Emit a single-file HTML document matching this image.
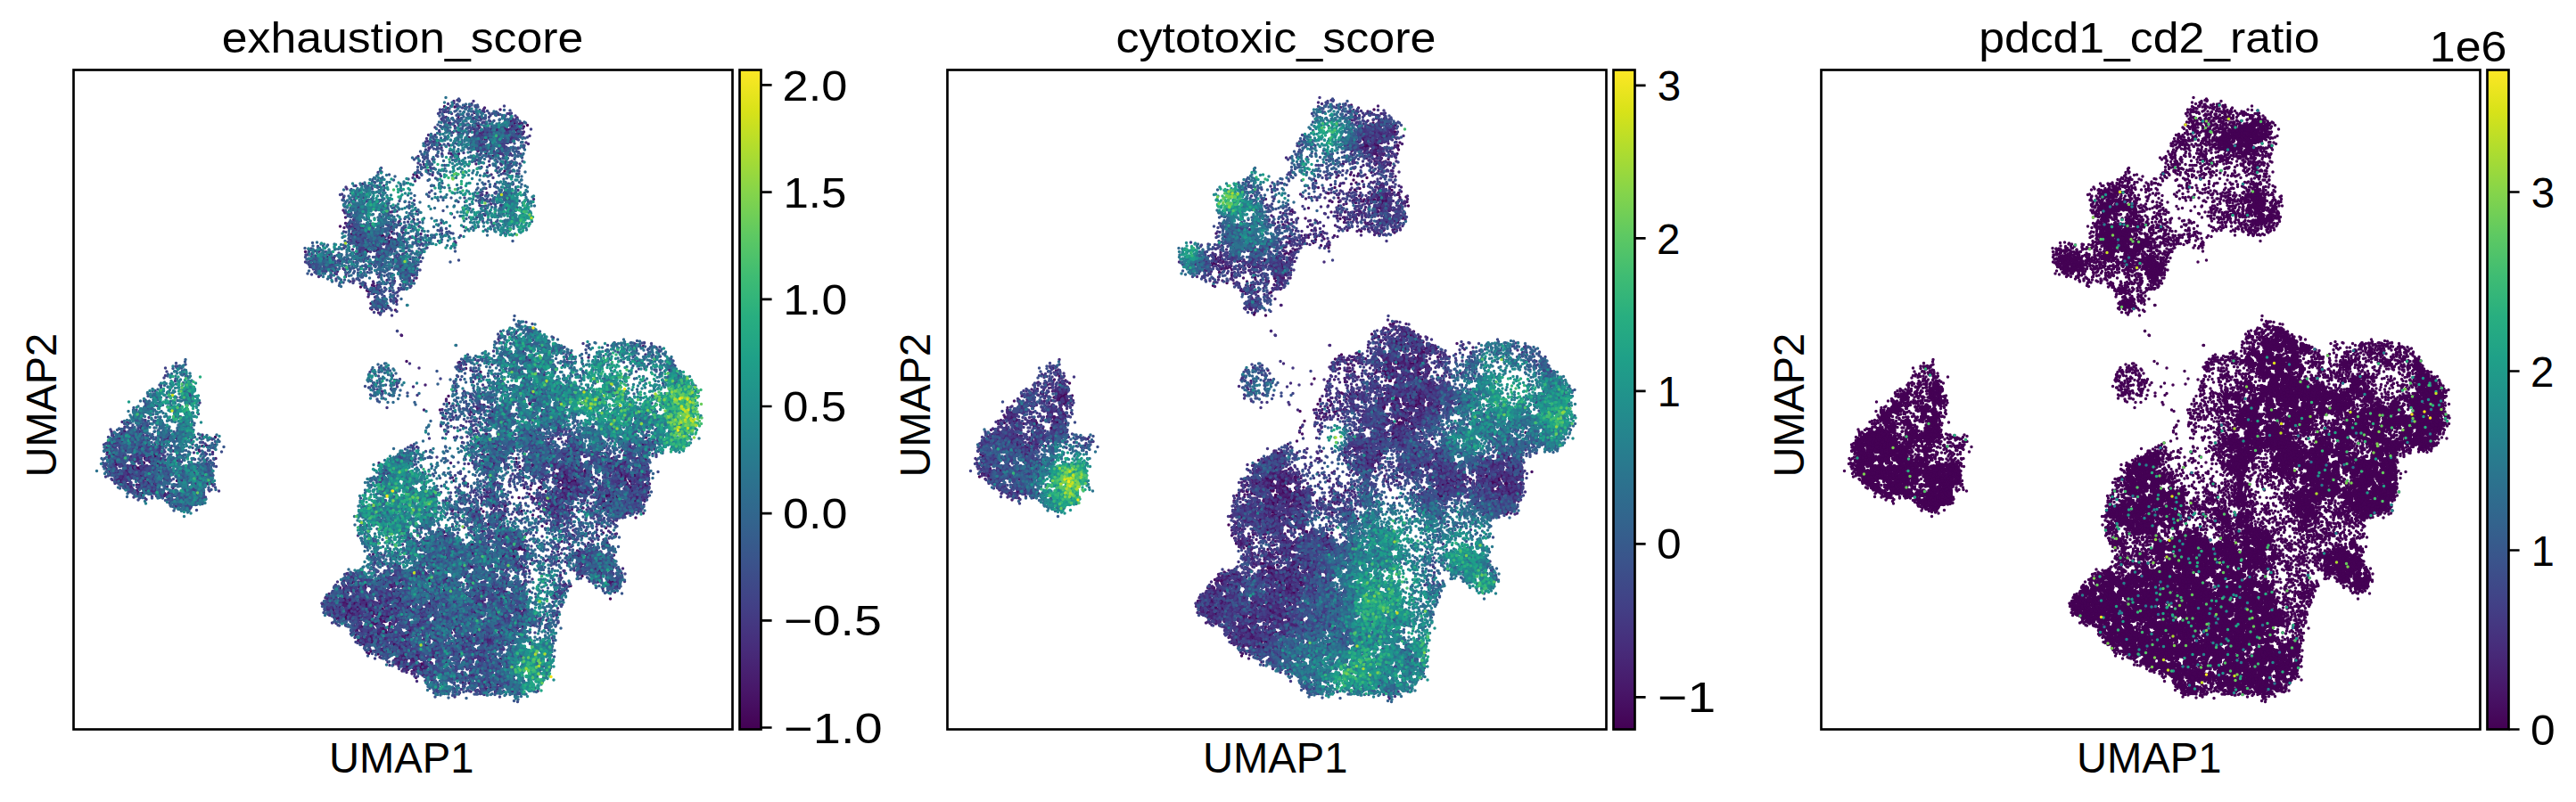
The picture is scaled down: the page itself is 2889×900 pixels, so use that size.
<!DOCTYPE html><html><head><meta charset="utf-8"><title>UMAP</title><style>html,body{margin:0;padding:0;background:#fff}svg{display:block}text{font-family:"Liberation Sans",sans-serif;font-size:47.5px;fill:#000}</style></head><body>
<svg width="2889" height="900" viewBox="0 0 2889 900">
<defs><linearGradient id="vg" x1="0" y1="0" x2="0" y2="1"><stop offset="0.0000" stop-color="#fde725"/><stop offset="0.0625" stop-color="#d8e219"/><stop offset="0.1250" stop-color="#addc30"/><stop offset="0.1875" stop-color="#84d44b"/><stop offset="0.2500" stop-color="#5ec962"/><stop offset="0.3125" stop-color="#3fbc73"/><stop offset="0.3750" stop-color="#28ae80"/><stop offset="0.4375" stop-color="#1fa088"/><stop offset="0.5000" stop-color="#21918c"/><stop offset="0.5625" stop-color="#26828e"/><stop offset="0.6250" stop-color="#2c728e"/><stop offset="0.6875" stop-color="#33638d"/><stop offset="0.7500" stop-color="#3b528b"/><stop offset="0.8125" stop-color="#424086"/><stop offset="0.8750" stop-color="#472d7b"/><stop offset="0.9375" stop-color="#48186a"/><stop offset="1.0000" stop-color="#440154"/></linearGradient></defs>
<rect width="2889" height="900" fill="#fff"/>
<g transform="translate(0 0)">
<rect x="82.5" y="78.5" width="739" height="740" fill="none" stroke="#000" stroke-width="2.67"/>
<rect x="829.5" y="78.5" width="24" height="740" fill="url(#vg)" stroke="#000" stroke-width="2.67"/>
<path d="M853.5 95.4h12.1M853.5 215.6h12.1M853.5 335.8h12.1M853.5 456.0h12.1M853.5 576.1h12.1M853.5 696.3h12.1M853.5 816.5h12.1" stroke="#000" stroke-width="2.67" fill="none"/>
</g>
<g transform="translate(980 0)">
<rect x="82.5" y="78.5" width="739" height="740" fill="none" stroke="#000" stroke-width="2.67"/>
<rect x="829.5" y="78.5" width="24" height="740" fill="url(#vg)" stroke="#000" stroke-width="2.67"/>
<path d="M853.5 95.9h12.1M853.5 267.4h12.1M853.5 438.9h12.1M853.5 610.3h12.1M853.5 782.3h12.1" stroke="#000" stroke-width="2.67" fill="none"/>
</g>
<g transform="translate(1960 0)">
<rect x="82.5" y="78.5" width="739" height="740" fill="none" stroke="#000" stroke-width="2.67"/>
<rect x="829.5" y="78.5" width="24" height="740" fill="url(#vg)" stroke="#000" stroke-width="2.67"/>
<path d="M853.5 215.5h12.1M853.5 416.5h12.1M853.5 617.5h12.1M853.5 818.5h12.1" stroke="#000" stroke-width="2.67" fill="none"/>
</g>
<defs><clipPath id="pc"><rect x="84" y="80" width="736" height="737"/></clipPath>
<path id="ad0" d="M797 515zm92 34zm-43 12zm12-31zm6 10zm9 3zm30 79zm-571 367zm-77 32zm5 21zm41-7zm11 16zm-5 0zm-8-1zm0-3zm-7 6zm-19 25zm-8-19zm20 29zm34 20zm27-5zm-14-19zm-9-35zm25-25zm7 16zm617 433zm-7 38zm-50-14zm-19-4zm6-18zm22 1zm5 6zm14 13zm-6-1zm9-3zm0 9zm7-1zm-13-29zm-31-47zm61-7zm6 20zm-3-92zm25-17zm5-27zm-40 3zm-8-15zm-16-1zm-34 31zm-7 28zm47 20zm14 5zm-81 8zm-7 6zm-7 9zm-21 6zm-4-24zm14 12zm4-4zm0-17zm-3 5zm-7 1zm-12-1zm3-9zm16-7zm19-6zm14 15zm-2-38zm6 0zm-27-21zm-17-3zm-40 15zm-18-11zm-4 8zm3 2zm7 3zm-16 11zm-6 14zm5 9zm5 17zm6 4zm5-21zm-2 1zm-8-9zm26-1zm8 1zm3 10zm9 14zm-15 0zm-12-8zm-1 26zm7 3zm21 2zm-21 13zm-22-17zm-11-3zm2-8zm-3 10zm21 21zm35 21zm-14 1zm-5-1zm-9-22zm31 5zm15 9zm1-3zm10-8zm5 9zm19 26zm10 7zm-32 13zm-29-25zm59 35zm-131-113zm-14 5zm-5-3zm227-112zm5 21zm29-26zm95-219zm0 9zm-40 183zm92 12zm-4-18zm18 16zm2-2zm-14 12zm1 8zm9 6zm100-98zm-7-21zm24-19zm-3-18zm1-5zm-4-1zm-9 4zm2 0zm-15-1zm11 19zm-12 4zm-10-15zm-7 39zm-23-81zm18-26zm14-5zm0 21zm16 17zm-7 12zm12-8zm6 0zm-4 8zm11 1zm-9-16zm2-8zm44-1zm-2 11zm-23 3zm2 9zm-8 3zm0 5zm-1 15zm21 0zm39 24zm23-17zm-4 3zm-6 13zm-2 9zm3 6zm16-2zm-2-13zm15-11zm-7 2zm6-22zm18-22zm5-10zm-12-1zm0 3zm-4 20zm-31-59zm20 20zm30 16zm4 9zm1 8zm12-2zm7-2zm-7-9zm-2 1zm11 24zm-4 8zm-13 2zm4-12zm-7 5zm1 28zm-48 182zm7 2zm-205 73zm-46-29zm11-8zm-39-52zm8 27zm11 19zm-43 7zm-6-3zm6-18zm12 5zm-39 7zm22 19zm-30 43zm1 35zm17 31zm11-38zm32 0zm28-8zm-3 64zm-66 35zm-26-37zm70 63zm342-545zm-150 15zm-59 10zm-4-23zm-42-26zm6 33zm11 10zm-99-92zm-17-611zm66-37zm3 16z"/>
<path id="as0" d="M997 239zm23 1zm-24 11zm20 46zm-26 35zm-3-7zm-51 72zm-1-3zm-7 99zm-53 16zm-92-2zm-34 71zm39-52zm11 25zm80-30zm-8 7zm7 6zm13 209zm-45-86zm-12 37zm-7-40zm-4-2zm-14-8zm198 261zm-524 93zm-20 2zm-9 1zm29-20zm-37 28zm-167-41zm-38 48zm-2 27zm67 35zm-6 22zm629 405zm-54-106zm-77 27zm10 18zm19 23zm43-59zm3 6zm-25 54zm-16-6zm-109-107zm30 34zm262-245zm3-65zm26 7zm99 2zm-10 48zm-49 12zm21 58zm-8 4zm83-11zm-2 36zm45-81zm2-51zm-17 39zm-38 5zm-6-30zm34 2zm11-24zm4-2zm-39-21zm-9-9zm1-16zm-8-10zm0-8zm84 45zm86-2zm-17 51zm143-18zm-170 47zm-4 15zm26 126zm-26 22zm89 29zm-180 98zm-152 90zm74 21zm338-571zm-174 10zm-45-8zm-152-149zm-33-8zm-13 2zm-1-16zm133-83zm-32-346zm-27-33zm-53-42zm-24-44zm91-8zm64 24zm-23 31z"/>
<path id="ad1" d="M812 535zm-3-7zm-5 19zm20 16zm-18 9zm65-58zm-14 171zm-513 334zm-30-13zm-10-9zm-53 51zm57-23zm7 4zm3 32zm-2 9zm-43 14zm13-22zm-19 12zm0 9zm47 6zm15 12zm39 7zm-10-47zm-15 26zm-21-48zm4-10zm90 36zm537 450zm-42-18zm-12-9zm8-7zm-9-1zm8-7zm25 22zm19-2zm1 2zm3 1zm3-47zm-25 21zm-6-7zm-19 4zm2-16zm-13-1zm26-4zm-7-21zm-1 5zm-10-3zm13-14zm2 2zm34 18zm40-55zm-31-21zm2-2zm15-40zm-7 26zm-20-55zm-56 16zm0 32zm0 9zm5 13zm15 8zm33 21zm-17 21zm-7 0zm-33-22zm-5 4zm-19-2zm-13 8zm-21 5zm6 0zm21-15zm-28-26zm35-10zm-3 15zm13 4zm17-14zm-6-9zm-10-28zm7-7zm-32-5zm8-14zm-11 5zm-16 18zm-2 24zm-52-16zm18-5zm-25 22zm-2 14zm10 21zm8-7zm-3-2zm7 4zm-2-10zm15 0zm0-4zm14-2zm1 11zm-15 3zm-6 4zm1 0zm5 10zm1 7zm10-5zm6 24zm-35-14zm-2-16zm1 9zm35 49zm-18-1zm-5-17zm11-8zm16 13zm6 11zm1 7zm10-9zm7-13zm3-9zm3 3zm17 10zm7-2zm-12 32zm21-3zm-14 10zm-24 0zm43 29zm-136-100zm6-14zm-19-12zm16-41zm125-70zm134-5zm-12-17zm-14-34zm1 11zm-74-172zm168 16zm19-9zm-2 47zm1 47zm-41 16zm-18-2zm8 124zm23-12zm-19-18zm68 6zm-5 15zm5-22zm19-14zm-32-65zm37 35zm3 11zm16 24zm63-77zm7-3zm12 7zm-5-21zm12 3zm-11-12zm21-16zm-2-7zm-32 4zm3 25zm-6 0zm3 7zm5 2zm-47-100zm37-16zm13 44zm18-12zm-14 5zm11 12zm4 7zm9-5zm4-35zm-20 9zm17-29zm17 5zm-9 18zm13-2zm-7-1zm36 0zm0 16zm-28 3zm-4 7zm-5 13zm-1-3zm10 9zm1 0zm15 15zm5 3zm12-7zm12 0zm34 3zm-8 9zm39 39zm0-65zm-1-2zm-3-5zm0-11zm-9 2zm-9 7zm-16-26zm1-9zm-3-2zm7-3zm12-1zm18-1zm15 50zm30-53zm0 56zm-2 2zm-6 7zm-1 20zm-9-3zm-6 11zm-76 132zm-65-55zm42 62zm-28-16zm15 35zm26 5zm34 29zm-3-9zm-24-26zm-185 84zm14 10zm-43 19zm13-44zm-14-25zm-44 6zm-21-7zm16 27zm-15 22zm-35 94zm41-6zm9-18zm5-6zm2 91zm-53-15zm57 33zm23-3zm172-550zm-66 2zm55-12zm-87-78zm1 73zm-99-4zm89-172zm-4 46zm26 20zm-119-574zm-7 6zm67-9zm4-19z"/>
<path id="as1" d="M1005 243zm-45 140zm-32 9zm-32 105zm-125-55zm10 60zm-18 6zm-18 100zm-37 2zm-23-45zm89 40zm99-88zm-1 16zm91 11zm-29 80zm-8-6zm1 12zm-26 123zm-14-57zm-48-54zm-4-2zm-3 41zm80 130zm94 78zm-19 31zm14-24zm-8 42zm-708 11zm32 164zm-10-12zm71 5zm-6 6zm25-33zm65-45zm13 51zm-87 10zm578 392zm-33 34zm-26-21zm-21-93zm-2-9zm5-3zm-14 6zm-2 5zm-96-118zm40 158zm-14-7zm62-24zm8-3zm135-286zm132-76zm3 30zm-51 24zm-2 11zm5 0zm41 18zm-16 3zm-8 7zm-26-44zm-52 19zm61 59zm34-20zm66-1zm13 4zm6 5zm-48 103zm5 3zm-2 0zm91-56zm-44-34zm10-6zm52-23zm-2-6zm-53-27zm-47-24zm15-5zm-4 19zm5 6zm91 24zm55-2zm34-108zm74 93zm-20 40zm-73 34zm6-11zm-19 20zm-20-8zm-34-7zm9 46zm4 2zm-73 154zm32-34zm12-36zm-3-12zm-79 17zm-15-14zm37 77zm233-613zm-123 25zm76 207zm-176-30zm-126 42zm-11-1zm-8-9zm-39-29zm27-53zm-4-5zm12-7zm-38-97zm112-454zm-44-46zm-11 25zm-61 0zm35-55zm-5-22zm10 12zm4 1zm102 3zm-111-31zm-22-16z"/>
<path id="ad2" d="M852 509zm-89 76zm-29-7zm-9 2zm74-38zm28 12zm-6 7zm-11 11zm74 12zm2-45zm11 37zm-502 406zm-36 14zm16-13zm-10 5zm-82 22zm-12-36zm44-4zm3-9zm0-3zm-63 40zm-2 3zm-6 57zm-1-30zm12 11zm20 5zm7 11zm0-5zm30-12zm-26 25zm8 3zm-22 9zm12-6zm-11 0zm-11-7zm-5-2zm0 11zm3 5zm30 14zm29 7zm27-6zm26-25zm-25 15zm-16-10zm-2-10zm-2-29zm5-7zm2 11zm24-6zm37 2zm68 53zm-47 47zm562 420zm19-67zm-33-12zm-7 21zm6 12zm3 20zm-23-19zm3 8zm-41-27zm2-1zm1-7zm-8-1zm21 2zm16-8zm0 4zm-8 20zm7-3zm16 6zm-20-38zm-14-2zm-20 10zm-4 0zm2-16zm13-14zm9-7zm-23-2zm8-3zm3 3zm26-7zm15 1zm-3-11zm18 17zm9 36zm3-7zm4 10zm-2-19zm24 20zm17-6zm-4-6zm-11-46zm18 5zm-3-5zm-20-23zm-5 15zm-19-13zm-6-13zm21-19zm-11 0zm-2-8zm26-1zm-12 6zm6-36zm24-21zm-22 3zm-28 13zm3 18zm-29-15zm-31 42zm10-13zm26 7zm-10 17zm2 11zm11 0zm-10 10zm8 2zm-15 7zm-17 3zm-16-29zm-2 19zm8 6zm-21-24zm-31 27zm-2-9zm-7 4zm-14-16zm10-5zm8 7zm-1-38zm3 7zm12-9zm3 15zm23-20zm-12-9zm-1 12zm-5 0zm-10-11zm14 1zm-5-20zm11 0zm-1-20zm-27 45zm-3 0zm-4 3zm-18-11zm-27 2zm0-6zm14-14zm0 6zm-10-7zm-14-14zm-24 17zm4 2zm-3 6zm0 6zm5 22zm-3 7zm0 3zm2 3zm23 5zm-3-8zm-11-16zm16 8zm9-5zm16 6zm5 14zm-4 1zm-7 5zm-19 3zm-1 1zm10 6zm-1-6zm-13 1zm-4 2zm-23-1zm50 62zm6-2zm-7-3zm-7-4zm2-16zm0 3zm7-1zm18-5zm-3 12zm18-1zm-3 11zm13-2zm-12-12zm41 17zm-27 13zm11 17zm3-5zm-13-2zm-8-4zm1 2zm-10-19zm45 34zm-6 6zm-137-102zm5-1zm8-5zm-9-12zm-19 8zm6-5zm-6-19zm15 3zm15 11zm0-8zm103-288zm59 215zm9-3zm52-56zm-7 36zm21 1zm-5-17zm-2-5zm4-29zm87-157zm21 35zm-6 23zm-46 40zm7 14zm21 33zm-34 73zm32-23zm-11 0zm-6-13zm36 47zm24-21zm2 23zm2-74zm-10 0zm-3-35zm-7-8zm13 7zm2 13zm38 29zm-6 21zm5-10zm17 21zm-21-9zm2 27zm-2 7zm122-60zm-30-52zm1 22zm9-8zm-1-23zm-10-22zm19-4zm6-1zm-2-11zm-4 0zm2-11zm-9 5zm-10-9zm2 7zm11 4zm-20 0zm3 7zm-12 12zm6 10zm-4 0zm9 5zm-53-79zm-6-26zm58 9zm3 26zm8-4zm-5 8zm3 6zm15-5zm11 4zm-1-11zm-6 3zm3 1zm-10-1zm23-44zm-1 9zm10 15zm42-4zm-27 18zm11 2zm-27 11zm13-8zm-17-8zm-8-2zm11 27zm-1 17zm-6-13zm9 22zm11-5zm-15-2zm-8 0zm-5 17zm63-4zm-28-11zm-2-6zm52 46zm11-39zm20-51zm-6 3zm0 18zm-8 5zm-15-15zm2-31zm14-2zm-4 18zm8-4zm3 5zm3-10zm9-2zm7-11zm9-3zm12 3zm-9 15zm-13 23zm26 18zm1-26zm16-4zm-8 9zm1 7zm-4-25zm8-3zm-7 77zm10-30zm-9 0zm2 17zm-15 11zm5-21zm-15 13zm-9 9zm21 7zm-8 14zm-62 77zm-45 25zm3 7zm17 27zm-32-3zm1-9zm-1-15zm-19-2zm42 37zm14 20zm45 11zm-21-10zm-17-19zm-188 122zm88-30zm-8 3zm3-45zm-82 33zm5 0zm10-1zm-2 38zm-16-28zm-5 13zm-21-5zm-29-43zm22 0zm18 15zm-19-16zm14-33zm-9-11zm-38 28zm5-2zm17-6zm4 3zm-9-1zm-12 9zm-14 8zm-13-14zm-27 17zm-13 30zm49-25zm4 0zm-5 25zm-19 18zm-7-10zm-26 11zm24 49zm-23 7zm3-2zm10 9zm-13 7zm16 5zm8 2zm5-17zm-9 1zm10-11zm2 21zm16 8zm5-2zm17-47zm-2 17zm7-1zm0-5zm4-3zm3 5zm35-22zm-20 17zm-3 12zm0 8zm-25-7zm-2 11zm-4 29zm6 17zm7 4zm10-2zm26-26zm-23 61zm-27-22zm8 18zm6 4zm-14 0zm-25-16zm11-22zm13-19zm-7-1zm-4 5zm-10-7zm-23 20zm1-11zm392-463zm-10-25zm-72-2zm-10 20zm-35-38zm-1 26zm-36 15zm5-5zm0-7zm-4 2zm-27 5zm-14-111zm2 49zm-33-52zm13 81zm-5 11zm-119-13zm22 32zm-28-8zm3-5zm12-58zm34 11zm56-142zm-27 30zm-21-391zm-24-100zm-15-55zm-5 18zm18-18zm18-3zm3 23zm11 1zm2-2zm-11-18zm11-9zm0-15z"/>
<path id="as2" d="M1009 276zm11 7zm-13-6zm-45 55zm46-6zm4 19zm-81 61zm-54 70zm-64-63zm-43 59zm3 4zm18 26zm-16-14zm0 13zm-3 10zm-15 98zm-65-50zm16 4zm4 4zm63 54zm17 10zm41-39zm5 44zm39-19zm55-82zm12-10zm78 20zm-94 39zm-28 168zm-30-65zm8-13zm11 3zm-38-25zm-5-11zm-8 18zm11 43zm-23-36zm16 175zm33 46zm79-23zm-3 56zm65-11zm-90 96zm-449 10zm-1-29zm-29 27zm-59-1zm-119-49zm91-99zm-50 241zm-3-17zm3 8zm3 1zm60 13zm-5 3zm-41-37zm157-47zm-7 29zm535 437zm-110 11zm9-1zm13 7zm0-5zm-9-4zm-11 0zm30 0zm79-83zm-43-133zm-90 106zm-57 71zm18-3zm29 25zm12 6zm-144-159zm-8 9zm125-98zm-18 0zm99-54zm16 18zm30-15zm32-45zm-14-25zm15-51zm-4-33zm30 41zm8 6zm87 62zm-4 0zm-30-7zm-23 1zm-9-1zm-14-11zm24-14zm-26-3zm-22 8zm-4 29zm58 14zm-7 5zm17 54zm-4-35zm27-11zm-27-21zm40 7zm32-9zm11 117zm15-6zm-6-24zm69 18zm24-38zm-56-92zm3 12zm3 1zm-22-14zm-45 22zm30-52zm4 19zm14 2zm6-36zm-3-3zm-18 4zm-27-29zm50 20zm4 3zm-3 7zm23-19zm99 10zm-46 45zm-10 23zm25-4zm-3-1zm38 0zm114-53zm-24 62zm10 4zm-66 94zm3-47zm-14 9zm-23-32zm-56-18zm20 44zm7 25zm6-8zm-32 61zm91 49zm-27-8zm-94 21zm5-28zm13 2zm-9-30zm-10 5zm-80 14zm0-12zm-35-1zm-94 18zm99 141zm-95 82zm4 19zm412-544zm-20-212zm-68 202zm-11 19zm-19-8zm-97-24zm26-8zm-219 31zm2-40zm12-20zm2-9zm-37 18zm15-26zm1-6zm6-92zm-19-20zm62 5zm169-12zm-180-419zm-1 46zm56-71zm-80 6zm4-29zm-2-44zm6-9zm3-19zm81-3zm-1 3zm7 13zm-1-2zm2-3zm5 2zm-7 25zm-2-3zm-1 34zm-20-78zm-20-9zm-35-4z"/>
<path id="ad3" d="M804 465zm9 46zm-4-2zm-63 82zm47-72zm23 23zm-16-14zm5 28zm3 5zm-2 6zm-4 4zm-2 10zm81 4zm-4-26zm-7-12zm-1 22zm-17 6zm-5-18zm-5-4zm-6-6zm24 0zm-17-25zm53 15zm17 70zm-5-4zm6 27zm-71 18zm-7 3zm15 26zm-452 342zm-42-4zm2-10zm-1-5zm8-5zm15-15zm-46 25zm-4-7zm16 14zm-6 11zm-19-1zm-3-1zm-11-1zm5-17zm-7-2zm-31 21zm-17-26zm16-4zm-6-8zm24 4zm124-100zm-170 106zm7 10zm-12 1zm6 14zm-2 6zm17-1zm6 1zm-10 7zm7 9zm8 3zm29-15zm-6-4zm12 3zm3 3zm-4 2zm9 15zm-13-1zm-12 21zm10-2zm-1-9zm16-1zm-8 13zm-13 3zm-3 15zm-8-9zm-5-22zm-12 13zm4-2zm0 6zm17 26zm7-3zm31-5zm18 3zm3 7zm-5 2zm-2-2zm0-5zm18 5zm21-43zm-6 3zm-9 8zm1 3zm-20 5zm-21 7zm-3-4zm16-23zm7 0zm0-17zm1 5zm-19 3zm9-16zm21 12zm2 7zm49 27zm4-21zm30 50zm-28 5zm-18 24zm623 371zm-37-22zm-7 31zm-7 4zm-11-6zm-13-10zm-20-16zm-24-6zm4 0zm14-7zm10 12zm4-7zm-3 19zm24-13zm-18-41zm-25 20zm-8-9zm2-12zm-4-2zm9 5zm-10-28zm23 1zm5-4zm-4-7zm26 29zm7-20zm20-4zm7 13zm-5 11zm-6 27zm-1-4zm0-3zm3 1zm9 0zm0-18zm41-35zm-8-3zm8-27zm-16 13zm-14-7zm5 4zm-26-22zm7-14zm1 8zm21-3zm1 6zm16-11zm-20-21zm13-11zm-15-14zm-15-5zm2-18zm1 33zm4-2zm-23 23zm-6-4zm-17 12zm6-46zm6-10zm-16-7zm-4 13zm0 17zm-14-5zm5-13zm-28-8zm5 16zm17 17zm-3 19zm-10 15zm-9 3zm15 19zm8-3zm6 2zm-8-16zm40 17zm-14 0zm2 1zm8 9zm-10 13zm11-4zm-13 15zm-25-6zm-16-18zm9 21zm-43-26zm-2 12zm-11 10zm9-14zm-7-9zm6 0zm-28-15zm12 2zm-9-13zm-4-4zm21-3zm4 11zm-2-1zm13 2zm-5-4zm4 19zm7 3zm-2-10zm12 11zm10-6zm-2-9zm-5-5zm3 4zm-11-19zm-9 1zm-2-15zm13-13zm3 2zm-18-23zm-7 18zm-22 17zm5-5zm-1 3zm12-4zm-5 2zm8 5zm-40-6zm2-16zm2-7zm-10 7zm-15-1zm-10-9zm4-2zm-18 30zm27 3zm-10-1zm-2-5zm6 19zm-11 19zm-6 12zm17-5zm19-13zm-4-4zm13 0zm-4 3zm0 3zm10 9zm-25 13zm22 8zm-1 0zm-22 15zm6 4zm-11 3zm-3-16zm-6-7zm-15-6zm39 63zm18 17zm1-17zm-3-11zm-5 1zm1 7zm-14-6zm-4-10zm-2-13zm23 6zm11 13zm10 9zm4 1zm9-20zm-3 2zm-8-3zm4-4zm-4-3zm22 10zm18 10zm2 6zm-8-2zm-1 2zm-14-4zm3 1zm8 8zm8 14zm1 11zm-18-8zm-11-12zm-13 7zm-4-8zm48 43zm5 6zm-160-131zm5 17zm9-4zm15 10zm2-3zm-26-13zm17-19zm7 1zm-2-6zm-9-6zm-10 2zm118-281zm-26 159zm5 33zm48 13zm71-53zm-40-6zm-15-13zm54 68zm-14-29zm8-7zm37-4zm-21 18zm6 15zm3 0zm41 22zm-10-42zm13-4zm-24-23zm87-173zm16 17zm14-25zm18 3zm-25 82zm1 3zm12 32zm-9-25zm-37 25zm-13 4zm1 11zm12-5zm2 0zm-2 8zm11 31zm-60 41zm2 14zm22 4zm14-10zm11-19zm19 6zm-3 12zm6 11zm10 23zm5 0zm13-8zm27-16zm-3-3zm-9-15zm-8 7zm2-23zm14 1zm-3-15zm-9-7zm-33-25zm21-13zm46 39zm-11-5zm10 29zm-8 8zm2 39zm9-19zm67-100zm3 0zm15 0zm-6 11zm1 11zm1 9zm13-6zm1-32zm-18-4zm25-14zm6-14zm-14 3zm6-10zm6-17zm-6 0zm-14 14zm6-15zm-8 2zm0-2zm4 20zm-2 6zm-2 5zm-8-15zm-18 12zm4 13zm10 10zm-42-72zm14-13zm6-23zm-2 8zm20 4zm7 5zm-26-8zm-2 3zm51 39zm1-21zm2-5zm0 7zm5-8zm-5-7zm-4-2zm0 5zm-8-1zm-11-8zm8 2zm6 1zm3-13zm7 3zm9 5zm-2 10zm9 3zm14-12zm-2 5zm11-22zm25 0zm-41 60zm8-25zm-7 2zm-14-5zm5 28zm-5 1zm-2 6zm1 3zm10 4zm4-3zm14-2zm-10 6zm-2 6zm-4 5zm-11 6zm44 30zm11-32zm-12-9zm-4-6zm-4-3zm27-2zm9-3zm8 16zm3-2zm8 7zm-25 15zm5-7zm0 1zm16 16zm15 7zm8-11zm10-7zm2-19zm-24-10zm7-2zm17-3zm0-29zm-4-6zm1 4zm-2 4zm-13-8zm-7 8zm4 20zm-12-7zm-6-20zm-21-17zm5 0zm6 6zm-5-11zm0-6zm1-4zm30 6zm3 20zm14-12zm-3-2zm39-6zm4 10zm-5 12zm-23 8zm13-6zm-12 13zm12 11zm7-8zm23-10zm-4 4zm3-2zm1 3zm-3-18zm-1-14zm-6 3zm1 77zm-6-20zm-8-7zm-19 3zm8 23zm-2 3zm17 16zm-6 8zm-15-2zm-45 129zm-22 0zm7-41zm12-3zm25-71zm-46 5zm-45 87zm14 12zm28 2zm-26 19zm-15-10zm33 16zm38 30zm13-7zm-135 35zm-86-16zm-5 5zm-5 17zm0 16zm1 8zm7-1zm0-11zm14-3zm-7-4zm1 25zm1 4zm-8 12zm-30-13zm-5 4zm-7 17zm-27-10zm22-13zm-3-6zm-10-17zm29 0zm-10-3zm15 22zm12-1zm-4-24zm5-16zm-13-4zm-3 6zm-11-4zm5-3zm0-16zm8 2zm2-9zm-10 3zm-20-26zm11 50zm-48 1zm16-14zm-4-2zm-10-19zm-12-8zm-16-1zm-1 4zm24 54zm4-1zm1 19zm-13 8zm22 31zm-32-28zm-25 15zm15 18zm4 18zm12 3zm-7 3zm-9 21zm24-14zm0 21zm4-1zm19-27zm-1-4zm-12 0zm-5 6zm1-2zm15-20zm6 18zm6-1zm24-12zm31-9zm-1 5zm-17 24zm-2-4zm5 10zm7-4zm-20 15zm-18 14zm-1-26zm-8 7zm2-8zm-3 5zm-7 13zm7-2zm2 19zm12 16zm29 2zm-18-6zm11 42zm-13-6zm-12-8zm-48 6zm6-11zm12-8zm1-29zm-4-2zm-13 5zm11 9zm-10 14zm-25 22zm51 16zm-2 4zm33 0zm6-5zm25 13zm307-544zm9-15zm-22 10zm1 4zm-2 16zm-33-3zm6-4zm0-9zm-2-6zm86-173zm-94 184zm-2 6zm-2 4zm-73-7zm-33-27zm-8 12zm4 5zm9 2zm8 7zm-19-2zm-8 0zm-14 8zm-11-3zm5 0zm-27-2zm-15-19zm28-25zm8-14zm-3 2zm2-49zm-37 12zm-2 12zm-44 43zm0 10zm4-22zm15 2zm17 2zm-7 0zm-6 20zm-1-9zm0 23zm13 3zm-84-1zm9-36zm-37 27zm16 1zm9 3zm-47-8zm13-82zm-8-1zm42 35zm27-13zm-67-45zm103-12zm9 7zm-57-434zm-4-115zm-2-10zm-28 11zm2-2zm-34 1zm10-5zm-1-7zm8 7zm-7-12zm-3-5zm5-7zm1-6zm-52 0zm63-1zm58 15zm-8-14zm-1-3zm14-10zm1 21z"/>
<path id="as3" d="M1018 227zm-12 23zm-47 67zm32-30zm10-24zm9 35zm-32 20zm-17-15zm12 15zm-1 6zm-9 9zm53 15zm-53 15zm10 15zm-22-9zm-13-18zm7 40zm25 0zm0 2zm20 107zm-50 8zm-5-34zm-11 10zm-17 24zm-26 1zm9-35zm-112-50zm20-7zm-24 61zm14 30zm0 1zm5-16zm-9-12zm-6 26zm-27 108zm-36 6zm-12-29zm10-39zm3 11zm23 7zm45-59zm7 48zm-21 43zm15 29zm34 5zm27-22zm-9 17zm15-19zm16 16zm17 2zm7-27zm-19-77zm18-2zm13-2zm16 9zm-24-4zm63 1zm-16 9zm-2 39zm-75 116zm-2-4zm26-15zm-33 21zm-26-3zm-3-32zm2-7zm-10-11zm-2 0zm39 236zm28-25zm55-27zm82 40zm1 11zm-96-9zm74 32zm-9 19zm9 9zm16 9zm-6 6zm-6 15zm-16-2zm8 9zm22-5zm-84 43zm-13-3zm-468-21zm-88 43zm-2-21zm-24-19zm-29-22zm-23-9zm-8 7zm-6-11zm-24 22zm5 12zm-19 23zm4 15zm12 58zm-8-11zm-7-15zm33 38zm39 21zm42 3zm-10 2zm38 3zm-4-26zm2-13zm-50-6zm137-42zm8 44zm-15 29zm-54 39zm617 421zm-12-13zm8-52zm-86 14zm5 16zm-23-20zm0-7zm-22-107zm-62-111zm-57 19zm40 143zm7 5zm36 25zm-2-1zm36 15zm-134-91zm-16-63zm112-297zm-9 225zm17-1zm28 5zm61-84zm-51 87zm119-89zm2-28zm-99-111zm10 0zm123-2zm-18 22zm43-25zm57-5zm17 31zm-29 22zm-20 15zm-7 0zm3 6zm46-19zm-11 56zm-11-8zm-14 14zm1-4zm-38-13zm1-9zm9 6zm1-6zm5-10zm-6 5zm-15-19zm4 11zm-20-19zm-3 31zm-2 0zm10 6zm-29 46zm39 26zm-23-17zm66 21zm-4 10zm-2-9zm11-28zm-12-23zm31 25zm46 94zm32 3zm15-18zm5-3zm7 13zm9-8zm28 3zm-2-17zm-20-9zm3-10zm-2-6zm19 9zm3-39zm-32-15zm-1-15zm4-1zm30 12zm4-8zm-2-15zm1-4zm-2-7zm-2-3zm-4 5zm-2-6zm-50-25zm5 12zm2 11zm5-8zm-4-2zm3 25zm-33-25zm-30 27zm7-62zm31 29zm7 0zm4-19zm-16-27zm-35 2zm-9-2zm20-1zm1-41zm47 38zm-4 14zm6-9zm17-11zm67 67zm-4 0zm13 0zm1 20zm-3-4zm32 0zm98-19zm6-24zm-2 16zm-12 29zm-24 7zm-17 123zm-14-78zm18-43zm-20 12zm-17 13zm11-9zm-4-10zm-21 20zm19 14zm-4-3zm-22 12zm-4-3zm-10 14zm-5-7zm-10-17zm25-15zm-1-22zm-34 19zm-19-16zm0 24zm6 7zm-7 37zm22-6zm25 4zm-10 10zm-25 52zm8 2zm97 18zm-149 92zm-14-6zm25-60zm7-18zm-6-32zm-7 20zm-16 1zm-54-21zm-10 9zm37 98zm-3 3zm-12 13zm-156 129zm-16-9zm9 23zm-7 11zm57 1zm-17-6zm60-1zm77-1zm266-771zm-27 26zm17-7zm-17-29zm-10 90zm-41 152zm-34 4zm-120-35zm-3 4zm33 5zm8-24zm-113 16zm-12 30zm-4 6zm-53-6zm-12-3zm-47-16zm17-29zm16 3zm-4-24zm-34-25zm26-3zm11-2zm6 4zm20 37zm-8-84zm-31 16zm-1 5zm6-34zm21-10zm-8-27zm-18 11zm-17-2zm-11-15zm193 27zm20-83zm-121 9zm-2-6zm79-314zm-96 11zm-13 25zm-19 5zm8-39zm1-10zm24-47zm-12 31zm0 16zm22-5zm31-47zm2-42zm-37 24zm-10 2zm-18 4zm-8-83zm-17 3zm-5-17zm13-12zm4 12zm7 9zm13-1zm-11-23zm13 11zm84 14zm2 8zm-2 4zm-2 2zm-6-11zm-4 4zm19 25zm-12 26zm-2 22zm19-45zm-100-78z"/>
<path id="ad4" d="M816 443zm14 62zm-37 4zm-62 93zm2-18zm-25 1zm7 15zm11 8zm66-79zm7-6zm7-10zm19 7zm5 2zm-4 18zm-8-4zm-11-5zm6 25zm0 2zm2-3zm32 25zm9 15zm26-40zm-16-10zm5 17zm-9 6zm-6-7zm-9 13zm-12-21zm-3-2zm19-23zm-7 13zm-9 2zm42 0zm24 1zm-3 55zm0-3zm5-2zm-5 18zm-50 72zm-494 326zm5-16zm10-6zm-48-24zm3 5zm-3 9zm12 27zm8 3zm-13 4zm-7 8zm-4-19zm0-4zm0-4zm-19 12zm-2-5zm-2-7zm4 21zm0-2zm-21 2zm-17 8zm11-21zm-13 3zm5-6zm2-6zm0-15zm51 3zm-9-12zm7-19zm-70 46zm2 9zm2 4zm-1 27zm11 12zm2 5zm9-11zm17 5zm-11-9zm16-6zm0-3zm12 7zm13-11zm-4 15zm-6 15zm-12-8zm17 31zm1-4zm-20 0zm-17 7zm4-5zm3 2zm1-15zm-1 1zm-4-2zm-2 3zm-11 6zm18 23zm2 4zm4-6zm34 2zm12-5zm35-11zm-19 8zm-9-13zm-19-1zm-2-5zm23 3zm-4-20zm-17 4zm6-7zm16-14zm0 6zm20 6zm-5 0zm12 0zm8 4zm16 10zm9-2zm34 30zm-3-27zm8-6zm5-6zm17-4zm0 37zm-5 2zm-11 16zm-14 2zm-14 13zm-7 5zm-18 14zm623 417zm-2-2zm-1-1zm5-23zm-7 0zm6-26zm-17-22zm-6-3zm-6 5zm9 22zm-25-3zm12-11zm-4-10zm-23-1zm7 16zm-8 20zm1 3zm9 6zm-4 2zm-10-4zm-36-26zm-22-15zm43 16zm13 0zm3-15zm-8-25zm-19-3zm9 17zm-7-1zm-8-8zm-11 4zm3 9zm-8-5zm-4-19zm10 2zm3 4zm5-8zm-8-8zm12-26zm14-2zm9 16zm2 15zm-2-20zm10-8zm-3-1zm21 8zm2 5zm-18 15zm37 9zm-3 6zm6 3zm17 12zm1-13zm-6 0zm-4-3zm2-4zm2-7zm-21-21zm21-26zm7-16zm-15 7zm0 22zm-31-2zm-7 0zm0-2zm13-28zm-16-13zm17-9zm4-5zm9 0zm6 3zm-6 21zm23 3zm-6-42zm-15 9zm3-6zm18-19zm-3-13zm-17-7zm3 9zm-5 2zm-15 0zm4 17zm-1-2zm-3-3zm3 11zm-31 11zm-11-6zm9-13zm-8-32zm-4-5zm-4 1zm-22 15zm11-14zm-24-7zm13 34zm6 9zm-6 1zm-8 8zm2 25zm-10 1zm3 6zm7-3zm6-3zm5-8zm-3-2zm8-4zm7 3zm29 15zm-3 5zm-4 5zm-23 4zm0 3zm11-3zm12 16zm8-1zm-33 11zm-9-5zm-18-7zm4 14zm-6-2zm-3-13zm-6-11zm-3-2zm-9 2zm-42 14zm-2-4zm30-17zm-25-4zm-1-3zm10-11zm-4-1zm-1 3zm1 3zm19-1zm12-10zm-9 25zm9-4zm0-1zm11 4zm9 2zm-9-20zm10-8zm0-1zm-12-14zm-13 11zm-5-7zm11-6zm-8-2zm27-11zm-3-23zm-3-2zm-10-8zm-11 3zm0 11zm5-1zm7 3zm-23 10zm-22-6zm27 18zm-10 4zm0 8zm-17-2zm-5 7zm-8-7zm-5 7zm-5 5zm-11-8zm5-22zm10 5zm14-13zm-10-3zm-6-17zm-9 8zm0 14zm-10-4zm4-7zm-16 13zm-13 1zm25 32zm-16 1zm2 6zm0 2zm-4 14zm15-5zm-1-7zm24 6zm16-10zm-14 11zm11 1zm-17 14zm0-6zm-9 15zm3 7zm10-10zm13-4zm1 0zm-6 19zm-19 1zm-11 4zm7-23zm-17 0zm-9 16zm55 56zm-3-26zm-11 14zm-3-25zm-1-1zm21 2zm-3-3zm8-2zm4 11zm22 3zm12 12zm-5 5zm21 3zm-8 16zm5 3zm-37-6zm2 3zm3-17zm16 32zm14 9zm-118-87zm-6-18zm2-10zm-11-1zm-9-2zm-6-1zm7-11zm-3-2zm-4 0zm29-7zm-1-14zm-5-8zm-9 16zm116-284zm-13 27zm3-9zm1 6zm16 59zm-40 114zm122-76zm-40 32zm-19-12zm45 67zm-1 4zm6 9zm12-9zm-15-17zm8 4zm-14-26zm38-1zm13 15zm-16 23zm30 11zm-27-162zm-76-86zm203 1zm0 8zm-11 5zm1 14zm3-5zm2-5zm11 0zm16-17zm1 4zm-32 87zm14-29zm13 56zm-3-15zm-20 0zm3-11zm-43 40zm17-5zm-4 19zm-32 54zm-5-5zm-2 22zm18 26zm7-4zm6 6zm14-1zm6 1zm-12-43zm8-7zm3-3zm32 14zm-12 36zm4-20zm33 27zm7-20zm-3-8zm-1-7zm-9-24zm17-16zm-29-16zm11 16zm-6 12zm-34-10zm6-34zm56 31zm9 10zm-8 3zm8 7zm12 7zm-19 32zm0 8zm2 7zm94-90zm2-32zm1 12zm-7-4zm0 9zm23-8zm-5-8zm-13-10zm7-16zm-2 6zm-3-2zm-7-1zm27-28zm-5-1zm-18 13zm-2 0zm-11 2zm8-6zm-16 2zm9 15zm-9 12zm-17-76zm-13-4zm-16-33zm10-3zm-5 9zm39 0zm12 18zm-22 15zm39-9zm1 17zm7 5zm1 7zm10-12zm1-1zm-1-15zm-11-16zm1 12zm-12-15zm7-10zm7 10zm11-14zm14 1zm10 26zm19-14zm6-14zm-1 7zm15-3zm-6 10zm-7-1zm-5 29zm-6 11zm-14 8zm-6-10zm6-8zm-16-4zm-3 28zm25 17zm-23 11zm-5-12zm60 17zm-10-9zm-17-16zm2-8zm17 7zm9-9zm2 5zm4 6zm8-5zm3 0zm3 6zm-5 3zm-13 7zm-2 2zm11 7zm-6 10zm11 8zm6-1zm-2 11zm1-18zm4-9zm9 7zm10 10zm10 12zm9-9zm-17-35zm-7-16zm23 4zm-12-15zm3-18zm-11-5zm-9 2zm4 11zm0 9zm5 4zm-8-1zm-2 0zm-1 5zm0-8zm-12 6zm-9 0zm6-21zm9-3zm-7-16zm1 4zm3 3zm8-17zm32 12zm-2-1zm2-4zm13-15zm15 4zm-8 3zm3 18zm-7-5zm-6 28zm11 4zm11-10zm-3-1zm-6 0zm2-4zm24-3zm-13 9zm-2 13zm1-34zm10-5zm-8-16zm7 68zm-7-6zm-3 21zm7-2zm-5 10zm-7-2zm-9-8zm-1-19zm-1 5zm-5 2zm-5 4zm-1 6zm9 9zm-13 19zm21-11zm-18 18zm-58 135zm4-16zm0-9zm-12-4zm-19-93zm-40 49zm3 43zm48-10zm-11 7zm-2-8zm-3 4zm-5 12zm-4 2zm7 4zm4-8zm-23 19zm3-4zm-10 5zm4 14zm5-3zm8 2zm32 7zm45 23zm-8 7zm1-1zm-19-27zm18 17zm7-2zm-216 168zm-5-57zm74-36zm2-5zm17-40zm-2-5zm-104-13zm19 8zm-10 7zm0 33zm18 3zm8 26zm-1 1zm-15 0zm-8 1zm-1 9zm-22-7zm-2-7zm4-9zm-1 5zm-6 1zm-13 11zm-9 3zm-5 1zm-13 1zm5-17zm17-22zm-7 0zm-22-5zm15-15zm1 5zm3 2zm6-1zm12-1zm6 24zm8-11zm-3-15zm9-8zm-26-1zm3-2zm1-15zm2-2zm22-10zm-18-18zm-4 2zm4 4zm-25 0zm2-3zm-19 0zm0 31zm15-7zm4-8zm8 1zm-10 22zm-12 3zm-11-2zm-1-7zm-5 6zm-14-9zm0-4zm-3-8zm27-7zm-3-11zm-2-15zm-17 10zm-7 20zm-2-13zm-17-9zm-12 29zm28 20zm-30 9zm38-2zm-1 12zm25-11zm1 11zm-14-5zm-13 16zm20 15zm6 12zm-37-12zm-13 4zm0-5zm-5 14zm-2 9zm1-4zm-1 22zm10 13zm-3 11zm0 18zm-1-6zm9-3zm7-3zm-8 0zm1-10zm15 0zm-3 4zm10 19zm17-1zm4-23zm-2-17zm-2 1zm-9 8zm-15-8zm11-13zm5 0zm5 7zm18-9zm5 9zm-8 7zm10 9zm2-28zm11 0zm6 14zm17-5zm4 12zm6 10zm-22 18zm-19 13zm5-15zm-1-13zm-10 3zm-2 15zm-4 11zm-10-4zm5 9zm6-4zm-1 10zm0 19zm12-26zm26 11zm-2 16zm1-11zm-14 21zm-1 6zm5-1zm-1 9zm-26-12zm5-8zm-13 0zm-2-2zm0 19zm6 2zm-11 9zm1-5zm-26 3zm-2-6zm12-11zm-8-3zm-4-5zm20-13zm5-15zm-7-1zm-17-2zm0 23zm-9 2zm2-24zm-9 6zm6 2zm-10 25zm17 7zm-13-4zm4 11zm0-4zm26 30zm2-13zm28 10zm-12-8zm21 4zm13-7zm64 7zm289-554zm-20 8zm-9 0zm-4 17zm-29 3zm90-185zm-221 55zm97 51zm-33 59zm-8 21zm-16 3zm-43-26zm1 6zm2 4zm16-5zm5 13zm0 5zm-18-8zm-2 8zm-32 5zm-6-8zm4-49zm7-6zm1 6zm-7-13zm-47-26zm-7-29zm-45 35zm16 44zm37 9zm-19 9zm0 12zm6-6zm7-4zm13 8zm0 18zm-13-7zm-45-14zm-20 4zm-10-12zm27 13zm-47-11zm2 18zm13 0zm-14-76zm12-8zm6 12zm4 8zm-46-61zm65-94zm-7-4zm-4 3zm37-6zm-1 25zm-19-5zm30 81zm31 6zm0-10zm3 0zm28-61zm-23-43zm-97-319zm8-25zm4-1zm2-116zm-8 8zm-9 3zm3 13zm-17-4zm-19-4zm-7-6zm0-8zm3 4zm-4-14zm-8-13zm5 4zm-11-6zm0 7zm35 6zm44 8zm-7-21zm8-7zm5-17zm-12 1zm20 27z"/>
<path id="as4" d="M1005 233zm13-2zm-7 7zm2 17zm-20-9zm-38 72zm2-7zm19-25zm14-19zm2 4zm5-7zm26 30zm-24 14zm-13-12zm-10 7zm-11 17zm35 8zm17 12zm-10 4zm-15 4zm-22 9zm-5 18zm-27-9zm11-13zm9-5zm-4-26zm-28 77zm14 0zm22 42zm-33 9zm-20 60zm-28-12zm13 1zm-13-24zm-20-58zm-10 16zm-75-13zm8 79zm4-12zm-8-7zm0 30zm-13-74zm-13 190zm1-11zm-1-21zm-44 20zm-25-26zm18 16zm-6-12zm-1-6zm-2-5zm-5-9zm9-14zm16 5zm71-25zm7-17zm9 29zm30 15zm-46-18zm-14 10zm21 31zm-6 18zm-5 6zm13 18zm35-25zm-7-7zm3-17zm24 41zm35 2zm5-22zm-10-2zm-7-20zm16-6zm-2 0zm-22-42zm37-13zm5 6zm0-10zm18 18zm-20 37zm7-4zm47-10zm-12-9zm-13-17zm87 12zm-91 75zm-9 13zm-14 19zm16-7zm-43 66zm-3-35zm11-3zm-5-14zm9 0zm3-9zm-18 5zm-12 0zm13 12zm-26-24zm-7 7zm-11-1zm10 20zm-3 10zm2-2zm13 27zm-8-6zm-29-50zm15 209zm1 12zm57 2zm-25-45zm53-7zm17 71zm86 12zm-25 40zm26-6zm-15 3zm-45 48zm38-10zm18 8zm-53 29zm-98-96zm-391 104zm-22-26zm-1-17zm-6-72zm-19 83zm6 29zm-55-6zm-21 1zm1 1zm23-7zm-35-8zm-88-23zm-4-4zm35-25zm43-8zm-8 6zm45-100zm23-21zm-1 33zm-140 121zm-14 19zm-2 75zm68 6zm-11 7zm-36-4zm0 6zm13 5zm29 26zm12-24zm13 26zm3 3zm48-11zm-47-39zm42-39zm108 9zm-18 75zm9-14zm8-12zm13 12zm491 434zm39 18zm-85-46zm-3-1zm-6 3zm0-1zm81-75zm-9 3zm-38-147zm-73 117zm-8-6zm3 0zm-1-4zm12 2zm-46-117zm-55 6zm-5-2zm-8 1zm-11 13zm27 131zm24 27zm61-44zm-25 55zm-12-7zm-3 1zm17 13zm24 8zm-8 9zm-152-139zm6 12zm17 32zm7-7zm-2-75zm-19 24zm26-34zm74-232zm-28 128zm28 76zm31-32zm8 25zm4 3zm12-5zm-49-55zm98-31zm14 27zm-25-6zm-21 18zm3 28zm10 2zm68-66zm-4-160zm30 47zm77 9zm-23-33zm3-15zm-7 5zm1-15zm70 13zm10-9zm5 46zm-2 2zm-28 7zm-23-20zm1 8zm-1-1zm7 25zm-8 14zm13-6zm44 13zm-15-7zm-5 23zm4-5zm11 3zm-12 10zm-29-2zm-36-18zm19 12zm-6-13zm6-29zm-25 13zm1 2zm-21 5zm-10-19zm-3 5zm6 34zm3 0zm5 14zm-12 19zm18 17zm0-16zm0-10zm11 29zm0 1zm43 8zm8 5zm3-16zm-24-6zm44-15zm13 5zm2-11zm21 15zm6 46zm8 10zm-2 9zm-2 25zm-9-5zm23 3zm13 3zm33-22zm2 28zm4-18zm34 9zm-11 4zm-9-19zm-6 3zm23-35zm-6-11zm-54 5zm4-35zm6 1zm3-9zm10-2zm31-14zm-47-31zm-4 3zm3 14zm-3 5zm-6 12zm-4-13zm-2-13zm-5 10zm-7-4zm-3-8zm-38 22zm10 0zm4-7zm5-17zm3-29zm28 20zm8 7zm-19-30zm-12 0zm-2-3zm-18-34zm-6-6zm6-1zm12-8zm7-8zm51 21zm-5 21zm1 8zm13 6zm1-14zm96 7zm2 9zm-6-3zm-7-6zm-31 71zm10 1zm4-24zm16 7zm-6 8zm34-66zm4-1zm1-36zm19-9zm77 57zm0-34zm-10 84zm8-18zm-4 1zm-10 26zm-16 8zm-13 1zm-36 103zm11-89zm6-3zm-7 6zm-36-8zm22 45zm-15 6zm-12 0zm-16 1zm13-23zm-1-7zm-24-15zm-20 31zm-1-3zm17 4zm-14 11zm-6 4zm0 28zm12-2zm4-4zm24-5zm-49 22zm7 21zm34 31zm52 21zm19-29zm1-11zm-161 112zm-9-26zm27-7zm-3-36zm6-4zm8-11zm5 3zm-1 8zm0-44zm-10 15zm0 15zm-1-6zm-11 27zm-1 11zm-49-43zm-9 6zm-10 4zm4-7zm0-20zm-5 2zm-13-2zm49 114zm0 3zm-16 3zm-55-105zm-100 243zm-5 6zm16 0zm16 3zm11 7zm-1-5zm396-531zm-8-2zm13-233zm22 22zm-76-37zm1 37zm-46-39zm-70 2zm-28 21zm0 3zm2 132zm14 26zm64 48zm-4 4zm-50-44zm-42 46zm-33-13zm9 8zm-6-29zm29-13zm-2 9zm-8 4zm-2 2zm-3 3zm10 6zm20-15zm-12-5zm-78-20zm5 16zm-25 51zm-52-37zm-34 39zm-18-7zm-5-4zm-11-22zm16-13zm15 13zm-6-8zm-16-26zm6 8zm-4 2zm-6-10zm-7 0zm-12 9zm18-27zm2-9zm-30-9zm46 12zm12-2zm22-11zm-7 5zm-3-1zm-5 35zm4 5zm19-65zm-29-24zm-38 25zm-4-11zm-14-33zm40 2zm8 4zm-1-7zm-1-35zm-7-2zm-8 7zm-13 4zm-15 6zm15-20zm-5 4zm67-20zm8 3zm157 22zm-9 8zm-3-43zm4 14zm-107-44zm1 9zm-36-3zm-89-225zm73-79zm-6-2zm-12 2zm20 54zm-32-24zm5-17zm-5-2zm2-29zm4 5zm24-38zm16 37zm7-47zm12-15zm-20 9zm4-13zm-2-3zm7-17zm-3-4zm-27 10zm2-4zm10 6zm2 5zm4 13zm-5 6zm-36-35zm-29-59zm5-4zm-3 3zm-4-7zm-20-5zm4-6zm-1-10zm32 6zm-1 20zm5-9zm17 0zm5-10zm12 6zm35-12zm22 8zm-1 4zm4 3zm6 12zm23 18zm-19-4zm-7 31zm12-6zm-88-75zm-3-2zm-17-10zm-4-12zm-4 6zm-18 19zm-15-12zm1-15zm27 14z"/>
<path id="ad5" d="M872 506zm-2-30zm-76-12zm1-14zm27 1zm-18 22zm-4 35zm-41 78zm-22-5zm1 15zm5-1zm8-3zm-23 9zm-11-2zm-7 2zm21 7zm-24-33zm83-33zm1-5zm6-5zm17-6zm-4-8zm9 4zm-7 15zm3-4zm-10-2zm-2 10zm3 16zm9-12zm12 8zm-12 9zm31 24zm8 8zm39-13zm-4-2zm-12-24zm2-8zm-13 26zm-12-10zm-7 7zm-7-8zm5-17zm9 14zm-1-5zm-7-12zm-6 1zm1-15zm50 13zm14 3zm-3 64zm7 12zm2-5zm14 0zm-7 9zm-58 58zm-3 7zm-438 238zm-16-16zm10 44zm3 20zm8 5zm-71 39zm8-38zm-32-10zm1 8zm-9 7zm6 16zm18 4zm-14 7zm-5 1zm-13 3zm5-4zm-15 5zm-34-14zm0-3zm-7-16zm15-14zm22 20zm1-6zm2 0zm-3-7zm9 3zm-4 8zm35-75zm2 5zm-10-4zm-5-2zm-6 19zm10 24zm97-69zm-173 101zm-1 23zm-5 54zm7-4zm0-20zm-11 12zm2-18zm7-1zm8-6zm10 17zm-2 1zm4-16zm22 3zm6-4zm15 21zm-27 5zm22 8zm0-6zm2 5zm-2 9zm4 1zm3 10zm-25 5zm-11-17zm-10-9zm-3-4zm-11 0zm19 34zm21 13zm-2-6zm-2 5zm-5-6zm33-9zm8 8zm19-2zm-3 13zm5-2zm9 5zm-7-40zm-6 8zm-8 0zm-10 7zm6-27zm16-6zm-3 2zm-9-6zm-4 0zm-9 7zm0-3zm-5-6zm7-15zm1-1zm13 0zm-5-1zm17-4zm1 2zm7 13zm24-9zm-2 8zm15 32zm11-4zm32 6zm19-33zm7 5zm2 35zm-14-19zm-1 8zm-1 18zm1 31zm-28 20zm-2 3zm-4-7zm11-37zm-13-6zm-10 25zm-5-8zm11-7zm-21 11zm-9 9zm25 2zm5 15zm564 410zm12-10zm18-15zm-13-11zm-3-2zm18 0zm12-6zm0-6zm-16-13zm-8-5zm-6 8zm-16 12zm8-20zm-10 23zm-5-1zm-9 4zm22 3zm0-3zm-64-8zm-12-1zm0-5zm3-2zm0-5zm9-9zm14 5zm2 10zm2-2zm14-14zm-7-10zm6-18zm-11 3zm-1-7zm-9 14zm0 13zm-5 0zm-21-8zm-5 0zm12-7zm-4-13zm9 0zm11-15zm-13 4zm-7-8zm-5 0zm16-12zm18-2zm4 11zm25-8zm12 8zm1 9zm-5 4zm3 0zm-13 8zm-2 26zm18 2zm9 2zm0-12zm2-2zm-5-9zm-1 1zm18-2zm4 2zm-11 18zm28-28zm-20-13zm3-7zm5-10zm6-13zm-9-5zm-4 1zm-12 15zm-2-10zm0-4zm-20 14zm9-21zm8-4zm-14-10zm-6-5zm9-12zm-6 4zm-8 0zm13-11zm19 5zm7 21zm0-9zm15 1zm-3 2zm11-11zm-4-18zm-27 4zm5-8zm18-12zm-7-14zm8-26zm-24 18zm-5 5zm1 9zm0 23zm-41 0zm-17 4zm7-12zm1-14zm17 4zm3 6zm-13-42zm2 5zm-3 5zm-11-5zm-11-6zm-11 2zm-11 10zm6 4zm5 7zm-8 4zm-6 5zm9 9zm9-11zm-8 17zm-4 10zm-2 19zm-4-4zm4 15zm9-2zm-3-1zm26-10zm14-7zm10 9zm-13-4zm-6 16zm-4-7zm-6-4zm4 17zm-4 6zm19-2zm9-1zm-4 7zm-7 12zm10 0zm-6 5zm-5-2zm-16 2zm-28-24zm7 13zm-29-3zm-1-5zm-4-7zm-13 27zm-14-1zm-12 3zm5-15zm16-16zm4 11zm-4-27zm-8-1zm13-13zm2-1zm17 2zm-4 4zm-10 7zm5 9zm11 4zm3-3zm2-28zm-2 2zm-16-3zm2-7zm18-7zm7-13zm-2-17zm0-14zm-6 3zm0-2zm-11 19zm3 0zm-7 3zm-12-2zm-28 2zm0 11zm11 3zm8-2zm6 8zm-7 5zm5 4zm-12 3zm2 1zm-26 2zm2 4zm-3-1zm-12-5zm0-4zm-4-2zm15-7zm11-10zm-4-10zm3-4zm-18-1zm5 6zm-28-1zm-3-12zm-7 28zm6-2zm12 0zm-2 3zm7-1zm-24 12zm-5 4zm5 2zm-5 9zm11 17zm8 8zm7 1zm1-12zm0-14zm3 10zm4 1zm1-6zm19-4zm3 7zm-11 18zm-3-3zm-3-7zm-8 4zm27 13zm1 4zm-5 4zm-7 1zm-9 10zm-18 5zm1-8zm5-3zm-12-12zm4 8zm-8 0zm-6-13zm-5 0zm0 7zm6 20zm5 2zm13 8zm-3 6zm24 23zm6 4zm8-6zm-16-17zm-4-2zm-8-1zm14-8zm3 1zm-2 5zm1 4zm5-6zm9 5zm12 0zm2 13zm17 5zm-5-8zm2-14zm33 0zm0 5zm-1-2zm-7 3zm2-7zm-4 12zm13 1zm-3 6zm-6 4zm-10-3zm1-8zm-5 1zm-5-2zm-2 13zm1 4zm12 1zm16 3zm-7 2zm-15 19zm-13-2zm-9-20zm2 1zm-8 3zm48 30zm-6 5zm-152-137zm12 33zm4 3zm10 9zm-7-12zm5-17zm-1 4zm0 5zm-16-1zm8-19zm-2 3zm13 0zm5-9zm-1-5zm-7-7zm135-311zm-16 34zm-54 121zm3 42zm12-6zm54 57zm65-61zm-3 0zm-26 47zm5 9zm18 5zm-4-45zm10 2zm6-6zm19 3zm-13 36zm-3-3zm14 9zm3-6zm-1-15zm11 15zm17-4zm12-4zm1-17zm-12 4zm-15 2zm1-28zm17 2zm-2 12zm11 0zm-35-25zm-20 3zm3-94zm-60-79zm176 18zm14-21zm6 16zm11-14zm8-1zm-13 54zm1-21zm-15-10zm4 17zm1 6zm0 6zm10 56zm0-7zm3-13zm-62 21zm3 11zm2 3zm19 17zm-11 2zm14 9zm-39 45zm3 3zm5 9zm-5 0zm-7-4zm0 21zm-2 17zm1-2zm5 3zm13-25zm13 22zm-12-37zm12-11zm-12 5zm31-6zm3 4zm9 15zm19 23zm16-13zm-2 7zm-7 17zm10-13zm1-18zm-9-15zm15-9zm8 8zm0-7zm-3-29zm-26-1zm-1 19zm-5 0zm-19-9zm22-9zm0-13zm-18-17zm52 43zm16 9zm2 3zm9 25zm-21 15zm-1 12zm-1 0zm9 5zm-1-7zm81-81zm1-32zm9 13zm12-6zm3-6zm-5 0zm-4-6zm-9-28zm10 2zm3-3zm1-21zm-13 10zm8 0zm-23 3zm2 32zm-28-84zm-8-5zm-7 10zm-18-22zm5-3zm7 10zm24-8zm-2-10zm-8 1zm5-11zm33 6zm-2 3zm6 2zm-5 1zm-6 2zm-15 9zm-1 7zm36 9zm-2 8zm1-3zm21-18zm-26-4zm19-22zm0 0zm14 24zm23-5zm-6-11zm34-4zm7-1zm-5 6zm-19 23zm3 12zm-17 17zm-7-6zm10-3zm-5-11zm-19-4zm1 6zm2 31zm3 4zm3-9zm13 7zm-2 13zm-11-7zm-8 6zm-2 13zm61 6zm-4-26zm-11 10zm-14-2zm7-5zm2-13zm30 3zm1-10zm6 2zm5 29zm-13-9zm-2 5zm26 11zm4 9zm11 12zm11-15zm-5-4zm-3-3zm-12-20zm8 6zm12-14zm4 4zm-9-14zm-4-4zm5-5zm1-8zm-12-1zm3-4zm-4-3zm-1 13zm-12 10zm-15-21zm17-24zm-5 5zm-3 10zm-8-6zm30-25zm-10 20zm14 7zm18-27zm5 0zm0 3zm7 1zm12 10zm-6-1zm11 12zm-18 6zm-11-1zm4 12zm-3 8zm8 10zm-1-7zm0-3zm6-1zm6 9zm8-9zm-9-9zm19 6zm6 6zm-6-1zm6-2zm-7 22zm-3 4zm6 6zm-19 2zm2 3zm5-9zm-11-10zm-5 8zm-13-2zm4 6zm3 6zm-8 5zm1 1zm5 16zm4 4zm5-5zm0-1zm15-8zm-10 14zm1-7zm-2 4zm6 9zm-2 3zm-10-5zm-13-3zm3 9zm-36 128zm-26 1zm3-6zm-7-6zm14-14zm10 4zm4-20zm-12 14zm-14-7zm39-85zm-8-1zm3 11zm-34 2zm-1-2zm-5-5zm-9-5zm-2 3zm-24 89zm3-6zm21 2zm-2-2zm-4-2zm-10 4zm4 12zm7 3zm2-3zm10-3zm-1 6zm-12 20zm-11-11zm-16 13zm31 4zm10 3zm-9 16zm18-7zm-1-6zm8-3zm21 2zm-3-8zm14 11zm0 11zm-184 150zm-19-18zm68-104zm-96-17zm-2 23zm4 3zm4 9zm4 4zm-12 21zm22-26zm6 2zm7 25zm3 23zm-22-7zm-16 15zm-7-11zm-26-10zm10 11zm5 11zm-9-3zm-37 0zm7-23zm10 9zm9 2zm-9-19zm-6-8zm3-3zm7-17zm-1 5zm17 8zm-4 2zm5 14zm9-2zm4 3zm5-16zm-6-25zm-14-3zm0-4zm25-3zm-17-36zm-11 16zm12 1zm-27 4zm7-15zm-9-7zm-4 2zm-6 4zm-7 26zm13 24zm-5-5zm-9-3zm-12-4zm0 10zm-4 3zm-3-3zm9-14zm6-5zm-2-13zm-15-16zm-8 10zm8 3zm0 4zm-34-27zm17 50zm-23 19zm6 10zm20-6zm14-4zm6 9zm15 3zm-13 9zm-13-2zm-1 10zm11 3zm5 0zm-3 6zm-8 15zm-24-8zm4-17zm-4-1zm-16 2zm6 14zm3 16zm14 8zm1 10zm-16 0zm13 32zm4 6zm2-6zm-4-19zm21 2zm-13 21zm22-7zm0 1zm3 2zm0-12zm-6-8zm4-9zm-19 7zm11-19zm20-11zm2 13zm-5-4zm23 8zm2 6zm-7-18zm13-4zm4 8zm5 1zm1 19zm-6-4zm4 20zm20 1zm-2 6zm-41 0zm4-3zm4 1zm0-7zm-2-1zm-11-2zm-10-8zm-1 29zm1 9zm3 8zm11 13zm-7-8zm13 9zm9-15zm-14 0zm24-10zm-6 20zm8 15zm10 21zm-5 1zm-5-4zm4-6zm-25 6zm-4-5zm8-8zm0-11zm-9 4zm-2 23zm-24-4zm-6 7zm-13-14zm17-12zm1-11zm4-8zm0 1zm1-7zm-14-10zm-11 20zm14 0zm-1 9zm-16-6zm-5 4zm0-11zm4-7zm0-6zm-23-1zm-1 8zm-5 18zm29 20zm30 23zm-4 0zm33 7zm2-8zm27-6zm12 0zm315-542zm-13-2zm-5 22zm-37-7zm6 2zm4-4zm-2 0zm-8-16zm9-37zm103-96zm-94-45zm-59 45zm-43 102zm74-17zm-29 19zm14 26zm9 8zm8 22zm-60-24zm0 25zm-9-1zm-21 6zm14-47zm-12-4zm-5 4zm-13-2zm-13 21zm3 4zm13-4zm2 4zm5 5zm-9 6zm-32 1zm-20 2zm13-1zm-28 0zm-1 9zm-3-20zm-3 2zm17-35zm24-34zm-13-10zm-9-1zm-14 30zm-16 2zm-10-55zm-34 35zm-2 41zm6-15zm8 3zm25-1zm2 3zm-19 27zm9 9zm4 7zm8 6zm-14 8zm-7-6zm-20-20zm-32 16zm3-15zm6-7zm-4-4zm-7-27zm-3 16zm-14 13zm0 1zm-14-4zm-17-20zm2 26zm14 14zm-27-9zm0-85zm-4-10zm25 29zm31 24zm8-7zm2-15zm-18-20zm8 3zm5-6zm-65-20zm80-63zm7-31zm30-26zm26 8zm-16 53zm-10 59zm11-5zm-3-2zm9-9zm11-40zm2 40zm16-8zm-42-127zm-51 10zm-6-414zm1-4zm-4-11zm-3 6zm-7-5zm6 10zm-7 2zm3 7zm-10 6zm-29-10zm-10-3zm-2-18zm5-6zm10-5zm-16 2zm-1 2zm30-13zm-11 4zm1 17zm27-2zm-11-18zm3-3zm24 5zm-6 17zm8 2zm8-10zm1-1zm-7-5zm16-19zm3 6zm0 21zm3 1z"/>
<path id="as5" d="M1001 251zm-1-4zm-6 4zm-7 1zm-4 3zm4-9zm-132 131zm138-112zm20 13zm-13-5zm-3 2zm1 6zm3 14zm-16-2zm-24 31zm8 5zm-8 9zm18 11zm12-4zm-10-16zm3-8zm36 31zm-23 19zm-31 10zm-23-11zm9-13zm4-4zm-1-17zm-23 54zm3-3zm54 8zm-26 37zm50 48zm-72 19zm-33-8zm7 7zm-18 7zm-12-2zm-23-39zm-9-53zm-5-24zm-14 32zm3 12zm14-12zm-26-1zm-37 7zm-18 22zm16 20zm-2 16zm-21-46zm-21 186zm10-19zm2-2zm-11-25zm-24 41zm5-6zm-25 4zm-6-22zm2 5zm5 1zm-3-3zm-5-9zm7-12zm1-7zm-7 0zm0-4zm-7 7zm19-9zm26 2zm15 0zm14 3zm23-51zm-12 3zm10 23zm3-29zm3 30zm-13 7zm1-7zm4 38zm-6 23zm3 11zm16 19zm17-23zm1 6zm-10 8zm6 3zm13 7zm11-34zm-6-3zm-5-2zm-1-15zm11 9zm12-14zm12 29zm-1 12zm23 18zm8-8zm-15-21zm27-35zm-9-8zm-12-46zm19 11zm-2-5zm-7 0zm18-12zm24 2zm-23 58zm11-16zm12-8zm16 2zm-3 16zm27-30zm3-3zm21-6zm1-3zm-5-6zm5-1zm-2-4zm18 19zm-73 82zm10-27zm-4-8zm-9 11zm11 16zm-6 0zm-4-5zm-12-20zm-6 10zm8 43zm-17 1zm-7 4zm2 7zm-47 60zm37-7zm-12-3zm-1-20zm13 7zm2-19zm-9 4zm-1-4zm13-12zm-21 1zm3-11zm-15 23zm1-19zm-16 3zm-6 18zm-4 14zm24 17zm-22 3zm-12-40zm-3-12zm5 221zm-2-29zm3-6zm22 22zm-15 2zm9 15zm-1 9zm13 0zm32-20zm-9-4zm0-16zm-30-18zm-17 5zm189-55zm-35 75zm31 10zm-122-9zm114 67zm3 17zm-25 18zm16 16zm-67 36zm-11-4zm-460 10zm-7 11zm3-3zm-3-3zm0-20zm9 5zm-65-48zm-7 36zm35 8zm9 2zm-56 2zm-15 13zm-8 4zm-6-52zm-7 20zm-1 8zm-70-32zm32-1zm-1-9zm-3-6zm0-26zm20-22zm26 56zm9-89zm7-17zm6-14zm-3-8zm36 0zm-9-4zm11 13zm4 4zm-19 11zm2 42zm-148 72zm-5 17zm8-4zm-8 13zm-6 6zm-4 2zm17 77zm-9-20zm-5-10zm55 3zm0 32zm-29 3zm18 14zm33 21zm-25-13zm19-12zm73 36zm-16-12zm-2-2zm8-91zm34 12zm-20 42zm53-47zm35 3zm8-3zm5 16zm-86 41zm583 466zm37-22zm-1-50zm-57 2zm-7 44zm-17-10zm-7 0zm-24-12zm114-69zm0-10zm-22 10zm-36-154zm-79 111zm-20-113zm-16 2zm-4 1zm-44 1zm-7 2zm-5 136zm11 18zm4 2zm75-31zm-36 66zm16-1zm38 24zm-168-142zm-1 1zm10 19zm25 25zm-8-91zm-7 14zm21-26zm62-56zm-6-17zm30 14zm-15 32zm13-10zm12 2zm13-10zm3 15zm14-31zm-49-26zm93-17zm-3 18zm-13 34zm97-49zm2-60zm-10 3zm-16-19zm17-18zm11-12zm-90-64zm30 36zm59 1zm-22-31zm45-5zm-2 10zm-4 34zm36-30zm3 8zm-9-6zm-9-13zm9-5zm17-3zm52 16zm1 6zm-5-1zm3 15zm-44 24zm-2 14zm17-1zm10-5zm5 0zm23 11zm-23 22zm5 1zm7 0zm4-8zm4 7zm-4 15zm-27 0zm-47-5zm1-9zm-4-2zm9 1zm5-11zm-1-24zm-5 6zm-1 8zm-16 13zm-7-7zm10-6zm-13-16zm7 33zm28 33zm4 19zm-23-3zm-2 21zm2 1zm19-2zm-12 19zm-14-11zm64 28zm33-41zm-48 12zm7-1zm4-21zm-22 3zm67-18zm14-9zm39 18zm-19 27zm8-14zm5 11zm1 19zm-16-2zm-7 3zm-8-5zm5-9zm-11 76zm6 0zm1 2zm9-4zm-6-16zm-6-3zm22-2zm6 6zm5-1zm-12-33zm8-8zm21 4zm16 23zm6 20zm4-3zm-13-8zm39 15zm1-11zm4-24zm-26-3zm13 0zm3-24zm2-16zm1-4zm-7 1zm-3 5zm-27-5zm-1-20zm4 15zm40-20zm-11-30zm-49-36zm5 13zm-4 5zm-2 6zm0 13zm12 14zm-9-1zm2 3zm-2-2zm-15-7zm7-3zm3-15zm-17 23zm-34 0zm-2-10zm18-6zm3-23zm-27-14zm29 4zm23 12zm1 3zm3-6zm-11-21zm10-6zm-37 0zm-4-7zm-2-1zm-6-7zm15-9zm-3-4zm57 13zm1 6zm-8 4zm20 4zm-8-11zm108-1zm-11 5zm4 8zm-36 66zm3-22zm19 19zm10-14zm13 20zm5 0zm6-78zm101-34zm15-11zm-16 71zm-6 15zm-33 38zm-28 130zm0-1zm-6-3zm-11-18zm7-21zm19-79zm-1 5zm-20 14zm-8 5zm0-13zm-8-12zm-7 9zm1-2zm-1 7zm2 2zm-7 19zm10 18zm-43-6zm7-8zm6 4zm3-35zm-6-2zm-16 21zm-29-8zm18 22zm-10 13zm4 1zm-7 6zm-5 10zm30-5zm5 14zm-3 3zm-19 23zm-7 15zm8 12zm2 10zm2-9zm3-1zm7-2zm14 14zm-6-5zm47 30zm38-38zm-7 5zm-195 127zm28-11zm13 29zm-3-6zm11-47zm-8-10zm-1-24zm21 6zm-11 15zm7-45zm3-30zm0 0zm-43 29zm30-13zm-3 18zm-91-34zm49 90zm-5 14zm-60-104zm-2-15zm-100 26zm14 9zm-25 110zm7 128zm11-14zm36 16zm-10 1zm53 6zm352-601zm-18 6zm-5 6zm3 14zm57-179zm-29-10zm-10 0zm-10-29zm-16-2zm-9 8zm-8-4zm5 55zm31 63zm-78-101zm-13-14zm-10-1zm-44 1zm-34 25zm16 54zm5-4zm22-16zm3 122zm36 27zm7 6zm5 15zm-16 13zm5-6zm-5-5zm-69-43zm-7 12zm2 7zm-22 13zm-6-4zm-22-8zm-3 5zm10-16zm12-1zm-6 0zm12 4zm11 13zm0-8zm-6-10zm1-3zm8-34zm-116 2zm-7 10zm1 29zm25 38zm-81-48zm-26 57zm11-10zm-13-13zm-1 24zm-46-43zm15-20zm19 4zm9-3zm10-9zm7-13zm-18 3zm-5-13zm2 16zm-33-11zm11-16zm18-22zm2 10zm1 6zm14 11zm3-6zm55-22zm15-29zm-26-9zm-15-12zm-52 46zm-24-39zm36-19zm-5 12zm2 5zm21-4zm-5-40zm-11 5zm-37 14zm-8-2zm9-8zm91-33zm145 19zm-41-36zm-61-30zm11-12zm-21 21zm5-360zm-5 6zm3 37zm-51 32zm-13-7zm-9 17zm13 30zm-19-2zm1-16zm-31 7zm22-38zm9-3zm-2-17zm-40 14zm74-57zm-5 26zm-23 0zm4 34zm21-16zm32-47zm4 0zm-12-5zm-3-10zm-1-4zm2-3zm-5 2zm19-15zm-6-1zm-2-15zm-49 7zm4 7zm1 4zm0 11zm-23-3zm-5 0zm-29-16zm-5-22zm16 13zm10 16zm6-59zm-33 1zm6 5zm-12-19zm10-21zm32 0zm14 17zm0-8zm13-3zm3-4zm-6 27zm-6 4zm60-26zm8-4zm35 30zm-17 19zm9-1zm-24 32zm-7 25zm0 17zm20-20zm-25-108zm-9 1zm-7-17zm-61 2zm-9 10zm-24-8zm-9-4zm-4-3z"/>
<path id="ad6" d="M867 503zm-10-40zm-54-22zm4-3zm-11 4zm21 67zm-15-7zm-2 2zm-2-12zm-51 89zm0 1zm-9 17zm11 0zm-7 8zm-15-1zm-1-13zm2 3zm-15-5zm-3-9zm-3 9zm2 6zm3-2zm-2 11zm-8-29zm94-60zm5-5zm4 6zm3 0zm15 8zm4 3zm-2 12zm-22-13zm3 13zm7 5zm6 23zm-7-5zm-5 19zm48-5zm4 5zm-1 11zm35-3zm1-47zm-7 4zm-18 4zm-1 4zm-1 4zm-4 13zm-5-2zm2-10zm-4-16zm-8-14zm-1 6zm-14 0zm8-16zm11 2zm58 17zm-14 11zm33 45zm-17 3zm-14-17zm2 6zm8 23zm7 3zm3-2zm1 4zm-7 4zm-77 33zm15 25zm9-4zm-5 11zm1-4zm-7 8zm-4 3zm-417 213zm-16 62zm-30 21zm-55 17zm15-3zm-5 11zm8-4zm2 7zm-14-7zm-21 13zm-3-12zm6-1zm-14-11zm-19 24zm-2-14zm-10 13zm-2-4zm2-5zm-7-13zm4-1zm19 7zm0-5zm-4-3zm11-35zm0 14zm2 2zm-2 5zm22 8zm3-2zm1-20zm-8-2zm9-3zm2-40zm6 25zm-6 2zm8 0zm22-69zm-4 12zm77-11zm-173 115zm-1 17zm2 38zm0-6zm-6-1zm4-12zm16-6zm14 9zm-6-4zm4-7zm17 4zm4-5zm5-1zm-8 44zm6-5zm-3-5zm8 2zm11 3zm-10 2zm-4 7zm9 8zm4 5zm-37-1zm-3-28zm-7 1zm-8 0zm-1 7zm-2 9zm24 15zm48 15zm2-13zm6 0zm6 1zm-10 14zm21-11zm23-20zm0-5zm1-7zm-2-4zm-5-2zm-8 2zm-5 24zm-2-1zm-23-1zm-2-12zm-5-4zm2-7zm9 0zm1 2zm2 7zm4 0zm1-20zm-11 4zm-6 2zm10-13zm10-10zm-6 0zm12-1zm8 5zm-6 3zm-1-2zm8 19zm2-9zm9 9zm15-21zm6-3zm17 48zm-14-11zm22 2zm0 9zm3-27zm44-3zm2 29zm3-9zm-3-9zm-2-1zm-2-1zm4 8zm-10-3zm-8 18zm1 39zm-26 17zm11-8zm3-3zm5-5zm-3-7zm-41 6zm-19-9zm13-1zm-4 15zm13 10zm-5 1zm584 418zm-10-3zm22 2zm19-31zm-8 5zm8-19zm7-18zm0-9zm-30 15zm-5 3zm-6 5zm-5 1zm0-7zm8-7zm4 2zm1-18zm-13 1zm3 12zm-10 9zm-1 18zm-1-5zm0-2zm4 1zm14 4zm-7 2zm-10 10zm-18-17zm-5 6zm-6-2zm-39-16zm-1-4zm5-13zm20-4zm7 3zm-2 15zm18 6zm8-9zm-10-8zm5-11zm-4-2zm2-2zm1 0zm6-7zm-5-4zm-18-3zm3 7zm-5 8zm-17-3zm-13 3zm8-9zm-9-11zm13-1zm6 10zm-1-3zm6-6zm-5-17zm0 7zm-18-16zm-3-5zm-2-5zm25 13zm10-9zm10 3zm13 11zm5-7zm-9 0zm17-4zm8 5zm3-7zm5-1zm4 17zm-20-3zm8 19zm-1 5zm-7-3zm-1 16zm2 6zm11-14zm11 7zm-12-21zm9 0zm6 19zm13 2zm6-5zm1 9zm9-2zm-2-8zm2-6zm-30-21zm2-3zm-2-2zm15 0zm1-30zm6-16zm-15 3zm-1 5zm-6 1zm7 10zm3-4zm-23-1zm-19 13zm3-27zm20 1zm-6-1zm-1 2zm9 6zm3-19zm1-8zm-16 13zm-5-4zm1-12zm28-4zm-2 15zm9-3zm2-5zm17-2zm-2-25zm-16 4zm-1-21zm2-3zm-12-25zm-13 13zm-3 0zm-1-12zm-17 3zm7 4zm8 9zm0 17zm-6-10zm3 1zm7 0zm11 5zm-9 15zm-7-5zm-40-13zm20 5zm-2-17zm6-7zm0-5zm-23-11zm-18 21zm-1-14zm3 6zm-20-6zm3 2zm-5 24zm6 12zm9 10zm-4 0zm-11-6zm13 22zm-11 20zm20-6zm-2 3zm10-14zm-4-2zm-4 0zm-1-7zm26 0zm2 26zm-6-8zm13 16zm-5 10zm-2 2zm7 8zm3 2zm-27-2zm3 4zm-20-22zm2 9zm-11-4zm3 20zm-7 0zm-15-25zm-15 7zm-2 4zm-16 5zm4 7zm-13-13zm2-5zm-11-10zm29 1zm-12-18zm-2 10zm-4-1zm-1 6zm-2-11zm3 3zm-12-14zm42 9zm6-1zm8 10zm6-38zm-18 4zm-3-5zm-1-14zm10 5zm-1-17zm-7-24zm1 4zm2 10zm-8 10zm-7 1zm-28 10zm0 10zm2-6zm27 7zm-2 7zm-13 8zm-23-8zm-6-5zm0 5zm-15 6zm-4-1zm9-9zm5-4zm-7-2zm-6-11zm15-9zm-3-16zm-10 2zm0 6zm11 0zm-20-4zm-15 10zm-10 5zm3 6zm5 10zm7-11zm9 20zm-5 7zm3 8zm0-3zm27 21zm11-6zm-8 9zm-13-7zm15 18zm-5 12zm6 11zm4-3zm-9 7zm-17-5zm-2 5zm-13-13zm9 1zm3-6zm-6-4zm5 1zm30 63zm-19-11zm1-11zm-3-4zm16-13zm5-1zm12 13zm0 7zm11 0zm-2-21zm43 3zm-2 5zm-5 3zm3 7zm-22 20zm4 2zm3 5zm12-13zm-2 14zm10 11zm2 4zm-21-7zm-8 3zm0 4zm-4-12zm0-6zm-4-11zm-16 1zm-112-88zm34 38zm2-3zm-2-3zm3-10zm0-4zm-11 1zm-1 2zm-4-9zm-5-7zm-5 0zm-3 1zm1-14zm15 0zm2 12zm3 2zm-5-26zm-2-4zm14 0zm-5-4zm-11 2zm132-272zm-25 9zm-3 2zm7 36zm26 3zm-3 11zm-12 27zm-7 5zm-11 1zm-18 103zm5 6zm50 11zm-7-21zm-32-78zm20-1zm87-10zm-7 7zm-42 36zm17 22zm-31 51zm37-2zm10-1zm4-3zm3-23zm-1-23zm22 5zm9-10zm3 19zm8 5zm-1 4zm-10-1zm-6-6zm-13-3zm0 9zm-1 3zm7 7zm-3-5zm22 14zm-3-8zm6-2zm3 3zm7 7zm3 14zm17-19zm-5-6zm8-3zm-7-14zm-11 11zm3-2zm-4-3zm-10-7zm13 3zm-3-12zm-5-2zm8-4zm7 1zm-3 2zm8-6zm-5-7zm-7-11zm-12 6zm13-2zm-2 9zm-25-12zm-3 10zm0 4zm-14-26zm0-3zm2-17zm2-5zm-1-49zm3 27zm-15 7zm-32-51zm-20-72zm188 5zm2 17zm26-4zm-8-7zm7-8zm2-2zm-8 41zm-16-11zm5 59zm12 13zm1-7zm-3-1zm-12 8zm-29 15zm-21-1zm14 24zm4-2zm-1-11zm4 1zm4 15zm11 29zm-5 17zm-1-5zm-45 20zm22-2zm-6 0zm2 5zm-13 12zm0-12zm-1 15zm2 20zm1-9zm1-8zm36 14zm7 12zm2-32zm-1-6zm-7 5zm-12-3zm-3 6zm-3-11zm25-17zm3 11zm30-8zm-22 47zm29-14zm6-2zm-6 4zm-3 9zm22-1zm2-24zm-3-9zm-5 3zm2 12zm-10-10zm-8-10zm1-9zm14 0zm1 6zm10-9zm-1-7zm-4-5zm5-9zm-11-7zm1 6zm1 3zm-16-7zm-2 8zm12 17zm-36-16zm4-21zm25-24zm31 44zm1 8zm2 8zm-4 14zm2-2zm3-7zm17 23zm-22 3zm3 0zm-7 31zm18-25zm70-67zm17-24zm-6 24zm19-29zm-9-8zm-6 2zm-5-1zm7-7zm3-5zm-7-6zm23-6zm-10-34zm-15 9zm4 5zm-11 11zm-10-2zm1-7zm7-6zm-3 23zm1 19zm-46-80zm0-28zm-3 21zm15-14zm6-2zm-4-6zm17-8zm14 24zm-10-5zm-2 1zm-8 7zm-3 4zm0 3zm29 26zm2 0zm15-18zm15 0zm-15-12zm-11-5zm3-3zm3-6zm3 2zm-11-16zm11-2zm9 4zm-2 10zm18-11zm4 8zm-2-1zm-3 17zm11 4zm11-7zm13-11zm21-6zm-2 19zm-15-2zm-2-8zm-2 9zm-3 17zm-5 15zm-14-1zm6-3zm-23-9zm8 26zm20 8zm-5-5zm6 14zm30-3zm-27 10zm13-24zm39-6zm-3 13zm2 5zm8 0zm-15 29zm6 8zm11-11zm-12-2zm8-10zm6 2zm8-2zm7 10zm-14 16zm1 3zm20-2zm2-22zm5-4zm3-2zm-13-11zm4 6zm-16-8zm-2-7zm24 3zm-9-46zm-18 18zm4-1zm9 1zm-10 13zm-12-7zm1-5zm-5 1zm-3-2zm14-5zm-24-14zm-3-7zm6-2zm-6-13zm8-5zm8-4zm14 13zm9 3zm10 7zm1 2zm9-10zm-8-6zm9-9zm28 0zm-12 29zm11 30zm3 2zm-2-24zm12-7zm-4 1zm3-5zm-5-10zm5 1zm-7-5zm6 76zm-10 1zm0-10zm-16-12zm-11 18zm11-3zm-3 6zm-3 14zm-6 0zm10 4zm7 14zm-2-7zm-71 124zm-2-5zm2-1zm17 8zm-3-21zm-7-15zm-2-7zm-14-54zm-10 74zm-18 18zm6 4zm9-1zm0 7zm0 7zm-11-3zm-9 2zm-14 4zm6-26zm34 46zm-2 6zm24 9zm9 3zm8-6zm-29-10zm-1-14zm9-6zm14 6zm16 1zm-1 11zm-6 2zm6 11zm7-14zm-222 179zm9-48zm-11-1zm-8-14zm12 3zm53 32zm34-108zm-104-16zm10-8zm6 1zm11 23zm-19-11zm2 17zm4 0zm-3 10zm-5-3zm9 8zm3-9zm8-7zm12 27zm2 18zm-17 3zm0 5zm4-18zm-28 17zm6 0zm-1 8zm1-5zm-10 1zm-7-1zm-5-2zm1-6zm2-14zm-17 3zm-1 3zm8 10zm-8 12zm-4-12zm-15-1zm-3-9zm-5 6zm13 0zm12-29zm-11 9zm-19 0zm8-4zm1-13zm0-7zm21 13zm-3-15zm18 15zm-14-7zm3 11zm2 2zm16-3zm7 4zm3-6zm-11-3zm6-23zm-13 6zm0-8zm11-16zm-19-31zm-8 26zm-12 0zm5-16zm-10-10zm-11 0zm2 17zm2 15zm-2 5zm19-5zm6 8zm-12 16zm-4-3zm-16 4zm-19 1zm0-23zm-8 6zm4-9zm-5-2zm23-1zm-4 3zm5-23zm7-6zm-20-3zm-11 8zm-4 11zm-5-20zm-18 25zm-4 14zm29 11zm-19 4zm-3-7zm5 29zm4 2zm8 6zm0 2zm4 2zm1-11zm-10-2zm0-4zm10-9zm3 10zm9-9zm16 19zm1 5zm-5 27zm7 5zm-6 1zm-5-4zm-19 5zm-13-4zm2-6zm7-4zm-8-2zm-8-7zm-6 11zm0 22zm0 5zm19 8zm-5 9zm-15-6zm3-7zm0 21zm15 18zm-6-1zm10-6zm5-1zm-11-8zm18-1zm-4 17zm5 8zm1-13zm21-3zm2-7zm-31-14zm13-6zm-13-17zm23 6zm21 3zm-10 10zm15 2zm7 1zm2-25zm-2 3zm19 6zm4-5zm10-4zm5 18zm-10 11zm-2 2zm-5-11zm-13 0zm7 16zm-2 2zm18 14zm-20 1zm-11-14zm-9 3zm-14-8zm3 17zm9 5zm-9 29zm11 0zm1 2zm13 6zm-11-21zm44-7zm-1 11zm-9-3zm-14 41zm1 12zm-22-5zm11-13zm-15-6zm-9 0zm-3 4zm3 3zm2 1zm0 9zm-1 7zm-14-10zm-5-1zm-10 11zm4-27zm5 1zm9 2zm5-9zm-11-2zm7-4zm4-23zm-5 0zm-22 13zm-10 13zm-3-25zm-19 26zm-2 18zm11 3zm26 25zm23 5zm-5-1zm45-13zm25 5zm15 15zm-6 0zm307-561zm-10 6zm-7 3zm3-7zm-8 18zm-1-7zm-10 8zm-14 5zm-11-7zm13-11zm13 1zm-18-13zm-9-14zm12-2zm3-6zm4-2zm35-13zm-21-2zm-4-9zm67-120zm-125 56zm-11 1zm-13-8zm28-24zm-91 81zm69 24zm-17 27zm4 7zm47-13zm9 42zm-66-2zm-4 4zm-10-1zm-6 4zm7-15zm7-21zm-13-18zm-36 19zm4 14zm6 7zm12-13zm1 5zm-5 8zm-2 12zm-4-4zm-19 1zm-1 3zm-6-6zm-5 0zm-14-2zm8 7zm-2 5zm-4-2zm-9-3zm-1-8zm-23 10zm2-1zm-3-11zm13 0zm-15-2zm2-4zm8-4zm-10-11zm7-25zm34-4zm-6-17zm-15-17zm-5-26zm-4 26zm0 8zm-10 19zm-3 2zm-5-45zm-1-5zm-17-3zm6 27zm-41-27zm9 69zm4 19zm13-13zm30-1zm-10-2zm0 8zm-16 9zm0 13zm27-5zm-7 7zm-2-2zm3 13zm-18 5zm-59 1zm-4-4zm-3-3zm9-8zm-4 0zm-6-3zm20-11zm6-15zm-3-10zm-22 12zm-11 11zm6-9zm-4 14zm2 11zm0 11zm-6 4zm-27-28zm-16 24zm7-106zm27-12zm2 50zm16-3zm-9-3zm-6-1zm3-9zm15 23zm17-7zm-3 7zm9-23zm4-2zm-11-6zm-6 0zm-11-1zm28-20zm-33-37zm-1 9zm-13 17zm-33-1zm47-83zm7-3zm26 22zm-9-29zm27-27zm13 7zm2-6zm7 5zm-5 28zm16 21zm-21-1zm0-17zm-14 22zm-3 9zm14 12zm-15 21zm5 4zm-5 1zm16-8zm26 24zm25 1zm-2-11zm20 2zm7-11zm-13-89zm-16-4zm18 0zm14 0zm-2 5zm-66-49zm-35-248zm-6-55zm-24-100zm-12 12zm-11-22zm-7 12zm-36-15zm3-1zm12 9zm2-7zm8-15zm-21 1zm6-5zm-6 15zm27-25zm5-2zm2-3zm-2 17zm3-1zm22 11zm0-10zm-4-9zm-9 4zm25-9zm2 11zm2 16zm-1-6zm17-24zm-4-11zm-18 9zm11-18zm18 18z"/>
<path id="as6" d="M1007 253zm-19 31zm6-24zm1 10zm13 1zm13 1zm1 14zm-13-6zm-10-7zm22 15zm-7 10zm-17 15zm-21 1zm-6-8zm-2 11zm-4 2zm11 6zm-2 9zm-6-4zm15 21zm7-17zm-6-1zm-4 2zm26-12zm16-2zm-12 17zm-17 0zm21 14zm-52 9zm7 7zm1 10zm-15-3zm-17 7zm-8-24zm5-4zm15 9zm10-8zm-1-11zm1-19zm5 66zm13 9zm10-9zm-19 37zm26 45zm25 15zm-82-7zm-19-20zm-10-8zm-12-2zm29 58zm-19 0zm-16-3zm-11-12zm-7-10zm-16 3zm-1-38zm29 17zm-28-80zm-15 24zm-6 14zm-35 3zm10-12zm-38 25zm-4 9zm10 28zm6-23zm47 48zm-15 2zm-20 2zm-11-5zm10 2zm-41 127zm-13-12zm10-9zm11-18zm-56 20zm-21-34zm17 17zm-2-9zm-11 5zm3-24zm59 9zm11-4zm14-50zm23 49zm-13 1zm-5 19zm12 12zm-10 0zm-13 32zm33-22zm7 10zm-7 3zm5 11zm4 1zm3-3zm3-18zm6-5zm-21-6zm-1-16zm18-8zm-4 6zm8-7zm4-4zm9 1zm5 9zm2 4zm5 13zm-9-11zm3 16zm11 28zm8-2zm6-17zm-2 20zm14-9zm2 10zm2-3zm-4-20zm2-23zm4 8zm-16 5zm22-35zm-2-1zm-12-55zm-9 24zm12-1zm37-1zm-14-6zm6 27zm14 7zm-11-19zm20 1zm4 2zm6 24zm5-7zm7-23zm-8-24zm36 23zm19-20zm5-1zm-6-7zm15 11zm-5-1zm-81 101zm3-28zm5-2zm-9 12zm-3-14zm-16 47zm-11 10zm4 0zm15-9zm2 5zm-29 98zm-27-52zm7-1zm4 2zm6-17zm2 4zm4-21zm-25 11zm-10-11zm5 3zm-4-17zm2 11zm8 21zm-32 210zm-12-19zm8 3zm23-35zm6-1zm-7 10zm-3 16zm-7 14zm-6 14zm27 6zm3-16zm14-5zm-5 12zm12-3zm4-24zm6 1zm124-3zm-104 26zm75 45zm7-20zm16 5zm-19 14zm4 10zm17-7zm2 12zm-15 13zm-46 59zm-26-6zm-14-3zm5 8zm-15 5zm4-9zm-13 14zm-50-126zm-349 118zm-45 6zm-3-27zm2 0zm-3-10zm-57-56zm9 27zm-9 20zm1 17zm53-17zm-77 36zm-1 6zm5-12zm4-36zm6 0zm-46 17zm14-3zm-8-7zm-83 5zm10-8zm9-9zm20-9zm-1 5zm-18-8zm47-48zm-3-3zm13 51zm13-14zm-11-6zm15-20zm21-19zm-16-28zm-10 13zm-8 13zm-8-1zm84-71zm-21-3zm46 76zm-190 82zm-3 11zm-6 10zm0 74zm-10-27zm0 6zm5-7zm-6-1zm4-10zm53-5zm-22 62zm44 36zm-5-16zm11-10zm60 26zm-6-31zm5 6zm3-19zm-9-52zm12-2zm30 8zm-4 5zm-18 38zm44-33zm21-12zm27 57zm-13 12zm15-5zm-42 51zm-47-57zm-8 5zm590 471zm-3-9zm-9-10zm39 6zm-2 2zm14 8zm5-1zm3-7zm-4-17zm-42-8zm-10-247zm-2 11zm-96-11zm-7 3zm-8 4zm-53-6zm-28 7zm1 6zm46 164zm5 1zm40-51zm9 6zm-20 54zm-19-2zm25 8zm9 2zm-2 4zm-136-132zm-2 17zm-1 3zm2 1zm-4 5zm32 28zm-14-72zm-9 7zm110-255zm-36 35zm14 86zm-5 5zm29 32zm5 11zm8-2zm12 26zm6-11zm-1-20zm-29-57zm87 27zm-7-3zm-1-4zm-25-3zm6 10zm8 26zm-19 10zm1 13zm19-15zm23-30zm29 60zm0-1zm46-75zm-15-48zm3-3zm18 0zm-7-11zm6-9zm-11-15zm1-3zm12-9zm-33 0zm1-14zm0 58zm-38-62zm-4-26zm-24-22zm4-7zm17 16zm19-23zm1 2zm4 19zm18 27zm23-13zm-6-26zm-5-5zm29 9zm15-13zm-15 36zm2 1zm3-4zm8 16zm3-5zm27 13zm6-2zm8-15zm-21-22zm5-2zm-12-14zm20 7zm62 11zm-7 5zm1-8zm13 26zm-20 19zm-9-30zm-21 27zm-7 26zm3 9zm25-20zm3-9zm2 8zm8 1zm14-8zm-4 13zm-14 7zm-3 2zm4 3zm5 9zm19 24zm-22 2zm-26-1zm-41-29zm21 9zm3-6zm-14-14zm8 1zm6-5zm-28-5zm8 12zm-11 3zm-12-4zm5-2zm-17-9zm-2 7zm2 8zm3 30zm-3-4zm-4-3zm-3 35zm11-6zm5 0zm11 4zm-2-3zm5 1zm26-2zm-14 14zm-10 1zm0 2zm1 3zm7 8zm3 11zm-15-19zm-25 8zm11 16zm69 4zm6 7zm-7 2zm0 4zm-5-20zm-5 5zm-3-7zm7-13zm-5-1zm2-8zm1 6zm6 6zm-6-14zm-7-3zm38-17zm22 17zm20-26zm31 17zm-14 17zm-4 7zm10-11zm3 18zm-19 11zm4-18zm-4 28zm5 16zm-30 40zm26-13zm2-3zm-12-4zm25 7zm-3-24zm16-13zm20-11zm9 0zm7 0zm4 5zm-2 3zm2 2zm-6 3zm-2-3zm-13 6zm-8 19zm1 3zm-3 15zm23 6zm8-17zm-13 0zm1 0zm5-7zm8 15zm31-4zm-1-21zm-30 3zm13-12zm-11-5zm16-12zm10 11zm-9-23zm-1-13zm2 1zm-13 13zm-15 8zm-17-28zm15 1zm7 5zm2-3zm-7-18zm-3 2zm-1 4zm-14-5zm5-4zm-1-15zm47 30zm-1-14zm-38-75zm-15 33zm-7-1zm-29 21zm-27-3zm11-15zm-8-29zm45 14zm9-3zm-26-40zm-26 14zm-8-3zm11-15zm-4 4zm-5-3zm18-6zm3-13zm-20 6zm8-17zm14-4zm49 22zm-3 8zm4 18zm68 59zm14-12zm17 13zm3-6zm5 8zm0-10zm13 8zm-3-63zm8-9zm6-34zm8-6zm86 4zm23 25zm-20 34zm-27 59zm-51 107zm-8-9zm4-2zm28-87zm-18 20zm-3-2zm-16-9zm1-6zm-16 6zm0 9zm23 29zm-44-6zm8-7zm1-23zm-21 3zm7-2zm-7 10zm-10-4zm-6 2zm-8-20zm-1 0zm-4-6zm-6 5zm-2 11zm10 23zm3-7zm1 53zm25-18zm6 3zm1-3zm-46 57zm23 19zm9-10zm25 19zm-6 2zm58 11zm-6 2zm-26 9zm-169 89zm1-1zm34-10zm8 5zm-1-5zm19-33zm2 22zm1-4zm-6 12zm-18-5zm-4 2zm-5-18zm2-6zm18-18zm-6 10zm22-21zm8-3zm-9 27zm5-13zm2-36zm18-13zm-2-4zm-27-16zm-18-6zm12 31zm-17 21zm-25 2zm8-14zm-22-39zm-26 1zm1-6zm-6 2zm5 19zm49 60zm-6 21zm0 22zm-65-105zm-4-15zm0 2zm-98 36zm10-7zm-4 218zm-10-6zm-6 10zm11-3zm-9 16zm-1 5zm24-6zm-7 0zm37 6zm-12-5zm41 4zm18-5zm-2 3zm33 21zm325-562zm-9 0zm-25-44zm-10 0zm45-109zm11-14zm16-25zm-9-16zm-13-12zm-12-14zm-2 10zm4-1zm-1 42zm-13 0zm-22-2zm5-6zm4-5zm7-41zm-22-6zm13 15zm-35-4zm2 20zm0 20zm7 13zm-28-21zm-4-16zm-43 14zm-11-2zm-25-33zm-2 9zm-33 28zm24-9zm2 29zm-21 114zm3 9zm6-9zm51-50zm18 91zm24 6zm3 21zm-7-6zm-17 11zm2-5zm-19-10zm7 12zm-34-15zm-33-31zm-9-7zm3 18zm-35 25zm-23-15zm9-14zm1 13zm-12-5zm1-13zm45 2zm-2-1zm-1-13zm6 1zm1-9zm-2-7zm-78 3zm-36-20zm2 30zm4 21zm34-15zm-22 57zm-31-5zm-17-14zm-51 1zm-19-10zm-2 13zm-16-13zm12 5zm-1 0zm4-23zm-10-16zm17 16zm4 14zm13-60zm-23 8zm1 20zm-16-17zm6-23zm0-5zm-8 4zm6-16zm2 6zm31 14zm8 5zm1-4zm-2-5zm16-10zm10-4zm-6 16zm8-5zm-15 8zm-7 0zm7 9zm-2 2zm-2 23zm33-56zm4-22zm-17-30zm3-4zm-1-4zm-10 52zm-23-11zm-21-10zm3 9zm-12 4zm-14 5zm26-55zm6 7zm-2 2zm13-33zm-15 16zm-11 0zm-31 2zm5-9zm19-23zm64-26zm-18 42zm-5-2zm43 19zm12-58zm118 79zm-24-59zm22 2zm-1-7zm-96-59zm30 0zm-17 29zm-2-13zm-5-4zm-48 20zm1-15zm-6 6zm2 7zm-90-173zm80-69zm26 11zm-5-4zm34-132zm-57 66zm-19-7zm2 13zm-50 47zm14-41zm-26-15zm40-3zm7 5zm-1-15zm-6 0zm26-44zm5 23zm11 14zm22-10zm1 7zm17-16zm1-1zm-27-22zm24 7zm-4-28zm-5 1zm3 7zm-20-21zm10-1zm11 8zm8-29zm-16 5zm-20 37zm-50-15zm-10-21zm5-10zm19 13zm1-5zm-10-51zm-11 2zm-3-1zm-19 0zm9 0zm4 10zm-21-17zm-3-9zm5-1zm4-7zm-9 2zm-2-8zm35-1zm9 9zm5 10zm13-12zm-8 5zm-6-7zm17-1zm19 9zm-19 6zm56-19zm14 16zm9 34zm1-12zm-6 18zm-9 8zm21 10zm-21 25zm11 20zm6-23zm-27-106zm-27 6zm-4 1zm-5-1zm-4 1zm-7-1zm-4-5zm-17-2zm-4-7zm-42-13zm1-2zm-2-3z"/>
<path id="ad7" d="M865 480zm-8-9zm-23-23zm36 31zm-64-51zm-9 8zm1 42zm4-20zm11 21zm-9 29zm-6 1zm-34 73zm-13 5zm-12 3zm5 9zm-9 3zm-11-24zm-15 1zm4 24zm6 4zm-17-26zm89-49zm6 5zm12-15zm8-2zm2 8zm4 3zm7 0zm0 3zm-20 8zm-2-6zm4-5zm-6 19zm7 1zm8-5zm-6 29zm-4 8zm52-4zm-2 2zm-10 14zm44 7zm-4-10zm-7-6zm10 2zm-1-42zm-10 9zm0-3zm-7 0zm2 12zm-30 1zm-7-16zm14-3zm-3-6zm-8-1zm-12 2zm12-6zm0-8zm-8-15zm26 3zm2 4zm4 24zm34-8zm24 65zm-11 7zm-18-14zm2 27zm7-7zm2 16zm2-3zm-67 57zm2 3zm-2-9zm75 342zm-493-65zm-5 4zm-16-22zm7 10zm-12 21zm0 2zm-2 11zm5 41zm-3-15zm0 16zm-46-7zm1-12zm24-29zm-53-13zm26 44zm-3 8zm-13-4zm-21-11zm-6 3zm-12-5zm-8-1zm5 12zm1 5zm-22 0zm2 7zm5-3zm-15 5zm-5-11zm2 0zm15-10zm6 5zm4-29zm-8 4zm0-4zm-11 13zm-4 0zm21-18zm7-4zm9 6zm-10-4zm25 16zm-1 5zm-6-16zm4-18zm-3-12zm7-4zm-1 1zm-1-17zm5-2zm9-15zm-8 36zm1 12zm29-66zm-102 114zm1 55zm2-5zm-2-10zm6-15zm23 14zm2 4zm1-14zm-7 5zm-2-13zm43 3zm-13 22zm-8 6zm-1 5zm8 10zm-23 12zm-9-24zm-13 9zm7 4zm62 17zm2 9zm18 1zm-8-1zm45 25zm-23-18zm5 5zm-8-21zm12-23zm6 2zm-14-3zm2-7zm-3 19zm-3-3zm6 12zm-24-11zm0 7zm5 0zm-16 3zm8-14zm-15-10zm33-26zm23 16zm25-19zm6 24zm-7-3zm13 20zm-9-7zm9-7zm12 13zm-3 2zm2 9zm4-1zm16-11zm-1-14zm0-12zm11-2zm-1 12zm5 0zm0-8zm10-2zm-2 7zm3-1zm-4 10zm2 11zm-5 0zm-12-6zm-2 12zm7 21zm-31 23zm15 11zm2-30zm-13-1zm-9-6zm-2 17zm-15 0zm-12-1zm-3 1zm4 19zm13-6zm3 10zm-4-2zm-3 2zm573 406zm9 1zm6 9zm6-1zm18-21zm-13-8zm6 5zm-11-10zm3-10zm4 2zm4-3zm5 11zm9-8zm0-29zm-6 0zm-11-7zm-14 31zm1-15zm0-8zm-25-2zm-1 15zm1 21zm9 18zm0-9zm-10-1zm-5 1zm-3-17zm-28-14zm-9 7zm-5-23zm16-3zm14 2zm-5 24zm15-18zm-1-3zm-8-7zm12-12zm-7-4zm-9-8zm-5-5zm-4 2zm9 15zm-18 7zm-4 4zm-22-6zm6-13zm13-16zm-19 3zm19-19zm11-1zm11-6zm-4 6zm4 20zm3-3zm3-7zm-5 1zm18-12zm-6-2zm2-4zm11 4zm9-5zm17 5zm-3-3zm-4 24zm-22 30zm14-9zm12-4zm-7-7zm8-1zm12 5zm-5 5zm19 9zm10 5zm0-14zm-15-10zm-4-14zm-2-15zm7-22zm10-10zm-1-8zm-2 7zm-7 1zm2 6zm-4-9zm-17 11zm-12 5zm-6 3zm-10 0zm-2-14zm5-4zm11-1zm5 9zm10-23zm-13-1zm-1 3zm4 6zm-14 0zm-2-7zm3-2zm7-5zm-1-7zm-6-5zm13 8zm6-9zm8 0zm6 2zm5 7zm6 4zm-4 12zm15-6zm-14-11zm11-10zm1-3zm-6-14zm-7 5zm-8 7zm-6-5zm5-20zm21-4zm-11-13zm10 0zm4-4zm-1-13zm-22 12zm-5-4zm5 21zm-22-18zm-11 9zm6-4zm-4 8zm-2 15zm22 12zm-19 9zm1-10zm-4 11zm-36-4zm8-14zm10-8zm-4-6zm2-29zm3 9zm-8 8zm-29-1zm-8-11zm-3-6zm0 13zm-2 32zm9-12zm11 7zm0 3zm-7 4zm5 1zm3 8zm-9 0zm-9 14zm5-2zm1 9zm8 16zm13-23zm12 1zm15 0zm-12 6zm14 8zm-2 6zm-7-4zm-7-4zm-10 19zm4 7zm12 16zm-13-11zm-1-1zm-21 12zm0-18zm-8-8zm-10 2zm2 5zm2 12zm4 1zm5 2zm-17 3zm-1-21zm-58 18zm14-12zm9-19zm4-17zm-1-8zm12 7zm19 9zm-2-15zm3-10zm2-6zm-4-2zm0 4zm-22-21zm17-16zm4 1zm5 3zm0-10zm0-5zm-37 26zm-5-1zm7-11zm2 0zm-19-8zm4 10zm-1 8zm-5 7zm22 9zm-3 18zm-10-7zm-7-8zm-4 5zm-5 3zm5 1zm-5 5zm-19-4zm-1-5zm-2-11zm17-16zm-8-12zm-42 7zm-7 8zm12 15zm16 19zm-18-2zm-1-8zm-8 35zm14-13zm0-1zm8-6zm31-4zm-6 37zm0 26zm-27-7zm7-4zm-17-11zm-5 10zm12 20zm4-6zm5 0zm-4 12zm31 27zm4-13zm1-1zm-9-12zm18-7zm4 0zm-3 17zm9-3zm11 3zm14-9zm7 0zm0 12zm-2-8zm-9-1zm-4 0zm3 29zm24-12zm-1 11zm-6-1zm0 5zm6 11zm-30-1zm-13-5zm1-3zm14-17zm-131-86zm32 39zm-7-16zm-1 2zm10-18zm-22 9zm-8 1zm7-4zm7-9zm-6-14zm20 10zm-3-24zm5-6zm-15 2zm-4 5zm4 2zm112-289zm20-17zm9-1zm2 9zm-20 26zm0 7zm-2-12zm-12 7zm1-9zm-4-1zm-4 34zm13 5zm-2 29zm27 8zm-20 17zm-21-13zm-11 5zm-21-3zm23 93zm-5 34zm2 2zm14-8zm-6-89zm3-9zm61-9zm3 58zm4-9zm-3-8zm13 34zm0 2zm4 34zm0 16zm12-1zm-6-9zm9-5zm6-7zm-1 6zm-5-9zm10-19zm-22-4zm31-2zm5-12zm15 7zm-6 8zm6 9zm-17 2zm-2-5zm1 8zm-6 9zm4 15zm0 5zm3-3zm9-8zm10 14zm-3-8zm23-18zm-11 16zm9 0zm10-4zm-7 7zm14-11zm-12-6zm8-17zm-9-3zm-6-4zm-10-1zm7-9zm15 6zm5 0zm-19-33zm6 2zm-15 2zm9 11zm1 7zm-7 0zm-10-8zm-12 3zm-9 2zm11-11zm-11-6zm9-87zm1 28zm-19 1zm-52 4zm17-19zm4-18zm-10-13zm3-9zm-7-10zm-9-4zm8-15zm11-26zm162 18zm9-6zm13 13zm9 3zm0-13zm-1-9zm-7 1zm4-9zm13 12zm-20 47zm6 22zm16 43zm-5 2zm-2-22zm-11-7zm-6 11zm-3-4zm-46 13zm27 43zm3 18zm-41 20zm2 23zm-15-13zm4 14zm-6 7zm1 14zm21-4zm-4 6zm2 2zm7 3zm1-13zm-9-7zm22 4zm-3 2zm4 13zm1-8zm16-6zm-4-26zm-4 13zm-5 0zm-5-25zm16-4zm7 2zm23-2zm0 23zm-9 3zm-14-9zm12 22zm-11 8zm7 9zm19 2zm0-2zm17-23zm-9 6zm7 14zm7-5zm-2 6zm13-10zm-12-5zm5 2zm4-16zm-7 3zm-19-1zm12-13zm-10-3zm7-13zm19 0zm-3-4zm-3-11zm5-9zm-4 7zm-12-6zm-8 14zm12 4zm-19-42zm-8 2zm-10 0zm8-16zm3 2zm10 0zm2 3zm46 54zm-8 1zm2 10zm17 22zm-20-5zm-3 13zm19-5zm2 3zm87-99zm-6 7zm-9 7zm-1-74zm-11 50zm-6-6zm-18-66zm-6-12zm-6 4zm-8-1zm-12-20zm16-17zm2 2zm-10 16zm0 11zm11-7zm7 2zm3-4zm4-17zm7 7zm8-2zm10-7zm9 4zm-10 13zm2 10zm-18 5zm-5 11zm44-9zm17 18zm1-22zm-24-14zm-5-17zm4 1zm11 10zm30-1zm-8-1zm1 7zm11 13zm30-27zm8-3zm0 15zm2 3zm-3 5zm-12 6zm-5 4zm-2 12zm7-9zm-5 16zm-16 4zm5-8zm-16-5zm-7 4zm-2 27zm28-11zm-21 22zm52 16zm-2-10zm2-6zm2-5zm-28 7zm11-14zm31-5zm12-2zm5 3zm-2 14zm0 6zm-22-8zm-4 19zm9 5zm10-1zm21-6zm1 1zm2 5zm-9 4zm2 9zm6 9zm5-15zm5 6zm-6 3zm8-1zm1-8zm4-4zm-10-1zm12-6zm-11-21zm-1 4zm-3 7zm-13 0zm5-7zm-5-17zm11-1zm13-7zm-3 2zm-1-1zm7-25zm-29 4zm-21 18zm3-23zm11-2zm-3-10zm-6 7zm-1 0zm-3 0zm0-12zm49 11zm-1-20zm20 6zm5 16zm-11-12zm-7-2zm31 36zm-3-21zm4-6zm7-3zm-2-8zm-8 68zm-6 13zm-11-15zm7-8zm-2 6zm-6 17zm-12 2zm7 2zm14 11zm-72 137zm-16-17zm16 1zm2 2zm8-23zm-26 13zm19-22zm2 4zm29-76zm-17 11zm-17 50zm-36-62zm-42 53zm55 25zm-9 3zm11 6zm-5 3zm-12 3zm7 6zm2 7zm1 9zm6 0zm2 7zm-22-3zm-3 7zm-17-8zm1-17zm-11-3zm18 36zm3-6zm14 0zm7 7zm9 13zm24 15zm10 5zm2-21zm-14-1zm-13 4zm11-17zm-1 0zm14 5zm18 13zm-160 179zm-59 39zm-11 8zm-8-3zm0-9zm10-43zm0 5zm30-4zm19 28zm-56-80zm18-11zm-13-103zm5 13zm-5-9zm5-1zm8 23zm-11 4zm-10-1zm3 1zm-3 5zm0 10zm20 8zm1 2zm8 11zm4-5zm2 15zm3 5zm-9-1zm-2-3zm-3-10zm-14 9zm2-8zm1 24zm-16-11zm-2-1zm-13-4zm-8 4zm-4 2zm2 7zm-30 0zm23-29zm-1-9zm-23 7zm6-4zm4-4zm25-12zm-3 16zm7 3zm-4-1zm15-1zm4 8zm0-35zm-7 3zm-9-18zm-8-7zm3 0zm1-12zm4 1zm-18 5zm-4-7zm5-11zm-12 5zm-4 23zm2 11zm-1 2zm-4 0zm-29-1zm5 3zm-3-5zm17-19zm-2-19zm-8-8zm-14 14zm6 3zm4 11zm-21-12zm-7-19zm-3 7zm-4-2zm0-4zm-5 8zm3 45zm-8-4zm3 45zm7-4zm11 1zm-6-20zm0-4zm29 11zm9-15zm2 15zm-2-5zm2 6zm-16 2zm4 21zm4-4zm14-2zm-13 15zm7 7zm-21-3zm0 5zm3 3zm-17-19zm-10-8zm-7 0zm-2 6zm-1 13zm11-3zm-12 30zm10-6zm12-8zm-5 11zm-2 2zm10 3zm-22 10zm-2 24zm0 9zm29 1zm-11-21zm9-4zm14 21zm6-2zm11-13zm-4 5zm-3-2zm-5-10zm11-10zm-17 1zm-8-5zm12-7zm7-9zm11-2zm5 2zm7-1zm-3 3zm5 2zm-9 7zm5 6zm13-2zm1-2zm-1-10zm20 2zm18-10zm-4 9zm0 17zm-17-3zm-8 3zm11 8zm19 1zm-2 23zm0 5zm-24-7zm-18-10zm-5 17zm-11-6zm7 21zm-5-4zm-2 15zm9 0zm15-6zm-2-8zm-3 2zm-4-4zm25 2zm1-11zm7 10zm1 12zm4-3zm8 2zm-9 9zm-19 1zm5 16zm5-4zm9 12zm-10 8zm-11-2zm-3-2zm-3-1zm-4 0zm4-21zm-5 8zm-14-13zm1 7zm-5 12zm10 3zm-21-3zm-2 11zm-11 0zm-5-12zm7 4zm13-20zm3-9zm-9-8zm8 0zm-13-4zm-11-11zm8 17zm-5 7zm4 0zm-24-5zm8-21zm-27 19zm4-1zm9 4zm-7 5zm-6 14zm-1 4zm16 2zm9 1zm15 16zm15 5zm0-3zm1-2zm2 17zm8-1zm8-12zm7 2zm22 1zm24-6zm6 13zm6-3zm1-8zm34 6zm262-548zm-8 15zm-5 5zm-18-9zm-5 12zm-4-4zm-12-8zm4-12zm16-3zm8 3zm2-5zm-13-11zm4 6zm-9-16zm30-12zm-16 1zm-9-7zm1-13zm10-9zm13-3zm28 15zm15-3zm23-79zm10-16zm-5-3zm-6-11zm-75-16zm-63 72zm-18-36zm-65 26zm-1-8zm-4 68zm71 36zm-13 10zm46 4zm15 14zm-75 8zm-15 7zm-1-4zm5 3zm7-9zm12 0zm-18-34zm0 11zm-22-2zm-11 9zm3 3zm15 18zm4 4zm-17 7zm-5-4zm-1 0zm-3 0zm-37 0zm-7 1zm-14-10zm23-53zm12-11zm-7-10zm10 8zm13-40zm-21 0zm-18 15zm-19-12zm7 9zm2 1zm-3 4zm-9 22zm30 4zm-2 4zm2-1zm-3 7zm-6-2zm-43-22zm16 11zm-27-18zm-21-17zm4-11zm-1 21zm-1 14zm5 24zm-15 31zm8 4zm11-14zm8 2zm-2-10zm-4 5zm11-2zm6-3zm-3 15zm1 22zm1-9zm1-1zm8-1zm9 5zm-9 12zm5 1zm9 6zm-36-9zm-3-4zm0-3zm4 1zm-4-9zm-8 4zm6 9zm-20-13zm-15 17zm-13 5zm12-13zm7-3zm-1-4zm3-3zm-9-7zm5-4zm-7-15zm1 7zm-2-5zm-10-6zm8 18zm-7 10zm-5-2zm-25 4zm8 16zm-23-24zm-10-80zm0 0zm2-5zm44 19zm-5 2zm-2-1zm-1 3zm-15 19zm14 7zm9 1zm-1-6zm-7-6zm0-9zm24 6zm1 7zm-5-2zm-6-2zm-1-2zm17 15zm9-8zm-8-5zm4-24zm-7 4zm-6 2zm-11-8zm15-4zm-11-37zm-28 19zm28-90zm8 11zm-3 6zm20-4zm13-23zm32-15zm1 35zm7 6zm-30 10zm4-16zm-14-1zm3-7zm-13 15zm5 4zm12 15zm9 25zm-22 31zm2-3zm6-4zm13 1zm-3-11zm-3-5zm4-3zm9-2zm5 7zm6 21zm-9-36zm6-17zm-2-8zm17 8zm16 16zm2 12zm-4 14zm13 5zm8 3zm21-12zm-3 5zm12-5zm-22-24zm-10-25zm-8-14zm0-33zm-42-39zm-4 1zm7 6zm3-4zm-1 17zm4-8zm-16-19zm-22 26zm-24-295zm6-11zm-14 6zm10-18zm5-3zm1 5zm-6-17zm-3-95zm-5 4zm-21 6zm-45-23zm5 14zm7 1zm1-22zm-13-6zm5 8zm28-23zm-1 8zm-9 0zm0 17zm19-8zm12 0zm-6-2zm10-9zm1 19zm2 0zm9-8zm15-10zm-6-5zm5-19zm-6 5zm-21 4zm12-11zm26 9zm-8 16zm0 5zm6 1z"/>
<path id="as7" d="M1020 250zm-25-4zm-142 137zm129-103zm6 3zm-2-23zm16 7zm2 3zm9-4zm5 10zm-18 9zm9 9zm-26 21zm6-5zm-2-8zm-20-1zm-1 7zm7-1zm-1 4zm-4-3zm13 21zm2-5zm-6-3zm19 3zm-22 34zm-5 11zm5 9zm-18 4zm-11-7zm5 1zm-13-1zm4-14zm10-7zm8-5zm-8 2zm-4-4zm-1-1zm8-18zm-11 12zm-27 62zm-10 10zm-6 16zm40-41zm6 6zm14-5zm11-1zm-11 18zm21-3zm31 42zm-23-2zm2-22zm-18-3zm-6 0zm-6 23zm33 9zm-10 55zm-55-45zm-10 20zm-1-12zm0-13zm5 52zm-16-7zm-14 6zm-4 5zm-3-14zm-3-2zm-4-10zm-2 13zm1 8zm-4 3zm-22-24zm8-2zm12-26zm-4 1zm0 8zm20-3zm-24-29zm19-29zm-10-12zm-19 9zm-19 6zm1-4zm4 6zm21 18zm-6 11zm-45-23zm-23 19zm-11 19zm-3 11zm2 8zm13 7zm4-22zm31 30zm-14 9zm-20 2zm5 1zm5-3zm-4-7zm-7-3zm-2 1zm0 8zm-6-10zm1 19zm-20 137zm1-4zm-18-19zm-1-4zm9-5zm9-6zm-2-13zm-69 24zm-2-32zm6-10zm7-27zm-17 12zm29-2zm11 7zm1-10zm10-2zm3 12zm5 9zm22-13zm18-33zm-1 11zm1-2zm-1-6zm5 2zm14 28zm-8 9zm5-19zm-3-2zm-5 0zm-19 4zm4 4zm3 17zm0 2zm-6 10zm5 1zm0 5zm4-9zm7 2zm2 16zm-7-1zm-8 0zm-2 31zm19-2zm3-17zm-2 4zm20 9zm-10 4zm11 8zm9-55zm24 12zm-4-14zm0 20zm-1 2zm-3-3zm-6 6zm14 33zm15-16zm-9-8zm6-2zm4 2zm9 3zm1 14zm7 5zm9-30zm-3-26zm0-18zm-8 10zm-10-44zm9 14zm4-15zm2-8zm20 35zm5 17zm11-5zm3 7zm-9-19zm27 7zm5 3zm6-13zm-2 3zm-5-19zm-11 9zm42-8zm0-5zm7-11zm22 9zm17 38zm-11 24zm-75 23zm13-32zm-21 10zm0-2zm-1-9zm-12 6zm4 5zm-9 57zm-25 27zm-1 7zm0-17zm-3-17zm-14 3zm-8 19zm-10 1zm13-14zm-5-5zm-7-7zm0 3zm-15 13zm12 6zm-10 21zm3 3zm-6 2zm-12-46zm8 208zm11-15zm-2 32zm0 18zm17-4zm1 4zm3-23zm6-1zm11 1zm7-1zm-4-2zm-8-35zm-7 3zm-3-1zm-1-3zm162-2zm-42 9zm42 22zm-1 16zm-5 52zm5 2zm-19-13zm-3 9zm-6 8zm11 31zm19 24zm-30-1zm7 21zm-53 17zm-18-24zm-3 14zm-27 2zm-48-111zm-4-2zm-345 103zm-20 4zm-12 4zm-17 1zm25-7zm-4-21zm-18 0zm7-4zm20 11zm-38-62zm-52 5zm-3 35zm47 12zm-12 23zm7 1zm-48 15zm-8 0zm-16-49zm-13-3zm-1-8zm-6 33zm6 6zm-73-31zm23-29zm-3 10zm-6 10zm-3-1zm16-43zm47-5zm-18 39zm16-1zm0-4zm4 1zm4-16zm7 7zm-1 20zm23-64zm-21-22zm8-5zm7-21zm-34 34zm73-66zm-19 13zm-8 2zm39 38zm2-9zm-8-11zm-185 165zm2 49zm19 22zm12 15zm8-1zm21 12zm4 4zm39 7zm30 5zm-6-5zm-13-4zm23-30zm-9-56zm52-2zm13 5zm25-4zm2 8zm18 8zm4 3zm-2 21zm-2-10zm-19 55zm0-4zm17-9zm-6-5zm-77-4zm-1 56zm615 410zm10-24zm2-34zm-7-6zm-2-5zm-33 42zm-17 6zm56-104zm-44-141zm-8-8zm-11-1zm-53 114zm-5 5zm-27-118zm-11 11zm-5 0zm-5-13zm-37 4zm-9 3zm-21 118zm30 42zm9 8zm69-46zm-49 52zm7 3zm-1 6zm22 2zm0 6zm8 7zm-48-13zm-102-111zm6 1zm20 34zm2-2zm2-77zm-4 2zm101-257zm-2 9zm-5 7zm-3-2zm-7 13zm10 21zm-17-20zm-17 89zm2 29zm2 8zm4 3zm2 8zm23 51zm5-10zm11 1zm-10-21zm11 1zm7 7zm-29-47zm22-47zm70 31zm12 6zm3-10zm-1 16zm-17 9zm-23 19zm18 19zm16-32zm82-12zm-13-17zm-13-1zm-5-1zm-17-24zm44-4zm-20-25zm5-4zm-2-5zm6-6zm8 0zm-32-30zm2 8zm-5 1zm-4 0zm-6 2zm17 36zm2 0zm-46-74zm0-35zm-7 13zm2 8zm9-23zm16 0zm8 0zm3 37zm2 4zm23-7zm45-31zm2 54zm23-17zm18 13zm-9-13zm12-6zm-10-20zm12-16zm32 29zm-1 15zm30 11zm-8 2zm-51-23zm1 36zm3 3zm9 3zm22 1zm1 5zm-3 27zm14 9zm1 6zm-48-24zm9 12zm-28 3zm6-50zm-6-2zm1 14zm-15-7zm-13-6zm-11 15zm-5 17zm-1 6zm10 1zm6-8zm10 5zm-13 17zm-13 3zm19 32zm2-13zm34 6zm1 11zm-21 9zm5 22zm2-10zm-19-5zm44 21zm6 10zm12 4zm-4-26zm6-34zm-9 5zm1 3zm-3 3zm28-30zm-12 20zm8 8zm1-13zm11 15zm24-31zm-10 18zm11-1zm4 4zm9-1zm5-12zm-11 5zm12 2zm23 8zm-20 2zm-1 13zm18-5zm-31 19zm7-17zm-3-3zm-12 11zm-6-3zm12 73zm38-18zm-14-5zm-9-9zm29-14zm14 15zm-10 45zm19-15zm-3 4zm0-18zm8 4zm19 4zm8-7zm-15-34zm18 0zm-2-13zm5-2zm-8-15zm-9 14zm4 0zm-16 1zm-5 3zm-18-16zm8 8zm5-5zm4-23zm-25 0zm55 4zm3-15zm2-27zm-58-42zm11 17zm-5 40zm-15-17zm-24 7zm-17 4zm7 6zm4-30zm-21-18zm11-9zm13 4zm2 0zm21 12zm0-5zm3-26zm-11 2zm-44 0zm12 0zm2 0zm11-34zm-22 5zm18-22zm49 38zm6 15zm54 50zm9 9zm12-6zm150-77zm2-22zm-15 109zm10-19zm10-18zm-7-5zm-17 33zm-18 22zm-37 114zm-7-7zm-1-28zm13-6zm-6-23zm-4 1zm12 1zm-18-32zm-6-13zm-2 4zm-5-13zm0 1zm-14 1zm5 21zm24 24zm-39 11zm-19-11zm1-11zm13-3zm-1-10zm-13-14zm12 17zm-28-5zm5 2zm4-15zm-19 30zm14-4zm-7 21zm-1-1zm-10 28zm16-2zm24-2zm-9 58zm6 2zm16 27zm-1 2zm58 13zm-3-16zm-39 10zm43-30zm-153 178zm-54-29zm-7-28zm29 15zm-1-21zm38-20zm-6 3zm-18 11zm6-16zm-2-5zm4-28zm11 3zm12-39zm17-3zm6-6zm-21-26zm-17 24zm-7-4zm0-1zm3-11zm-5-11zm-2 38zm-28 13zm14-44zm-28 6zm-8 13zm-1-12zm-6-7zm-15 5zm-2 12zm23 14zm-2 5zm26 74zm-12 6zm-159-94zm6 11zm12-3zm-6 5zm-3 5zm102 120zm-85 84zm-13-5zm-11 4zm7 20zm0 1zm17-16zm14 21zm-7 0zm46 1zm-15-5zm27 3zm36 2zm-5 14zm413-692zm-130 103zm4-13zm4 9zm20 6zm4 0zm2-21zm-43-52zm43 10zm-8-18zm18-64zm30-23zm-4-3zm2-5zm-18 8zm-18 12zm-11-20zm9-5zm-5-9zm-1 2zm-5-8zm0-11zm-3 4zm-1 0zm-31 15zm4-11zm-14-17zm9 80zm23 4zm-24 30zm-29-75zm1-35zm-11-1zm-7 11zm-11 4zm-3-3zm-16 12zm19 9zm-44-25zm-6 11zm-25 13zm17 12zm-26 8zm5 7zm9 8zm7 7zm33 13zm-18 16zm7-3zm-28 72zm18 5zm63 64zm2 4zm-17-8zm7 2zm-4-6zm-11-10zm-3 21zm-75-22zm-5 4zm-7-1zm-13 3zm-15-3zm9 3zm-5-6zm5-3zm1-14zm-6-2zm-21 7zm1-11zm11-11zm3 10zm27-8zm-4 15zm18-3zm-4-61zm-74 36zm1-10zm4-1zm-42-23zm1 2zm-2 65zm43-17zm-28 48zm-8-1zm-4 7zm-32-19zm-11-34zm-34 56zm-8-2zm-12-20zm-6 14zm-8 4zm-5-11zm-10-6zm4 3zm10 2zm-24-47zm6 5zm35 10zm-10 7zm-1 8zm10-3zm14-24zm3 2zm-6-8zm0-21zm-8 4zm-7 2zm6 3zm-1 7zm-10 0zm-33-11zm11-12zm11-9zm-16 0zm0-9zm11-8zm34 19zm36-5zm-11 7zm-12 7zm58-48zm-7 6zm-15-8zm20-6zm-1-43zm-18 14zm-18 11zm-2-17zm1 38zm4 9zm-9-6zm-15 0zm-10-5zm-17 8zm10 0zm-25 0zm0-3zm-19-12zm11-24zm-11-2zm5-10zm13 5zm18 9zm-4 10zm19-18zm2-37zm-21 12zm-17 4zm-1-5zm-4-7zm73-7zm-18 3zm8 3zm-6 10zm25 5zm-9-5zm2-6zm11 22zm14-4zm-10-44zm-5-13zm7-1zm3 0zm3 4zm68 23zm-4 2zm25 38zm34 22zm1-23zm8 8zm0-42zm-2 11zm-11 2zm11-33zm-11 11zm18 4zm8 1zm-4-6zm-8-12zm-28-23zm-84-47zm-1 9zm21 28zm-25 11zm-8-15zm-77-230zm25 4zm61 25zm-13-21zm292 245zm-275-331zm11 17zm-5 15zm-8 38zm-13-6zm-8-2zm-23-47zm-14 3zm5 22zm12 6zm7 7zm-2 8zm-12 8zm9-5zm-7 10zm-33 1zm-30-56zm15 21zm18-21zm2-9zm-3-12zm9-9zm-12-1zm-38-1zm62-14zm13 11zm4 2zm12 7zm-5 1zm9 8zm12-24zm-11-10zm3-12zm15-17zm-10 2zm-4 4zm-12 3zm6-28zm0 2zm11-1zm6-22zm6-3zm-11 4zm-49 17zm27 2zm-2 10zm-23 12zm-12-22zm-5 8zm-46 0zm-3-11zm7-27zm12 3zm8 6zm21 16zm-22-34zm-10-1zm0-19zm8 1zm-1-7zm-10-10zm-2 6zm1-1zm-5-15zm-7-12zm16 14zm7-10zm-2-3zm0-1zm3 0zm22 14zm-1-10zm17 6zm8 4zm5 15zm-10-7zm-1 9zm42-19zm-12 0zm6-5zm0-4zm34 9zm5 4zm3 16zm-16 45zm4 0zm9-1zm3-12zm7 7zm-16 23zm3-6zm0-3zm-4 25zm-46-115zm-42-15zm-5 1zm-8-1zm-5 9zm-29 3zm2-14z"/>
<path id="ad8" d="M858 507zm-10 1zm-12-2zm-45-36zm7 4zm1-12zm9-11zm18-1zm-8 21zm-9 7zm-7 8zm-1 3zm0 4zm19 14zm-17-8zm-4-15zm-48 111zm-20 8zm-9-10zm8 1zm5 0zm-7-10zm-5 3zm4-2zm-14-4zm3 17zm76-61zm2 5zm3-21zm7-8zm0 11zm15-7zm12 21zm-16-10zm-11 8zm2 13zm20-1zm-4 6zm-9 15zm-11-4zm43 17zm8 7zm2-3zm-3 14zm43-20zm-1-28zm-12 6zm-12 7zm-1 7zm-6-9zm-11 4zm-11-11zm-6-1zm12-10zm4 7zm5-13zm3-5zm-11 1zm-15-2zm14-13zm-7 6zm14-11zm-1 4zm14-5zm57 92zm-23-15zm-5 16zm14 5zm4 17zm-74 23zm15 26zm4 2zm53 341zm1 2zm-514-42zm9-3zm2-7zm-7 42zm7-2zm-3-18zm-12 13zm-19-14zm-3-11zm0-3zm2-1zm1-1zm-5-3zm-4-6zm-5 10zm2 10zm-35-26zm-9 20zm7 8zm-4 16zm1-5zm9-1zm-2-7zm2 29zm-25-27zm-3 10zm-7-1zm-7 11zm1-2zm7 5zm-12-3zm-1-5zm-25 6zm-4-15zm12-8zm4 4zm8 4zm-8-13zm5-3zm22-21zm2 8zm-7 17zm22-14zm-4-41zm-11 9zm-1-7zm2-7zm29-22zm4 20zm-10-8zm-2 34zm28-60zm62-12zm-165 139zm3 47zm-5-26zm6-4zm-5-6zm7-5zm3 3zm10 9zm-4 0zm18 14zm2-18zm3-6zm10 11zm19-4zm3 6zm-26 11zm-2 8zm-1 17zm-3-5zm-14-8zm-6 1zm-1 16zm9 8zm11 5zm2 6zm30-9zm15 3zm-5 13zm35-1zm3-4zm-5-1zm-7 1zm1-7zm18-21zm4-1zm6-13zm-1-2zm-9 5zm-2 7zm-24 6zm-15-9zm8 3zm8-6zm1-5zm2 1zm-10-19zm2-16zm4 15zm36 6zm5-17zm20-4zm-23 31zm5 5zm6-3zm-1 12zm-8-5zm19 10zm8-10zm-5 0zm21-8zm-6 6zm13 19zm2-16zm-16-17zm-2-1zm30 2zm19 22zm-16 0zm3 11zm-39 58zm11-16zm6-4zm6 11zm5-28zm-21 0zm5 3zm-9 12zm-9-1zm-6-10zm5-19zm-17 13zm-10 18zm7 6zm8-2zm15 4zm-4 9zm607 413zm-19-20zm-4-3zm6 1zm6-9zm-4-4zm21-39zm-4 0zm-24 15zm-2 7zm-3 3zm-5-2zm-5-21zm-14 20zm25 7zm-33 6zm-4 1zm-10-2zm-45-14zm2-9zm21-12zm12 4zm23-11zm-3-3zm-2-12zm-7 0zm-5 4zm3 3zm-17 3zm-18-2zm-2-7zm21-3zm-3-7zm2-4zm-28-7zm15-22zm25 5zm-7 7zm2 9zm-3 5zm12-2zm11-4zm35-11zm1 6zm-28 9zm2 17zm1 6zm12 14zm5-16zm11-14zm0 8zm1 21zm4-4zm9 4zm-2-12zm15-10zm-11 6zm5-4zm-3-10zm-13-6zm1-24zm10-2zm6 1zm-4 6zm9-13zm-2 5zm-16-5zm4 2zm-2 0zm-17-1zm-2-2zm-2-5zm-4 8zm-3-3zm-12-3zm19-16zm5-18zm-17 11zm-1-21zm38-10zm-14 29zm3-5zm13 7zm13-43zm-21 9zm-7-10zm6-2zm15-16zm-3 1zm1 5zm-4-16zm7-7zm7 7zm-23-12zm-4-4zm0 9zm11 2zm-16 8zm-4-3zm2-8zm-5-1zm5 47zm-6-2zm-3-1zm-8 0zm-11 0zm-10-3zm-3-5zm-10 12zm-3 1zm8-13zm3-27zm6-5zm-23-8zm1 4zm8 4zm4 3zm-5 7zm-7 1zm-4-3zm-8 2zm-3-11zm11 6zm-2-20zm-18 2zm9 33zm12 0zm-15 3zm7 13zm-1 9zm-15 4zm-5 27zm15-4zm6 5zm-6-30zm20 2zm4 3zm11 0zm11 24zm-18-11zm-12 4zm6 8zm-5 13zm10-5zm18 22zm-6 2zm-19-10zm-5 0zm-6 6zm1-18zm-5-7zm1 6zm-14 3zm0 8zm-21-6zm-17-24zm12 9zm3-13zm13 4zm-9-7zm0-10zm5 2zm-8-18zm-9 3zm19-12zm-6-20zm-1 0zm-17-11zm0 19zm-13-6zm-5 1zm-4 2zm-10 2zm-3-3zm3 15zm13-10zm6 5zm-1 4zm-5 1zm12 15zm-18-6zm-8 12zm-26-28zm15-5zm-7-13zm-3-5zm-8-4zm-20 18zm2-5zm-12-3zm19 15zm-21 15zm8 32zm1 2zm18-14zm22 25zm-10-6zm-4 23zm-2-8zm-21 25zm5-19zm41 33zm8 17zm31-2zm7 14zm7 15zm-8-7zm-27-6zm-6 3zm-11-8zm-68-54zm-6-63zm-1-13zm-2 7zm-4 2zm-6 11zm140-301zm-19 13zm14 20zm5 15zm-20-7zm-4 20zm-5 3zm21-12zm15 39zm-16 15zm-18-11zm-22 14zm-25 3zm15 68zm15 39zm6-1zm36 20zm4 0zm3-31zm-33-72zm-5-3zm0-12zm21 17zm33 7zm13-16zm10 3zm24 13zm-6-4zm-7 6zm-13-4zm-14 33zm1-9zm-3-5zm-7 0zm1-10zm-4 3zm0-4zm18 44zm-7-3zm1 7zm5 8zm6 2zm-3 31zm-3 2zm11-8zm6 4zm11-14zm10-11zm-3-10zm-9-4zm-14 1zm-2-10zm2-2zm25-2zm10-2zm8 10zm-2-10zm3 2zm3 19zm-5 4zm-5-9zm-2 23zm-5-1zm21 10zm-5 11zm9-22zm-7 1zm12-4zm4 1zm8 3zm-9 5zm-2 8zm3 4zm5-6zm4-4zm10 11zm3-2zm4 1zm-10-25zm7-1zm-7-10zm-19 3zm7-6zm4-6zm0-5zm-11 1zm3-3zm18-11zm-10-1zm-12 0zm-8 5zm4-8zm-20-8zm40-63zm-39-25zm-27 12zm-16 3zm-20-35zm7 10zm0 2zm5 0zm3-2zm7 3zm-12-28zm-3 3zm9-8zm-26-18zm3-12zm-2-3zm9-7zm3-1zm-1-4zm8 7zm202 12zm-12 36zm2-3zm-8 32zm14 0zm-22 22zm-35 19zm3-4zm3 0zm-22-30zm29 50zm0-7zm9 16zm-2 27zm2-2zm8 11zm-62 5zm7 1zm22 2zm-4 11zm-8 8zm6 8zm-20 8zm-1 19zm4-1zm9-21zm21 7zm-5 5zm2 2zm8 12zm0-1zm9-19zm2-6zm3 2zm0-20zm-7 0zm-2 6zm-9-4zm-2-9zm12-7zm44-2zm-5 28zm-16-1zm-3 2zm3 1zm-2 16zm6 2zm0-2zm17-4zm-4 2zm-5-4zm3-6zm5-4zm28 26zm7-2zm0-7zm0-6zm-5 3zm-18-19zm-7-5zm0-4zm4-14zm14-13zm2-16zm-14 7zm7 12zm-28-43zm64 40zm-16-2zm125-4zm-17-32zm13-14zm-2-4zm-15-23zm19-9zm0-26zm-19 9zm-16 7zm2-7zm0 22zm-30-53zm-4-6zm-15-9zm-12 2zm-2-8zm2-2zm4-23zm16 17zm1 8zm4 4zm4-7zm3-7zm-14-4zm1-4zm4-5zm11 1zm29 8zm32 9zm-7 4zm-1-19zm10 9zm10 6zm22 1zm32-14zm-10 7zm-17 6zm1-1zm-3-4zm2 10zm22 11zm-16 13zm-6-1zm-2 4zm5 5zm-2 2zm-16-11zm5-9zm-11 7zm-7-9zm-2 3zm1 30zm12-2zm8 1zm-1 18zm-14 2zm28-9zm20-3zm16-13zm18 3zm-4 8zm-14 7zm-9 13zm9 24zm7-4zm6 11zm6-14zm-13-8zm16-5zm5 27zm19-3zm1-35zm-2-8zm-3 11zm-19-8zm12-2zm-3-4zm17-9zm-12-6zm-5-18zm-3-8zm-30 18zm7-19zm12-6zm-22-3zm-7-2zm21-14zm-2-3zm17-3zm21 2zm6-1zm1 6zm11-3zm19-5zm0 4zm-12 10zm6-2zm-16 2zm-6 7zm4 12zm6-1zm14 17zm3-11zm-13-5zm4-2zm16 1zm7 25zm0-10zm-6-49zm0 74zm-16 10zm7-18zm-28 6zm3 31zm7-3zm2-6zm15 7zm-9 16zm-9 1zm-7-6zm-40 134zm2-5zm-17 10zm-12-8zm8 1zm5-4zm7-22zm-11-26zm3 0zm33-58zm2-8zm-11 7zm-52-7zm-48 49zm13 41zm49-13zm-26 10zm-4 21zm6 3zm17-15zm-3 23zm7-1zm-7 3zm-6-2zm-20 5zm1-22zm-11 3zm5 0zm-4 3zm-4-9zm42 31zm29 39zm6 0zm1-21zm0 1zm-8 1zm-14 5zm4-19zm3-8zm9 12zm-1-1zm7 3zm17-2zm4 10zm-160 189zm-14 4zm-44 34zm-7-13zm37-26zm-37-22zm-14-11zm7-21zm-4-18zm-4-5zm17 8zm47 25zm18 14zm9-81zm9-39zm-97-18zm5-3zm18 19zm-5 5zm0-5zm-14 4zm-4 1zm-3 12zm1 8zm7 12zm0-13zm17-11zm16 18zm1 22zm4 5zm-24 4zm0-8zm-8-1zm-9-8zm-2-5zm-3 9zm5 2zm-19 14zm-8-3zm-3 6zm-18-7zm-9 2zm-1 4zm-4-4zm7-2zm10-9zm-7-15zm-2-10zm-8-10zm17 0zm13 20zm4-3zm3-1zm19-1zm-14-12zm5-4zm-17-21zm-5-18zm1-2zm9-1zm21 11zm-23-33zm-3-3zm-6 16zm-10-13zm-20-7zm14 19zm-3 0zm3 4zm-13 7zm5 10zm4 3zm14-8zm-3 14zm7-3zm-3 10zm-3-2zm-24 1zm-28-1zm-3-9zm13-6zm-5-5zm19-4zm-5-30zm-4 5zm-12-2zm-9 16zm0-11zm1-1zm-14 0zm-12 7zm6 29zm19-13zm-2 21zm-22 4zm-2 10zm8 10zm-6-2zm-3 10zm20-3zm-3 2zm0 9zm5-7zm-1-18zm29 14zm9 4zm-21-1zm2 18zm1 6zm2-10zm9-1zm7 2zm-9 25zm-10-8zm-5 7zm-13 2zm6-12zm-1-11zm1-8zm-1 1zm-24 13zm5 10zm-3 20zm24-5zm-5 0zm-4 9zm-4 10zm-9 3zm0-2zm-5 12zm8-3zm-3 10zm-2-3zm0 8zm-1 4zm18 5zm4-20zm7 1zm2 7zm16-14zm6-15zm-6 4zm1 7zm-7-15zm-10-2zm-2-6zm19 8zm4-14zm18 17zm11 11zm5 0zm-10-23zm15-1zm18 5zm2 7zm-13 8zm-1-9zm-5 12zm1 16zm18-9zm5 22zm-15 6zm-19-3zm4-16zm-21 2zm-4 3zm-2 43zm20-9zm3 5zm7 0zm-7-8zm0-9zm9 3zm6 4zm1-9zm1 13zm-5 23zm8 6zm-3-9zm1-6zm9 4zm-2 15zm-24 9zm-3-8zm9-13zm-15 4zm-4 0zm2 7zm-12 7zm-28-25zm4 7zm9 8zm12-8zm0-20zm-23 12zm-6-7zm-10 0zm1-6zm6-4zm-9-7zm-18 0zm6 16zm3 6zm0 25zm-6-2zm25 15zm3 0zm44 8zm-6 3zm-6-14zm28 15zm25 2zm-1-4zm-4-3zm7-3zm8 4zm16-1zm-2 1zm304-555zm7 4zm-20-2zm3 7zm-17 2zm-2 18zm-7-8zm1-4zm-6 6zm-2-7zm6-17zm-19-4zm-5-24zm10-3zm1 1zm42-9zm2-9zm-9-6zm-27-1zm-8-11zm67-17zm5 47zm32-2zm-19-32zm5-65zm5 3zm9-14zm-24-23zm-68-13zm4 1zm-74 44zm-76 10zm-7 22zm3 38zm5 19zm40-21zm5-12zm50 8zm-18 59zm19 7zm18 21zm-81 0zm15-2zm1-13zm-9-9zm5-15zm-8-3zm-14 15zm7-2zm1 4zm-16 7zm-1-2zm-8 18zm-22 17zm-1-12zm-19 5zm0-2zm-18 11zm-9-1zm-3 2zm-2-7zm2-7zm4 5zm-1-9zm-5-11zm7-34zm50 26zm-20-47zm-4-1zm11-10zm4 11zm4-34zm-24 19zm-2-3zm-2-5zm-29-18zm5 33zm7 12zm15-4zm-7 3zm-16 15zm-27-21zm-8 2zm30-28zm-4-1zm0-4zm-8 4zm-5 2zm-1 5zm-22-18zm-10 12zm10 21zm4 2zm-1 36zm-10-3zm5-3zm17 9zm3-6zm15 13zm7 0zm-1 5zm-16-8zm-14 2zm1 14zm23 11zm-13 18zm1-11zm-4 0zm-4 10zm-18-26zm-7 5zm-15 9zm-25 14zm7-28zm6 3zm5 10zm1-5zm7-4zm-1 1zm2-13zm-13-2zm5-18zm-21 9zm-24-10zm-7 2zm4 22zm-6-4zm9 15zm4 6zm0-8zm6 16zm3-2zm4 8zm-14 2zm3-3zm-36-120zm14 13zm15-13zm21 26zm-17 8zm1 15zm18 7zm-11-21zm20 0zm-3 7zm-5-1zm3 11zm26-3zm-4-8zm3-8zm-9-5zm-14-12zm6-2zm0-8zm11-8zm2 13zm-32-37zm-12 13zm-9 3zm0 5zm-4 1zm33-89zm25-4zm-8-11zm-10 3zm5-5zm32-19zm4 24zm9 0zm0-15zm2 4zm-5 0zm17-9zm8-2zm3-4zm2 5zm2-3zm-17 15zm-5 18zm0 10zm7 0zm23-2zm-4 16zm3 3zm-44-2zm14-16zm-14-3zm0 6zm-9-11zm-2 2zm-4-1zm-1 1zm5 8zm25 29zm-1 9zm-29 14zm13 13zm-13-7zm41-6zm-6 11zm11 14zm8-3zm2-19zm35-35zm-1 3zm-3 20zm-23-9zm-1 7zm4 21zm1 4zm12 1zm11 13zm-10-18zm25-7zm-2-1zm-5 22zm7-7zm8 11zm7-5zm-4-17zm6-4zm-35-49zm-25 9zm8-14zm0-8zm20-20zm-26-7zm7-9zm28 6zm-2 8zm-67-34zm27 17zm-31-28zm-13 27zm-42-10zm28-275zm-7 7zm-1-13zm-7 4zm7-8zm0-15zm3-5zm-17-3zm-3-7zm8-13zm-20-89zm3-10zm0-8zm-27 12zm-22-13zm15 9zm-5-10zm-23-3zm-25-15zm81-18zm-7 4zm-7 14zm-8 7zm22 5zm2 2zm-7-12zm12-13zm0 4zm2-1zm9 13zm9 7zm10 3zm-5-19zm16-15zm-9 32z"/>
<path id="as8" d="M1008 244zm-16 12zm13 31zm-5-9zm-5 7zm11 9zm-2-4zm9 14zm-11 7zm-11 4zm-12-7zm-9 15zm-1 3zm13 18zm37-14zm4 17zm-28 14zm16-8zm4 6zm-51 8zm-2 2zm2 1zm-19 9zm14-12zm-6-26zm5 1zm-28 97zm12-52zm41 2zm9 22zm-11 34zm-5-10zm7 15zm-10 59zm-42-7zm7-31zm-18-7zm2 18zm-4 9zm9 7zm-7 13zm-28-27zm-8 3zm-12 4zm4-7zm-9 2zm-2 5zm6 8zm-16-3zm-18-15zm6-9zm9-21zm-4 4zm22 12zm10 0zm6-71zm-30 14zm-8-5zm-3 26zm2-10zm-4-2zm0-1zm3-1zm-10 26zm-13-1zm-15-16zm13-2zm8-10zm-11 0zm-24 3zm-4 25zm-8-2zm-11 10zm12 7zm-12 2zm5 5zm12-15zm28 39zm-53 146zm2-6zm-20 4zm-8-9zm-24-14zm22 17zm-42-18zm9-10zm-13-16zm13-30zm23 18zm3 2zm-8-24zm31 12zm15 13zm17-54zm-12 12zm12 15zm-5 15zm5 0zm-10 17zm22 1zm4 0zm-1 10zm-9 13zm-14 9zm8 0zm0 8zm28-5zm5 4zm1-7zm12 1zm-9-18zm-1 10zm-6-7zm6-20zm21 12zm23 5zm-17 12zm-13 5zm18 22zm5 4zm20-23zm-6 5zm2 5zm12-19zm-17-3zm6-6zm4-10zm-4 4zm-2-1zm-6 1zm0-3zm15 2zm0 2zm-3-21zm-8-52zm3-5zm-4 16zm33-13zm9 5zm-2 15zm10 38zm-3-21zm21-2zm18 7zm2-11zm-8-13zm-13 3zm2-9zm-3-3zm-5-10zm61 28zm1-5zm0-6zm-1-20zm12 11zm18 33zm-85 61zm-7-7zm11-22zm-10-9zm5 7zm-10 49zm-9 2zm-13-6zm4 13zm-6 27zm13 14zm-47-8zm16-25zm-6 9zm-28-2zm-11 23zm-11 174zm25-22zm2 16zm-16 19zm-1 7zm6 12zm8-20zm29 8zm4 12zm2-11zm-17-24zm0-17zm7-4zm13 6zm-25-22zm-8 5zm-7-3zm134 44zm28-10zm6 17zm0 9zm1 9zm-119-11zm16 13zm18 19zm-2-5zm88 12zm-13 11zm1-7zm-3 22zm7-12zm-44 16zm-5 29zm39-8zm-1 36zm5 11zm-3-1zm-68 9zm-3-2zm-1-2zm-8-13zm-6 9zm-444 7zm-16-2zm10-15zm8 2zm6-6zm-3-4zm-7-9zm11-1zm9 2zm3 4zm-56-41zm-1 4zm-4-8zm-33-47zm-14 11zm4 81zm54 12zm-2 6zm-14 7zm-3-2zm-6-3zm-4 10zm-17-19zm-14 19zm-15-20zm12-40zm-4 5zm-20 0zm-1 2zm1 9zm-11 9zm-5-8zm-2 0zm7 3zm-87 6zm6-22zm4-3zm6 1zm35-9zm-11-14zm-14 11zm16-31zm36-20zm16 24zm-8 6zm16 7zm22-18zm-16-10zm-11-35zm23-34zm39-33zm-2 23zm-29 9zm11-5zm10 6zm-22 30zm20 22zm18-44zm-169 136zm-19 20zm0 9zm5 45zm4 5zm-1-18zm-11-13zm-3-3zm72 45zm-15 41zm34 2zm-6-3zm2-7zm-1 1zm-4 6zm-8-13zm-2-12zm13 10zm8 18zm62 19zm-1-2zm1-3zm-15-35zm3 0zm10 4zm0-20zm-10 5zm40-61zm-11 15zm12 7zm-22 41zm47-45zm9-12zm4 4zm27 5zm-4-1zm-1 1zm-4-2zm-2-8zm13 0zm-3 35zm-22 67zm-62-40zm-4 46zm600 423zm-28-19zm37 16zm9 9zm0-8zm10-3zm3-29zm-4-32zm-7-10zm-46-4zm28 52zm-9 0zm-22 0zm-7-13zm-13-7zm73-84zm-5 10zm-32-146zm-117-1zm-19-11zm-36 4zm-17 0zm7 140zm33 33zm-6-5zm-20-23zm60 49zm22 9zm-2 7zm-153-143zm0-2zm4 28zm20 13zm6 6zm-16-58zm90-258zm46-51zm-43 49zm13 5zm10 39zm-24 12zm-19 3zm-7 18zm7 6zm-6-3zm0 31zm10 10zm6 30zm22-11zm13 9zm-11 1zm-8 11zm10 33zm10-19zm16-2zm-3 14zm19 1zm-6-26zm-14 1zm2 6zm-9-10zm10-1zm5-14zm-22-11zm-16-1zm4-23zm-12-8zm124 7zm-3 13zm-11-5zm-44 10zm5 26zm8 13zm-7-2zm1-6zm35-18zm4 0zm66-15zm3-5zm-36-2zm9-7zm-5-13zm0-7zm-9 10zm-8-1zm2-11zm53 4zm1-10zm-10-7zm-6-20zm-5-38zm-16 47zm-67-96zm13-10zm22-7zm37 5zm-28 21zm1 24zm14-18zm41-14zm-1-21zm47 59zm7-9zm13 2zm-7-14zm4-2zm-13-13zm-2 4zm-1-16zm-4-10zm2-1zm83 1zm-12 27zm1-4zm-7 18zm-1 10zm-4-6zm-15 23zm-4-4zm13-2zm19 27zm-8 8zm-36 26zm-20-13zm-2-3zm-4-14zm11-22zm-9-2zm3-8zm-40 0zm-4 15zm11 4zm-2 5zm-11 22zm7-9zm14 2zm-3 5zm-10 18zm3-6zm-12-1zm3 16zm5 10zm6 2zm9 2zm-3 4zm-3-15zm23 16zm1 6zm-41 4zm70 39zm10 12zm8-39zm-4-15zm-12-16zm-4-8zm3-2zm36 15zm-1 1zm14-3zm-2-17zm13 28zm15-9zm12-11zm18 12zm-13 4zm3-1zm1 17zm5 14zm-19-6zm-14-14zm-7-4zm8 79zm27-13zm7 12zm16 15zm-1-5zm-4-7zm3-3zm2-28zm-14-1zm-12 13zm-3-23zm20 1zm15 3zm8-8zm15 21zm-22-8zm4 15zm6 2zm-15 26zm30-19zm-8 2zm18-7zm-2 16zm4 7zm15-18zm-5-4zm3-41zm5-16zm-17-6zm-5 9zm5 8zm-39 7zm24-21zm-19-36zm9 1zm40 20zm5-39zm-15-5zm10-5zm-42-32zm-2 2zm-5-9zm-3 3zm3 20zm-6 28zm-19-11zm-8-51zm6 1zm-32 1zm-12 6zm17-30zm10 14zm-27-34zm-2-8zm12-1zm15 7zm1-8zm41 60zm20-11zm102 8zm-13 2zm-6 1zm-40 43zm-3 2zm6 6zm20-7zm-11-10zm38 19zm0 10zm8-12zm-5-6zm14-96zm32-11zm82 38zm-7-25zm-14 99zm13-25zm-18 25zm-2 11zm-23 9zm-32 103zm5 13zm-15-27zm3-19zm5-43zm-18-9zm-12-17zm6 11zm-6 30zm18 7zm-12 8zm-16-7zm-10 0zm-7-11zm12-2zm8-21zm-30-18zm14 26zm-27-3zm-12 1zm-8 5zm17 3zm8 10zm-7-5zm-1 11zm5 0zm3 5zm-21 15zm8-7zm13 18zm2-14zm13 6zm21 1zm-28 6zm-27 33zm-4 10zm14 17zm20-7zm6-2zm-2 14zm69 17zm-20 17zm-8-3zm-17-14zm45-31zm12 18zm-6-11zm-159 205zm-3-24zm0 32zm-10-86zm13 0zm7 11zm-2-1zm5 9zm-23-11zm21 34zm-3-16zm17-34zm-17-13zm1-1zm-10 7zm-15-13zm23-19zm-3 1zm-6-11zm23-9zm12-22zm3 8zm-18-24zm5 2zm17 10zm-8-19zm-1-1zm-16-15zm6 14zm-8 5zm-3-9zm-17 12zm19 11zm-6 18zm-11-11zm-35-1zm18-44zm-21 20zm-32-4zm2-4zm5 9zm8 10zm22 36zm7-2zm2 29zm1 14zm2-1zm7 3zm-3 10zm0-2zm-9 0zm-8-6zm-5 5zm-43-121zm-8 12zm-106 21zm7 0zm9 6zm-1 9zm101 122zm-10 7zm-91 68zm2 1zm-3 39zm-6-22zm17 0zm47 12zm-12 3zm63 0zm7 10zm41-17zm-5-1zm341-553zm-25 11zm-44 6zm-14 5zm15-10zm-43-33zm18 0zm-3 6zm13 1zm9-12zm-50-77zm46 24zm12 4zm15-59zm-2-13zm-14-18zm19-1zm17-14zm-4-10zm-20-25zm-10 8zm4 8zm4 14zm18-9zm-2 0zm-13 21zm-3-3zm-19-21zm-16-24zm8 13zm-7 8zm-16-5zm3-22zm-8 10zm-11-6zm4-6zm-4-1zm4 20zm-3 3zm-5 8zm31 45zm20 43zm-55-24zm-5-8zm4-64zm-10 7zm9-13zm-4-14zm-5 8zm-10 1zm-18 13zm3-18zm-21 4zm8 7zm-5 12zm11 5zm-32 13zm-3 13zm12-29zm-20-28zm-1 24zm-16-2zm-19 19zm5-2zm-9 7zm-2 19zm14-6zm-11 12zm26-2zm-1-5zm-20 109zm14 4zm-5 4zm33-1zm71 2zm-12 49zm6-2zm-15 8zm-3 1zm-1 3zm-1-8zm-8-5zm-14 1zm-27-5zm-13-14zm-5-19zm2-4zm-7 0zm-19 15zm4 3zm5 4zm-27 25zm-17-8zm5 4zm-9-8zm-19-15zm5 1zm-4-12zm-11 3zm23-12zm1 8zm39 6zm-4-19zm3-18zm-87 6zm-38 8zm52 9zm-115 49zm-23-12zm-8 24zm-11-12zm-13 4zm14-19zm1-23zm8 0zm7 11zm10-5zm-1-2zm8-15zm-5-12zm-18-13zm-32 6zm-3-4zm6-1zm9-8zm10 10zm2-14zm-2-2zm-8-2zm-11-4zm-5-14zm8 0zm5-5zm12 14zm2-4zm30 9zm21-14zm6-4zm6 12zm-13 5zm-11 28zm42-57zm2-21zm10 1zm-21-11zm-4 1zm-14 6zm-11-24zm0 6zm5 14zm-3 2zm-5 10zm10-2zm-5-3zm12 20zm7 10zm-54-8zm3 3zm-29 3zm-11 0zm-1-10zm14 0zm7-25zm26 4zm13-10zm-10-13zm0-9zm3-10zm1-13zm-15-3zm-1 26zm1-4zm-21 2zm3-22zm8 5zm-4-9zm5 0zm60-20zm-24 24zm4-5zm5 23zm26 0zm-4-29zm32-26zm73 78zm52 2zm-13 4zm5 5zm8-32zm-2-13zm-10-5zm2 4zm-21-7zm1-8zm26-5zm-2-8zm-21-22zm-93-34zm2 4zm9 1zm31 7zm9 5zm2-1zm-57 6zm-22 12zm6-18zm2 2zm-30 21zm-61-252zm90 3zm31-104zm0-10zm-13 16zm21 17zm6 13zm-50 55zm-6-24zm11 13zm-19-25zm3 0zm-11-5zm-20-13zm-4 22zm1 6zm28 5zm-17 25zm-22-26zm-46 2zm14 6zm-22-41zm58 23zm4-10zm-12-11zm8-7zm-10-2zm-3-17zm-7 9zm20-25zm3 4zm2-24zm2 50zm5 1zm2-3zm11 7zm3-2zm20-10zm13-13zm-6-20zm-17 10zm24-34zm3-13zm-7-23zm3-1zm7-1zm-17 7zm-20 6zm-12 0zm-22 14zm-11-13zm-3 5zm-9-4zm3 10zm-8 9zm-24-20zm-2-29zm25 10zm30 8zm-1-48zm-7 2zm-24 9zm-12 15zm-8-6zm10-12zm-10 1zm5-14zm20-7zm-9 0zm-15-9zm5 7zm2-11zm4-6zm15 0zm11 1zm-6 8zm5 14zm2-12zm46-14zm-14 19zm2 40zm19-49zm2-12zm48 24zm9-5zm-3-2zm-6 45zm8-9zm-15-15zm3 9zm-10 28zm2 3zm13-6zm-3 20zm-6 2zm-8-10zm-2 28zm6 2zm3 12zm-30-136zm-52 6zm-13-2zm-9-1zm-12-5zm2-4zm-4 2zm0 1zm-11 6zm0-10zm7-4zm6-2z"/>
<path id="ad9" d="M854 500zm9-22zm-19-13zm-8-12zm29 15zm5 4zm-59-36zm12-6zm-22 32zm5-2zm5-1zm3-1zm-3-6zm11 18zm-1 5zm-17-5zm3-1zm-4 11zm6 25zm-43 77zm-30 10zm-14 11zm9-16zm-13 3zm-4-2zm1-11zm78-54zm19-7zm7 23zm10 17zm-10 10zm-12 5zm-5 4zm84-28zm-6 6zm7 1zm-15 4zm5-11zm-9 23zm-26-13zm1 1zm-8 1zm-3-10zm19-16zm-8-11zm-7-3zm13-3zm29 26zm17-10zm27 75zm-5-9zm3-3zm-21 14zm5 7zm2 7zm6-1zm-47 65zm-21-32zm-6 0zm24 30zm-439 260zm10-45zm-3 2zm-9-5zm-2 11zm-27 13zm17 21zm-3 9zm-7 10zm-6 13zm-9 4zm5-1zm-5 8zm4 2zm15-11zm4 7zm7-3zm-12-11zm4-1zm-2-8zm26 9zm-14 11zm-8 27zm-3-1zm-48 17zm11-30zm14-11zm-13-20zm-8 14zm5 4zm-41-11zm-5 28zm29 9zm-14 15zm-12-6zm-9 2zm-7-4zm12-2zm-12-14zm-31-2zm-3 9zm12-12zm-2-3zm1-5zm-2-1zm-3 8zm-12-15zm16-2zm13-9zm0 7zm3 15zm20-3zm-3-36zm-2-5zm-4-8zm26-28zm1 5zm-1 6zm-5 4zm-7 36zm41 0zm-1-8zm-10-54zm22-14zm-31 3zm-1 4zm85 3zm-182 111zm4 32zm5 17zm22-1zm28 9zm10 19zm22 29zm13-1zm-17 1zm47 3zm-25 1zm-2-24zm13 1zm1-3zm1-6zm-5-14zm-3-5zm-10 20zm-14-1zm4 7zm-21-14zm8-11zm22 8zm-3-28zm-7-10zm8 0zm18 4zm-11 15zm-2 2zm8-5zm8 4zm17-23zm15 31zm15 8zm2 7zm2 7zm1-30zm41 3zm-2-8zm-4-6zm17 20zm-7 4zm-7 20zm-4 3zm-3 14zm-4 7zm4 14zm-34 21zm-1-13zm7-6zm13-19zm-13-7zm-6-3zm1 9zm5 6zm5 4zm2 3zm-5-2zm-17-4zm2-2zm-12-19zm-3 15zm-11 23zm10 2zm16 1zm580 422zm-18-8zm-4-9zm3 6zm29-3zm5 6zm-9 7zm3-19zm-6-15zm9-37zm-17-10zm-24 20zm5 10zm13 9zm-57-14zm-8-6zm32-16zm2-14zm1-2zm8-6zm-17-13zm-12 8zm-16-13zm-2-14zm20-10zm12-1zm13 25zm11-12zm0-4zm18-7zm3 23zm-10-3zm-9-2zm5 13zm-4 7zm1-2zm-6 22zm18-5zm19-21zm4 10zm-14-4zm6 19zm22-17zm-2-12zm-21-11zm3-1zm12-27zm-4-6zm8-8zm-7-7zm-8-1zm-4-3zm-3 22zm-16 5zm-6-7zm3 1zm7-6zm6-11zm-5-19zm5-3zm2-4zm6 9zm15 2zm2 5zm9 2zm-3-5zm-3-9zm-8-5zm8-9zm-4-14zm-20 8zm4 1zm10-8zm1-7zm8-9zm5 9zm3-16zm-4-7zm-3-13zm5-7zm0 2zm-5-1zm-9 0zm-13 0zm-10 24zm-3-6zm0 24zm-9 4zm-5 0zm-3 9zm-8-1zm-6 1zm-9 3zm-12-10zm8-10zm-2 6zm-7-10zm14 3zm4-12zm5-13zm-4 0zm-15 7zm1-2zm7 6zm-6 2zm-7 3zm-2-10zm-11-15zm-1 3zm6 2zm-13-8zm-3 3zm23 37zm-1 21zm-11-4zm-10-8zm-5 7zm5 6zm3 0zm-1 26zm0 4zm-2-9zm36-15zm9-5zm5 0zm-2 4zm-14 24zm-1-10zm-4 7zm5 21zm16-2zm-42 0zm-31-6zm-33 10zm5-29zm-1 10zm-18 1zm22-16zm12-45zm27-5zm-6-2zm-20-23zm-4 17zm9 5zm-42-11zm10 15zm21 8zm-42 18zm10-39zm-19-3zm0 16zm-15-9zm-9 13zm43 44zm-9 36zm-50 3zm9 6zm36 27zm26 7zm0-13zm13 0zm32 11zm5 27zm-15 8zm-23-4zm8-7zm-3-11zm-6-6zm-13 7zm0-8zm-1 5zm34 26zm-129-91zm7-32zm-4-8zm134-310zm-3 11zm-15 8zm2 11zm6-4zm20-1zm-10 10zm-13 11zm-5-4zm3 14zm-7 23zm14-12zm12-8zm-13 16zm-8-1zm-1 22zm18-2zm0 19zm-8-3zm-10 5zm-16 4zm-4-15zm0-8zm-15 19zm-8-7zm17 111zm-4 6zm54-10zm-2 0zm3-53zm-6-4zm-15 7zm-7-12zm2-23zm-4-6zm8 0zm10 9zm-12 6zm24 2zm9-10zm0 8zm17 7zm2-19zm36 1zm-1 24zm-41 5zm1 49zm9-1zm6 4zm16 17zm15 1zm-15-12zm2-20zm20 0zm6-6zm10 1zm3 6zm0 4zm-4 5zm-11 15zm-8 22zm7-5zm13-17zm16 5zm-2 16zm20-3zm8-9zm-9-3zm9-13zm-23-5zm11-30zm-34-4zm-3-2zm-4-9zm12 4zm-21-18zm7-25zm-7-38zm1 31zm-7 0zm-21-2zm-32 1zm8-6zm15-33zm-1-13zm32 23zm-11-43zm-15-2zm-18 13zm-1-27zm2 10zm-5-23zm9-18zm179 10zm-7 5zm6 0zm-6 11zm10-14zm12 11zm0-20zm3 28zm-6 3zm-4 4zm5-2zm-13 2zm9 43zm11 7zm-2 15zm-3-1zm-74-9zm9 22zm3 3zm5 11zm-1-2zm13 15zm20 38zm-14 0zm0 6zm-1 1zm-47 13zm10-1zm4-3zm3 9zm3 1zm4 9zm-14-8zm-6 5zm-2 4zm21 22zm-2 10zm2-18zm8-8zm16 2zm-6 3zm4 2zm-10 6zm10 16zm6-9zm8-5zm-3-23zm5-7zm-4-3zm-5 0zm-2 0zm-9-4zm3-6zm21 4zm29 0zm-6 20zm-10-7zm-13 23zm18 17zm-2-19zm3-11zm18 20zm0 4zm4 1zm11-8zm8-24zm-11-2zm-16 2zm-2-13zm26-3zm4-27zm-19-13zm-4 10zm-18-26zm-6 2zm-1-13zm9-6zm-5 11zm58 39zm5 18zm2 0zm3 7zm-19 14zm6 13zm-9 6zm34-8zm57-70zm2-8zm0-17zm12 22zm-1-42zm4-15zm10 2zm4-12zm-44-4zm16 23zm-14-1zm-39-68zm-13-9zm2-22zm9-6zm6 12zm1 15zm13 0zm28-28zm10 54zm8-42zm17-4zm7-5zm13 6zm-3 16zm5-10zm2-14zm45 12zm-1 8zm-4 9zm-15-3zm2-6zm0 21zm-14 28zm-10 14zm-20 0zm52 2zm-13-22zm31 24zm2 21zm21 9zm-2-13zm-6-8zm14-2zm0 21zm11 1zm-5-3zm-2-3zm21 9zm-4-3zm-9-14zm3-11zm-2-27zm-49-34zm10 5zm9 6zm12-18zm-21-7zm8-12zm25 6zm6 0zm38-3zm4 16zm-27 8zm11 10zm-5 71zm-1 7zm-35 122zm-17 0zm-16 8zm10-15zm12-6zm0 8zm-1-28zm-15 11zm3-15zm-2-9zm18 10zm14-72zm-39 4zm-59 45zm0 35zm54 3zm-21 5zm20 0zm-1 9zm-6 3zm9 15zm-17-13zm-2 0zm-25 11zm12-18zm20 24zm13 16zm33 19zm10-29zm-159 222zm-64-25zm-3-2zm55 12zm-27-30zm-11-7zm-19-2zm3-4zm-4-11zm8 2zm-10-11zm-1-2zm7-8zm-5-7zm19 3zm48 24zm6 12zm-8-5zm7 21zm7-18zm17-113zm-85 0zm-8-3zm-6 14zm12-6zm14 16zm-6-3zm-1-9zm13 20zm13 15zm3 8zm-17 10zm-6 6zm3-10zm0-12zm-17-7zm3 28zm-11-3zm-13 4zm-7-25zm-13 7zm5 8zm7 8zm-22-6zm-8 0zm2 3zm-1 4zm-16-15zm6-9zm8 0zm5-3zm-4 1zm6-20zm-11 13zm-7-3zm8-18zm12-2zm8-3zm27 26zm-7-30zm-2-3zm-3-7zm5-20zm5 0zm6 1zm-4-7zm-16-17zm-14 16zm-13-17zm2 5zm-10-8zm-5 3zm0 10zm9 7zm1 10zm4 9zm-14 4zm-12 2zm-16 2zm-3 2zm0-5zm8-14zm9-4zm0 8zm2-39zm-5 1zm5 9zm-12 1zm2-1zm-5-6zm1 25zm-11-5zm-6-8zm-1-4zm-21 2zm-2 27zm5 5zm16 16zm-9-1zm-7-9zm-3-3zm2 30zm6 13zm19-8zm0-2zm2-11zm6-3zm5 19zm4-4zm0-1zm-8 16zm21-1zm4 27zm-35 2zm-5-7zm-5-7zm6-2zm2-4zm-10-2zm-4-5zm-6 17zm9 24zm0-4zm0-9zm14 2zm-12 7zm-3 10zm-5 16zm9 26zm28-2zm7 2zm4 0zm-7-14zm0-29zm-15-14zm5 2zm20 7zm3-2zm18 7zm3-16zm40 18zm-7 7zm-7-2zm-4-8zm3 21zm16 13zm-10 11zm-19-2zm1 3zm-4-16zm-6-13zm-1 7zm-11 6zm3-4zm-12-4zm-2 5zm2 19zm4 4zm5 17zm11-13zm10 3zm23-7zm-2 11zm4 4zm5 12zm-26 4zm10 12zm16-12zm-1 13zm-7-3zm-4 0zm7 8zm-89 0zm13-3zm-14-38zm-17 5zm-8 10zm-1 16zm3 1zm10-4zm23 31zm4-4zm25-1zm11 1zm4 8zm12-1zm23 1zm13-10zm4 12zm1-7zm6-3zm3 16zm350-550zm-40-29zm-5 8zm8-4zm3 16zm-19 7zm-14 2zm-6-12zm-5 1zm-9 27zm-9-10zm-3 12zm-6-11zm15-8zm7 2zm1-2zm-18-12zm1-8zm15-19zm3 25zm31-44zm-22-10zm-8 7zm1 7zm4-4zm-12 12zm-8-2zm-13 3zm-3-31zm3-17zm93-77zm13 18zm2-4zm-25-24zm-68-8zm-25 75zm-19-5zm-24-5zm-7-2zm14-6zm-77 22zm-1 33zm112 10zm-32 22zm-5-8zm9-18zm-25 39zm-3 4zm24-4zm-3-4zm-2-1zm-3-5zm23 6zm0-3zm-7 17zm28 11zm-1 7zm-6 0zm-37 23zm-15-31zm-1 4zm4 11zm-18-4zm2 4zm-1-7zm4-3zm0-13zm-5 2zm7-7zm-10-16zm0 7zm-4-3zm-8-2zm0 12zm9 0zm-20 2zm-1-4zm-13 17zm4 3zm5-1zm-67 29zm-11-17zm12-4zm3 2zm27-57zm-8 1zm4-4zm4-15zm4-29zm-5 26zm-5-2zm-25 3zm14-16zm-16-1zm-3 0zm-3-13zm2 3zm-7-4zm1 26zm-1 12zm4 5zm7-3zm15 6zm-8-1zm2 8zm-15 0zm-5 0zm-7 10zm-24-26zm9-1zm14 8zm-3-28zm2-10zm-6-3zm-6 8zm-11-9zm-21 22zm-2 3zm-11 8zm21 5zm-10 23zm1 3zm-3 29zm12-4zm6-4zm-3-5zm9-18zm22 21zm-4 9zm-8-2zm1-3zm-10-3zm10 22zm16-4zm-12 20zm-22-24zm-11-2zm3 6zm-19-2zm-9 15zm-8 0zm1 7zm-13 1zm7-6zm-11-11zm24 0zm-7-14zm-12-29zm-4 9zm2 12zm2 0zm2-4zm0-2zm4 13zm-12-9zm-31-1zm9-3zm2 3zm-8 17zm-3 10zm7-1zm7-5zm-18-4zm-3-9zm20-86zm-1 49zm-2-6zm10 10zm5-9zm-1-14zm22 4zm10 22zm5-5zm-12-23zm6-12zm-17 9zm1-16zm0-9zm-1-32zm-8 8zm-21 18zm-2-11zm-6 3zm-17 8zm2-11zm53-79zm16-3zm21-8zm-2-8zm6 2zm3 6zm42-11zm-22 6zm-6 26zm30-10zm-7 15zm-14 11zm-22-23zm-14 9zm-1 12zm0-5zm-3 9zm0-1zm1 15zm5-10zm9 2zm6 2zm-4 18zm-19 28zm16 8zm8-17zm3-11zm14-3zm4 9zm13 19zm3-5zm-3-21zm-22-4zm2-10zm-6 3zm6-8zm9-13zm27 35zm2 5zm-12 15zm7 4zm22-20zm-1 1zm4-8zm9 10zm-3 16zm22 0zm-57-71zm0-2zm-2-13zm13 0zm5 3zm-8-17zm2-19zm24 7zm-25-13zm-9-1zm-10-15zm-5-3zm6 19zm-18-13zm-10 9zm-50-7zm15-271zm0-31zm-24-1zm11-11zm1-4zm9-1zm-22-109zm5 11zm-12 9zm-1-21zm-3-4zm-4 4zm-4 5zm0 5zm-40-25zm49-26zm-5-2zm-8 28zm0-7zm5 1zm20-14zm3 1zm1 8zm-6 1zm17 16zm-1-48zm8-3zm7 28z"/>
<path id="as9" d="M985 274zm22-4zm-2-5zm12 4zm-2-4zm1 14zm-14 18zm-23-8zm4 51zm7-13zm26-2zm3 20zm-27 6zm29 8zm-19 12zm-4 7zm-3 5zm-23-22zm-15 9zm-7-48zm-25 32zm-13 57zm-13 6zm16 21zm7-4zm35 2zm6-33zm19 1zm0-17zm28-1zm-2 36zm12 12zm-31-16zm-20-2zm6 51zm44-5zm-16 2zm-20 42zm7-12zm-11 1zm-11-5zm-20 10zm-11-7zm11 2zm-6-41zm-1 22zm-18-2zm-10-10zm-17 5zm2 23zm29-5zm-1 8zm-8 9zm-8 2zm-22-2zm-5 7zm-17-15zm4 5zm8 1zm-15-6zm-11-15zm-4 7zm1 6zm1 1zm8-2zm4-1zm-3-14zm-7-7zm-2-22zm10 10zm-2-9zm12 11zm16 10zm9-1zm-27-31zm-10-37zm0-4zm-10-6zm-9 7zm7 7zm-11 10zm19 12zm1-3zm-5 2zm6 13zm6 6zm-43-27zm1-3zm2 5zm5 10zm0-10zm-9-11zm-47 16zm13 20zm-10 11zm9 16zm7-20zm40-4zm-8 32zm0 12zm1 8zm-58 142zm-7-21zm4-24zm5-5zm-63 8zm9 13zm-17-53zm6-1zm9-16zm6 13zm3 4zm6 5zm7 5zm8-5zm15 7zm10-2zm-7-12zm15-18zm16-27zm2 56zm2 5zm5 25zm-17-3zm0 33zm6-12zm-3-9zm18 6zm5 4zm21 5zm-8-5zm0-16zm-5 2zm-9-1zm-5-7zm7 2zm1-13zm-1 0zm-7 5zm48 3zm13 2zm-1 3zm-2 7zm-5-1zm-22-1zm13 9zm10 14zm0-10zm10-9zm11 13zm9-23zm-13 3zm-6-5zm49-73zm-10 31zm0 4zm-8 5zm19-1zm9-18zm4 1zm1 25zm3-2zm2 3zm9-3zm3-32zm-5 7zm-4-7zm-2-17zm23 0zm7 15zm3-6zm17-2zm7 4zm-65 106zm1-24zm3-34zm-13 12zm6-7zm-3 47zm-24-5zm5 16zm-37 31zm13-32zm-5 27zm-11 3zm-17-15zm-8-8zm-7 0zm14 24zm-11 7zm4 7zm17 13zm-26-48zm-17-10zm24 194zm26 3zm-12 14zm7-1zm-19 9zm0 5zm1 17zm4 0zm10-9zm0-6zm28 14zm-2 8zm13 7zm-10-22zm4 0zm3-20zm-15 2zm-4-14zm-2-9zm13-4zm-32 3zm-14-6zm180 60zm-76-2zm-44 4zm123 11zm-18 24zm-2 13zm11 1zm2 21zm-17-8zm-34 8zm35 60zm-58 1zm-4-24zm15-4zm8-30zm-46 57zm-10-1zm-18-9zm-1-104zm-12 0zm-412 120zm-3-9zm18-14zm-9-23zm2 11zm-14-2zm34-10zm-79-76zm-22 43zm15 3zm-14 0zm10 44zm34-30zm-7 30zm2 2zm4 1zm16 12zm-29 16zm-25-20zm-6 9zm-21-4zm1 0zm14-40zm-17-5zm-4 0zm0 13zm-2 6zm-10-11zm-10 5zm-6-2zm4 14zm-73-11zm41-16zm-16-6zm-7-8zm31-33zm5-12zm28 18zm4 2zm-14 25zm7-4zm29 13zm5-20zm2-22zm-14 11zm-4-20zm24-2zm-5-32zm-42 18zm-4-4zm72-62zm6 11zm0 10zm2 17zm-16 3zm2-12zm-10 16zm5 13zm-6 3zm20-6zm31 0zm-21-32zm-183 168zm1 40zm5-26zm3 11zm23 57zm21 14zm89 8zm-21 2zm27-15zm-1-18zm-3 1zm-4-3zm7-52zm0-5zm20 15zm9 7zm3 1zm13-7zm9-13zm10 10zm4 4zm25 5zm1 5zm1 25zm9 21zm-26 30zm4-9zm-56 23zm6 2zm570 414zm-5-3zm-12-14zm50 0zm8-2zm-6-41zm-4-10zm6-1zm-13 11zm-19 29zm-11-239zm-9-4zm-94 107zm-66-112zm-20 9zm-16 9zm18 128zm-56-91zm92-252zm38-50zm14 0zm10-6zm2-2zm-50 45zm-4 3zm8 1zm-11 19zm13 24zm2-9zm-4 17zm-39 11zm9-4zm3-11zm3-11zm0-4zm0-6zm-23 78zm-1-19zm11 24zm2 13zm19 4zm-16 13zm-29 65zm30 0zm2-5zm12-6zm3 0zm-5-14zm1-18zm-7 2zm0-16zm31 9zm-1 16zm-15 27zm1 4zm12-12zm7 8zm25-11zm-1 7zm14-36zm-17 7zm-10 1zm11-9zm10-21zm-16-5zm5 7zm-33-36zm86-13zm9 30zm0-9zm-6 25zm-31-3zm4 27zm3 27zm-2 1zm-7-6zm61 19zm59-90zm-17 0zm-15-6zm-5-9zm-4-17zm2 2zm11 3zm0-6zm26 25zm5-13zm1-9zm-13-27zm15 4zm-2-6zm-24-38zm-64 13zm14-3zm8-6zm-2-10zm1-19zm-37-4zm13-33zm2-1zm6 12zm-2 15zm11-23zm28 26zm32 8zm-2-1zm-4 20zm10-15zm-10-33zm-4 4zm-3-9zm45 56zm0-1zm13-25zm12 25zm9-42zm6-16zm3 0zm53 8zm0-10zm1 6zm6 13zm8 13zm-60 16zm26 31zm14 10zm1-3zm8 22zm-13 5zm-64 2zm6-14zm-11-34zm-31 9zm7 8zm13 42zm-18 6zm14 15zm1-17zm39 4zm-1 5zm-10 19zm3 11zm-8 14zm-38-20zm78 35zm3 19zm2-34zm-12 8zm11-23zm-22-16zm10-11zm-6-5zm38 7zm-2 9zm21 2zm2-5zm11 9zm22-17zm11-2zm8 2zm11 5zm-11 12zm-16-9zm19 37zm-32-16zm-7-2zm-1 87zm17-7zm-1-17zm17 23zm8-6zm3 6zm4 1zm-2-19zm-4 2zm-6-11zm-1-7zm0 3zm-9-13zm3 3zm-11-8zm22-12zm25 4zm-13 16zm4 36zm9 3zm10-26zm18 12zm-4 10zm20-21zm-22-60zm-3-4zm6 18zm-21 7zm-8-16zm15-24zm-22-7zm-3 0zm60 3zm-56-73zm-60 44zm-8-8zm27 3zm4-19zm14-8zm6-35zm-37-8zm6 2zm53-5zm103 17zm-26 59zm17 10zm11-7zm8 10zm-15-59zm14 4zm8-10zm118-12zm-4-16zm-14 89zm-70 111zm4 12zm1-30zm-5-1zm-10-60zm5-19zm-12-7zm-12 0zm-25 57zm9-12zm4-26zm-21-7zm-6 10zm-23-21zm19 36zm3 10zm-11-3zm-12 42zm14-19zm18 12zm-35 18zm2 9zm10 9zm0 13zm34 24zm23 14zm22 9zm19-16zm1-29zm-173 239zm-5 9zm-35-121zm8 8zm44 16zm-8-6zm15 30zm-1 14zm6-69zm4 1zm-10-5zm-2 2zm2 6zm-7-1zm-10-21zm17 0zm7-13zm-9-10zm-13 3zm-3 0zm8-3zm-6-15zm22 7zm24-21zm-7 10zm1-20zm6-1zm-44-13zm17 33zm-3-1zm-45 2zm-24-37zm12-17zm-18 11zm15 16zm-1 14zm2 3zm21 20zm1 4zm-49-58zm-10-8zm-111 20zm10 8zm102 133zm-1 6zm-93 88zm3-2zm10 5zm40 11zm34-1zm14-1zm-5 2zm36-1zm-11 5zm383-702zm8 5zm-55 142zm-29-13zm10 22zm-24-7zm-9 10zm-11-45zm9 3zm8-19zm-50-8zm22-36zm-19-12zm76 29zm7-84zm-11-7zm-2-4zm25-25zm-15-14zm-5-4zm-8 17zm3-2zm12 1zm-12 9zm-16 0zm-21-1zm-1-11zm-1-6zm3 2zm16-1zm-3 13zm2-2zm8-2zm0-32zm-25 7zm10 9zm-16-13zm-6-5zm-11-1zm-13 5zm15 9zm-7 3zm-2 20zm5-5zm-7 33zm29 14zm26 14zm-37 11zm-1-6zm-21 5zm-56 14zm1-43zm20-11zm30 1zm3-17zm-20-19zm7 6zm14-36zm-12 4zm-11-1zm-6-2zm2 13zm10 5zm-26 6zm0-13zm-17 10zm23 11zm-5 11zm7-2zm-42-7zm9-18zm-3-21zm-2-1zm-30 59zm-20-11zm7 24zm-10 2zm20 0zm14-6zm-3-1zm21 18zm3 26zm-36-12zm-15 82zm38-4zm10-14zm59 27zm-20 27zm0-2zm13 7zm6 6zm6 9zm-23-4zm-4-8zm-8 2zm-5 5zm-34-12zm-9 1zm-13-23zm-4 3zm-3-1zm1-8zm-8-1zm-4 11zm-62 11zm9-9zm1-7zm41-3zm-5-14zm4-15zm6-15zm-90 30zm14-6zm-30-3zm2 4zm-12 14zm5-4zm-14 17zm21 47zm-12-7zm-10-36zm-37-13zm-40 59zm-7-15zm-10 9zm13-1zm-4 6zm-17-12zm2 7zm-17-3zm1-11zm-1-19zm18-9zm1-9zm-16-40zm-5 0zm27-22zm-2 13zm3 6zm8 3zm5 3zm2-1zm20-23zm-6 10zm1 19zm-2 13zm14 9zm13 3zm36-49zm-10-23zm-8 9zm9-23zm-6-2zm11-32zm-11-3zm-8 19zm2 8zm-3-5zm-17 5zm8-22zm-23 19zm10 12zm0 17zm-3 0zm-7-6zm-19-9zm-13 5zm-35 16zm0-26zm14-16zm-18 11zm11-29zm28 8zm-2 0zm-5 8zm1 4zm17-26zm12-24zm-22 15zm-36 12zm21-23zm18-8zm15-6zm3-1zm30-5zm-27 23zm3 13zm51 5zm3-2zm-21-35zm9-12zm-7-1zm81 10zm11 44zm49 35zm12-6zm-4-5zm-11-14zm3-25zm8 0zm-17-6zm-24-9zm38-12zm2-5zm-51-29zm-59-22zm2-8zm30 15zm-22 6zm-21 8zm-4-18zm-119-204zm13-15zm50 1zm0 9zm34-14zm272 248zm36 4zm-257-380zm-8 10zm-10-1zm5 14zm3 11zm15 10zm-26 5zm28 19zm14 8zm-6 35zm-33 9zm-22 4zm-16-4zm-1-23zm9-2zm-8-15zm3 8zm-13-1zm-2-7zm6-11zm-8-2zm-4-2zm-8 9zm-2 4zm9 1zm-8 28zm6 1zm17 8zm-44-19zm-14 8zm0 18zm-6-50zm29 5zm4-42zm-24 17zm3-7zm-6-44zm11 25zm6-19zm21 0zm21 0zm-20 20zm18 8zm6 9zm13-11zm3-1zm11-10zm-30-24zm21 9zm-1-11zm-5-12zm2-23zm-1-4zm3 0zm-50 5zm16 6zm13 1zm-12 12zm1 3zm5 2zm-20 10zm-7-17zm2-9zm-10 1zm2-3zm-5-1zm0 9zm-13-8zm10 23zm-41-13zm-5-8zm26-4zm-23-18zm-1-11zm20 5zm10-1zm0 5zm13 12zm14 4zm-2-58zm-34 24zm-24-5zm23-12zm-1-26zm-8 6zm0-4zm8-9zm5 0zm15 16zm13-1zm10-21zm22-1zm-6 16zm-2 5zm29-14zm40 54zm-8-12zm13 29zm-5 12zm2-3zm-19 2zm0 6zm1 11zm12 8zm-60-122zm-39-1zm-18 0zm2-15z"/>
<path id="ad10" d="M863 500zm-6 3zm-5 4zm-15-48zm-21-23zm-7 5zm-14-3zm-8 34zm10 0zm-3-16zm7 1zm9-7zm6 5zm2 10zm2 1zm-5 8zm-4-3zm-5 2zm-5 17zm26 15zm-33-21zm-31 95zm-28 9zm-3-8zm-26 7zm13-13zm105-59zm7 11zm-10-6zm6 12zm-9 19zm5-1zm-4 22zm-17 10zm12-5zm38 6zm3-6zm11-11zm-7 9zm1-38zm-8 3zm-14-2zm-3-9zm6 5zm-8-17zm-1-2zm12 1zm4 8zm8-1zm3-6zm26 25zm13-8zm1 14zm3-2zm19 53zm-18-21zm-1 7zm2 15zm13 18zm-65 56zm-3 13zm4 2zm-422 207zm-6 6zm-7-6zm-5 1zm-15 32zm3 57zm2 5zm5-3zm2 0zm5 2zm0-4zm-6-10zm6-8zm5 1zm0 13zm-19 29zm-1-1zm8 2zm-45-19zm20-7zm-14-12zm-3-4zm1 11zm-37 2zm-6 10zm6 29zm-2-4zm-8-9zm-14-5zm-14-2zm-3 2zm-29 15zm2-2zm-2-36zm7-2zm26-9zm4 14zm9-3zm9-50zm-9 7zm-2-14zm41-27zm-18 20zm-3-2zm-1 6zm2 3zm34 19zm-2 4zm3 7zm-108 54zm2 49zm-10-4zm23-21zm30 5zm3 4zm8 33zm14 24zm1 6zm43 1zm-12-41zm1 12zm-13-17zm1-9zm22-16zm14 19zm0-16zm13 2zm-2 6zm15 38zm1-12zm12-10zm1 4zm0 21zm6-14zm3 0zm11 0zm-7 14zm11-6zm-10-12zm13-14zm0-1zm-18-5zm31 4zm6 19zm-11-12zm-4 0zm9 33zm-9 12zm-1 9zm5 12zm-5 1zm-29-5zm15 8zm-3 3zm0-21zm13-1zm-1-14zm1-5zm-5 0zm-22 19zm-4-3zm-5-17zm2 4zm-8-4zm-6 13zm-3 7zm-5 17zm11-1zm2 0zm10 13zm577 415zm-16-16zm5-1zm17 4zm-1 5zm15 0zm10-24zm-8-19zm-13-27zm2 22zm-10 2zm-10-9zm3 23zm8 8zm-22 9zm-10-86zm-29 17zm-4-36zm9-11zm8 3zm14 4zm11 1zm4-3zm6-8zm7 10zm-1 13zm6 2zm-4 2zm19 5zm-4 16zm3-44zm-2 5zm-4 0zm11-2zm11-25zm-23-1zm-6 7zm-25-20zm23-7zm-11-28zm27 24zm10-8zm3 7zm-5-16zm-1-4zm2-2zm9-2zm-5-14zm-2 5zm-15-20zm20-7zm-8 0zm-20-25zm-1 13zm-19 8zm-3 18zm5-3zm9-2zm5 13zm-29 13zm-1-10zm-7-2zm3 1zm-8 4zm-10 5zm-5-5zm1 2zm7-3zm2-10zm10-10zm7-1zm-1-8zm-14 4zm6-3zm-22 4zm-7-9zm-8-9zm-3-12zm-14 15zm8 12zm1 2zm12 21zm-8 10zm7 15zm18-5zm-6 5zm22-2zm9 43zm-33-17zm-5-1zm-11 18zm-16-16zm-52 14zm7-11zm-7-21zm38-11zm-14-63zm5 0zm-21 9zm-12 7zm-36 34zm7-19zm-27-24zm17 16zm-6 13zm29 42zm6 29zm-57-7zm82 45zm31 34zm-8-4zm-5-1zm20 10zm-151-124zm18-1zm136-316zm-12 11zm8 19zm-5 6zm-2 6zm7-2zm-26 9zm5 3zm-11-26zm-3 50zm40-7zm-9 25zm5-2zm-1 20zm-24-5zm-10-6zm-1-8zm-11 15zm-9 8zm-19 40zm15 32zm6-1zm50 36zm-14-60zm-16-6zm-11-14zm-2-8zm-11-14zm4 1zm9 1zm13 5zm20-4zm-7 0zm1 24zm8-13zm6-11zm16-2zm3 7zm0 3zm-9 12zm3 0zm8 0zm4 2zm14-4zm-8-8zm-6-8zm41 15zm-5 7zm-34 5zm1 4zm-6 15zm12 13zm4 1zm-5 7zm1 54zm6-1zm2-28zm2 4zm3 10zm-4 6zm9-6zm18-11zm-3-18zm-22 7zm-3-24zm28 9zm25-10zm9 2zm-2 7zm-3 9zm-25 3zm14 22zm-13 4zm3 3zm9 5zm3 7zm10-7zm4-5zm11-8zm9 9zm11 1zm-3-7zm-10 1zm7-14zm-24-26zm29-11zm2 0zm-14-15zm-7 17zm-9-2zm-4 1zm-29-4zm5-3zm23-11zm-28-20zm3-4zm-3-3zm17-50zm-15-12zm15 41zm0 2zm-12-10zm-5 7zm-9 0zm-8 4zm-23 0zm-10-16zm-3-15zm27-5zm18 0zm-17-32zm-7 0zm-1-4zm-19 2zm0-23zm3-22zm5 1zm167 20zm-4-8zm17-21zm-7 9zm23 12zm2 3zm0-16zm12-11zm-6 13zm-9 38zm-14-8zm2-4zm5 55zm11-4zm-11 13zm-66-7zm18 44zm18 14zm13 19zm-15 7zm-45 18zm3 7zm-1-4zm13 3zm11 12zm2 4zm-17 8zm-2 8zm-7 2zm-1 17zm2-6zm19-17zm1-6zm17 12zm8 13zm12-7zm-9-11zm3-14zm-6-1zm1-18zm5 3zm18 20zm-9 5zm0 7zm13 18zm16-15zm11-2zm-3 4zm-7 8zm21-8zm2 8zm-3-20zm-19-10zm2-7zm5 1zm2 3zm11-8zm1-17zm-7-24zm-9 0zm-11 2zm0-29zm6-7zm47 47zm-4-6zm-8 18zm0 60zm111-125zm-23-22zm-46-72zm-14-5zm21-20zm1-4zm12-1zm3 4zm-3 4zm13 2zm30 33zm9-28zm4-5zm9-12zm9 4zm-10 5zm16 9zm0 2zm18 41zm58 15zm-6 40zm16-8zm-2-3zm13 5zm9-16zm2-12zm-19 7zm7-38zm3-1zm-34 4zm0 8zm1-23zm11-16zm-29 2zm5-20zm43 18zm34-3zm-10 18zm19 16zm7-44zm2 70zm-15 20zm-59 141zm-11 9zm5 3zm-9-6zm-1-19zm9 6zm-20-18zm51-88zm-4 5zm-17 0zm-47-1zm-2 1zm6 76zm-3 14zm-2 46zm3 4zm5-1zm32 1zm-13 14zm24-9zm2 9zm11-5zm-165 193zm-51 33zm-14 0zm12-41zm-4 7zm12-20zm34 15zm-13-25zm-4-3zm-28-9zm-8 0zm-2 6zm-4-22zm1 1zm18-17zm-7 10zm4-1zm-11-11zm-3 0zm18 0zm43 21zm7 8zm3-3zm3-4zm-62-112zm-16-2zm12 29zm10-15zm5 7zm4 27zm6 7zm4 0zm-3-6zm1-2zm-24 23zm8-19zm-4 7zm-9-2zm-7 7zm9 6zm-19-1zm-13-17zm-14-3zm-10 15zm-6-1zm-15 7zm25-15zm1-15zm-6 5zm-10-3zm-3-2zm1 5zm-2-15zm36-5zm-10 14zm17-3zm13-12zm-8-4zm-10-34zm8-7zm-18-11zm9 9zm-9 3zm-28-8zm1-1zm-1 15zm-22-19zm5 2zm7-2zm-1-12zm-21 14zm-31-4zm1-10zm-7-1zm-1 4zm5 4zm-4 23zm25 29zm-24 8zm7-5zm-3 21zm1 5zm15 2zm7-29zm10 12zm15 8zm-5 8zm-12-11zm-3 22zm16 13zm3-3zm-8 9zm-8-10zm-21 12zm4-15zm-12-2zm-8 13zm0 10zm-1 5zm17-4zm-15 26zm4 17zm17 2zm15-23zm4-25zm50 16zm28-16zm-8 20zm8 8zm-6 31zm-33-5zm1 10zm22 9zm5-4zm11 16zm-16 8zm4-7zm-6 8zm9 8zm9 5zm3 12zm2 0zm2 2zm-5 3zm-12-6zm-9-2zm2 4zm-15-8zm-4-17zm-6 15zm-42-11zm2-4zm9 6zm14 9zm-3-19zm-9 2zm-26-12zm-8 2zm-6 2zm0 24zm26 21zm23 2zm13 7zm15-10zm32 4zm-5 1zm9-5zm8 4zm1 8zm5-4zm1-7zm376-687zm12 17zm-6 13zm-18 120zm-19-21zm-12-5zm8-7zm-20 20zm-21 16zm-11-12zm-19 17zm-20-1zm12 4zm10-17zm-2-7zm21-49zm-1 3zm-5-1zm1 9zm4-2zm-14 9zm-15-2zm-14-22zm6-3zm25 7zm-7-6zm2-13zm-6-1zm-14 3zm-5-4zm91-15zm-16 53zm8-3zm10-10zm12-75zm1-31zm18 19zm-21-29zm-14-8zm2 7zm-106 70zm5-7zm-30-13zm2 3zm-6-28zm-2 1zm-16-37zm-8-1zm-45 66zm-11-6zm1 2zm4 11zm-3 45zm3 2zm-2 5zm34 12zm-4-53zm77 21zm-2 20zm-18 0zm-9-6zm-14 35zm2-6zm4 3zm-4 26zm13-18zm-3-2zm14 2zm0 2zm22-3zm-14 10zm3 2zm-4-7zm12 18zm8 15zm0 8zm-58-12zm-1 6zm4 8zm-28-7zm14-35zm3 5zm1-10zm5-5zm-8 3zm-15-9zm-4 1zm-19 21zm12-3zm-27 5zm0 7zm28 5zm0 5zm-14 14zm-56-3zm-10 1zm-9-14zm18 4zm7-37zm17-68zm-14 5zm-4 7zm0-5zm1-10zm-27 13zm10 9zm-12 12zm8-2zm18 25zm-18 5zm4-3zm2-8zm-11 6zm-14 4zm-11-24zm4-3zm5-3zm-2-8zm1-13zm-8 3zm-22 13zm2-9zm-5-15zm4 12zm-8-9zm8 28zm7 0zm1 21zm-4 2zm-3 5zm-22 27zm29 5zm14-17zm-4-12zm19 11zm-14 10zm2-3zm-9 8zm5 8zm18 17zm-13 7zm-20-10zm3-2zm0-12zm-24 10zm-36 4zm19-26zm-3-2zm-3-3zm-5-15zm-4 9zm-11 15zm-25-2zm10 8zm4 10zm11 13zm-1 7zm-14-6zm-20-9zm-2-13zm5-17zm19-25zm-6-3zm20-17zm5-3zm22 24zm-6-10zm-1-5zm2-19zm2 5zm-19-9zm12-13zm5-1zm2 7zm3-13zm-52-10zm-14 8zm47-79zm-2 3zm13 1zm3-2zm12-12zm-2-6zm10-18zm12 18zm11-13zm2-6zm22-2zm-19 7zm22 33zm-16 8zm-24-12zm-14 11zm1 19zm8 0zm5 1zm8 13zm5 2zm-20 11zm-1 9zm-8-5zm2 11zm18 3zm10-17zm1-7zm12 13zm-8 7zm0 11zm22-15zm4-16zm-1-7zm-6-8zm-7 13zm3-22zm11 1zm1 0zm15 16zm-10-4zm3 14zm-4 5zm0 8zm-1 12zm10-3zm7-8zm5 10zm0-5zm-7-15zm0-4zm16 18zm7 2zm10-5zm10 2zm-35-59zm2-2zm-7-1zm-15-4zm5-10zm-1-9zm-2-6zm-5-7zm13-8zm-12-8zm23 6zm3 5zm6-5zm-20-9zm-31-10zm9 4zm6 0zm-27-1zm-9 5zm2-14zm-27-297zm6 42zm-17 3zm5-5zm0-18zm-7-24zm2 8zm-16 10zm-11-17zm3-12zm3 0zm5 0zm13-9zm-3-5zm-21-88zm-9-6zm-14-6zm10 16zm-34-15zm1-29zm-12 12zm11 1zm-37-19zm87 6zm-4-1zm-10-6zm25 2zm-4 12zm10-1zm3 5zm2-35zm-8 5zm4-9z"/>
<path id="as10" d="M1000 219zm-3 11zm17 0zm-3 22zm0 62zm-13-8zm0 9zm-18-1zm1-15zm36 22zm0 22zm4 19zm-1 10zm-43 8zm-5-27zm-32 8zm18 1zm-6-17zm-46 69zm-8-1zm33-25zm92 11zm-23 44zm2-6zm-8 7zm-25 2zm53 5zm-29 46zm-50 13zm-6-8zm14-12zm-19-23zm-7-3zm0-8zm-16-4zm0 36zm1-1zm5 0zm10-7zm-41 28zm-7-15zm-3-6zm-8-5zm11 21zm-25-13zm4-15zm15-24zm2-1zm4 13zm16 3zm-23-21zm-3-52zm7 16zm-6 0zm-23-14zm-3 6zm-7 30zm20-11zm7 1zm-12 11zm-12 2zm-14-7zm6-24zm-22 9zm-12 18zm-7-1zm-3-2zm-7 23zm0 16zm9-1zm31 13zm-6 10zm18-6zm-4 10zm-3 11zm-63 122zm-3-20zm1-10zm7-16zm-6-2zm-36 37zm5 0zm-4 7zm-27-32zm4-29zm8 2zm14 2zm-1 4zm10-15zm17-5zm-6 26zm14 0zm9-15zm-14 0zm12-10zm36 6zm-13 18zm-2 0zm-3-18zm-5 11zm2 8zm-8 13zm6-10zm13 0zm-7 7zm-11 12zm30 23zm-3-24zm31-8zm32 0zm-4 13zm-10 5zm13 32zm-7-14zm14 11zm19-37zm-14 7zm-4-8zm9 1zm-15-13zm7-3zm-3-2zm22-13zm-19-42zm25 2zm11 1zm15-8zm-10 4zm-7 25zm-4 15zm5 12zm12-14zm8 6zm-7-13zm-5-10zm40-16zm0 4zm-18-11zm3 5zm-4-9zm32 11zm38 12zm2-9zm-9-3zm5 23zm-36-4zm-6 1zm-28 43zm-24-11zm4 55zm1 12zm-34 19zm-21 180zm-6 15zm2-4zm-11 10zm3 18zm-7 0zm11-10zm28 12zm-6-3zm10-2zm12-27zm-18-12zm-11-27zm-11 11zm168 24zm-7 15zm5 20zm-6 3zm-113-25zm103 86zm-12 1zm-31 3zm59 34zm-27 26zm-29 0zm5 2zm-22 7zm-6-3zm13-53zm-41 44zm-17 6zm-4 3zm-407-22zm-3 4zm-35 0zm19 3zm-5-24zm-17-72zm-41-9zm-17 0zm5 23zm0 16zm1 8zm41 18zm-23 33zm-11 1zm-9-3zm-8 17zm-2-12zm-2-2zm-23-10zm-4 0zm-17 9zm-43-66zm-1 12zm-6-1zm3-20zm11 1zm3-3zm27-20zm15 6zm-4-3zm4 20zm-19 11zm14 16zm41 7zm-1-15zm-13-16zm-13-23zm24 1zm4-16zm0-14zm-5-7zm-7-10zm-27 15zm-4 11zm-7-3zm86-50zm-15-4zm7-5zm-17 11zm13 19zm5 11zm-11 7zm27-32zm-178 150zm-13 14zm-18 55zm18 6zm70 18zm0 33zm20 11zm54-11zm-21 3zm-32-50zm52-40zm30 0zm6 2zm0 4zm-12 14zm2-5zm-5 32zm2 5zm22-42zm34 64zm-33 46zm-3 3zm-35-62zm-1 15zm7 38zm567 408zm2-11zm47 14zm10-119zm-9 5zm-182-152zm40 206zm-138-111zm90-298zm21-28zm17-12zm21-9zm5-8zm-34 51zm-4-17zm-5 12zm8 50zm-18-20zm-2-14zm-14 73zm6 4zm-9 33zm-3-11zm19 1zm-6 6zm3 20zm-15-6zm14 62zm-7 2zm10 2zm2-22zm-15-32zm32 9zm9 13zm-10 1zm1-8zm-11 3zm27 23zm-7-11zm14-2zm9 12zm-9 4zm7 7zm-5-42zm25-12zm-21-7zm-33-12zm-5-22zm98 16zm1 1zm18-7zm-50 54zm0 10zm6 5zm-3 18zm7-14zm5-2zm44 17zm59-85zm-4 0zm-8 0zm-5-3zm-37-14zm6 0zm0-5zm36-4zm12-20zm-1-5zm-6-2zm-22 9zm12-4zm2-7zm-12-5zm18 5zm-29-28zm-7-10zm4 29zm9 15zm-62-44zm18-1zm-10-38zm-10-10zm24-16zm32 8zm1 6zm-4 4zm21 18zm-5-3zm28 16zm-8-56zm55 36zm-8 5zm11 18zm7 3zm-7-30zm-4-20zm13-10zm39 25zm1 19zm-31 6zm4 15zm11 5zm34 15zm-15-1zm-32 26zm-21-7zm10 5zm-3-29zm5-11zm-11 0zm-46 6zm16 25zm-5 24zm-13-9zm6 40zm23-10zm26-8zm-9 38zm-23 6zm-17-17zm-4 14zm2 8zm83 12zm-3 5zm5-24zm-10 10zm32-51zm23 2zm19-2zm35-4zm-12 9zm-6 6zm-5 14zm10 22zm-8 0zm-17-18zm21 55zm1-8zm15-18zm6 0zm19 4zm-17 39zm1 0zm12-12zm46 20zm-2-22zm3-5zm-13-2zm-18-10zm7-40zm-16 6zm-8-38zm-3-67zm-69 50zm61-61zm65 42zm-3 26zm15-22zm17 22zm65 81zm-1-26zm-1-16zm-16-16zm5-18zm-10 26zm5 20zm-32-22zm-15-6zm6 8zm-33-11zm2 0zm19 25zm-4 1zm0 15zm28 13zm-48 30zm10 44zm91 27zm-7 0zm7-46zm12 21zm-174 220zm-33-86zm10-5zm5 5zm11-17zm13 3zm6-6zm12 6zm-4 11zm-16-1zm12 20zm-3-4zm-1-67zm1-15zm-4 8zm-9-4zm-5-7zm41-12zm-2 0zm-3 5zm15-68zm-15 12zm-18-2zm3 1zm-7-7zm-12-3zm0 14zm21 10zm-9 18zm-5 5zm-31-15zm-10 4zm27-24zm-52-6zm11 27zm10 7zm5 17zm15 4zm1 8zm6 6zm3 19zm-4 1zm-60-76zm-110 6zm-12 216zm-2 16zm1 4zm0 9zm92-2zm6-5zm2 5zm7 5zm-1-8zm11 0zm418-673zm-3-7zm-10 107zm13-18zm-15 37zm-73 7zm0 9zm-8 8zm-12-1zm-21-44zm2-9zm9-5zm11-3zm5 26zm6-6zm5-3zm-7-7zm2-10zm18-50zm-5-40zm11-15zm6 7zm-17-7zm48-23zm-19-32zm-13-11zm-19-6zm22 45zm-35-4zm-9-17zm5 1zm11 0zm-5-22zm-1-3zm2 7zm1-11zm3-2zm-41 14zm-1-15zm-9 7zm5 2zm-1 0zm-9 21zm22 14zm36 34zm-22 6zm3-11zm18 26zm-10 2zm-22 14zm-24 2zm-44 0zm29-45zm3-45zm6-2zm-5-26zm-9-6zm-6 1zm-21 25zm-6 16zm3 7zm10 5zm-19-6zm-3 3zm-18-20zm-32-3zm-19-11zm7 42zm-1-4zm-2 3zm45 31zm-12 10zm10 9zm-21 49zm-6 31zm2-13zm11 9zm24-2zm-2-5zm-8-17zm13-33zm45 14zm13 0zm-21 7zm20 41zm-6-5zm-47-23zm13 49zm2 1zm21 25zm-26-8zm1-6zm-6 16zm-32-8zm9-2zm-17-32zm-13 0zm-39 8zm17-13zm-9-6zm7-19zm-67 1zm-52 6zm4 7zm-18 67zm-49-55zm-6 54zm-20-20zm-5 2zm-5 12zm-27 5zm25-15zm16-13zm10-49zm-25-40zm8 27zm0-3zm51-20zm-10 12zm12 1zm-27 15zm48-50zm-11 9zm3-9zm0-14zm17 7zm5-25zm-4-2zm-21-10zm-11 23zm-4-20zm-10-6zm-4-1zm-8 44zm11-2zm5 12zm9-6zm-1 6zm-1 8zm-40-14zm4-1zm-13-13zm-14 16zm31-37zm-9-44zm-11 14zm-13-4zm8-3zm54-34zm0 6zm7 9zm-20 5zm-7-5zm0 7zm14 9zm-8 3zm18 18zm5-10zm-7-6zm13 12zm3-37zm4-1zm12-2zm7-10zm5 3zm1-2zm41 13zm32 50zm47 25zm-2-6zm-3-2zm-4-31zm-23-30zm15 1zm-96-72zm6 1zm4 0zm27 6zm2 12zm-27 2zm-8-4zm-18 25zm-13 1zm11-13zm-91-238zm6 4zm39-3zm80 2zm-1-4zm221 255zm-232-363zm-6-7zm-6 34zm21-14zm5 3zm-6 13zm3 10zm-13 26zm16-9zm-11-5zm10-7zm6 26zm-36 35zm-19-3zm-1-6zm2-6zm-10-8zm12 9zm-26-25zm6 37zm2 4zm-2 0zm-24-13zm-7 2zm-4-13zm-6 0zm3 3zm-1 3zm-9-1zm-4 0zm-9 7zm-29-23zm17-14zm36 6zm-2 8zm2-50zm-27 20zm-10-9zm9-7zm1-19zm-27 4zm51-11zm37 41zm5-9zm7-16zm-4 6zm12-13zm2-2zm-1-2zm4-17zm-5-38zm13-23zm-50 14zm14 7zm-33 26zm2-1zm-15-23zm-32 22zm3-7zm4-2zm4-12zm1 9zm-4-28zm-5 2zm1-12zm12-3zm8 27zm-10-41zm-4 8zm-6-3zm-12 1zm4-8zm6-1zm-2 2zm15-11zm-14-40zm36 7zm-13 2zm6 9zm-2 6zm4-8zm8-17zm8 3zm1 4zm33 15zm-6 4zm12-6zm8 2zm44 33zm-3 16zm0 24zm-86-96zm-7-5zm-8-5zm2 9zm-29-3z"/>
<path id="ad11" d="M858 466zm-22 1zm10 1zm-13-5zm8-9zm-30-12zm-7-8zm7 5zm7-12zm-21 37zm-5-1zm17-7zm-3 31zm1 6zm4-11zm-2 1zm13 27zm-75 93zm-15-8zm-15-12zm-14-8zm93-43zm30-6zm-6 18zm7 15zm-25 19zm7 1zm83 19zm-35-35zm-19-18zm9 5zm-14-28zm16-9zm15 29zm35 1zm14 53zm13-2zm-22-13zm4 15zm0 5zm-4 19zm16-11zm1 408zm-1 4zm-6 1zm-491-83zm4-5zm5-7zm-37-10zm-4 3zm24 23zm0 10zm0 1zm-16 18zm-7 7zm12 1zm-2 2zm15-20zm6 8zm-2 8zm-2-2zm-26 36zm-20-42zm-46 13zm14 32zm0 4zm-38-27zm-27 20zm4-19zm-7-13zm-17 11zm47-26zm5 17zm2 5zm3-8zm2-5zm-10 1zm6-25zm8-19zm-18-4zm7 0zm11-4zm-3-5zm19 9zm-4-2zm1-12zm28 38zm2-6zm-10-58zm61 2zm6-16zm-2 1zm-173 135zm11 7zm-13 17zm22-1zm7 55zm83 6zm3-3zm8-21zm-10 4zm8-1zm-3 4zm-29 0zm24-40zm-2 9zm8 5zm14-7zm2 5zm11-12zm7-6zm1 17zm6 25zm1 13zm3 0zm7-7zm-8-18zm19 5zm10 18zm9-2zm4-14zm-10-11zm5 2zm-4-11zm-2 3zm-5-7zm17 30zm11-1zm-8 42zm-2 8zm-29 19zm11-9zm-6-1zm-4-3zm-5-6zm23 0zm4 7zm-8-16zm4 2zm6-15zm-6-6zm-12 0zm-19 17zm2-10zm-12 18zm2 21zm1 1zm607 401zm-12-10zm0-12zm1 3zm3-1zm6-9zm8-3zm-1 5zm5-1zm-22-29zm8 6zm-44 12zm15 17zm-15 6zm7 8zm-29-28zm21-51zm-9-14zm-4-1zm1 8zm-14-8zm-5-19zm29 15zm17-6zm-10 30zm15 5zm16-10zm14 10zm-17-51zm2-4zm21-2zm5-13zm-23 5zm-15 5zm-20-22zm26 7zm19-43zm-6 23zm20-9zm-9-16zm-2-7zm-11-18zm10-1zm3-36zm-25 7zm-17 13zm-9 21zm3 0zm12-12zm15 0zm-14 21zm4-2zm2 11zm-49-14zm12-4zm13-5zm-18-13zm-23 5zm-1-31zm-9 12zm-2 28zm20 9zm-1 5zm2 5zm5 51zm-8 7zm-14-18zm-31-97zm-45 13zm9 4zm-13 12zm-15-1zm-16-2zm-1-11zm-27 75zm33 59zm66 27zm-114-105zm136-308zm2-1zm1 8zm-5 2zm-4 0zm-11-3zm-8-7zm20 26zm-7-5zm11 13zm-16 7zm-14-5zm-1 1zm2-9zm-6-5zm-3 39zm5 2zm-8-6zm13-14zm2 2zm5 13zm-1-7zm9 0zm14-6zm-12 24zm-2 2zm-2 1zm-5-8zm14 30zm6-1zm-3 4zm-2 9zm-29 0zm-2-11zm4 2zm2 0zm-18 2zm-34 6zm14 2zm-8 32zm22 40zm5 3zm48-41zm-45-22zm1-8zm4 10zm0-1zm18 2zm3 4zm-7 11zm19-7zm12-7zm-9-2zm-2-2zm23-8zm-4 25zm16-4zm7-9zm3-16zm8 12zm14-9zm-3 17zm2 5zm-45 13zm6 11zm16 38zm-3 10zm18 6zm-6 21zm8 2zm9-13zm-3-17zm9-16zm-8 1zm-19-7zm14 3zm20-9zm-5 5zm28 22zm-7-1zm-10-12zm-5 3zm1 21zm11 12zm10 6zm0-10zm10 4zm12 4zm9-32zm-12-24zm3-2zm-29-14zm-9 9zm-4 3zm20-16zm-29-34zm11-6zm-9-46zm8 21zm9 7zm-25-17zm-24 3zm-1 6zm6 10zm-2-4zm6-2zm-4 14zm-23-6zm-11-12zm-4-4zm22-13zm-12-1zm-6 4zm3-24zm39 24zm-2-9zm13-1zm-4-5zm-5-24zm0-7zm-4 7zm-17 5zm1-9zm-9-3zm-11 2zm6-11zm6 6zm4-4zm-15-28zm-7-4zm181 16zm26-24zm3 2zm23-1zm-26 34zm0 10zm-6-11zm-5 62zm-33 27zm9 17zm-4 9zm-17 49zm-3 5zm-18 29zm1 10zm15 11zm25-26zm3 9zm-1-11zm-13-21zm37 2zm-3 9zm7 14zm-2 5zm15 13zm-5-16zm14-8zm25 5zm-4-65zm-22 24zm-4-2zm-2-14zm2-12zm-12-26zm52 49zm-1 30zm102-84zm3 26zm4-40zm11-31zm-41 8zm-47-90zm-1 11zm16 11zm5-11zm28-8zm41 1zm16 21zm3-15zm20 2zm27 20zm-46 11zm-4-5zm91 34zm-13-64zm11 11zm2-5zm41 4zm-53 233zm-7-5zm-18-8zm0-10zm17-3zm-4 12zm-53-16zm36 18zm-7 23zm-5 4zm7 10zm-127 209zm-11-3zm4 10zm-17 8zm-16-3zm-2 3zm-9-12zm-5-15zm-1-6zm6-5zm-4-6zm0-6zm17 6zm3-9zm13 9zm19 17zm7-21zm-6-26zm6-1zm-1-6zm-14 6zm5 4zm-31 9zm-2 5zm-19-6zm13-8zm-1-7zm-3 2zm4-8zm8 10zm2-13zm0-4zm-5-7zm3 11zm-12-3zm68 18zm2 5zm-72-133zm36 47zm-7 0zm-1 20zm-9-8zm-29 6zm-42-5zm6-106zm-23 12zm6 21zm18 17zm4 11zm-29-6zm-18-9zm-10-34zm-12 14zm-24-19zm16 48zm-8 7zm3-10zm-1-1zm-7 13zm6 8zm-3 6zm6 8zm13-17zm22 57zm-5-1zm-35-24zm-6 29zm20 29zm-21 11zm56-12zm-14-24zm42 7zm24-7zm-4-2zm-2-3zm20 23zm-27 11zm13-2zm16 17zm-9 6zm-44-1zm-2 19zm12 5zm36 0zm1 15zm-4 1zm-8-13zm-5 23zm13 10zm8 2zm-31 0zm0-18zm-14 25zm-43-4zm-4-18zm15-4zm0-20zm-30 0zm-7-14zm11 43zm88 25zm8 11zm35-12zm-20 15zm399-671zm-43 77zm-3 31zm-16 0zm-4-29zm-12 7zm2 3zm-5 6zm4-1zm8 2zm-60 14zm-14-10zm-2-5zm6-13zm2 2zm6-3zm45-21zm-4-4zm-8 4zm-14-9zm-2 6zm-7 6zm-2 5zm-5-5zm-12-4zm0-5zm10-7zm-1 2zm7 9zm1-12zm20-6zm27 16zm12 6zm5 5zm20-20zm-11-6zm26-59zm-3 0zm-30-10zm4-9zm10 5zm3-2zm20 12zm-1-6zm-27-29zm-105 66zm-54-3zm18-23zm3 0zm5-6zm-18-4zm2-2zm23 9zm20-71zm-3-2zm-60 25zm-31 78zm-17-19zm-7 7zm1 10zm20 15zm39 45zm-24-45zm21 5zm11-2zm-1-2zm51-11zm5 43zm-10 13zm-15 1zm-6 4zm-14 0zm4-9zm-6 7zm-6 18zm7-8zm15 1zm12 8zm0-9zm16 26zm-4-3zm-8 3zm-12-8zm-31 19zm-16 9zm9-27zm-5 2zm4-13zm-14 0zm1 10zm-47 24zm20-10zm2 12zm-21 4zm-1 4zm-61-1zm39-83zm4 2zm15-30zm-29-6zm3 9zm6 12zm2 7zm-24-11zm7-20zm-11 9zm-13-2zm0 22zm15 3zm5 4zm6 4zm3 3zm-15 4zm3 3zm4 11zm-23-8zm-27-11zm-1-5zm-4-2zm22-16zm8-19zm-21 25zm-2 4zm-7-3zm-6 1zm1-1zm-11 3zm8-10zm-9-5zm-2 65zm12 9zm-5-13zm17-2zm15 1zm0 26zm-34 4zm-5 3zm-43-7zm21-10zm-15-19zm2 10zm-23 14zm2-6zm-18 14zm-6-5zm20-64zm21 18zm15 11zm0-4zm-18-33zm23-16zm-22-38zm26 6zm-43-2zm16-68zm6 4zm2 15zm18-6zm-2-19zm-13-2zm24-23zm6 6zm-6 10zm-3 8zm8 1zm6 0zm9-28zm3-1zm17 8zm16-6zm-2 10zm-8 24zm-14 13zm-11 3zm2-6zm-22 29zm-1 4zm-1 22zm1-2zm1 16zm-4 5zm10 5zm8-1zm6-7zm1-7zm-1-4zm-11-5zm5-6zm14 5zm12 8zm-5 13zm5 1zm5-3zm7-15zm-3 4zm3-1zm1-21zm-25-16zm20 7zm7-4zm31 15zm-10 1zm-14 11zm10-5zm2 28zm9 0zm-9-22zm30 0zm8 7zm-3-3zm-14-13zm-10-33zm-5-5zm-15-11zm-2-12zm10 10zm-5-21zm2-6zm-5-7zm3-1zm-26-30zm4 8zm-8 4zm-42-301zm-3 5zm2 0zm2 11zm16 18zm-7 1zm-8 0zm6 6zm-1 3zm-17 5zm3-20zm-2-6zm-5-2zm-5-24zm-19-5zm27-18zm-32-106zm-9 14zm-44-14zm4 0zm0 9zm15-1zm-16-14zm41-5zm3 2zm2-16zm1-7zm18-3zm1 15zm14 0zm-5-29zm-9 5z"/>
<path id="as11" d="M1013 239zm2-4zm-15 6zm-147 138zm137-104zm20 11zm-10-6zm4 1zm-12 8zm7 1zm0 1zm-5 10zm5-3zm12 17zm-7-3zm1-7zm-39-2zm-1 10zm50 25zm-2-1zm-4 27zm-20 19zm-23 0zm-28-27zm12-29zm-44 81zm-9 18zm1 20zm24-1zm-3-19zm11-24zm55 12zm16-30zm17 8zm-21 29zm-12 1zm33 42zm-74 13zm-32 0zm-10-8zm-20 19zm5 5zm-30 4zm-22-15zm25 4zm-1 0zm34-28zm-37-53zm-16 11zm23 17zm-3 4zm-24-5zm-6 5zm-29-6zm0-4zm1-4zm10-4zm18 9zm0-6zm-39 17zm-6 5zm46 52zm-82 122zm-12 3zm5-9zm13-17zm-6 11zm-32 9zm-24-35zm5 0zm5-13zm-2-4zm10 5zm23-1zm-7-19zm11 12zm30-36zm0 9zm30 42zm-9-8zm-5-4zm-5-2zm-11 27zm21 0zm7 9zm-28 0zm52 19zm16-27zm23 43zm22-7zm-4-43zm7-12zm-9 2zm52-54zm-11 18zm-10 16zm-3 5zm7 18zm14-23zm0 2zm-5-3zm19 22zm11-13zm6-27zm7 2zm-1 5zm5 1zm23-9zm29 3zm0 12zm-5 6zm-77 50zm-16-27zm-11 8zm2-4zm11 57zm-10 12zm-44 32zm6-34zm-12 24zm-36 178zm-2 4zm4-6zm0-7zm29-8zm-25 23zm24 39zm7-17zm-13 0zm28-10zm5-6zm-4-13zm5-17zm138-56zm-2 100zm-85-15zm21 63zm47-16zm13-1zm-22 26zm-4 16zm19 58zm-37 1zm-74 5zm-33-116zm-378 96zm-3 17zm-19-26zm-16-7zm-19-33zm5-8zm5-29zm7-7zm-45 0zm-10 4zm9 51zm29 20zm2 3zm0 6zm-3-1zm-1-5zm-9 15zm0 9zm3 19zm-14-24zm-1 7zm-29 6zm-15 4zm11-14zm-2 2zm0-41zm-22 0zm-15 33zm8 5zm-86-27zm48-22zm-6-6zm-2-1zm-3-6zm4 10zm44 6zm8-2zm-10-11zm10-10zm5 7zm-1 16zm21-8zm0 1zm1 12zm5-21zm-12-1zm-16-9zm4-13zm3-12zm21 5zm-1-24zm-13 4zm15-25zm-9 0zm37-37zm2-4zm-13 8zm-8 6zm3 10zm-10 11zm5 26zm43 8zm4 1zm-11-35zm-178 128zm-20 58zm148 86zm-21-16zm22-13zm7-73zm47 4zm16 10zm31 34zm-17 56zm-11 3zm-63-31zm14 42zm7 4zm6 12zm565 400zm15-2zm-4-35zm-24-232zm-162-9zm-38 20zm59-226zm14-32zm14 2zm17-9zm-18 37zm-5 24zm-14 13zm21 8zm0 3zm-5 5zm-37 13zm-3-11zm0-4zm18-35zm-3 13zm-16 11zm21 62zm-15 0zm-4-4zm-7-3zm3 29zm19-1zm5 7zm-1 11zm-10-3zm0 50zm7-12zm22-16zm-15 43zm16-14zm16-3zm18 5zm-4-17zm-7 0zm2-30zm0 2zm21-4zm-7-9zm-18-7zm-2 3zm11 12zm-17-53zm82-3zm2 37zm10 14zm-9 4zm-41 1zm-4 39zm25 10zm-11 0zm1-5zm46-62zm20-7zm-12-12zm8-16zm10 3zm17 3zm-2-23zm-6 7zm2-10zm4-6zm3-29zm-5 12zm-23-24zm-14 0zm-11-18zm-7-11zm5 1zm-19-4zm2 23zm-9-43zm19 3zm36-3zm-12 9zm12 23zm5-6zm56-36zm53-7zm52 25zm1-2zm-23 3zm8 15zm7-6zm-10 14zm-12-16zm-19 29zm-8 5zm26 12zm9-12zm-50 57zm-17-17zm27-5zm-34-14zm-10-7zm-2 50zm9 10zm19 20zm-8 18zm-29 3zm31 10zm33-61zm28 15zm17 6zm21-11zm0 16zm22-14zm20 1zm-11 5zm4 15zm-27 8zm7 72zm16-20zm20 20zm0-37zm4-2zm-2-6zm3 1zm14 43zm18-18zm27 19zm2-6zm-3-33zm-8-19zm-26-22zm-50-40zm-25-16zm-6 2zm8-77zm64 1zm15 9zm57 77zm15-21zm-1 10zm25 12zm-6-18zm12 10zm3 9zm8-115zm59 116zm-67 26zm7 35zm-45-6zm2-6zm4-44zm1 23zm-21-8zm-12 49zm10 6zm44-2zm-19 15zm-87 263zm-12 16zm2 0zm1 6zm-9 9zm-23-83zm-12-19zm-2-9zm9 12zm-2 2zm12 5zm13-1zm-3-21zm24-7zm8 10zm-9 8zm-9 6zm15 30zm0-14zm13-63zm-33 5zm0-35zm17 3zm13-11zm16 4zm0-17zm5 5zm7-36zm-25-23zm-6 0zm-7 0zm-19 19zm16 28zm-22 2zm-7-6zm9-6zm-7-5zm4-5zm-32 4zm9 37zm-4 1zm27 24zm3 26zm-30 2zm-156 142zm57 11zm8 5zm82-2zm-16 6zm2 0zm-7 0zm2 4zm381-721zm24 103zm-12 36zm18-2zm-28 10zm-24 19zm-42-46zm0 5zm-42 12zm7-11zm19 15zm-2-27zm-47-3zm7-55zm76-20zm-1-14zm-12-23zm6-9zm42-2zm-14-9zm-40-35zm13 20zm8 1zm1 12zm-1 0zm-14 1zm7-5zm-25 8zm-17-5zm-3-3zm7-18zm9-7zm-17-14zm-30-4zm11 16zm3 12zm14 15zm-21 6zm-2 8zm0 4zm5 25zm7-14zm19 21zm20 3zm-49 2zm-18 7zm-12-39zm17 13zm-1-16zm-3 4zm-13-34zm13-27zm-3-13zm-20 0zm-1 9zm-2-7zm-30 23zm0 3zm3 5zm2 22zm-14 5zm-1-10zm-20-1zm2-1zm25-8zm-5-10zm-12-16zm-43 22zm23 7zm-23 8zm21 34zm37-6zm-5 7zm-23 21zm17-12zm2 12zm-24 1zm-11 48zm15 3zm8 15zm-5 4zm1 7zm20-4zm7-14zm-1-8zm17-13zm18 5zm30 40zm-17 37zm1 16zm-20-19zm-13 24zm-60-59zm-3 21zm-53 10zm-22-16zm52-21zm-4-34zm5-10zm-71 47zm-5-2zm-9-4zm-23-3zm34 14zm-82 8zm-5-10zm-13 52zm-25 1zm5-2zm-10-8zm-5 10zm-1-4zm-8 12zm-8-2zm-19-12zm28-46zm26-9zm-9 2zm13-11zm-43-10zm47 26zm40-84zm-25-16zm13-5zm-13-22zm-6 21zm2 7zm7 7zm-1 0zm-34 2zm-34 3zm37-16zm3-55zm-36 4zm70 9zm-6-5zm13-8zm16-21zm11-2zm66 13zm-13-6zm72 83zm-11-33zm6 12zm-27-47zm8-27zm12 3zm7 13zm-45-29zm-5-6zm-26-19zm-36 23zm2 3zm-27-19zm15-6zm-34-217zm8-4zm-6 5zm38 8zm-17-2zm2-9zm8 1zm4 9zm-2-14zm7 0zm42-71zm-33-47zm-7-11zm4 12zm-2 32zm1-4zm17 13zm-14 20zm31-5zm-7 7zm4-3zm3 0zm-18 55zm-37-10zm-12-21zm-5-1zm0-6zm-26-6zm7 11zm-5 4zm9 5zm8-4zm-27 25zm-13-2zm0-6zm11-9zm-2-8zm-11 16zm-29-3zm-5-11zm4-9zm-1-5zm21-14zm-3 19zm4-29zm-29-3zm-6-19zm9-39zm16 7zm64 16zm-11 30zm47-3zm-7-12zm-2 1zm2-10zm3-3zm-12 3zm-5-8zm8-21zm11 9zm2-13zm-26-3zm4-13zm-5-4zm13-4zm2 7zm-51-24zm12 2zm12 24zm-2-7zm2 23zm-37-7zm-13 7zm-35-4zm4-12zm8-8zm11-17zm-7-18zm0 6zm6-6zm9 13zm12 14zm-18-33zm-7-3zm-16 3zm6-10zm16-42zm-3 0zm9 7zm28 9zm7-8zm-3 9zm35-2zm22-16zm7 101zm-95-122zm-20 11zm-11-11z"/>
<path id="ad12" d="M844 504zm-12-34zm9-3zm5-6zm-4 0zm11 1zm-35-22zm-11 9zm21 9zm0 8zm0 5zm-18-7zm17 45zm-80 80zm-28-3zm-1-8zm1-7zm3 1zm172 42zm-7-27zm-31-45zm38-4zm11 52zm6 3zm-7 13zm22 4zm-15 22zm13 385zm-506-70zm-1-43zm-5 34zm-2 5zm-3 13zm-16 26zm12-18zm4-4zm6 3zm14 12zm0-14zm-23 36zm-32-6zm-43-25zm-5 1zm-4-6zm18 46zm13 12zm-32-12zm-31-11zm14 15zm-27-24zm29-51zm34-24zm19-18zm-1-9zm4-3zm6-5zm57-10zm2 3zm-6 11zm-168 112zm-11 17zm12 14zm50 7zm19 80zm39-54zm-3 13zm3-31zm17-7zm1 4zm-8 3zm31-13zm3-1zm-2 24zm-2 5zm-4-8zm-11-4zm-1 23zm18 16zm17-20zm9 9zm-3 9zm12-10zm1-18zm-9-1zm-13 4zm34-6zm5 4zm18 21zm-18-10zm-1 0zm2 11zm7 6zm-12 3zm0 8zm9-2zm-8 7zm0 11zm-32 36zm12-16zm10-10zm-7-28zm-6 5zm-12-6zm1 5zm3 17zm5 7zm-15-27zm-19 35zm15-2zm4 4zm555 411zm23-2zm14 10zm-7-2zm3-32zm5-1zm3-27zm-10-1zm-3 2zm-18 23zm-16 13zm-25-33zm-18-28zm-7 9zm25-36zm3-9zm33-14zm16-2zm-5 14zm14-5zm6-4zm18-55zm3-21zm-19-17zm-5-8zm20-23zm-15 14zm-16-3zm1-14zm-4 1zm-2-1zm-13 38zm20 3zm-32 11zm-16-22zm12 2zm-1-4zm-14-20zm-11 3zm-2 29zm1 42zm-9 17zm-83 5zm26-98zm-37 48zm0-44zm-4-7zm-12 20zm13 92zm39 16zm28 2zm-130-82zm97-288zm21-11zm7 7zm4-3zm-9 4zm-1-2zm-5 23zm20 11zm-8 9zm-3-3zm-4-4zm-21 13zm34-2zm3 27zm-29-5zm11 11zm14 3zm5 13zm-22-2zm-5-2zm-2 10zm-25-15zm1-5zm-6 16zm-21 14zm15-1zm-10 26zm-9 5zm31 48zm49 28zm-5-10zm7-4zm-20-61zm-2 2zm-37 25zm26-34zm0-11zm-7 7zm-19-7zm3-5zm42-7zm-2 1zm6 23zm4-1zm3-1zm4-3zm-3-13zm-8 0zm7-4zm14 12zm11-15zm43 0zm-2 9zm-9-2zm10 6zm-20 11zm-22 37zm1 6zm7-1zm-9 9zm13 25zm14-6zm-2-19zm12-10zm7-2zm16 31zm47-29zm-9-9zm-42-4zm1-4zm-10-97zm12 28zm3-7zm-5-8zm2 23zm-23 6zm-1-19zm1 5zm-21 8zm-26 8zm-5-28zm20 12zm9-2zm-20-32zm0-6zm19 7zm13 13zm-3-39zm-15 10zm-3 0zm-3-20zm-11-17zm-2-4zm186-14zm7 1zm6 15zm3-5zm-2 43zm8 41zm-24 61zm-60 33zm26 25zm-14-6zm-6 1zm2 22zm1 15zm20-17zm23 14zm-7-39zm24 1zm0 4zm1 24zm18-10zm26-38zm10-26zm-29 1zm41 59zm22-1zm63-133zm-63-79zm45-9zm6 3zm121 83zm15 32zm33-36zm-49 138zm6-24zm4 1zm12-70zm-38 103zm-11 21zm-10-11zm-9-7zm18 29zm17 2zm19 20zm2 0zm-1-16zm-13-16zm-125 193zm-4 18zm-25 22zm2 1zm-10 8zm9 1zm-8 5zm-20-4zm-4 8zm-9-1zm9-5zm-12-14zm-1-2zm22-5zm-2 3zm-3 9zm0-15zm-16-7zm13-14zm0-3zm14 3zm21 10zm1-9zm5-26zm2-9zm-16 17zm-1 6zm-12-2zm-4-8zm-14 10zm-1-7zm8-11zm0-13zm-6-16zm62 24zm5 19zm18-133zm-91-16zm10 5zm1 44zm17-12zm-9 47zm5-8zm-14-10zm-42-5zm-26 3zm9-26zm25-8zm2 14zm8 10zm-2-40zm-16 7zm0-55zm-56 20zm-18-10zm-11 79zm4-21zm14-1zm16 6zm-5 16zm-3 16zm18-12zm-35 27zm2-5zm4-9zm-31-5zm21 32zm-10 47zm28-24zm2-20zm50 20zm34-18zm-2-1zm-10-2zm-1 5zm7 7zm2 39zm-11 8zm7-2zm8 3zm-4-1zm1 4zm-11 22zm12 3zm4 7zm-4 6zm-79 0zm101 24zm14-3zm-12 10zm-1 2zm18-2zm-4-13zm358-676zm-34 143zm20-7zm-23-29zm7 14zm-9-1zm-4-7zm-13 0zm-6 19zm19 4zm-49 6zm-1 7zm-22-15zm10-9zm-11 3zm-4-4zm-4 5zm-10-3zm12-8zm-12-8zm52-13zm3-10zm5-13zm-6 1zm-9-7zm-5 25zm-18-3zm-16-1zm-1-15zm14-1zm4 2zm0-11zm-18 0zm-5-5zm6-12zm28 14zm-1 4zm25 0zm9-28zm20 11zm6 11zm0 5zm-25 9zm-4 13zm7 7zm5-5zm-3 1zm29-15zm4 1zm-1 21zm0-9zm5-24zm15-50zm-50 16zm30-35zm13-7zm-150 40zm-18-23zm17 8zm-3-18zm8-8zm0 8zm5 6zm14-67zm-3-9zm-57 36zm-49 42zm40 24zm12-5zm-4 4zm-37-5zm3 2zm-19-17zm-4 3zm14 14zm-4 26zm9 12zm-6 3zm-10-2zm59-10zm-12 4zm-9-13zm29-3zm-3 14zm52 1zm5 10zm-28 11zm22-3zm8-5zm-5 19zm-20 4zm-12-2zm0-11zm-8-7zm-16 11zm0 5zm0 5zm-1 11zm12-3zm-6 9zm-2 2zm31-9zm26 5zm-2 3zm0 3zm-1 1zm-10 0zm-10 14zm-50 4zm8 9zm0-12zm-4 0zm-26-17zm-36 29zm-22-55zm6 4zm-11-16zm1-6zm19 12zm-4-23zm10-18zm-2 4zm-15-6zm3 18zm-21 5zm-6-19zm-12 11zm-3 28zm4 3zm3-4zm11-11zm-4 11zm-7 12zm-14-3zm-26 10zm24-15zm1-26zm-3-21zm-24 29zm-9-9zm7-4zm-2-4zm-9-5zm2 4zm-7-6zm-8-3zm25 59zm-14 0zm-2 26zm7 1zm12-21zm27 26zm-4 3zm-1 28zm-47-18zm-40 7zm5-42zm-10 18zm-21-5zm-6 7zm2 3zm20 11zm-24 2zm-6-16zm24-89zm9 54zm0-20zm19 5zm-6 18zm9-3zm8-3zm1-4zm6-7zm-13-37zm2 8zm10-11zm1-6zm-26-29zm-9-2zm-4 12zm-39 16zm47-77zm26 7zm0-11zm-3-15zm25-19zm15 4zm-11-2zm16-8zm10 13zm-3 27zm3 6zm-2-12zm10 5zm5-4zm-13 20zm-1-1zm-10 7zm-3-5zm-6-7zm1 6zm-2-17zm-1-4zm-12 23zm-11 12zm18-2zm-7 53zm29-21zm5 13zm3-15zm8-5zm1-2zm-1-6zm-14-16zm20 11zm3-13zm3 13zm17 0zm1 15zm-12 1zm-6 26zm8-7zm2 0zm7 0zm18-3zm-6 8zm12 5zm9 3zm8-6zm-3-16zm-27-45zm-14-10zm-10-13zm6-3zm-2 1zm11 7zm-22-20zm4-17zm23-1zm-53-22zm8-3zm5 11zm9 1zm-28-3zm-18 7zm-6 1zm0 2zm-35-12zm30-306zm-3 20zm20 13zm-16 3zm-1-1zm-3 10zm3 6zm-12-4zm-2-30zm8 3zm-2-1zm-22-14zm4 12zm-4-131zm-30-2zm-33 2zm10-23zm-38-7zm73 3zm2 5zm14-2zm14-30zm-2 4z"/>
<path id="as12" d="M1019 294zm-11 5zm13 13zm-2 5zm-26-1zm-3-2zm-2-13zm-8 24zm21 4zm22 32zm-8 6zm-23 4zm-7 11zm-64 32zm-12 20zm47-49zm30 26zm5-5zm7 36zm-16 1zm-20 20zm4 6zm43 38zm-8-8zm-72 9zm3-28zm-6-8zm-18-5zm8 17zm11 25zm-28-7zm-28-13zm-31 1zm15 3zm-23-19zm23-15zm7-2zm5-5zm18 23zm2-3zm4-8zm-16-18zm2-8zm-15-35zm-13-4zm-15 12zm16 19zm8 2zm0 11zm-21 3zm-13-7zm-2-1zm7-12zm-38-14zm-11 50zm-9-1zm52 24zm-5 7zm7 7zm-59 134zm-22-4zm-5-52zm-22 32zm-22-39zm-3-12zm38 16zm7-7zm24 5zm0-17zm20 2zm2 31zm11-7zm-1 12zm38 3zm-10-11zm6 3zm3-5zm11 24zm38 12zm4-2zm-9-24zm51-62zm25 8zm2-20zm66 32zm-47-4zm-39 35zm-16-5zm-1-1zm-1 109zm-83 209zm11-59zm20 14zm-16 6zm1 24zm-15-4zm19 6zm9-16zm5 17zm13-44zm-38-7zm66 28zm92 109zm-54 55zm-6-12zm-1 3zm-35-2zm-445-10zm35-23zm-48-58zm-2-22zm-4 3zm-45 3zm-3 41zm-6 21zm33 30zm22 3zm-14 20zm-12-17zm-58-7zm17-32zm-16 6zm-1 14zm-11-82zm-8 57zm36-30zm-14-4zm-1-8zm13-30zm-9 5zm20-24zm1-21zm-21 13zm-17 15zm-8 2zm1 8zm1 6zm-15 4zm65-73zm-3 23zm12-7zm7-2zm-2 21zm-4-3zm-13 10zm8 7zm-4 6zm13 7zm1-8zm25-12zm2 6zm7 3zm-19-15zm12-4zm-3-10zm-2 3zm-7-8zm-136 261zm45 30zm94-105zm29-1zm10 12zm-32 116zm573 405zm-13-37zm-33 12zm55-106zm5 12zm-47-146zm-129-7zm-6 1zm-37-6zm32-204zm43-45zm4-7zm-34 67zm10-3zm44 62zm-64-13zm-26 11zm1-2zm20-11zm-5-16zm-3-4zm11-20zm-13 74zm-10 30zm14-11zm0 18zm-1 9zm-9 62zm16-5zm2-16zm-7-40zm2 6zm7 8zm-2-5zm17 22zm-13 16zm21 3zm14 0zm27-12zm-1-19zm-22 11zm-2-21zm-5-7zm30 6zm-1-19zm-21 4zm-21-9zm0 6zm-10-2zm-9-17zm63-31zm63 49zm-62 6zm14 52zm-1 9zm4-3zm10-14zm86-70zm-44-4zm33-20zm24-7zm-47-62zm7 58zm-33-54zm5-2zm-1-20zm-2-5zm-2 1zm-31-21zm21 6zm28-13zm-2 25zm8 18zm40-3zm10-8zm-17-23zm119 7zm-24 34zm-44 44zm-33-23zm1 13zm1 47zm36 15zm5 7zm3-4zm5-4zm-20 14zm-4-16zm60 50zm-21-48zm10-4zm21-5zm35-3zm49 15zm4 23zm-12 2zm-14 16zm11 33zm20-13zm-30-8zm80-40zm-12 11zm-22-24zm-1-4zm-44-113zm-6-4zm158 78zm115-120zm-72 233zm-83-95zm-10 105zm79 61zm-125 152zm-6 1zm-5 26zm2-4zm-4 17zm-29-78zm-22-30zm30 7zm34-8zm-13 24zm27-59zm-25 15zm6-3zm-16-37zm3-10zm23 6zm15-12zm-11-19zm-16-28zm-15 16zm1 9zm16-3zm8 6zm-5 14zm1-4zm-11 3zm-20 0zm-6-52zm-7 27zm-40-14zm34 57zm23 14zm-173-53zm51 244zm102-5zm14-10zm1 6zm339-701zm14 31zm-6-12zm17 69zm-23 61zm-25 21zm4-9zm-54-36zm3 34zm12-2zm-45-41zm12 16zm12-7zm-60-74zm28 10zm19-4zm-8 7zm13 4zm11-7zm1 3zm1-45zm19-6zm-18-11zm18 0zm8-10zm17-9zm-39-33zm-5 5zm2 2zm28 9zm-10 10zm-21-3zm-3 6zm-19 0zm-6-7zm11-17zm-40-18zm13 21zm-3 13zm5 6zm8 6zm-23-12zm-4 17zm29 39zm19-7zm10 3zm-1 22zm-38 1zm1-25zm-19 27zm-51 0zm-16-2zm25-50zm4 4zm-3-13zm35-39zm-43-3zm12-8zm-31 7zm4 1zm7 25zm1-6zm8 2zm-18 14zm1 4zm-25-11zm-2-8zm-34-5zm20 4zm-24 27zm10-2zm-11 25zm23 3zm4-13zm-11-2zm21-7zm2 5zm5-9zm-5 12zm22 42zm-23-5zm-8 42zm-29-14zm16 40zm20-20zm24 0zm-4-12zm3-2zm18-9zm-8 12zm6-3zm29-9zm-63 86zm1-6zm-87-30zm-48-6zm8-3zm-28-14zm-14 30zm-4 46zm-50-52zm-57 62zm-5-61zm7 8zm19-33zm41 21zm43-74zm-10 9zm-14 1zm6-26zm18-26zm-9 3zm-17-6zm3 6zm1 3zm-16 1zm5 31zm-32-8zm-13 3zm-12-11zm-15 28zm34-50zm9-27zm-26-7zm54-15zm-22 5zm13 16zm19-44zm10 4zm117 80zm0-9zm-2 1zm17-22zm-10-9zm-16-22zm-7 3zm0 1zm23-6zm3-5zm-20-24zm-68-28zm16 1zm10 2zm-28 24zm-8-20zm-9 4zm13 7zm-1 7zm-18-12zm-107-216zm83-4zm3-4zm-1-10zm3 6zm3-3zm8-4zm28 2zm-12 11zm13-3zm29-82zm-41-36zm4 0zm20 23zm-20 16zm17 24zm5-2zm-5-13zm15 10zm-13 43zm-25-2zm-24 6zm-3-12zm-12-44zm-8 32zm7 19zm-46-20zm-8 16zm4-1zm-14-33zm-5 3zm-11 7zm4-10zm41 2zm5 4zm-2-21zm-21-16zm-6 11zm-29-14zm8 1zm-6-10zm43-36zm-2 5zm-10 9zm32-7zm26 46zm32-15zm-10-8zm-11-4zm-5-5zm9-32zm-4-13zm-31-38zm-37 34zm-23 21zm16-17zm-25-23zm-4 0zm14-8zm-9-6zm11-2zm40-34zm-21 7zm-8 15zm-7-3zm-6-14zm11-15zm-8-8zm62 6zm24-12zm4-7zm22 58z"/>
<path id="ad13" d="M862 469zm-11-4zm-8-10zm-32-31zm6 27zm10 17zm-14-4zm-72 125zm-4 16zm-16-24zm98-15zm27 16zm41 1zm40 20zm-9 0zm-496 349zm-3-6zm-2-7zm6-5zm-7-6zm3 1zm6-29zm-25 21zm3-3zm-2-9zm-5 29zm16 16zm-2 37zm2-6zm0-10zm-3-11zm8-1zm-54 35zm-37-4zm24 9zm-59-9zm11 21zm-16-38zm28-37zm-10-8zm11-10zm34-25zm-1 3zm30-20zm-21 8zm-2-2zm5-6zm48 12zm7-9zm7 11zm-179 107zm3 16zm87 85zm49-58zm8 13zm7 3zm-2 3zm17 21zm3-1zm16-23zm-3 3zm0 13zm5 4zm11 6zm2-3zm-14-17zm-15-15zm39 27zm-19 39zm-3-12zm13-7zm-27 2zm-30 3zm16 22zm593 412zm4-46zm-62-48zm-18-8zm-20 1zm56-8zm37-3zm22-37zm-22-10zm21-38zm-16-17zm17-29zm-40-8zm12 33zm-58 2zm7-9zm-9-11zm-78 77zm38-68zm-52 24zm-30-40zm52 133zm-93-89zm-12-16zm133-276zm-12 0zm-6 6zm4 19zm21-8zm-6-2zm-4 17zm-9-2zm-22-16zm20 34zm-1-3zm11 14zm7 10zm-4 6zm3 11zm-7-1zm1 5zm-32 8zm-4-4zm-9 9zm-12 1zm-11 4zm8 7zm5 9zm13 52zm39 32zm12-66zm-7-3zm-2 10zm-7-2zm2-8zm-18-9zm-21-8zm1-4zm25-7zm5 4zm6 20zm-4-13zm18 4zm28-12zm14 3zm15-3zm9 13zm-35 42zm0-11zm-4 28zm8 4zm23 32zm-13-22zm-7-4zm0-7zm21-17zm10 1zm29 13zm17 44zm9-38zm-18-8zm-18-121zm-14 15zm4 4zm8 4zm-59 4zm-4 7zm-16-4zm4-18zm8 6zm13-6zm0-2zm-1-14zm-1 6zm-10-18zm9-2zm21 24zm-2-7zm6-2zm1 0zm0 4zm-20-31zm-17-2zm-2-7zm-11-1zm2-6zm9-2zm5-19zm-4 2zm-8-6zm190-7zm-14 148zm-49 36zm14 49zm37-4zm22 18zm17-19zm19-11zm-21-88zm118-9zm102-52zm30-8zm0-8zm-19-29zm89-9zm-25 2zm-64 225zm0-28zm-10 9zm17 40zm-120 187zm-14 9zm9 5zm-2 2zm-5 9zm-14-1zm-2 1zm-14 15zm-3 10zm-6 4zm-19-18zm14-20zm-6 0zm-10 5zm-5-13zm0-8zm3 0zm-1-7zm20 14zm3-13zm22 26zm8-1zm2-15zm-6-11zm2-2zm4-11zm-14-2zm-2 4zm-3 6zm-16 1zm1-11zm-10 8zm-14 4zm9-9zm-12-9zm31-16zm38 18zm-3 2zm-1 14zm13-1zm-46-107zm14 14zm-53 28zm-49-10zm21-6zm-4-23zm22-15zm-91-12zm-2 5zm36 15zm2 17zm1 26zm-10-4zm-34 3zm0 23zm88-3zm-15 40zm37 51zm-8 7zm-32-2zm-7-11zm-13 26zm-13-3zm107 17zm5 0zm9-4zm345-666zm11 15zm-3 34zm5 6zm-13 39zm-4 4zm-22 32zm2-13zm18 0zm-7-5zm-7-4zm8 0zm3-9zm-2-8zm-6 3zm-11 1zm7 17zm-21 1zm-22-24zm9 18zm2 8zm-5 3zm16 4zm-28-4zm-54-13zm0-11zm-3 6zm-1-12zm15-1zm18-2zm17-13zm8 3zm-28-21zm13 24zm-26 3zm0-13zm10-22zm-15-5zm-2 4zm-11 3zm9-7zm29-5zm-3 3zm9 11zm-7-7zm8 0zm1 3zm13 6zm16-24zm-4-3zm6-4zm-7 40zm5 2zm-13-1zm23 9zm6-8zm-12 3zm16 2zm18 13zm-19-49zm5-6zm4-30zm5 24zm-44-4zm28-49zm9-5zm-2 25zm7-13zm11 11zm-94-46zm-50 54zm-7 19zm-8-3zm-22 2zm-1-9zm21-3zm-3-14zm-28 32zm-7 2zm-6 1zm-5-6zm-15 1zm-6-4zm-3 4zm0 6zm2 1zm0 22zm9-1zm2 2zm-17 3zm1-5zm43-4zm-11 7zm-4-9zm-5-1zm-2-10zm8-3zm5 3zm27 24zm5 2zm30-4zm-3-7zm-1 10zm-6 2zm17 6zm3-6zm-11 24zm-3-3zm-3-4zm-11 11zm4-5zm2-6zm-10-7zm-21 5zm8 4zm1 5zm16 12zm9 2zm14 0zm2 3zm7 17zm-62 22zm-4-32zm-12-5zm-5 0zm-8 39zm-68-49zm5-1zm14-22zm-23-11zm-1-8zm7 9zm-6 8zm-49-8zm-14-8zm1-13zm-8 27zm2 25zm-8 7zm-10 19zm17-14zm14-9zm29 31zm-6 30zm-46-28zm-14 13zm-7-39zm-8-2zm-16-42zm18 26zm-8-31zm11-23zm-17-37zm0 8zm-36 18zm46-73zm4 4zm12-27zm11 6zm15-12zm37-2zm-19 21zm22 22zm-14-7zm-13 9zm5 0zm-13-26zm-5 3zm-11 34zm18 5zm2 4zm3 16zm-23 12zm15 14zm-2-11zm-3-13zm17 13zm-2 8zm6 6zm13-10zm6 3zm-4-17zm-8-9zm-11-9zm12 3zm5-8zm35-10zm1 5zm-1 15zm8 3zm-23-4zm-8 7zm15 12zm1 21zm9-15zm19-3zm-10-1zm4 8zm4 11zm-2-12zm23-1zm-13-11zm-41-54zm-2-27zm1-3zm12-3zm11-1zm-27-19zm-15-16zm6 17zm-23-1zm-11 0zm-23-318zm5 3zm-2 13zm16 35zm2-7zm-8-4zm-16 15zm-1-22zm-6-14zm-11-1zm15-17zm-43-126zm4-3zm24-42z"/>
<path id="as13" d="M1006 308zm-17 8zm23 10zm6 9zm-2 40zm1 3zm-43-14zm-18 5zm-44 32zm14 14zm-5-2zm-22 9zm98-30zm-21 51zm12-20zm-3-6zm11 84zm-17 3zm-44 0zm-4-34zm-7-7zm-1 35zm-4 10zm-72-57zm23-26zm-1-4zm-2 1zm23-4zm-23-4zm-14-8zm-12 13zm15 5zm-9 16zm-5-8zm-16 2zm-6 12zm-27-19zm0 8zm-79 125zm15-3zm21-1zm3-7zm21-19zm17 39zm-10-18zm8 42zm122-55zm-13 17zm7 8zm8 7zm22-6zm7 3zm10-2zm4-14zm-24-39zm16 1zm31 13zm21 3zm22 21zm-84 33zm-25 4zm-14-11zm-71 268zm3 0zm5-11zm-2 14zm9-4zm34 17zm1-9zm-8-15zm1-16zm-5 4zm155 97zm-71 95zm-14-1zm19-45zm-53 51zm-451-73zm-22-9zm8-5zm-3-22zm7 3zm1-13zm-8-4zm-33 47zm34 31zm-8 27zm3-8zm-20 13zm-55-35zm-4 20zm-44-79zm43-9zm-6 6zm-4-3zm14 35zm23-5zm1-17zm4-9zm-27-5zm17-9zm-3-11zm-3-27zm33-31zm12 6zm-11 21zm-2 6zm-10-3zm3 32zm2-1zm1 2zm7-22zm7-2zm23 15zm12 11zm-18-35zm-7 1zm4-6zm-4-19zm-29 216zm69-19zm23 47zm-4 3zm1-25zm-18 65zm-2 0zm505 359zm-146-196zm51 123zm-101-8zm82-355zm30-15zm-40 59zm1 10zm-2 4zm-1-3zm11 18zm-14 5zm-27 12zm8-10zm13-4zm-24 35zm0 6zm20 7zm4 3zm-1 8zm-17 12zm17 10zm24 17zm33 14zm-4 10zm-9-6zm17-7zm-11-24zm-29 7zm3-23zm69-34zm8 0zm3 25zm-33 42zm-2 15zm25 26zm59-95zm11-3zm-1-4zm5-15zm1-8zm-1-5zm-17-22zm-24-12zm-3-5zm-3-3zm-14-30zm-4 0zm-5-5zm-8-12zm5-7zm2-7zm7 22zm29 29zm95-49zm-15 19zm108-16zm-112 70zm25 102zm-4 8zm122-64zm1 39zm69 63zm-6-45zm-16-3zm71-57zm12 0zm26 165zm-94 182zm-11 18zm11 12zm-27-86zm-30-1zm59-17zm-13 16zm-11 0zm8-57zm-1-36zm10-61zm-9 19zm0 24zm19-4zm-41 13zm-17 5zm19-18zm0-7zm7-12zm-57-24zm54 78zm-3-2zm-2 20zm-162-73zm-19 225zm146 29zm11 6zm387-627zm-14 6zm-23 70zm-16-1zm-36-9zm-9 9zm-33-98zm-7 1zm-14-17zm9 7zm10-7zm16 2zm-5 1zm0 6zm18 12zm-3-22zm21 18zm-3 5zm-2-54zm19 1zm-13-13zm-1-9zm44-3zm-54-34zm24-1zm-25 16zm-9-9zm-35-39zm-11 22zm-8 5zm27 18zm-2 40zm-1-14zm27-9zm-12 25zm-5 4zm2 18zm-3 10zm-12-2zm-8-1zm-20-4zm1-9zm-46 7zm-12-35zm2-5zm-4 0zm47 11zm5 2zm8-12zm-23-21zm0-19zm18 1zm-28-22zm-14-13zm-9 52zm-7 7zm-13-11zm1 7zm-7-4zm7-10zm0-31zm-39 34zm1-14zm18 21zm-27 9zm28 22zm33-19zm-7 15zm-21 15zm4 0zm12 19zm1-1zm-12-2zm-23-8zm6 54zm-22-6zm27 30zm-10-19zm27 0zm0 11zm9-4zm24-42zm1 7zm-14 13zm22-8zm-6-12zm20 3zm-3 2zm7 5zm21 49zm-45-7zm-17-17zm-36 41zm-30-19zm0-25zm-73 16zm-41-12zm4 14zm-3 7zm-68 9zm-5 52zm-35-19zm-11 7zm10-34zm9 11zm7 9zm8-5zm-53-76zm89 1zm-22 15zm28-24zm17-42zm2-19zm-9 9zm-13 3zm-40 5zm-5-54zm-4 14zm30-3zm-4 5zm22-13zm7 22zm84-43zm69 71zm-14-3zm-9-1zm14-32zm5 3zm2-16zm3-4zm-14 1zm-15-8zm-25-32zm-7-2zm8-4zm-5-5zm-43-19zm-4 25zm-20-17zm8 14zm-110-236zm58-6zm12 5zm17 5zm25-6zm154 251zm-156-330zm-4 1zm10 29zm22 9zm1 9zm-3 16zm-18 1zm0 1zm11-2zm-52 3zm2-20zm-7-8zm-30 3zm-2-4zm12 5zm6 7zm6 1zm-22 12zm-33-12zm4 17zm-30 1zm11-26zm5-8zm-11 5zm6-27zm1 12zm17 15zm9-1zm-41-45zm15-19zm-4-27zm42 10zm51-42zm-19-4zm-34 16zm-9 2zm-27 2zm-16 9zm5-17zm5 5zm1-2zm9-39zm-7-33zm-17-5zm121-26zm28 103zm-102-114z"/>
<path id="ad14" d="M839 504zm-36-67zm-4 7zm-6 8zm35 5zm-3 3zm-14 47zm-71 75zm80-65zm87 506zm-485-79zm-4-10zm10-1zm-9-29zm-21 22zm24 34zm-132 20zm49-57zm7-30zm79-18zm-6 13zm12-7zm-26 171zm-18-10zm32 14zm4 0zm12-9zm1 7zm34 31zm-20-11zm-1 16zm-13 32zm0-14zm-7-15zm-18 11zm601 414zm7 0zm-22-22zm-9 18zm7-157zm24-37zm-19-35zm-42 16zm-9-15zm-29 12zm-44 88zm-64-58zm40-274zm2-1zm35-4zm-11 2zm-13-9zm19 17zm9 1zm0 8zm2 19zm-16-7zm-20 4zm-1 35zm13-28zm-5 11zm3-1zm24-5zm-18 19zm-10-7zm10 26zm-5 9zm-20 4zm-33-1zm5 1zm8 13zm-10 25zm68 7zm6 2zm-34-21zm-5 5zm6-26zm16 1zm-6 12zm19 17zm2-22zm4 8zm10 0zm9-6zm-2 0zm-1-9zm20 14zm19-6zm-7 4zm1 4zm-34 22zm-2 16zm20 24zm0-11zm41 11zm3 36zm10 8zm8-26zm8 2zm14-5zm-42-144zm-8 0zm2 30zm6-11zm5 13zm0 9zm-9-7zm-5 1zm-15 6zm-2-7zm-13-15zm8 19zm-1 3zm0 7zm-41-4zm2-9zm5 6zm-6-9zm16-7zm11 8zm-10-22zm-19 6zm13-23zm-14-5zm18 10zm17 0zm19 9zm-2 4zm2-13zm-13-33zm-6 1zm4 4zm-22 8zm-6 4zm-11-11zm10-8zm-6 0zm10-18zm-4 3zm-10-5zm8-3zm177-3zm19 36zm1 47zm-69 142zm54-5zm27 9zm33-33zm-6-27zm-11-22zm113-163zm-5 21zm164-18zm-59 218zm13 70zm-134 157zm-3 8zm10 9zm2 13zm-9 9zm-18-3zm-39 16zm-6-20zm19-10zm-1-17zm10 1zm9-5zm3 12zm-14-1zm1 12zm9-2zm-2-2zm5-3zm18 12zm-6-11zm6-17zm-3-22zm-7-3zm-19 12zm-5 7zm2-7zm-14-11zm47 10zm0 6zm19-9zm-67-112zm-69-45zm-67 24zm28 146zm84-44zm5 61zm-16 17zm16 44zm58-8zm339-666zm-10 6zm11 8zm10 3zm-1 29zm-4-20zm-1 10zm-2 11zm-13 50zm-25 33zm6-10zm11-1zm-14-26zm-18 14zm-7-12zm-7 2zm-3 17zm22 6zm-53 15zm-35-34zm2-14zm34-24zm-6 18zm-31-9zm4-10zm23-2zm-23-16zm41-7zm15 44zm5 5zm-1-7zm12-8zm6 15zm5-7zm-1 5zm13-19zm-3-15zm6-14zm14-27zm-10-9zm-11-6zm8 17zm-7-46zm4-5zm5 9zm-11 21zm17-9zm11-4zm-150 24zm5 6zm1 4zm-3 8zm-32-12zm19-21zm-16 3zm21-3zm-39 28zm-43-8zm-6-9zm4 25zm-15-4zm6 15zm6 1zm18 8zm-25-1zm46 12zm-17-6zm18-16zm9-1zm14 6zm-8 1zm58 0zm-17 10zm-7 1zm-15 38zm3-28zm-13 2zm-11 24zm11 12zm15 9zm1-6zm7 3zm7-4zm13 7zm3 4zm-99 11zm-87 1zm48-88zm-2-6zm-7 16zm3-4zm-3 10zm-15 3zm-20-2zm-10-2zm-40 5zm6 11zm-16 27zm-34 22zm-14-46zm29 3zm-5-27zm-3-16zm-13-31zm10-60zm31-34zm-2 23zm10-15zm25-1zm4 23zm10 3zm4 1zm-7 13zm10-4zm-25 5zm-34-3zm18 34zm-21 25zm21 6zm13-12zm5 15zm20-24zm-26-31zm54 10zm-3 11zm-2 7zm-6-10zm14 27zm-5-12zm2 4zm13-1zm-2 3zm-1 7zm-2 14zm18-12zm4 2zm-4 6zm5 0zm3-8zm-21-23zm-29-30zm3-8zm-3-53zm-15-12zm-5 9zm-9-12zm-23 15zm11-279zm-1-3zm-41 19zm8-46zm-15 1zm-12-10zm21-11zm-24-153zm-30 24z"/>
<path id="as14" d="M1010 334zm11 16zm-20 3zm17 30zm-12-12zm-107 70zm117-56zm-2 47zm-26-2zm-13 66zm-79-9zm20 24zm-67-10zm0-30zm-4-22zm13 6zm17-10zm19-35zm-42 5zm3-27zm-11 57zm-6-6zm-11 3zm3-8zm-2-23zm-46 65zm45-1zm-1 6zm1 7zm-106 58zm29 7zm44 0zm15 58zm18-14zm130-58zm53-3zm-10 20zm11 1zm-25-12zm-8 4zm-143 295zm8 19zm156 121zm-529-2zm-40-31zm11-15zm-1-24zm-51-12zm-1 5zm3 24zm-4 45zm55 12zm-8 5zm-10-3zm-45 4zm-41-60zm17-15zm9-12zm-4 3zm0 3zm12-6zm6-16zm-26-8zm12 2zm18-40zm7 21zm19 26zm-7-25zm44 23zm-9-10zm3-18zm-10 177zm-16 112zm571 369zm-150-230zm3-235zm7 4zm-7 27zm0 19zm2 7zm4 4zm-20 22zm-18 9zm-3 13zm27 24zm-26 8zm11 5zm14-2zm-10 11zm13 3zm11 32zm18-37zm-10-7zm6 1zm0 2zm44-45zm22 45zm-26 20zm14 22zm-11-7zm-2 32zm105-74zm-19-27zm10-6zm8 21zm-4-88zm-10 17zm-16-12zm-33 36zm-2-8zm-3-26zm17-6zm8-19zm-5-14zm-11 2zm-19-3zm-2-17zm-7 11zm50 27zm4-1zm77 6zm1 116zm-13 12zm114-27zm-9-15zm16 19zm52 81zm2-43zm10 40zm29-58zm106-177zm-26 267zm-92 194zm-3-16zm6 10zm-4-2zm-40-43zm-5-29zm31 2zm17 9zm-10-47zm-8-3zm29-14zm-7-67zm3-3zm-18 1zm-3 9zm-1 29zm-10 14zm-5-3zm6-13zm2-34zm-33 40zm21 12zm-2 19zm-2 7zm-64 183zm79-18zm338-680zm12 36zm4 45zm-8-26zm-7 63zm10-9zm-20 34zm-2 1zm-19 9zm-12 0zm-27 7zm-1-7zm-3 1zm-22 6zm4-32zm-39-80zm-3 5zm6 2zm30-15zm14 23zm-2-5zm-2-1zm-6-11zm16-29zm24-35zm35 6zm-45-62zm7 19zm-3 30zm-23-8zm-58-37zm-4 21zm22-1zm39 36zm0 21zm-24 2zm20 1zm-8 13zm-5 16zm-28-3zm8-8zm-22-12zm0 10zm-3 1zm-17-17zm-41-11zm7-11zm-10-9zm15 10zm7 0zm16-9zm23 12zm-28-17zm5-12zm16-31zm-15-6zm-33 7zm-3 19zm23-8zm-5 20zm-40 11zm6-18zm3-6zm4-13zm-38 35zm-10 18zm5-2zm18-13zm7 9zm3 4zm17-5zm-9 1zm8 15zm-15-6zm-17 22zm-14-2zm-14 47zm41 18zm1 4zm1-3zm2 4zm6 2zm29-28zm5 4zm3 0zm-9-9zm14-12zm28 5zm-4 4zm-8 52zm13 9zm-24 27zm0 6zm-104-55zm-5-4zm6-8zm2-10zm-5-3zm-72 26zm-42-26zm-87 81zm-29 9zm-16-43zm41 24zm6-7zm34-29zm30-69zm-10-1zm4-10zm6 0zm10-21zm-5-14zm-41-2zm-10 15zm5 0zm-26-6zm8-1zm-35-47zm95-14zm-16-16zm14-1zm71 25zm-5 1zm-9 2zm31 50zm1-7zm46 25zm-1-15zm-22-61zm-74-30zm-28 3zm-63-242zm11-6zm39 16zm-11-9zm24 6zm25-7zm-7-53zm10 4zm-2 1zm10-13zm-10 3zm1-7zm17 25zm-5-1zm-10 32zm-6-2zm-8 1zm-20-9zm-16 11zm-14-41zm-11 1zm1 13zm7-1zm-52 10zm-10-10zm-7 1zm0 6zm19-37zm2 17zm-17-36zm-5 3zm8-9zm-22-35zm13-2zm8-4zm-4 7zm86 26zm23 20zm-6-44zm-103-23zm-17-4zm4-12zm3-38zm-4-27zm4-12zm87 0z"/>
<path id="ad15" d="M839 507zm0-46zm0-3zm-29-26zm20 20zm-16 23zm-100 99zm-295 362zm12-27zm-1-3zm-7 19zm-20-3zm2 0zm-16-5zm1-4zm8 0zm0 19zm-2-1zm10 15zm22 20zm-1 0zm-29 51zm-115-39zm5 11zm29-55zm93-52zm3-9zm-2 1zm7-10zm-1 5zm11 7zm-8 9zm3 10zm-89 168zm58-29zm3 7zm6 26zm36 12zm5-15zm-2-6zm9 29zm549 375zm5 5zm-102-88zm-82-72zm37-261zm35-14zm-9 4zm9 46zm-5 2zm-33-15zm25 24zm13 8zm-8 0zm7 15zm-13-7zm1 26zm2-11zm6-4zm-23 31zm-4-26zm-16 5zm-16 15zm-11 4zm0 8zm5-1zm17 65zm16-35zm-9-29zm7 0zm13 20zm10 0zm36 5zm-13 3zm49 64zm71 19zm-58-112zm7-1zm-2-50zm-3 17zm11 0zm3 27zm-18-4zm1-3zm-11-20zm-3 4zm-15-2zm11 18zm-23 1zm1 3zm-13-8zm4-24zm-4-11zm-9-8zm6-4zm31 13zm-6 8zm-24-54zm20 10zm-1-39zm164 226zm0-6zm-20-6zm106-32zm217-91zm50-62zm6-34zm-109 270zm8 9zm-129 188zm2 21zm-9 19zm-2-5zm-7-5zm-8-11zm-4-3zm1 5zm-4 7zm5 4zm-21-12zm-9-14zm19-12zm20-9zm-10 24zm5-2zm11-21zm10-4zm-19-16zm-8 7zm-1 6zm-15-11zm4-8zm44 10zm6 2zm0-2zm-38-72zm11 1zm-142-71zm-21 19zm105 139zm33 66zm-1-5zm9-2zm4 12zm5-10zm352-679zm-3 22zm12-1zm1 26zm-16-3zm0 7zm14 5zm0 45zm-3 2zm-12 24zm-22 11zm16-33zm-6 0zm-23 24zm-5-13zm-12-11zm8 38zm-80-32zm26-21zm-13 0zm0-29zm-7 5zm-1-14zm35-6zm-7 20zm53-14zm-4-6zm6 8zm-17 29zm-5 4zm39-10zm-13 22zm25-19zm-6 4zm-2-20zm-10 4zm-5-14zm1-14zm15 2zm0 10zm12-38zm-11 3zm-6-10zm-15 27zm-4-3zm-13-1zm30-47zm-6 2zm-5 6zm20 10zm-12-30zm-72-20zm-8 5zm-39 75zm-41-16zm2-8zm15-18zm-8 0zm22 4zm11-63zm-51 31zm-4 61zm-18 9zm-6-4zm-3 4zm-15 4zm3-6zm9-1zm-24 23zm7 0zm0-8zm-3 0zm34 49zm4-25zm-5-1zm-7-11zm3-8zm23-1zm18 21zm44 1zm0-1zm-5 0zm-3-5zm-14 10zm4 10zm0-7zm8-3zm5 10zm-9 8zm-40-13zm2 2zm-3 2zm-3 6zm11-2zm-7 14zm10 17zm-1 2zm28-15zm16 15zm-26 0zm-48 43zm3-27zm-76-64zm10-26zm-14 12zm-9 7zm-21-20zm-13 52zm0-6zm-14-40zm-41-12zm17 32zm10 21zm-39 27zm3 3zm3-6zm-20-64zm17-6zm-17-83zm10 0zm11 2zm-1 0zm40-44zm16 33zm-16 9zm-15 25zm-2 20zm42 15zm-10-31zm-3-3zm-9-12zm46 8zm-4 47zm45-13zm-47-52zm-10 1zm0-2zm11-28zm-11-11zm-30-20zm-19-289zm15 14zm-9 4zm-10-6zm-22 14zm-6-26zm2-12zm7-21zm-28-115zm1-14z"/>
<path id="as15" d="M981 316zm-66 95zm-13 26zm15-3zm-1-11zm81-26zm17-3zm2 39zm-5 46zm-151-3zm22-16zm-3-13zm-11-5zm10-40zm-52 81zm3-2zm-103 75zm53 48zm150-70zm58 7zm30 7zm-111 85zm28 379zm-476-31zm-15-55zm-4-27zm-47 13zm41 57zm-6 12zm16 36zm-154-115zm64 47zm22 5zm5-17zm2-14zm-22-26zm11 6zm6 0zm-10-30zm33-27zm15 7zm-30 4zm-1 34zm57-2zm-8-14zm2-6zm-10-6zm559 658zm-105-114zm-9-377zm-3 6zm-22 53zm2 14zm-7 12zm1 9zm-29 5zm0-4zm7-14zm35 118zm26 10zm-13-21zm19 6zm5-6zm-7-10zm3 3zm-1-13zm-14 16zm-28-9zm18-10zm-24-15zm-3-7zm61 27zm5 15zm122-34zm-18-84zm-20 32zm-43-65zm-11 1zm-3 21zm16-54zm131 20zm50 51zm-101 105zm233-15zm181-39zm-120 1zm-77 325zm-7-6zm-14 52zm-3-1zm-4-83zm20-5zm-15-2zm17 30zm-19-121zm27-37zm-14-15zm-15 60zm-4 14zm1 14zm334-525zm-1-1zm21 56zm-9 25zm-6 39zm-8 3zm4 17zm-61 12zm2 4zm-18-37zm-61-67zm34 9zm25-19zm24 15zm-1 19zm9-46zm-17-10zm2-4zm15-4zm0-3zm25-25zm-40-13zm-4-3zm-57-10zm-7 19zm21 21zm27 26zm-6 14zm-67-26zm-9 29zm-32-2zm-6-20zm13-33zm11 0zm16 3zm7 1zm-13 1zm24-20zm-14-3zm6-20zm-3-6zm-20 8zm-2 23zm-7-2zm-19 1zm-8-24zm-53-5zm28 51zm0-4zm8 2zm10-9zm12 16zm-8 21zm-15 7zm-6 1zm-6-11zm5 84zm9-24zm-6 12zm2 5zm5-1zm11-12zm-16-8zm48-5zm27-25zm9 13zm-3 6zm7 35zm-4 4zm-34-27zm-103 30zm6-32zm-62 9zm-128 30zm55-76zm-1-18zm-1-37zm-46-33zm3-9zm10 11zm22-21zm111 64zm0-9zm32 27zm-5-4zm17-16zm-15-19zm-48-75zm-44 0zm-27 14zm-16-15zm18-10zm0-212zm22-7zm-3-101zm7 19zm-6-3zm-3 16zm19 19zm17-17zm-11 16zm-10 39zm-37-25zm1 2zm-44 2zm-21 11zm-7-18zm-2 2zm2 29zm-18-35zm-8-5zm5-19zm24 25zm11-22zm-27-20zm-11 1zm2-19zm9-6zm-16-13zm109 4zm-4-5zm-119-46zm39-1zm103-66z"/>
<path id="ad16" d="M815 507zm-387 447zm-2-24zm-8-13zm-3 3zm-3 2zm1 1zm7 44zm-3 17zm4-115zm-69 236zm55-3zm570 440zm11 4zm4-5zm-48-84zm18-160zm3 13zm-35 24zm-12-14zm-46-278zm7 17zm-1 15zm-7 58zm18 18zm-8 0zm-7-2zm1-1zm-28-13zm-13 12zm-6 5zm-10-10zm-7 5zm16 9zm-7 5zm-2 16zm14 43zm63-28zm-16 1zm-15 0zm9-17zm9-1zm10 5zm0-15zm12-1zm-7 17zm12-10zm45-9zm-32 81zm43-85zm2-49zm10 13zm0 14zm-24-14zm-4-1zm2 14zm-20-14zm-7 25zm-14-8zm-13-6zm15-14zm-10-5zm51 7zm-6-36zm-12-15zm-17 13zm-14-6zm0-20zm459 224zm-53-28zm49 58zm-128 179zm-28 41zm5-18zm-6 3zm-9 20zm-2-4zm-29-23zm19 11zm-3-19zm3-3zm-19-10zm30-8zm3 9zm-7 10zm10 0zm2 2zm7-19zm-7-21zm-40 6zm7-6zm5-34zm-16-27zm-26-57zm-18 74zm64 129zm13 3zm8-6zm-1-4zm10 7zm332-685zm0 10zm3-4zm6 7zm1 22zm10 5zm-21-1zm15 31zm-6 25zm-2 12zm-20 38zm4-4zm-18-27zm-6 8zm11 6zm-26 0zm14-24zm-19-2zm-50 39zm-9-24zm35-34zm-13-3zm-29-7zm38-24zm44-11zm-4 7zm-18 31zm6 0zm1 20zm16 3zm-4-14zm13 9zm10-2zm9 7zm-21-38zm20-14zm6-27zm-30-6zm-7 21zm-18-5zm24-32zm-2-2zm-1 0zm3-4zm5-1zm11 12zm-17-46zm-157 69zm9-13zm-9 2zm15 0zm-12-59zm-5 3zm-54 41zm47 31zm-11 0zm-13 3zm-10 0zm-16 4zm-6 8zm60 11zm-28 5zm6-19zm36 3zm40-8zm-2 29zm-13-2zm10 18zm-5 16zm-13-14zm-2-9zm-9-1zm-7 0zm27 46zm-110-84zm-10 23zm-32-12zm-100 21zm2 2zm-54-41zm83-115zm10 8zm6-5zm13 21zm24 24zm-45-17zm-14 8zm11 34zm-6 7zm45 28zm-2-11zm3-20zm1 6zm-11-13zm-7 0zm29 24zm23 8zm5-11zm20 22zm-14-27zm-22-35zm1-2zm-11-11zm24-40zm-35-14zm-50 8zm20-283zm-6 1zm-21 5zm-10-19zm-2-10zm-8 15zm-16-28z"/>
<path id="as16" d="M992 380zm-87 45zm82-23zm30-2zm-11 16zm-30 6zm-28 70zm-108 1zm6-40zm47-22zm0-6zm-70 11zm-33-3zm-43 132zm52-1zm-26 58zm38-19zm99-87zm29 26zm-28 40zm-53 273zm27 0zm-452 62zm-47-1zm-19-14zm9-2zm-17-24zm23-6zm19-8zm0 16zm32-10zm-16 177zm4-15zm433 12zm24 68zm-42 15zm-21 7zm7-5zm9-12zm-13 3zm10-15zm-3-3zm-11 12zm13 62zm-20-4zm5 109zm53-47zm15-15zm6 5zm-1-17zm-20-7zm-26-24zm96-19zm5 4zm2-5zm-13 37zm-26 17zm2 60zm71-110zm27-29zm-14 22zm-47-20zm16-50zm-3 5zm3-17zm4-11zm295 153zm-47-80zm106 27zm-92 155zm11 22zm-30-18zm-1 4zm5-20zm-2 46zm-4 27zm11 176zm340-689zm3 10zm-16 105zm-4 25zm-8 8zm-95-42zm34 15zm-11-19zm-49-10zm0-49zm12-3zm26 2zm-4 8zm20-13zm33 18zm8-31zm-1-4zm-19 2zm19-8zm31-40zm-67-14zm-17 9zm-41-57zm11 38zm48 40zm-24-3zm6 42zm-2 1zm-27-22zm-60 21zm-10-36zm27-20zm14-1zm14 22zm-4-3zm2-3zm-21-25zm-5-4zm10-8zm7-32zm-50 0zm15 15zm-4 17zm8-7zm-12 23zm-10-4zm-12-3zm7 15zm-8 7zm-3 12zm-3 20zm5-5zm13 55zm5 2zm30-17zm2-9zm3 7zm5-11zm9 6zm10 5zm-136-1zm-95 39zm-12-1zm-101 40zm63-91zm20-57zm-15-6zm9-47zm-3-10zm63 14zm13 13zm19 46zm-86-334zm30 4zm5-68zm8 16zm6 28zm3-6zm-7 16zm-2 4zm-18 0zm-8-6zm-37-5zm-67-8zm15-54zm-9 8zm-27-35zm99 19zm16 2zm-98-45zm43-101z"/>
<path id="ad17" d="M836 503zm2-34zm-6-9zm-418 463zm-6-9zm1-30zm16-6zm37 187zm486 345zm-116-6zm43-349zm-3-10zm19 29zm-40 20zm10-2zm23 2zm-4 10zm9 7zm-9 20zm-25 13zm19 44zm-8-2zm-11-2zm-5-7zm-4-4zm-7-13zm48 8zm15-9zm13 24zm5-9zm-13 23zm25 48zm44-98zm-75-22zm6 1zm1-3zm6-2zm4 10zm3-5zm37-14zm-38-38zm0 2zm-23-19zm4-22zm176 181zm60-10zm81 279zm-5 44zm-51-21zm9 8zm2-14zm18-13zm23-32zm-22 4zm-24-37zm58 20zm-6 23zm-19-90zm-83-3zm-38-36zm-44 129zm142 71zm-3 15zm22-6zm-8-7zm355-676zm-2 8zm16 16zm0 33zm-9-10zm-3-15zm1 7zm-7 8zm5 28zm-8 22zm18 0zm-18 33zm-21 6zm-11-4zm13 2zm4-5zm10 3zm0-6zm-11-2zm11-27zm-20 18zm-7 12zm-9-8zm-6 12zm-82-10zm49-37zm-18-25zm11-8zm31-16zm15 0zm-4 5zm8 13zm-1 12zm18 2zm2 11zm-13 17zm27-34zm-5-3zm2-10zm-10 4zm1 3zm-4-7zm-11-10zm14 7zm10-6zm-8-14zm4-19zm-16 0zm8 14zm0 6zm-27 0zm-96-11zm-19 2zm-8 7zm0-2zm-7-18zm1 5zm-1-13zm13-13zm-51 47zm-15-8zm-12 31zm10-1zm23-3zm-5-17zm10 7zm50 36zm5-1zm5 13zm10-4zm-38-5zm11 27zm-185-50zm-16-18zm-3-130zm17 11zm10 25zm19 52zm16-46zm-3-22zm-74-321zm10 21zm4 1zm-34-47z"/>
<path id="as17" d="M982 369zm-23 7zm42 18zm-136 68zm29-20zm45 74zm-503 389zm-45 37zm-2-3zm-10-24zm9-70zm45 49zm-5-31zm-5-6zm26-11zm-206 142zm607 99zm2-10zm-5 12zm87 69zm-36 86zm87-133zm-60-48zm-4-5zm117 101zm195 353zm-19 13zm-22-88zm26-132zm333-452zm8 30zm8 6zm-2-9zm-3-7zm-3 55zm7 2zm-16 41zm-8 11zm-6 0zm10 1zm15-12zm-1 3zm-15 23zm-40 17zm1-5zm28-2zm-89-42zm19 14zm-51-82zm30 10zm18 8zm8-4zm12-3zm-1-7zm14 26zm-2-88zm5-27zm-74-30zm-11 13zm51 44zm-22 14zm-4 27zm-77 4zm6 9zm-14-59zm34 5zm5 9zm-16-56zm-4 29zm-36 4zm-49 11zm36 0zm11 8zm-4 7zm9 23zm-3 46zm19-23zm8 30zm11-1zm5-15zm21-10zm-346 121zm75-161zm-29 10zm44-114zm24-325zm-1 79zm-56-35zm-2 25zm-63 10zm25-132zm-17-11z"/>
<path id="ad18" d="M828 513zm-408 406zm-15 19zm-124 90zm155 46zm447-22zm5 34zm-15 0zm-10 20zm-5-8zm-8-1zm40 20zm-19-5zm-3 18zm26 7zm-12 8zm-30-13zm22 66zm-41-38zm107-6zm-7 22zm-36 14zm4 7zm73-94zm-12 24zm-6 5zm-3-4zm-37-18zm-2-16zm19 16zm-1 8zm221 104zm74 282zm-20 21zm-7-18zm-4 1zm-8 3zm-15-25zm12 1zm-1 6zm4 6zm6 1zm8-25zm-41-8zm72-15zm-172-143zm9 84zm5 20zm474-545zm-7 47zm3 11zm-1 3zm14 22zm-19 15zm-28 30zm14 2zm-9-24zm0-3zm-8-7zm1 23zm-19 0zm-8-6zm-70-42zm-3-21zm49 6zm17 30zm10 0zm18-16zm13-3zm-8 23zm11-1zm16-5zm0-12zm-14-5zm-13-18zm-3 0zm8-4zm0 4zm1 1zm13-14zm5 3zm3-21zm0-18zm-27-1zm1 7zm-1 20zm22-34zm-133 32zm-28-1zm-3-33zm-85 7zm9 53zm37 3zm-6-4zm4-4zm25-11zm48 36zm-23 11zm-96-53zm-28 0zm-127 52zm23-51zm53-79zm-33 65zm49-108zm-36-300zm-32 22zm-35-192z"/>
<path id="as18" d="M1008 358zm-2 41zm3 29zm-224 32zm228 414zm-621 23zm3 44zm-19-27zm7-20zm-22-18zm73-19zm397 282zm-3-6zm0-15zm-25 66zm84 39zm-19-8zm69-13zm-30 41zm29-118zm-40 23zm54-95zm271 91zm-1 373zm-5-224zm325-441zm24 37zm8-14zm-3 81zm-11-33zm5 8zm3 20zm-3-2zm-145-39zm35-8zm35 13zm9 6zm-10-9zm16-23zm16-56zm-62 26zm-20 27zm-33-21zm-55-26zm51 23zm-7-23zm-7-54zm-4 11zm-28 8zm19 9zm-13-4zm-37 76zm45 26zm19-3zm2-7zm-194 42zm-18 76zm-12-547zm13-10zm-3-6zm0 43zm-135-32zm-2-39zm-3-15z"/>
<path id="ad19" d="M868 474zm-449 436zm-111 20zm105-38zm6-28zm49 214zm359 63zm3 22zm137-37zm-43 25zm-4-31zm-8-11zm130 160zm40-20zm115 255zm-40 4zm18-3zm-11-5zm-8 3zm43-23zm-2 5zm347-606zm-4 8zm-1 0zm5-4zm-5 26zm2 30zm9-6zm5 24zm-11-1zm6-7zm-33 53zm5-18zm9-2zm0-10zm-16 11zm-19 10zm-27-56zm-2-6zm-56 10zm16-14zm72-19zm-7 26zm39 24zm3-5zm1-37zm-12 1zm-9 9zm-3-13zm-2-7zm12-10zm10 2zm1-4zm-8-16zm-13 5zm-18 11zm36-39zm-1-2zm-135 31zm-5-8zm-1 14zm-39-12zm-57 3zm10 15zm-4 8zm32-7zm28 7zm20 54zm-28 5zm-113-26zm-137 50zm114-183zm-19 35zm53-10zm-72-354zm-7 20z"/>
<path id="as19" d="M1023 389zm-140 37zm-106 174zm-388 335zm-10-49zm38-37zm410 360zm22 11zm1-32zm61-133zm266 151zm55 312zm-5-169zm-16 0zm330-503zm26 31zm6 74zm-9-47zm-5 44zm-6 22zm-89-54zm9-8zm5-28zm-11-74zm-57 41zm-17 22zm-5-22zm5 13zm-54 80zm44-38zm-118 9zm-147 64zm-48 6zm61-130zm14-336zm-106-25zm-11-99z"/>
<path id="ad20" d="M398 915zm613 412zm-43-31zm-78-201zm-46 54zm133-43zm-36 38zm-22-10zm36-31zm145-36zm95 454zm-28-17zm7-28zm1 8zm22-4zm-3-28zm343-578zm16 21zm-1-18zm3 36zm0-13zm-9 6zm-4-4zm-1 41zm8 11zm-4-10zm0 4zm-5 0zm1 19zm9 0zm-23 14zm2-13zm-23 6zm0 14zm-10-50zm8-8zm5 12zm-3 12zm11-8zm8 1zm1 12zm5-21zm-6 1zm2-42zm-3-15zm-1-17zm4 9zm-7 4zm-1-3zm-13-2zm7 14zm-43 5zm-90-10zm-74 22zm10 6zm-2-2zm31-3zm51-8zm6 24zm-123-18zm-57-39z"/>
<path id="as20" d="M1021 425zm-613 437zm391 297zm27 33zm62 33zm-9-26zm353 298zm337-552zm5-7zm-12-21zm-3-10zm6 32zm-21 32zm-5 8zm3 7zm-8 17zm-103-106zm77-18zm-12 4zm4-11zm-105-26zm11-16zm-66 27zm0 35zm-292-416zm-9-89z"/>
<path id="ad21" d="M443 1106zm520 25zm-37-15zm11 1zm-41-57zm244 209zm88-151zm-42 387zm-1-29zm18 22zm5-16zm-4-20zm-56 35zm397-629zm0 26zm3-10zm8 40zm-19-2zm-1 8zm6 23zm1 1zm-26 17zm-4 6zm-80-53zm-20-16zm86 40zm7-14zm5 12zm19 0zm2-3zm-11-8zm1-7zm10 4zm-5-5zm-9-27zm9-13zm5-3zm0 3zm-17 8zm-9-5zm-33-1zm6 2zm30-36zm-112 31zm-12-5zm9 41zm7 10zm-200-93z"/>
<path id="as21" d="M1019 391zm-4 9zm-609 478zm2-8zm459 337zm349 326zm357-626zm-9 17zm1 11zm-71-82zm4-15zm-99 40zm-251-43zm63-36zm-52-272z"/>
<path id="ad22" d="M882 1124zm-44 10zm89 10zm281 368zm3-24zm326-594zm17 22zm-10-5zm-3-4zm3 7zm-3 8zm-3 13zm18 18zm-4 0zm-14 2zm-14 19zm-10-12zm-61-41zm25-23zm12-1zm15 51zm8 4zm13-8zm-3 7zm10-21zm-20-29zm8 5zm-6-28zm-126-5zm-72 21zm11 13zm7 1zm43 36z"/>
<path id="as22" d="M1016 402zm22 780zm504-333zm19 44zm-2-24zm6 72zm-11 25zm-62-44zm-137-34zm-23-38zm18 77zm-162-445zm-100-26z"/>
<path id="ad23" d="M1180 1500zm362-607zm11-12zm1 23zm-12 23zm-4 20zm-4 32zm-95-28zm61-15zm15 6zm5 17zm10-42zm-12-19zm-193 8zm-11-6zm57 52zm13 10zm-125-55zm-63-28z"/>
<path id="as23" d="M908 587zm-97 586zm399 177zm350-396zm-3 28zm-50-102z"/>
<path id="ad24" d="M944 1448zm265 47zm-8-27zm21 0zm327-528zm-5-7zm-17 15zm2-32zm-15-20zm-142-34zm-36 34zm-110-41z"/>
<path id="as24" d="M775 546zm787 409zm-92-71zm-79 26zm-199-421z"/>
<path id="ad25" d="M929 1286zm619-384zm-11 21zm0 19zm4-6zm13 10zm-3-2zm-8 17zm-20-2zm10-40zm-4-7zm1-19zm-206 23z"/>
<path id="as25" d="M386 922zm1-35zm1171 54zm-248-61zm-185-443z"/>
<path id="ad26" d="M1542 896zm2 24z"/>
<path id="ad27" d="M881 1102zm-13 11zm653-147zm4-71z"/>
<path id="as27" d="M1236 1519zm165-646zm-205-137z"/>
<path id="bd0" d="M893 591zm24 7zm-14-20zm0 44zm-48 56zm-427 255zm5-33zm-6 5zm3 1zm-12-10zm-6 26zm-1 24zm-12 15zm-33 34zm-4-18zm-42 20zm24 22zm-69-32zm-10-10zm35-14zm14-20zm50 7zm55-62zm3 6zm5-7zm-182 138zm15 35zm0 11zm3 5zm23 17zm615 327zm61-63zm-33-27zm14 0zm-5-14zm12 7zm8-17zm-14 4zm5-24zm-2 3zm0 5zm-8-7zm-5 0zm-6 10zm6 13zm-14-5zm1-3zm3-19zm-18-1zm0 3zm5 21zm-11 20zm27-8zm-1 4zm-8-2zm-5 8zm1 11zm-2-2zm-9 14zm-4 21zm35-21zm-4 0zm8 20zm-6 19zm0 16zm-45-18zm-44 12zm1-13zm15 0zm-5-15zm1-18zm9 19zm10-11zm14 9zm-4-17zm5-21zm4-48zm-14-3zm-7 14zm-53 34zm-13 3zm-5-19zm18-8zm0-4zm-12-14zm7 17zm-6 4zm-10-13zm-4-3zm-15 10zm-2 21zm22-12zm-24 16zm5 21zm0 2zm1 13zm46 0zm-27 13zm30 7zm-60-8zm-1 3zm45 59zm-3-25zm17-2zm10 2zm4 2zm8 20zm1-14zm37 5zm-19 14zm-4 11zm8 2zm6-12zm9 25zm-27 2zm-112-92zm18-1zm-1-11zm-11-4zm0 14zm-15-4zm11-5zm7-17zm-1 3zm3-29zm135-259zm-12 11zm8 0zm0 4zm0 4zm-5 2zm-13 2zm5-12zm-19 10zm-4 24zm35-17zm2-1zm3 11zm-4 0zm-1 15zm-4 10zm8 1zm-6 15zm-6 2zm-66 13zm4 28zm17 39zm5-2zm43 52zm6-1zm-2 1zm-6-85zm-15-22zm35-13zm3 7zm-9 15zm16-14zm-1-4zm19 9zm2-4zm15 17zm-26 35zm-7-4zm-12-21zm24 37zm-6 3zm-25 45zm31 3zm15-16zm-11 17zm6-6zm4-7zm3 12zm6-5zm8-15zm-20-31zm29 28zm35-41zm-32-20zm-5-37zm-3-51zm-6 26zm-14-9zm-11-3zm-12 26zm-20-12zm-2-3zm0-3zm10-2zm11 5zm8-5zm-3-7zm-1-14zm-21 13zm1-6zm-6-21zm8 3zm10-3zm0 10zm4 2zm2-12zm11 10zm3 3zm-2 14zm13-12zm5-3zm-5-24zm0-7zm-25 4zm-4 0zm-3 3zm5 2zm-1 1zm-7-10zm-14-19zm213-13zm-4 69zm169 4zm-3 0zm-4-5zm10-19zm-11 0zm-22-47zm-17 2zm-8 7zm58 15zm-7-5zm2-5zm-18-13zm-5-17zm65 51zm3 7zm-21-5zm-8 5zm-1-1zm-4 2zm78 16zm43 17zm0-26zm-12-9zm2-8zm7-2zm1 6zm-16 3zm4 3zm-25-2zm10-14zm0-20zm12-13zm-8 10zm49-9zm5 17zm-15 31zm1-1zm19 1zm-7-22zm20-7zm-9 13zm-18 35zm-2-15zm-9 14zm-377 277zm252-516zm-15 156zm-12-3zm-10-109zm-6 3zm-17-4zm-3-10zm-4 5zm-5-4zm3 11zm-1 31zm-29-2zm10-8zm5-3zm5-15zm6-2zm-20-1zm4-2zm-8 18zm-7-3zm-14-24zm-7 9zm4 13zm9 17zm4 12zm-2 3zm-13 7zm0 16zm-12 9zm13-1zm7 1zm20-16zm15-5zm4 42zm3 13zm-79-5zm1 7zm0-30zm-1-13zm-6 0zm-41-11zm-8 19zm-10-80zm45 39zm33-13zm-5-17zm-1 3zm-31-44zm-29 13zm66-69zm33-44zm24-3zm-22 43zm16-6zm13-3zm-1 5zm-10 7zm7 1zm-26 7zm-6-7zm-1-7zm-7-1zm-11 8zm7 14zm-10-7zm-1 8zm6 6zm-2 16zm-3 31zm18 8zm1-18zm30 13zm25-37zm-10 29zm4 13zm17-2zm-7-25zm20-8zm-9-34zm-5-1zm-20-2zm-1-9zm4-12zm6 3zm4-12zm-5 1zm2-9zm13-1zm9-6zm-20-9zm-26-14zm-33 14zm14-278zm-38 8zm0-46zm-7 1zm2 4zm-21-7zm12-7zm10-5zm-14-105zm0-4zm-2-2zm-7-5zm5 13zm-19-7zm-4 5zm-1-1zm-3-19zm7 3zm18-23z"/>
<path id="bs0" d="M1016 433zm4 1zm-79 42zm-14 22zm-9 6zm-157 137zm-24-18zm22-28zm8-2zm-5-2zm4-12zm0-6zm6 14zm11 1zm-5-11zm21 2zm-20 25zm4-7zm-8 14zm17 24zm26-19zm3-13zm42-9zm-21 5zm13 24zm30 8zm-5-3zm-3-42zm42-23zm3 7zm4-3zm-2-13zm-5 0zm16 10zm10-3zm-12-31zm42-2zm16 10zm0-6zm19 4zm-7 15zm17 5zm-34-11zm-50 61zm-9-17zm-13 2zm-15 34zm-46 81zm26 2zm12-52zm-45-15zm9 60zm133 149zm-32 73zm40-16zm5-11zm18 2zm3 1zm-23 22zm-6 17zm21-9zm-6 7zm-42 9zm38 68zm-49-43zm2-10zm-42 53zm-10 4zm-6-4zm-462-79zm2-35zm-48 28zm-26 79zm-17-9zm-49-54zm-2-3zm-3-4zm-1 13zm92-92zm14 13zm5 22zm27-9zm2-15zm6-8zm-9-6zm-14-10zm-176 175zm-3 51zm725 213zm-82 110zm-11-112zm-81 5zm-17 17zm54 169zm-98-121zm38-50zm98-268zm-24 56zm-1 14zm-1 0zm10 5zm48 42zm-59-25zm-8-22zm-2-13zm-12 22zm-18 66zm15 20zm16 4zm-14 18zm10 8zm28-9zm-2 11zm13 16zm-14 0zm3 18zm-1 8zm2-20zm16 12zm5 1zm5 0zm8 4zm-2-36zm-10-23zm-30 4zm-7 0zm11-26zm8 10zm44-45zm20 3zm14 36zm18 16zm-45 35zm-2 25zm18-13zm46 23zm50-70zm-4-5zm-9-69zm-12-10zm-30-30zm-68 54zm31-52zm6 5zm14-3zm11-17zm-7-12zm-19-7zm-7 1zm-7-20zm167-17zm40 32zm25 22zm-79 8zm-13 13zm-24 29zm8-5zm-14 25zm58 14zm89-94zm164 6zm83 74zm40-179zm-147-134zm-128 112zm8-6zm-22 3zm-9 2zm1 34zm-82 38zm-5-9zm-21 4zm13-1zm-3-72zm-15-14zm-15-4zm-5 0zm-8-14zm36 11zm22-1zm64-37zm-7 10zm-6 1zm18-46zm-2-6zm-1-7zm-1 2zm-4-5zm-17 4zm-29 24zm-28 24zm-20-2zm8-25zm21-22zm-4-34zm-10 17zm-19 9zm-10-21zm10 0zm4-10zm40 0zm14 9zm32 22zm-8-58zm76 25zm19 42zm4 3zm41-17zm5-9zm-9-32zm-3 5zm-102-58zm6 2zm2-4zm4 13zm-53 11zm-24-231zm16-4zm36 0zm22-1zm1 8zm26-80zm-32-15zm15 6zm-14 2zm21 24zm15 3zm-24 37zm-41-5zm-26-45zm-2 1zm-6-2zm-2 4zm-30 40zm-12-4zm-10 3zm31-42zm4 6zm-2-29zm-16 13zm-2-4zm-19 9zm-8-23zm8-27zm27-2zm7 12zm6 6zm24-11zm-16 24zm2 24zm26-11zm10-16zm1 16zm10-19zm-4-2zm9-39zm-15-10zm14-2zm-13-14zm-29 1zm-24 27zm-24-10zm55-86zm12-6zm46 4zm3 16zm5 30zm2 1zm1 9zm-3 9zm-20 12zm5 9zm-37-120z"/>
<path id="bd1" d="M766 582zm-2 0zm154 42zm-75 24zm-426 291zm9-9zm4-28zm1-6zm-18 1zm-9 39zm1 2zm4 26zm10 12zm-36 10zm-1-4zm-57-21zm6 37zm14 8zm3 7zm-1-1zm-6 7zm-10-6zm-17 4zm1-43zm-5-39zm-4 3zm2-11zm12 16zm93-51zm0-3zm2-6zm5 2zm9 7zm-181 173zm-4-12zm16-1zm25 3zm-29 12zm67 37zm598 319zm10-12zm45-30zm8-67zm-26 24zm-3-6zm-18-2zm-2-4zm-3-5zm2-5zm12 3zm13-5zm-1-17zm-23-16zm-1 12zm-4 8zm10 4zm-10 4zm-5-9zm-25-5zm2 5zm3 10zm10 3zm-6 45zm-11 16zm9-7zm19 5zm16-20zm-2 12zm-28 18zm-2-3zm-11 12zm6 4zm4 7zm-21-23zm-19 10zm-12-5zm-7-24zm-7 15zm-1-12zm4-9zm10 0zm5 4zm-2-12zm16 5zm-10 7zm17 3zm11 13zm-5-19zm-6-24zm-2 12zm-9-2zm15-32zm7-9zm0-10zm-6-6zm-18 0zm-2 8zm-33 3zm0 12zm-2 35zm-23-11zm0-11zm6-2zm-2-29zm-27 15zm11-3zm-20 0zm19 12zm-1 7zm3 23zm-10-3zm-14-2zm4 16zm16 14zm0-14zm-9 1zm5-2zm31 16zm8 11zm-7 16zm-35-7zm28 53zm13 7zm0 1zm-7-4zm1-15zm-9-8zm3-5zm12-9zm5 12zm10 16zm1-7zm7-1zm-3 0zm9-9zm-8 2zm25-1zm14 14zm-1 20zm-17 3zm-10-10zm2 3zm-18 0zm-4-5zm-106-97zm1 14zm32 33zm-1-3zm-9-24zm-16 4zm24-25zm-12-8zm1-7zm7 0zm4-3zm-3-10zm-7 2zm121-284zm16 7zm-3 16zm-4 17zm7 0zm-4 8zm-4 1zm-20-6zm-4 0zm18 12zm6 1zm-19 11zm-1 22zm11-3zm16 0zm-8 7zm-5 11zm-44 4zm-10 15zm1 61zm7-3zm4 33zm51-2zm1-4zm4-3zm-6 3zm-12-48zm4-41zm4 17zm10-14zm-8 4zm22 0zm-10 4zm25-4zm-4-6zm34 3zm-3-1zm8 52zm-59-17zm28 23zm2 22zm16 38zm-6-9zm17-34zm-20-4zm-5 0zm17-2zm15 9zm0 17zm14 5zm-1 14zm0-2zm12-8zm-6-7zm28-22zm3-19zm9 5zm-9-12zm-24-4zm-23 7zm2-98zm-4-2zm10 23zm-13 7zm-11-20zm1 13zm-16 3zm6-2zm-12 8zm-19-21zm18-7zm-10-6zm-4-1zm7 6zm-12 4zm-10 0zm13-23zm-4 7zm-3-12zm8 2zm13 2zm10 19zm9 4zm-2-3zm0-6zm7 5zm10-2zm-4-4zm-9-33zm-14-6zm4 4zm-7 9zm-8 4zm-7-5zm-1 5zm-7-12zm2-4zm-9-7zm-2-3zm15 3zm2 6zm9 2zm-12-23zm-7 1zm187-18zm28 12zm-6-10zm-7 1zm21-10zm-1 9zm-21 33zm-9-10zm-54 61zm-3 3zm25 39zm-39 69zm231-138zm-13 9zm-62-56zm35 11zm27-23zm-5 13zm0 1zm12 34zm19-6zm4-25zm-4-2zm-2-4zm1 12zm22-19zm-2-1zm-4 14zm-3 2zm45 16zm-20 19zm-8-5zm5 1zm-6-5zm10 0zm-1-9zm-22 0zm3 13zm1 15zm-6 8zm15-14zm7 8zm22-3zm40-3zm29 17zm-6-6zm13-5zm-1-12zm6-22zm-9-2zm2 4zm-20 0zm-1 16zm-7-3zm-8-11zm0-19zm3 3zm8-17zm13 6zm15 1zm5-2zm15-11zm13 21zm-13-3zm-13 16zm6-1zm-7 7zm3 1zm7 5zm8 3zm-2-10zm29-5zm-1 23zm-2 20zm-24 3zm5-1zm7-6zm-7-5zm-11-5zm-11 7zm0 11zm13-87zm-108-114zm-64 103zm10-96zm-25 1zm11-20zm-13 5zm-13 4zm6 14zm-8 6zm2 9zm12 5zm-12 14zm-12 1zm0-6zm-23-10zm10-7zm19-35zm-11 13zm-5 2zm-9-5zm-13 1zm-1-9zm-8 12zm0-14zm-14 0zm1 35zm28 19zm-12 5zm-4 7zm5 15zm4 10zm3-9zm12-11zm0 5zm2-12zm-62 61zm-4-4zm9-48zm-19 17zm-22-6zm10 16zm1 10zm1 8zm1 0zm-21-11zm-6-16zm32-66zm22 14zm-7 15zm6 1zm6 0zm0-2zm6-16zm-18-23zm12-9zm5 9zm-72-21zm58-80zm21-5zm5-8zm26-11zm9-11zm-7 5zm6 3zm4 0zm19 1zm-24 20zm0 4zm21-4zm-10 24zm-3-4zm-7 0zm0-5zm-12 5zm-3-21zm-6 13zm-17 2zm4 3zm-2 13zm10 14zm6-12zm1 24zm-3 36zm0-25zm20 7zm-1-4zm1 22zm15-1zm7-14zm1-4zm-10-5zm-15-14zm1-13zm27-2zm24 20zm-18 27zm6-5zm2-2zm4 12zm12-29zm13 3zm-4 7zm-3 4zm-26-51zm0-16zm0-7zm0 1zm-6-20zm9 3zm-9-10zm18 4zm-17-17zm-26-16zm3-4zm15 18zm-16-12zm-3 2zm-9-18zm-51 20zm20-295zm20 29zm-25-5zm-10-18zm10-13zm-16-6zm-1 17zm0 10zm11-29zm7 0zm0-4zm-14-107zm-11 0zm4 4zm-3 5zm-14 0zm-14-12zm4-7zm3 12zm-10-31zm22 9zm-2-7zm13 10zm17-11zm-4 3zm-2-9zm4-7zm20-12zm-3 23z"/>
<path id="bs1" d="M991 406zm25-4zm-19 19zm-15 22zm-7 24zm44-5zm-40 42zm-11-14zm-33-16zm-49-3zm-123 163zm-4-44zm9-66zm12 50zm-3 10zm2-2zm11 16zm3 4zm6-2zm-10 2zm-16-6zm30 19zm0 4zm5 17zm6-2zm15-10zm2-28zm-12 1zm-16 8zm18-20zm42 2zm-23 5zm-3 40zm51-35zm-11-15zm0-12zm48-39zm-24 32zm25-19zm5 26zm3-2zm22-17zm-23-10zm34-13zm8 5zm7-16zm7-4zm13 10zm2 3zm16 16zm-20-13zm18 18zm4 3zm-96 42zm-17-12zm-7 51zm10 18zm-21 94zm-4-85zm-39 11zm-14-10zm-4-6zm-3 1zm-4-2zm21 229zm40-50zm134 25zm-31 64zm31-5zm-13 11zm1-7zm-13 10zm6 6zm11 1zm-49 38zm37-6zm-69 29zm20-7zm-519-39zm-51 10zm-24 12zm-4 20zm-92-13zm32-35zm24-45zm21 51zm23-14zm21-55zm22-55zm7 5zm-4 20zm-3 5zm-7 5zm3-8zm-9 10zm-5 27zm22-15zm-5 2zm44 10zm-27-28zm4-12zm-167 133zm-12 82zm76 54zm6 1zm2-45zm640 212zm-81 122zm-7 0zm-21-116zm-72-7zm-12 11zm53 172zm-9-16zm50-43zm9 4zm-19 64zm12 10zm-143-137zm2 17zm38 34zm-18-81zm18-18zm87-259zm-5 35zm-2 6zm0 20zm-10-3zm2 10zm-7 0zm-24 14zm23-9zm-12-4zm-20 48zm12 14zm-6 24zm19 17zm-6-3zm-9-3zm-6-6zm18 14zm2 6zm7 8zm12 48zm17-29zm17 7zm2 6zm-11 4zm7 8zm3-68zm-26-6zm-7 5zm7-15zm-12-16zm56-18zm48 2zm-8 25zm23 3zm-24 29zm-12-17zm-21 17zm15 26zm-19 10zm43-32zm78-19zm-50-34zm54-12zm-2-14zm-8-19zm-4 7zm-11-40zm-10 20zm-51 17zm14-33zm8-19zm-9-3zm-18-5zm3 20zm-6 1zm-17-31zm20-2zm5-1zm71 11zm65-7zm-15-29zm83 23zm3 30zm-73 61zm-14-11zm22-40zm-13 10zm-37 27zm10 1zm8 22zm-22-10zm3 56zm228 76zm-21-178zm-12 16zm-49-44zm183 4zm120-11zm-30 66zm-27 29zm-163 142zm52-525zm-27 54zm115 184zm-121-17zm-48-23zm26 16zm14-65zm-2-9zm-64 35zm-14 5zm4-8zm11-4zm-47 4zm18 1zm-21 27zm53-11zm-105 5zm-35 36zm-41-60zm3-34zm18-6zm15-5zm65-2zm7-23zm16-17zm-39-9zm-7 23zm7 17zm-26-4zm-7-2zm-23 5zm-9-3zm0 11zm17-59zm4 1zm4-1zm18 13zm-13-26zm8-10zm-4-3zm-5 2zm-12-1zm-1 7zm-3-1zm10 12zm-25 2zm7-21zm66-16zm-27 1zm40 39zm17-5zm-10-46zm2-12zm6 14zm68 17zm7 33zm3 9zm10 5zm0-9zm33 14zm1-50zm0 1zm-16-14zm21 8zm2-6zm-51-30zm5-4zm-62-29zm47 17zm-57-4zm3 8zm-35 11zm25-8zm-3-15zm-111-207zm29-12zm73 9zm-5-4zm-3-8zm16-1zm21 3zm-7-96zm0 4zm23 19zm-22-5zm9 31zm16-11zm13-5zm-4 40zm-32 8zm-26 4zm-2-5zm4-5zm-28-42zm-14 26zm18 4zm6 4zm0 15zm-16-3zm-28-1zm9-7zm-26 2zm-2 6zm-15-15zm-14-8zm2-23zm15 0zm17 4zm-3 19zm20 0zm5-31zm-13-19zm-26 10zm2-19zm9-6zm33-21zm29-3zm-20 20zm-6 32zm-1 1zm21-7zm7 7zm17-61zm-9-9zm9-1zm1-7zm-11 0zm16-28zm-13 12zm-26-26zm-1 23zm-26 20zm1-15zm5-89zm90 22zm-1 20zm11 19zm-20 30zm-47-95zm-42-19z"/>
<path id="bd2" d="M802 578zm54 17zm-4 5zm40-2zm-5-44zm-39 11zm70 38zm-5-7zm-15 3zm10 2zm-4 5zm5 14zm16-5zm-6 1zm-7 4zm0 2zm2 8zm-3 2zm-67 23zm4 34zm-4 3zm76 329zm-8 0zm-490-77zm-3-36zm1 11zm-22 7zm12 17zm-4 3zm-4 36zm21-12zm4-4zm-68 30zm4 2zm8-25zm-6 15zm-44-10zm9 1zm-6 14zm0 7zm27 5zm-10-3zm0 6zm0 15zm-8-2zm-25-27zm-39 27zm11-28zm-2-17zm-16 9zm5-9zm16-2zm11 4zm-2 5zm16-2zm2 6zm5-2zm-1-36zm0-9zm5-9zm-4 0zm-11-7zm32 2zm-4-13zm30 32zm14-63zm38-2zm5-16zm-2 5zm8 6zm-6-2zm-3 15zm15-7zm-183 149zm13-2zm43 44zm-11 18zm47 11zm28 7zm-42-53zm38-22zm1 1zm-10 2zm558 440zm16-28zm-19 7zm-1-32zm-11-4zm17 0zm68-5zm3-2zm37-36zm-61 24zm25-52zm0-58zm-9-4zm-1 4zm-12 20zm2 11zm23 6zm-7-4zm6 10zm-37 9zm-2-5zm-8 6zm-5-2zm-4-3zm-3-4zm10 1zm-1-10zm-11-9zm26 5zm-2-17zm-6 3zm2-10zm4 1zm6-6zm-28 2zm3 5zm4 9zm-10 2zm-1-7zm-13-15zm3 0zm3 2zm-17-9zm-3 0zm0 7zm-3 8zm7 14zm9 5zm14 11zm-6-2zm-2 0zm-2 12zm-9-6zm-8 8zm5 6zm4 5zm-2 9zm4 10zm-6-3zm15 1zm1 4zm3-17zm10 4zm11-11zm10-1zm3 27zm-14-8zm-15 16zm2 8zm8 3zm14-4zm7 5zm-10 14zm0-2zm-5-2zm-2 5zm-5-5zm-2-8zm-7 3zm-5-12zm3-5zm-8 5zm-4 6zm0-3zm-8-8zm-6 0zm-2 7zm9 6zm3 4zm-16-7zm-9-13zm-7 13zm-18 15zm-9-7zm-2 1zm-17 5zm1-2zm-1-13zm3-6zm17-5zm-3 6zm7-7zm-1-17zm-8 13zm-13-11zm12 2zm-5-8zm29 4zm14 8zm11 1zm-2-9zm1-14zm-9-19zm6 0zm-1-17zm-3-7zm0-21zm-13 0zm-8 7zm6 15zm-39 33zm-23-22zm14-11zm-3-5zm-6-7zm-12-1zm-14 10zm6-4zm-5-3zm-7-2zm-1 4zm0 13zm-13-1zm0 2zm3 14zm12-11zm5 13zm4 14zm-22 28zm12 3zm1-9zm13-1zm-6-16zm10 7zm9-5zm7 8zm5 12zm-20 0zm21 13zm-5 12zm6 11zm-5 4zm-1 0zm-17-7zm6 4zm-11 3zm-9-13zm1-9zm1 4zm-7-11zm-7-2zm6 29zm50 25zm-6-6zm2 6zm-4 4zm0 4zm-12-6zm-10-12zm22-10zm-5 3zm4 3zm16-1zm5 6zm-3-1zm-1 12zm6 2zm8 0zm6-2zm3 7zm-6-15zm4-7zm-3-6zm8 9zm27-9zm0 11zm-6-6zm5 20zm-9 0zm-10 0zm-4-4zm3 1zm14 7zm9 13zm-7 9zm-32-20zm-3 6zm-11 1zm-91-64zm14 0zm-5 2zm-2-7zm-1 2zm-3 0zm8-4zm-25-4zm10-13zm4 0zm9-2zm-3-6zm8-1zm2-23zm0-2zm-5-2zm-2-8zm-8 12zm140-297zm-13 14zm-14 4zm29 10zm-3 2zm-8 4zm-7 19zm2-5zm2 0zm-10-3zm-11 1zm0-20zm7 32zm1 12zm8-8zm12-4zm-5 12zm3 3zm6 12zm-12-1zm-10-3zm18 7zm1 1zm4 11zm-11-1zm5 8zm5 5zm-4 7zm-14-8zm-6-4zm-3 12zm-6 0zm-9-11zm11-15zm-18 1zm-12 20zm-8-7zm-10 7zm10 10zm8 14zm-14 14zm13 32zm9 0zm4 15zm8 23zm42 15zm-7-21zm8 0zm1-60zm-3-2zm-24 0zm-7-17zm-7 1zm-19-1zm13 4zm0-3zm31-17zm2 3zm-8 9zm-6 5zm27 9zm1-3zm-3-13zm-1-4zm9 11zm11 0zm10 7zm-5-21zm23 8zm22-5zm-11 13zm1 4zm-20 2zm-16 19zm-2-6zm-13-6zm13 16zm1 36zm10 5zm4 2zm-3 31zm1-26zm19 8zm-7 19zm3-12zm7 0zm7 1zm-1-12zm5 0zm-14-7zm-11-1zm0-3zm6-11zm-8-6zm15 1zm12-7zm27 12zm-17 15zm-2 24zm14 0zm8 8zm0-22zm6 14zm22-34zm-11-7zm4-11zm5 3zm2 5zm-1-15zm-51-23zm-3-32zm7-48zm2 20zm6 0zm-3 15zm-21 3zm3-23zm-9 3zm6 8zm-19-13zm-2 5zm-32 20zm4 1zm-2-10zm26-4zm-6-11zm0-2zm5-12zm-4 3zm-5 2zm-6 1zm-4-23zm0 4zm8-1zm-1 7zm0 2zm8-2zm4 1zm3 2zm0 8zm25 7zm2-16zm-20-35zm0 8zm-15-2zm-12 6zm-12-6zm10-8zm-6 0zm11-7zm-5-28zm181 16zm-6-7zm22-12zm-9 4zm-5 11zm3-2zm3 2zm3 2zm6 7zm14-7zm-1-11zm0-6zm9 4zm6-2zm-58 117zm-11 0zm-9-5zm-29 78zm2 13zm250-139zm-4-1zm-9 4zm-22 47zm-30-82zm-2 0zm-4-2zm-12 1zm-2 2zm-8-12zm19-1zm10-16zm34 1zm-1 13zm15 21zm-2 5zm6 7zm12-2zm-12-10zm-8-16zm12-25zm4 7zm4-5zm18 25zm47-9zm-30 17zm11 2zm-3 3zm23-10zm-24 19zm-26-13zm-11-3zm4 30zm2 11zm23-7zm-4-1zm-14 10zm-4 6zm-4-6zm35-15zm37 4zm-4-5zm18 18zm-3 34zm7-18zm8-2zm6 9zm3 4zm0-5zm12-7zm3-2zm-4-6zm3-7zm-10-2zm-9-9zm17 7zm2-8zm-7-10zm-3 3zm-2-8zm3-5zm-2-18zm-11 19zm6 2zm-10 10zm2-5zm-18-6zm-7-12zm13-8zm4-2zm-8 1zm-11-8zm18-10zm14 11zm6-5zm4 4zm4-20zm14-3zm11 9zm9 12zm4 4zm-28 25zm7 3zm12 5zm5 1zm0-16zm-9-1zm3 1zm20-1zm-6 10zm11-3zm-7-23zm4-4zm-1 49zm-6 4zm-4 11zm7-2zm-1-4zm-16 6zm6-7zm-6-15zm-12 13zm1-5zm3 3zm-6 10zm14 14zm-16 15zm-370 213zm416-354zm-46 20zm-118-120zm-12 25zm5 90zm-17 5zm-20 6zm-19-11zm1 9zm-15-5zm8-8zm28-79zm13-29zm-11-3zm-8 7zm-13 20zm1-5zm8-13zm-14 4zm-3 0zm3-12zm-11-2zm-2 7zm9 21zm-2 15zm2-7zm6-4zm-8 23zm-12 8zm-24-26zm15-6zm1-27zm2-4zm-10 20zm-13 8zm-5-2zm-11 3zm11-17zm-13 9zm-1 14zm3 3zm6-5zm1 7zm-7 21zm2 2zm-5 10zm3 8zm14 12zm-2-21zm-4 5zm-7-2zm6-6zm8-1zm5 8zm23-1zm-11-2zm-10 14zm-2-1zm-2 13zm0 7zm6-6zm21 1zm-33-1zm-36 17zm0-9zm-1-22zm-4-2zm8-7zm-11-6zm-11-6zm-4 28zm-33 17zm7-1zm6-7zm15 8zm-35 1zm20-106zm0-2zm34 53zm8-3zm1 4zm5-1zm-28-28zm2-2zm8-17zm11-8zm4 9zm3-8zm-5-3zm-18-26zm-2 2zm-37 24zm-18-3zm60-84zm0 9zm16-9zm-5-9zm27-27zm1 16zm9-9zm-4-8zm14 7zm12-6zm14 6zm-5 4zm-20 16zm-3 17zm6-2zm24-8zm-12 6zm-3 7zm5 4zm3-2zm5 10zm-16 1zm-13-4zm5 0zm-10-1zm-7 0zm11-14zm-2 3zm-27-10zm-1 1zm-1 2zm6 6zm-5-1zm4 11zm2 20zm5-1zm-4-6zm2 0zm10 8zm10 7zm-20 18zm-1 9zm-8-7zm0 2zm20 14zm7-9zm17-6zm2 4zm-12 13zm5-2zm2 2zm17-17zm1-9zm-10-15zm-8-5zm7-5zm13 8zm0-6zm3-7zm3 13zm24-13zm-1 3zm-3 3zm5 17zm2 1zm-12 3zm-19 7zm9 0zm3 6zm-7 6zm0 2zm7 13zm7-14zm-1 6zm8 5zm2 2zm-1-16zm11 5zm-4-23zm-7-37zm-7-1zm-15-4zm4-2zm1-8zm4-2zm0-4zm2 8zm7 0zm-8-15zm-8-2zm-4-23zm-31-32zm2 5zm19 8zm-5-3zm-3-3zm8 10zm4 4zm-31 4zm-3 2zm-18 1zm-36-10zm32-295zm-2-5zm1 16zm12 23zm-1-10zm-14 5zm-2 10zm-12-25zm3-10zm-4-5zm-24-13zm20 0zm-2-10zm15-2zm-9-115zm-10 2zm-8 5zm2 1zm1 12zm-6 6zm-4 0zm3-7zm-24-6zm11 5zm-40-5zm50-50zm-18 6zm6 21zm-4-1zm11-2zm19-18zm6 9zm-10 1zm4 16zm7 4zm1-9zm14 0zm0-34zm9 15zm-6 8zm0 5z"/>
<path id="bs2" d="M1017 343zm-60 93zm12 10zm53 5zm-29 46zm-62 5zm10-3zm10-9zm-13-19zm-19 8zm-10 9zm18 21zm-7 2zm-13-12zm-8 3zm-7-18zm-19-34zm6-3zm-28-14zm-86 210zm-20-35zm6-33zm7-1zm13-43zm16-1zm-9 36zm3 24zm3-6zm12 13zm-13 5zm-10 3zm0 17zm9 8zm21-4zm13-39zm40 40zm25-2zm-10-36zm47-28zm12-16zm3 1zm7 12zm-1 8zm10-6zm10-31zm-11 5zm2 5zm-21-5zm58-8zm4-9zm16 3zm0 12zm-13-2zm24 21zm-47-4zm-8-3zm-29 80zm-4-12zm-2-2zm16-23zm-4-8zm-2 4zm-6-1zm1 9zm-6-4zm-12-11zm-1 8zm12 34zm-3 12zm-10 5zm2 2zm-17 2zm5 10zm1-8zm14-1zm-5 45zm1 0zm-31-5zm-22-25zm-10-15zm-4 9zm-14-3zm4 36zm26-6zm-16 19zm-14-4zm-9-42zm2 200zm20 6zm-7 19zm184-99zm-41 87zm34 16zm-3-4zm-12 26zm20 21zm0 4zm-19-13zm-10 7zm2 13zm9 9zm-2-13zm13 7zm9-2zm-22 21zm-8-3zm-4 5zm-27-2zm38 12zm4-6zm-54 56zm-13-2zm-39-2zm-418-27zm-46-87zm-30 2zm-11 5zm5-6zm-6 4zm-3 32zm12 10zm-16 56zm-25 11zm-5-16zm21-28zm-22 0zm1 9zm1 12zm-8 5zm-85-29zm15-2zm1 5zm31-7zm-5-12zm-9-10zm-4-7zm-8 26zm-1-7zm-4 0zm0-6zm6-2zm17-22zm-2-6zm26-17zm3 51zm25-6zm0 9zm5 4zm20-13zm-26-17zm0-22zm29-3zm1-7zm-2-5zm-2-3zm-27-5zm15-8zm-13 1zm4-10zm19 5zm-8-11zm-37 31zm82-59zm-1 9zm-29 31zm22 8zm2-10zm20-4zm5 11zm-8-12zm-7-5zm-182 146zm0 6zm14 65zm-14-30zm46 55zm28 22zm-5-16zm22-30zm603 437zm-46-115zm6-3zm-1 0zm-14 4zm-27-117zm-45-1zm-7-1zm-19 8zm-4 1zm-4 11zm29 126zm-2 5zm6 12zm6 1zm15 20zm-23-35zm86-20zm-43 61zm-2 8zm-110-129zm-8 12zm7 9zm19 26zm-4 2zm7-7zm-21-51zm94-257zm6-3zm9-25zm12-10zm35-18zm-37 35zm-11 8zm-6 19zm-1 4zm15-4zm4-1zm-37 49zm-1-5zm15 1zm0-12zm-7-2zm4-19zm1-11zm-3 13zm-21 56zm25 22zm-14-5zm-10 15zm7 2zm-2-5zm19 1zm-1 4zm-5 2zm-3 10zm9 5zm-8 6zm9 37zm-15-36zm6 11zm34 15zm-6-1zm0-8zm-2 2zm8 31zm5 3zm-10-21zm28 3zm10 17zm5-35zm-5 7zm-12 0zm-3-3zm-7-19zm16-1zm7 6zm1 2zm6-1zm-7-13zm-8-12zm-21 12zm-17-7zm94-49zm-4 26zm-2 12zm7-8zm8 4zm9-3zm-4 24zm-23 4zm1-6zm-31 3zm2 12zm15 20zm-7-2zm-3-7zm0 6zm-2 13zm-4 12zm12 7zm8-23zm29-32zm16-21zm20-7zm-17-8zm50-37zm-16-3zm5 0zm-9-7zm26-8zm-45-30zm6 3zm-44 33zm-2-8zm18-24zm-3-5zm-6 0zm10-9zm-3 1zm1-13zm1-11zm-8 2zm-4-4zm-25-2zm4-1zm4-1zm-4-16zm1-3zm6 5zm7 7zm29-25zm17 14zm-8 46zm49-5zm-4-1zm-19-50zm-5 0zm34 32zm57 4zm-16-24zm62-4zm4-13zm12 24zm-23 3zm22 17zm0 6zm-29-17zm-25 29zm30 8zm3 9zm18-15zm-81 33zm6 4zm12-9zm0 3zm-7-17zm-12 1zm-10 10zm-10-3zm7 0zm-3-21zm-3 1zm-14 6zm-1 7zm-1-3zm0 0zm8 4zm12 23zm0-4zm-18 33zm21 13zm17 38zm157-93zm-65-16zm57 0zm-4-18zm-26-7zm-4 13zm-8-7zm-18-8zm24-2zm-3-20zm47 14zm114 12zm-1 4zm3 5zm-13-9zm-45 57zm43-41zm22-6zm107-51zm-3 77zm3-91zm9-221zm-118-19zm-5 11zm-20-15zm6 8zm-43 13zm9 4zm-11 37zm12 9zm-9-3zm19 114zm-51 43zm-25-9zm4-8zm9-24zm29-34zm-72 29zm-8-11zm9 6zm4-7zm6-6zm-41 17zm-11-8zm43 16zm-82 8zm-5-10zm-14 2zm-20 42zm-21 3zm3 8zm7 5zm1-45zm6-3zm-10-43zm-28 0zm7 4zm7-11zm5-3zm-13 1zm5 0zm1-13zm10 8zm18 2zm5 0zm23-15zm-5 20zm-2 11zm-5 10zm47-57zm-7-18zm15 5zm-10-39zm-13 5zm1 16zm3 1zm-13-8zm-17-16zm-8 44zm-24 14zm-8 1zm-29 2zm5-41zm-8-9zm46-2zm-7 4zm-8 4zm1 4zm4 4zm26-42zm-2-14zm-7 1zm-8 13zm1-14zm-5 6zm-3-3zm0 22zm-23-8zm-6 7zm-8-2zm13-10zm-11 1zm14-9zm0 8zm2-14zm38-6zm3-1zm24-12zm6 13zm-27 17zm29 10zm9-42zm29-3zm46 21zm-2-11zm80 76zm-1-7zm-20 6zm7-17zm-1-1zm11 2zm-7-32zm-27-19zm19-15zm4 14zm10-1zm-33-33zm-18-2zm-50-34zm-4 13zm25-8zm8 13zm-27 2zm-7 8zm-6 4zm-15 7zm-11 3zm5-22zm8-5zm-109-206zm44-12zm5-3zm44 10zm-10 1zm0-7zm16-8zm4 6zm4 8zm26-9zm7-5zm17-65zm-27-51zm-9-1zm3-11zm-6 12zm25 24zm0 10zm-9 7zm4 0zm-24-3zm28 31zm-10-10zm16 1zm3 0zm0 23zm-23 28zm-26-7zm-16 11zm5-27zm7-1zm-19-4zm-3-24zm-9 1zm-13-4zm-2-1zm11 14zm-2 6zm-1 7zm-8-3zm-4-2zm0 10zm14 1zm2 19zm4-2zm6 3zm2 7zm-8-7zm-24-23zm-9 6zm-11 5zm4-8zm-33 22zm5-16zm13-2zm-13-11zm-1-6zm-15-21zm22 2zm-3 10zm11-3zm4 15zm12 3zm13-13zm-7-11zm-2-1zm1-2zm7-20zm5-8zm-21 10zm-22 2zm-18-9zm-1-10zm13-17zm33-11zm0 26zm14-18zm-8-1zm25-2zm-3 27zm35 7zm-11 5zm2 6zm26 3zm0-4zm-8-16zm-7 0zm8-5zm-24-5zm24-40zm-14-6zm6-11zm3 2zm9 7zm-3-17zm-2 3zm-4-4zm-22 5zm-4 2zm-8 4zm5 5zm8 16zm-41-18zm-5-19zm10-63zm-9-6zm60-2zm-13 1zm7-3zm19-1zm26 46zm-3-23zm2 14zm-8-3zm0-4zm-2 0zm-7 27zm8 11zm4-1zm9 0zm-4-3zm-3 20zm1 2zm-6-7zm-4-4zm-6 26zm-1 3zm6 2zm-6 11zm9 1zm24-60zm-47-68zm-7-17zm-14 16zm-9-4zm-21-8zm-21 9zm-19-10z"/>
<path id="bd3" d="M747 589zm-5 18zm-20-14zm82-46zm3 36zm39 3zm1-6zm5 3zm-1 12zm30-10zm-14-25zm-22-15zm-1-29zm27-2zm39 26zm14 66zm-19-16zm-1-9zm-3 10zm-4 2zm7 7zm-8 7zm2 5zm1 8zm5-4zm0 4zm7-5zm3 14zm-4-3zm-72 29zm5 28zm2 3zm14-6zm54 343zm-490-84zm-4-10zm8 5zm-2-34zm-6 4zm0 6zm-1 7zm5 8zm-9-2zm-11-1zm-3-1zm1-12zm-3 4zm0 2zm-2 23zm2-9zm14 9zm-6 13zm9 2zm-11 27zm-3 6zm5-18zm-3-4zm-44 41zm4-12zm18-5zm-5-12zm5 4zm-12-18zm-8 19zm3 6zm-35-21zm-9-5zm1 3zm-1 17zm12 8zm1 16zm2 0zm14 1zm-17 3zm-14 4zm-12-12zm-10-1zm0-4zm-7 8zm13 7zm-33-19zm14-14zm-27 13zm46-6zm-3-7zm20 6zm0-20zm-1-3zm0-3zm-2-10zm1-14zm-4-1zm-5-3zm-4 6zm-2 6zm-1-7zm2-7zm-2-1zm18-5zm26-25zm-10 30zm-4-12zm-5 3zm33 25zm-2 4zm8 11zm-8-64zm-5-7zm-8 2zm64 3zm2-10zm3-9zm-2 1zm14 4zm-1 5zm-180 112zm7-2zm-8 8zm6 57zm-3-12zm7-12zm14-2zm-7 10zm5-1zm13 1zm4 9zm-9-21zm30 5zm0 12zm-14 16zm18-3zm5 13zm6 9zm-38 2zm-1-9zm-2-19zm-15 1zm-4 0zm9 26zm18 14zm11 1zm44-2zm-2 12zm14-3zm-4-42zm-6-33zm-2 2zm5 6zm12-4zm-4 11zm12 8zm10-10zm615 430zm-50-17zm-31 9zm-2 2zm-11-3zm10-11zm-10-3zm6 1zm1-7zm23-17zm-22 0zm7-6zm8-6zm2 5zm5-4zm5-2zm4 1zm8 3zm-12 4zm19 3zm7 11zm6-21zm7 1zm22 10zm12-10zm19-10zm-16-25zm-9 5zm0 2zm-4 10zm8-3zm-19-14zm5 9zm-13-29zm-6-2zm21-5zm3 19zm16 2zm2-42zm-12-17zm14-8zm1-4zm9-1zm-1-3zm-6-12zm-4-5zm-16 4zm11 11zm-29 4zm6-8zm-22 3zm6-1zm7 10zm-14 18zm14-1zm4-8zm11 4zm-6-2zm-1 14zm-3 7zm-32-8zm-1 8zm0-2zm-6 0zm-10 3zm3-11zm3-8zm5-4zm4 8zm7-10zm2-26zm-1-1zm-10 7zm-5 0zm-1-8zm0 12zm3 8zm-7 1zm-6 4zm-16-9zm7-8zm-11-2zm-3-5zm-8-3zm9 15zm6 22zm0 4zm14 4zm-1 5zm-7 9zm-9-2zm-12-11zm-1 4zm11 10zm-6 15zm0-3zm-4-1zm-1 4zm3 6zm7 5zm0-8zm7 8zm-1 3zm5 1zm0-5zm-1-13zm1-5zm1-5zm11 2zm18 2zm1 0zm3 5zm-7 0zm-16 5zm7 15zm-7 8zm26 0zm-9 16zm6-6zm4-1zm-22 5zm-13 8zm-3-4zm0-3zm-13-22zm-3 3zm3 21zm6 4zm-4 3zm-3-2zm-6-2zm-13-21zm-3 1zm-5 3zm-5-1zm-6 5zm2 3zm-11 2zm-1-1zm-1 6zm1 5zm-21 2zm13-17zm8-14zm-2 12zm0-3zm10 1zm-7-15zm1-4zm-10-8zm7-15zm0 12zm4-1zm2-1zm7-9zm1 3zm5 0zm-6 17zm1 6zm5-2zm7-8zm7 4zm-6 6zm14-6zm0-12zm-4 6zm-2-15zm-1 3zm3 3zm3-5zm-1-14zm-4-2zm-9 11zm-11 2zm10-9zm3-10zm12-7zm-13-10zm3-10zm4 1zm5-2zm-2-2zm-16-7zm-8 0zm10 10zm2 3zm-29-1zm11-6zm-14 11zm-8 13zm17 1zm-1 4zm2 7zm4 7zm-4 3zm-7 3zm-18-11zm-3 8zm-13 0zm5-2zm-3 6zm-14-1zm-2-2zm4-2zm-6-2zm10-13zm-5-9zm24-8zm-4 5zm-6-3zm-3-2zm2-8zm6-1zm-11-11zm1 12zm-3 9zm1 4zm-16-5zm-19-7zm-7 11zm1 5zm1 8zm9-1zm4-6zm9 3zm-24 18zm0 11zm7 3zm-1 21zm0-8zm13 12zm3-20zm0 3zm-7-4zm19 4zm14-12zm6 2zm-8 12zm6 3zm5-2zm2-1zm-9 13zm-4 0zm-6 2zm0-12zm-3 3zm-4-4zm-2 8zm1 0zm0 7zm5 3zm-6 4zm1 4zm6-6zm10 7zm12 4zm-6 13zm-15-7zm-6-2zm-16 10zm9-12zm1-2zm-5-13zm-11 5zm-11-2zm5 5zm-3 9zm1-3zm3 1zm16 14zm5 0zm14 32zm18-1zm-1-5zm-11-5zm-12 3zm-1-2zm5-10zm-6-13zm8 0zm9 10zm7 3zm4 0zm5-12zm11 28zm-4-13zm20 9zm-6-2zm3-13zm-9-1zm-2-9zm11 3zm32 6zm-1 3zm-7 3zm-3-4zm-1 4zm-4 13zm2-9zm-13 13zm4 11zm10 12zm-27-5zm11 1zm0-16zm-9-1zm-3 10zm-17-5zm52 39zm-135-108zm-6 3zm19 10zm2-3zm-10-11zm10 6zm-14-16zm4 5zm1 2zm-21-6zm1-4zm5-1zm2-10zm2 5zm-5 0zm0-7zm13-6zm6 12zm4 0zm-2-11zm-11-10zm0 2zm-8 4zm109-288zm31-24zm5 16zm-21 8zm2 8zm5 9zm2-12zm9 9zm-3 1zm13 18zm-8-3zm-11-8zm-22 5zm7-20zm0-4zm-4-1zm1 63zm5-13zm-12-12zm2-4zm10-2zm6 13zm1 2zm9-15zm-3 29zm2 18zm4-11zm7 3zm1 5zm-8 13zm-8-8zm0 4zm-10 5zm1 0zm-11 3zm1-5zm0-4zm6 2zm-14-8zm-3 1zm0 5zm-9 8zm-19 6zm13 1zm-19 31zm21 34zm7 1zm0 29zm5 5zm-9 1zm54 10zm2-4zm-9-8zm8-61zm5 1zm-39-10zm5-11zm-24-9zm10-8zm0-1zm8 1zm13-1zm9 3zm1 6zm-12 13zm17 4zm7-9zm-2-16zm11 6zm5 19zm8 1zm-5-14zm6 10zm17-26zm11 2zm-21 53zm-3 0zm-5-19zm-14 2zm13 12zm-1 5zm12 10zm-8 14zm5 1zm8 4zm1 3zm-7 38zm1 2zm19-29zm-8 18zm-1 1zm-3 8zm5-4zm15-14zm-4-10zm0-16zm-8 13zm-7-11zm0-15zm0-2zm21 0zm0 3zm12 3zm18-6zm9 4zm-15 22zm-5 9zm-4 7zm8 7zm16 9zm2-9zm4-5zm20 13zm7-37zm-13-4zm-16 7zm0-6zm17-12zm-14-18zm8 5zm1 2zm-28 2zm-4-4zm-6-2zm7-5zm8-5zm-21-18zm-1-5zm3-4zm-3-3zm5 0zm12-62zm-6-4zm-11 5zm5 17zm12-3zm0 26zm-1 0zm-7-6zm-2-5zm-13 12zm-9-12zm10 1zm-2-9zm-23-4zm-1 8zm-1 11zm12-3zm-1 3zm2 1zm-6 6zm-17-14zm-4 7zm-16-4zm12 2zm-9-9zm0-7zm1-4zm12 0zm12 14zm-20-34zm-9-6zm36 15zm13-4zm4-5zm-3-18zm-10-15zm-7 5zm-3 5zm-1 1zm-10-7zm-9 13zm2-8zm-13-8zm8-11zm4-1zm13 8zm3 3zm-23-23zm-2-12zm21-6zm170 3zm8-1zm-8 20zm3 6zm16-10zm3 3zm1-6zm-3-6zm1-5zm-5-6zm13 1zm3 11zm-24 91zm-31 46zm-31 101zm234-118zm-1-51zm0-9zm-3 4zm-15-3zm-5 18zm-6 17zm-7-4zm-24-64zm-15-9zm-12 2zm-3-13zm3-13zm12 1zm-6 22zm10-2zm8-3zm2-18zm-3-1zm16 0zm-2 8zm9-3zm4-8zm7-3zm3 11zm-3 7zm16 25zm-5 4zm3 6zm16-5zm-2 13zm2-4zm4-3zm4-5zm1-8zm-11 0zm5-3zm5-5zm0-14zm-7 5zm-21-7zm8 2zm5-15zm-2-5zm9 15zm5-3zm13-2zm1 10zm8-4zm7 1zm-5 3zm-1 5zm26 3zm-10 5zm3 13zm9-3zm-2-6zm-1 13zm-4 3zm-11-4zm-10-12zm-5 9zm-4 1zm4-11zm-4 2zm-4-4zm0 14zm-3 19zm1-3zm0 6zm10 4zm5-9zm2 4zm-18 16zm37-18zm28 3zm18-6zm6 12zm3 12zm-17-5zm-7 8zm0 15zm6 11zm14-20zm11-1zm10 0zm-13 29zm16-13zm4 11zm5-21zm-1-21zm-3 9zm-19-6zm12-2zm-1 0zm-6-8zm-1-3zm22 6zm1-15zm-1-2zm-12 3zm4-9zm7-15zm2-4zm-5 2zm-7 1zm4 8zm-10-1zm-11 5zm4 4zm3-1zm-16 3zm1-5zm-6 3zm-7 3zm-1-2zm4-21zm7-18zm-6 13zm-2-4zm-4-3zm5-20zm5-2zm18 21zm2 7zm6 1zm8-4zm6-4zm2-4zm4-17zm5 3zm15 3zm-3 12zm-3 11zm-5-11zm-7-2zm-4 17zm13 3zm-3 2zm1 5zm-5-1zm2 8zm8-1zm10 13zm1-9zm3-4zm-3-13zm18 7zm-5 3zm-4 2zm8 3zm-8-26zm-2-9zm6 4zm1-9zm-8 86zm10-30zm-3-3zm-6 3zm1-2zm-3 8zm6 3zm-10 13zm-1 3zm0 3zm3-24zm-14-1zm7 5zm-16-5zm4 17zm2 9zm17 1zm-2 6zm-25 18zm-212 331zm-165-150zm7 36zm0 16zm-15 68zm417-450zm5 12zm-14 12zm-14-4zm-11 4zm-125-145zm10 15zm-14 1zm12 11zm-7 12zm33-8zm0-4zm-41 110zm-4-5zm-20 6zm5 5zm-17 0zm-8 5zm-14-3zm7-17zm0 2zm-4 1zm29-53zm11-9zm-1-6zm-10 3zm-2-13zm15 1zm0-12zm1-14zm-3-3zm-11-4zm7 16zm1 15zm-1-3zm-11-3zm0-10zm-15-10zm-11 11zm0 10zm-4 8zm5 13zm2-4zm4 4zm-3-15zm11 0zm0 9zm2 16zm-22-4zm1 2zm-32 7zm21-43zm4 2zm-1-9zm2 1zm-6-10zm-11 9zm3-10zm-9 0zm9 29zm-14-2zm-10-3zm8-10zm-5-11zm-4 6zm-7 3zm1-9zm9 30zm4 2zm3 24zm-7 0zm-13 9zm15 18zm-2-23zm8 1zm6 7zm23 5zm-5-5zm7 10zm-5 11zm-11-5zm-1-4zm2-3zm-14 14zm7 9zm16 2zm-1 12zm-1-3zm-30-10zm-13-3zm-4 5zm-28 11zm-7-21zm21 6zm2-7zm3-7zm-6 1zm0-8zm4-2zm-6-11zm-5-6zm0 14zm-6-12zm0 5zm-10 8zm6 3zm-1 8zm-6 3zm-5-4zm-24-1zm0 8zm3 4zm-3 3zm6 1zm4 6zm4-4zm14 12zm-16 5zm-32-114zm7 7zm-1-3zm32 14zm-10 8zm-5 11zm9 7zm-2-1zm11-8zm-5-7zm27 9zm-10 6zm-2 8zm19-1zm7-12zm2-5zm-14-22zm2 9zm-18-13zm11 1zm4-5zm-2-8zm1 2zm2-5zm8 6zm-24-34zm-5-8zm-18 34zm-1-5zm4-4zm-11 1zm-17 8zm53-81zm22 8zm-4-20zm3-7zm13-21zm5-4zm-9 27zm7-7zm9 4zm11-16zm-13 5zm2-7zm35 1zm-17 8zm-5 18zm10 5zm4-3zm6 0zm11 13zm-3 4zm-16 0zm1-4zm-26-14zm-2 9zm-12 8zm6 4zm-6 4zm23 18zm-5-6zm-6 3zm13 15zm-21 14zm-8 6zm6 5zm-3 8zm2-3zm5-1zm12 1zm7-15zm-6 4zm8-14zm12 13zm0 2zm-5 13zm4-9zm2-3zm16 15zm-7-27zm-4 1zm11-12zm-5-5zm-4-1zm-14 1zm9 1zm0-7zm-7-6zm-5-1zm7-3zm9 4zm4 0zm33 3zm-3 4zm-1-5zm-1 16zm-18 16zm-1 15zm14-7zm3-1zm-1 8zm1 3zm7-6zm5-13zm-1 1zm-4-4zm8-4zm5 3zm7 7zm3 2zm-6-2zm-6-4zm-3 21zm13-1zm-1-9zm6 6zm1 5zm3-22zm-20-18zm-6-26zm-4 1zm1-4zm0-6zm-11 5zm-2 1zm-12 3zm4-3zm0-2zm4-9zm-7-8zm18 7zm9-27zm-24-2zm11-6zm16 4zm6-6zm-2 8zm-60-45zm-5 5zm24 23zm-25-11zm3 7zm-7-12zm-20 11zm-3-292zm-5-2zm29 17zm-9-4zm-8 10zm-8-7zm-16 20zm7-28zm-8-6zm4-6zm-11-1zm-6 7zm-10-22zm10-7zm1 0zm15-3zm-7-2zm2 9zm6-4zm1 5zm-9-112zm-1-3zm-8 0zm-8-2zm-7-5zm2 3zm-9-7zm2 13zm-7 0zm-28-18zm30-24zm-2 4zm-3 6zm-9 17zm11-13zm5 1zm9 7zm5-7zm-3-8zm-7 5zm1-10zm11 1zm2-1zm8-1zm-8 10zm4 4zm-2 12zm12-13zm3 13zm11-2zm-5-19zm-7 0zm4 0zm1-5zm-7-8zm-3-4zm1-6zm3-3zm18 13zm1 4z"/>
<path id="bs3" d="M997 230zm8 3zm-44 91zm-27 30zm-9 0zm-19 60zm-8 32zm87-32zm29-20zm-6 28zm4 22zm-23-26zm-13 4zm-15 18zm33 9zm17 30zm-8-15zm6 43zm-13-6zm-13 5zm7-12zm-11 1zm-4 1zm-2 13zm-36-16zm-5-13zm-20-3zm13 3zm-7 11zm5 15zm-37-10zm9-26zm-13-10zm-12-15zm20-27zm-43 22zm-93 190zm-3-15zm1-6zm5 0zm-8-3zm-24 15zm-40-33zm75-20zm2 3zm-1 1zm31-2zm2 5zm-3-15zm2 7zm-12-16zm-3 10zm0 10zm0 2zm-5 5zm-1 5zm5 6zm15-1zm-3 0zm0 5zm-3 13zm-9-6zm-2-3zm6 15zm-8 16zm20-15zm10-1zm10 10zm-13 4zm3-1zm3 4zm13 8zm5-26zm5-6zm-5-6zm-22-2zm-2-2zm20-14zm7 7zm4-1zm-1-4zm6 6zm8 1zm3 1zm16 5zm-1 3zm-3 1zm-13 6zm-5 1zm2-10zm-10 14zm10-3zm3 5zm8 23zm8 1zm-10-24zm1-2zm24 6zm-9 12zm12 4zm4 2zm-4-20zm-10-10zm-2 2zm-1-5zm12-5zm11-31zm12-54zm18 20zm-10 43zm-2-7zm5-23zm23 6zm2 22zm16-15zm3-19zm-14-1zm-6-10zm0-9zm2-3zm8 2zm13 1zm7 15zm-5 1zm4 6zm0-5zm3-3zm14 8zm7 2zm0-31zm11 1zm6 18zm6 22zm-35-4zm32 39zm-80 36zm3-46zm-4 1zm5 7zm-2 15zm-12-25zm0 5zm-7 6zm11 48zm-18-2zm-7 16zm10-3zm5 1zm-14 24zm0 81zm-9-9zm-13-69zm5-6zm11-21zm-17-5zm-13 10zm12 9zm-14 4zm-10-7zm1-14zm2 11zm-16 30zm18 10zm-23-1zm-14-52zm-1 225zm9-20zm8-14zm10 27zm26 25zm18-32zm-39-28zm68-9zm103-41zm0 49zm-12 28zm12 3zm-6 11zm5 5zm-5 14zm-1 4zm-9 0zm-71-29zm16 60zm-19-12zm80 4zm5 25zm-12 21zm-12 25zm1 31zm2 3zm-24-10zm-6 4zm-19 10zm-12-18zm-21 8zm-3 6zm-9-5zm-55-112zm-374 100zm1-16zm-31-58zm-10-9zm12-8zm-5-3zm7-7zm-5 3zm-58 8zm8 2zm8 34zm4 7zm-3 1zm36 27zm-78 30zm8-10zm-3 0zm8 3zm10-36zm-10-8zm-23 26zm-5 0zm6-4zm-15 11zm-68-31zm2 1zm40-11zm-11 2zm-1 5zm2-39zm0 4zm11-12zm41 12zm-12 27zm6-3zm4-11zm-9 4zm35 4zm0 9zm5 4zm1-22zm-7-2zm8-11zm-3-8zm-3-1zm-11-5zm-5-8zm16-1zm-7-13zm-10-11zm22-1zm1-28zm-5-7zm5 3zm-16 17zm-24 18zm-5 7zm-2 2zm81-80zm-20 18zm3 3zm-8 6zm-3 11zm21-10zm-16 36zm-4 10zm-2 6zm6 3zm1 2zm9-16zm29 13zm1 5zm10 0zm-15-31zm1-7zm-4 3zm2-15zm-179 140zm0 4zm-14 25zm8 55zm2-2zm-3-11zm-7-3zm-2-11zm7 2zm-8-4zm-3-10zm14 8zm49 11zm-21 41zm7 6zm9 13zm23 2zm-9 6zm-2-9zm43 8zm11-1zm28-88zm532 483zm22-6zm41-211zm-8-11zm-85 116zm-19-116zm-24 4zm-6 1zm-6 0zm-35 1zm-21 11zm40 148zm-3 1zm9-1zm-14-7zm71-24zm-42 47zm9 1zm-6 4zm30 5zm30 29zm-172-146zm5 11zm-2 9zm25 19zm3 5zm4 4zm-5-14zm0-76zm-7 14zm-2 4zm-3 7zm-3-2zm-8 6zm27-36zm71-230zm10-33zm11 2zm21-15zm8 4zm-28 53zm2-10zm-18 1zm3 6zm6 30zm10 4zm25-8zm-45 24zm-2 5zm0-2zm-26 11zm0-3zm11-24zm10 14zm-8-20zm1-9zm11-4zm-26 54zm0 6zm5 9zm-3 28zm14-11zm7 12zm1 14zm-10-5zm-4 64zm9-3zm3 4zm5 4zm-2-33zm-12-26zm1 2zm10 4zm20 3zm-4 15zm-11 30zm25-10zm-10-1zm18-6zm6 20zm3-5zm19-17zm-20-7zm17-29zm-6-7zm2-5zm-22-8zm4 8zm5 7zm-26 0zm-6-3zm8-22zm0 7zm6 1zm-18-16zm-3-7zm24-11zm75-4zm-6-2zm1 35zm15 3zm2 19zm-9-11zm-7 8zm5 5zm-11-11zm-22 1zm3 9zm-6 19zm-1 11zm5 6zm3 11zm-10 10zm17-12zm3-1zm5-9zm21-32zm27 62zm48-90zm-15 2zm-23 4zm3-2zm6-4zm-8-20zm-7-2zm-2-2zm29-10zm23 26zm-2-11zm-4-16zm-23-25zm15-12zm-4-20zm-27 15zm5-6zm2 5zm4 29zm-41-48zm6 2zm4-25zm-24-7zm-11-4zm-5-9zm21 6zm5-10zm24-18zm10 22zm18 12zm5-27zm-2 2zm31 26zm3-4zm6 27zm0-1zm-1-9zm28-8zm-2 18zm17-23zm65-35zm-9 15zm-17 9zm30 5zm-42 39zm-5 43zm-37-18zm9-4zm3-11zm2 6zm-11 0zm-15 2zm-11-1zm-12-24zm5 18zm1 24zm-5-5zm1 25zm-6-11zm0 20zm3 21zm27 8zm-11 12zm189 50zm-62-132zm-14-18zm17-11zm31 20zm-2-9zm3-26zm-55 8zm14-6zm-3-3zm14-31zm-17 0zm70 17zm-7 5zm3 12zm19-8zm86 3zm-4 1zm-4 15zm14 50zm-6-9zm21-58zm105-32zm-17 103zm11-40zm-23 51zm9 2zm5-2zm-395 165zm107 247zm2 4zm353-750zm-38-38zm-8 18zm-20-12zm11 5zm-110 7zm-5-4zm-4-24zm-14 3zm-17 22zm-25 0zm6 10zm0 31zm0-4zm36 4zm68 178zm-160-41zm21 2zm16-26zm4-35zm6 5zm-5-9zm-4-3zm-79 47zm9-14zm-29-3zm2 3zm3 74zm7-1zm-40 4zm-13-14zm-27-42zm-9 53zm-2-5zm-13 12zm-2-10zm9-2zm-12-8zm-9 12zm-3-5zm6-21zm14-24zm-2-11zm-2-13zm-20-1zm-26-2zm11 5zm8-3zm-2-20zm-17-2zm-5-14zm25 9zm9-9zm9 22zm18 2zm1-4zm26-8zm-13 10zm-6-11zm4 18zm-10 14zm1 3zm17 10zm43-74zm-14 11zm-11-14zm8-6zm-3-9zm7 3zm9-3zm-5-21zm-9-11zm-3 19zm-4 4zm-4-1zm-5 3zm-11 0zm13-15zm-6-5zm-14 14zm3 21zm-1-3zm15 9zm2 15zm-14-8zm-7-6zm-12-17zm-11 5zm-10 2zm1-5zm-7 20zm6 1zm-18-3zm-8 9zm-11 0zm-1-10zm4-16zm17-9zm-9-13zm-1-12zm32 14zm-6 0zm10 15zm-5-12zm13 5zm1-10zm2 2zm-8-3zm0-17zm3-7zm-15 10zm-6 1zm-28-1zm25-19zm-4-9zm5 0zm13-3zm42-25zm-16 24zm-3 4zm0 4zm8-1zm-6 10zm3-3zm1 5zm8 1zm9 8zm12-2zm9-50zm11-3zm52 15zm66 78zm11-9zm-4 3zm-3-41zm8 0zm-4-16zm-5 7zm-9 7zm3 10zm-13-20zm-3-13zm-5-1zm-5 5zm25-20zm-9 18zm-2 3zm13-4zm-1-7zm18 11zm-40-41zm-13 6zm-72-44zm7 14zm4 2zm8 0zm16 1zm12 5zm9 5zm-39 16zm4-4zm3-1zm-2-13zm-1 3zm-20 4zm-5 13zm-8 1zm-19-10zm18-8zm-22 15zm-88-228zm19-18zm15-3zm37 2zm17 1zm-6 5zm-19 8zm33-5zm-4-6zm13 0zm30 3zm16-4zm16-76zm-19-54zm-15 11zm2 12zm-8 22zm21-14zm-16 20zm-5-2zm3 16zm5 0zm0 21zm-5-6zm15 4zm4 0zm-1-8zm-1-10zm5-4zm9 4zm-6 2zm7 8zm-6 45zm-16 1zm0-6zm-16 1zm-16 7zm-16-44zm2 10zm-14-6zm1-11zm-15 1zm-7 9zm0 10zm6 8zm9 0zm14 24zm-35-14zm-2-10zm-21 13zm-15 11zm-6-21zm-3-5zm14-19zm-4-16zm18 27zm20-5zm0-25zm-12-4zm-20 3zm-26-14zm8 1zm5 4zm8-9zm0-16zm-22-19zm10-7zm4 1zm76 22zm-8 36zm3-2zm15-23zm7 3zm-7 4zm14-8zm12-6zm-14-13zm4 12zm-18-4zm1-17zm-4-6zm12-1zm17 11zm0-11zm-10-13zm-1 4zm-10-12zm-6-6zm6-3zm0 2zm4 0zm5 2zm2 7zm-2-17zm-1-4zm4-4zm11-5zm-6-2zm-4 0zm-8 12zm-42 6zm27 5zm-2 7zm-9 8zm-9 0zm-5 4zm-19-16zm5 6zm7-100zm-2 1zm-5 1zm10-8zm11 0zm8 12zm-5 8zm-4-1zm-10-4zm12 44zm23-37zm24-17zm-3-6zm20 29zm1-3zm22 21zm-16 14zm-7-17zm0-11zm1 13zm-8 31zm11-8zm-17 38zm16 7zm4-10zm-1-8zm-63-100zm-32-7zm-7 2zm-43-24z"/>
<path id="bd4" d="M813 511zm-50 74zm-23-3zm11 10zm-20-5zm60-55zm2-9zm35-10zm-26 62zm0 7zm-2-1zm9-2zm37 3zm9-5zm8 2zm-2 2zm34 21zm-8-15zm-15-29zm7-11zm-9 18zm1-3zm-13 9zm-5-17zm62 53zm-3-8zm8-4zm-20-7zm8 8zm-9 13zm7 4zm2-2zm12-2zm-3 9zm-55 67zm-5 4zm61 330zm-495-74zm0-11zm-5 0zm13-25zm-6-7zm-4-5zm-8 26zm-8-1zm-2-4zm5-4zm-19 3zm1-4zm2 8zm6 11zm17 22zm-16 13zm0 5zm-15 6zm5-1zm10 4zm-7-2zm11 12zm7-3zm-1-12zm-7-7zm15-6zm5-3zm-6 15zm-63 44zm15-26zm7-10zm-2-5zm0-8zm-4 4zm-3-4zm-39 13zm3 0zm-4 22zm24-2zm-12 4zm3 8zm-27-6zm0-3zm-7-9zm-2 7zm-11-11zm-1 14zm-1 5zm-6-3zm-15-8zm-13-5zm16-4zm-1 12zm11-20zm2-8zm-8 8zm-7-10zm13-3zm7-4zm5-2zm6 6zm-2 2zm-8 15zm16-6zm-2-1zm10-1zm-3-1zm4-5zm-2-4zm-7 4zm-1-6zm3-1zm2-11zm-3-12zm7-4zm-12-8zm11-10zm33-22zm-12 7zm1 5zm2 2zm-3 4zm-16 14zm7 17zm-3 3zm5-1zm31 3zm-5-68zm5-6zm0 2zm-15 3zm5 4zm-3 5zm78-24zm3 6zm-9 5zm4 14zm-175 108zm-7 2zm8 14zm-2 0zm5 47zm3-5zm-4-8zm-4-13zm3-6zm1 1zm2 1zm15-11zm10 26zm2-14zm-5 0zm16-6zm5-6zm15 6zm-4 2zm-13 22zm6 2zm18 4zm-10 8zm0 5zm-15 13zm-20-9zm14-9zm-18-12zm-10 16zm60 35zm-30-11zm0-6zm33-3zm1 5zm-1 4zm8-1zm16 7zm5 2zm-30 6zm33-10zm1-28zm0 3zm-25-19zm16 9zm-20-14zm29-25zm1 1zm4 16zm2-4zm611 506zm-74-64zm26-9zm26 2zm-8-16zm-19 11zm-11-9zm-12 5zm-2-12zm16-12zm-1 6zm-18-38zm21 3zm9 5zm-4-9zm18-1zm0 27zm24-23zm-4 54zm59-18zm-11-3zm-11-16zm-5 2zm6-10zm-4-11zm16-1zm0 6zm3-21zm-6-5zm-2-4zm-8 8zm6 11zm-19-3zm-5-7zm-1 10zm-3-7zm13-17zm3-13zm-10 8zm-13-5zm0-4zm47 0zm-4-1zm-3 8zm5-3zm-4-14zm13-24zm-4-2zm-3-1zm5-5zm-3-7zm-1-35zm-16 3zm-19 14zm6 4zm-2-16zm-2-1zm0-5zm-20 22zm10-5zm-4 8zm3 8zm4-2zm12 0zm2 7zm-6 6zm-3 6zm-6 3zm-1-5zm-2-1zm-13 5zm0-2zm-21 11zm-8 0zm12-23zm7-2zm-4-6zm5-4zm-3-25zm4 12zm-13-14zm-9 10zm3 11zm10-2zm-24 12zm-5-13zm7 0zm3-10zm-6-8zm-4 13zm-2-8zm-9 5zm0 4zm-6 8zm1 13zm0-1zm6 12zm3-2zm-1-6zm10 0zm2 13zm4 6zm6 2zm-19-3zm-5 4zm-7 3zm7 4zm3 27zm13 1zm-1-19zm-6 3zm10-14zm3 3zm3 8zm17 2zm13 5zm-14 10zm2-1zm-13-2zm10 13zm-3 0zm7-2zm6-1zm2 19zm-3 8zm-20-3zm-8-7zm-5-13zm-23-2zm7 5zm-4 20zm-10-30zm-5 12zm-7-4zm1-6zm-5-1zm-5 8zm-22 18zm-12-5zm8-7zm-2 7zm-7-22zm6-1zm23 1zm-28-2zm3-7zm7-1zm-11-20zm19 0zm8-1zm2-1zm11 5zm-2 3zm-1 14zm9 7zm-6-10zm11 8zm1 3zm1-17zm0-10zm-21-16zm9 3zm5-19zm14 7zm2-11zm-6-5zm4-26zm-22 8zm-2 3zm-4 9zm11 0zm-16 9zm2-3zm0-17zm-11 5zm-19 20zm2 2zm8 8zm12-4zm8 16zm-4 6zm-10-7zm0 7zm-24-3zm-24 0zm2-9zm10 2zm16-19zm2-3zm-3-11zm-7-11zm-12 5zm-4-1zm5 6zm-22 7zm2 1zm-3-11zm12 1zm-23 19zm1 4zm6 4zm6-7zm0-3zm11 13zm-19 14zm2 18zm-8-2zm-3 15zm12-12zm8 0zm-4 4zm9 9zm3-5zm-15-22zm24 3zm16-5zm6 5zm1 9zm-14-6zm-4 18zm2 0zm-1-3zm-13 9zm3 15zm14-10zm10-4zm-4 8zm4 11zm-7 5zm-12 5zm-17-5zm-3-9zm4-1zm-1-3zm-7-7zm-7-3zm-6 0zm16 37zm6-2zm23 18zm1 5zm-9 2zm1-11zm3-8zm-8 3zm5-10zm7 10zm3 0zm20 0zm-5 3zm2 3zm-4 4zm7-3zm13-5zm7 3zm2-4zm-3-6zm-6-4zm18 7zm18 10zm-12-2zm-12-2zm1 20zm2 9zm16-9zm8-3zm-16 21zm0-6zm-2 4zm-15 5zm-4-1zm-5-10zm8 1zm4 0zm-12-10zm-17-6zm55 39zm7 7zm-165-134zm10 27zm24 16zm0-24zm-1-4zm-5-3zm-14 8zm-1-3zm-1-5zm-3-20zm17 12zm8-14zm3-5zm-10-2zm0-12zm-4 2zm-3 1zm-3 7zm135-298zm0 7zm12 1zm1 8zm-23-10zm-2 10zm4 12zm-2-7zm21 11zm-6 2zm-6 14zm-12 0zm-2 3zm-6-7zm-5-13zm1-3zm-4 5zm0 37zm-3-9zm6-4zm15-2zm-5 4zm3 1zm9 0zm-5-5zm20 5zm-4 15zm2 4zm-18-9zm-9 7zm0 11zm16 0zm2 1zm12 15zm-5 10zm-22-14zm-19 14zm2-3zm10-16zm-8 1zm-9-2zm-5 4zm-3 8zm8 2zm-5 1zm-11 5zm0-9zm-11 8zm-7 1zm5 6zm9-4zm4 3zm3 5zm-14 28zm19 32zm-1 31zm18 8zm34-74zm-9 8zm2-1zm0-7zm-46 29zm26-34zm-9-3zm5 1zm-9-3zm-1-18zm7 0zm-3 4zm1 5zm9-11zm7 2zm6-1zm-1 15zm4 2zm11 7zm6-16zm10-5zm8-7zm-3 4zm-4 15zm5 9zm7-3zm5-3zm6-6zm-8-2zm-6-13zm42 8zm1 4zm1 10zm-1 5zm-3 3zm-2-6zm9 36zm-43-11zm-1-13zm-1 4zm-7-6zm-4-1zm6 18zm5 13zm1 17zm6 2zm10 18zm0 9zm6 11zm22-8zm-8-33zm-5-5zm10 2zm10-10zm9 9zm-5-12zm21 2zm-12 13zm12 10zm-1 4zm-1 1zm-17-13zm-6 4zm-2 12zm9 0zm1 5zm-6 3zm-1 0zm-2 9zm8-3zm5 14zm6-8zm-7-15zm4-7zm21 11zm-10 4zm3 9zm6-4zm4-4zm10 5zm-6-6zm7-14zm4-7zm-10 0zm-6 5zm-4-12zm4-11zm-7 6zm-4-5zm16 3zm11-2zm1-14zm-10 0zm-4-17zm-7 9zm-8 6zm-4-3zm-8-7zm-3 5zm-4 6zm-8-5zm10-5zm-11-6zm25 3zm-10-89zm-5-6zm-11-1zm2 3zm2 21zm-2 6zm5-12zm7 12zm-1 2zm3 6zm-17-3zm-2 9zm-5 2zm-8-5zm6-22zm-19 25zm-10 5zm0-6zm-6-2zm-6 1zm-10 7zm4-13zm-1 5zm5-6zm-13-14zm13 4zm5 0zm2 8zm2-1zm4-13zm-1-24zm24 13zm6 4zm-11-35zm-6 3zm-18 4zm-10-25zm7 5zm3 3zm-5-27zm-1-7zm-5 2zm-9 1zm3-11zm9 3zm-1-4zm14 7zm157 15zm24-12zm-5 2zm2 9zm3-5zm8 9zm3 0zm-5-24zm11 10zm-8 50zm-6-17zm-6 6zm-6 43zm-2 13zm-30 16zm-6-3zm13-2zm-18-1zm7 18zm-2 4zm22 9zm-45 57zm1-7zm21 5zm-8 0zm-10 20zm19-12zm16-16zm21 12zm15-61zm130-19zm24 5zm9 5zm-4-42zm9 3zm-3-4zm-2-13zm5 2zm0-9zm-5-10zm-5 8zm4 5zm-13 1zm0-1zm6-14zm-23 16zm3 0zm3 7zm-16-2zm-2 9zm6 5zm9 1zm-63-74zm5-23zm-1 15zm7 12zm15-27zm7 2zm5-3zm3 4zm24 6zm-6 18zm-18-7zm-3-4zm-2 15zm29 14zm2-4zm13-7zm-5 3zm-6 1zm11 12zm16 5zm3-5zm-10-19zm9-1zm-2-7zm-6-9zm-8 13zm-2-4zm-10-4zm7-9zm-2 2zm-2-12zm13 5zm20 3zm-4 12zm2 4zm7-1zm4-5zm6 1zm-3 9zm8-12zm17 5zm-6 8zm1 2zm-19 17zm7-11zm-10-1zm-5 5zm-8-12zm-1 27zm0 16zm12 3zm-3-9zm-3-4zm20 13zm-4-2zm-2 3zm-22 18zm1 4zm62-20zm-10 6zm0 4zm-18-3zm2-5zm3-2zm-7-5zm3-1zm13 1zm6-2zm6 2zm17-5zm16 5zm1 3zm-3 11zm-17 0zm-2 7zm1 5zm32-3zm19 9zm2-7zm-3-18zm-9 10zm-18 0zm2-2zm0-24zm4-1zm7 0zm3 0zm10-7zm-1-15zm-16 1zm0-13zm0 1zm-1 4zm-8 2zm13 11zm-27 12zm0-2zm-19-28zm20 7zm-4 0zm7 4zm2-7zm-1-9zm-11 2zm-11 1zm-1-5zm-1-8zm18-11zm2 2zm5 4zm14-2zm-2-2zm-3 5zm20 3zm-4 7zm-2 4zm14 1zm-1-20zm-2 3zm-8 3zm14-2zm11-3zm14-1zm-13 13zm-4-3zm-7 5zm1 2zm-1 13zm4 17zm9 1zm7-8zm-3 6zm10 0zm1-10zm-13-7zm23 14zm-8-20zm1-7zm6-7zm-3 74zm-10-17zm3-6zm-2-1zm-8 0zm2 11zm-18-11zm-2 6zm5 3zm-1 6zm7 0zm-12 8zm6 17zm9-2zm-4-3zm9 15zm-10 3zm-6-3zm-34 12zm-96 52zm-116 186zm-140-104zm-2 35zm18 13zm-11 32zm14 23zm-20 11zm-1 15zm10-6zm14 24zm10-5zm-2-18zm93-3zm21 144zm5 1zm324-556zm-63 16zm-11-3zm6-7zm4 1zm-13-19zm82-153zm13 10zm-119-52zm-109 69zm34 35zm-8-8zm-3 7zm-15-7zm-4-10zm-1-8zm-9 19zm9 23zm-3-8zm8 2zm-1 13zm4 4zm-10-3zm114 98zm-3 6zm-132-9zm-16-2zm3 12zm-10-8zm-11 7zm-19-16zm5-6zm16 4zm-21-17zm7-25zm24-2zm11-27zm10 7zm4-37zm-15-1zm-9-3zm6 11zm1 6zm2 4zm-3 4zm-5 0zm-4-1zm-3-1zm-4 5zm-5 0zm6-7zm6-4zm-3-20zm-15 4zm0 14zm2 1zm0 3zm-9 5zm1 8zm-4 10zm14-5zm13 0zm-8 6zm2-1zm2 8zm4 6zm-5 2zm-14 1zm4-3zm-4-6zm-14-1zm-22-20zm6 5zm3-1zm11 11zm3-3zm3-6zm-5-13zm1-19zm-20-2zm1 19zm-16-4zm-11-14zm-9-1zm1-2zm14 37zm-8 56zm0-1zm6-14zm0 12zm12-5zm1-5zm0-3zm-4-6zm-10-3zm40 13zm6 5zm-2 5zm-19-9zm-9-2zm2 11zm5 16zm2-2zm1 2zm-1-10zm13 11zm-2-4zm0 7zm8 6zm-10 5zm-11-3zm-8-11zm-14-12zm-1 4zm-44 23zm-1 1zm0-8zm-1-11zm8-9zm6 3zm1-13zm4-8zm-20-6zm4 12zm8-1zm-21 9zm-3-5zm-21 0zm13 7zm9 5zm4-2zm5 5zm-3 15zm-1 7zm-1-2zm-4 1zm-9-5zm-17-15zm0-5zm-1-3zm-5 4zm-6-5zm-5 25zm7-106zm-1-11zm23-1zm10 24zm-7 15zm4 14zm-6-3zm11 0zm11 6zm-6-10zm6-1zm-15-2zm1-4zm23-10zm0 6zm4 3zm-12 3zm3 11zm21 6zm-22-44zm17-4zm2-1zm8-4zm1-12zm-31-24zm-27 17zm3-1zm-17 9zm1-7zm45-86zm8 11zm-5 9zm9-2zm14 9zm-2-5zm-3-3zm0-17zm-8-11zm-3 5zm1-2zm-3-5zm26-16zm1 7zm-2 16zm2 2zm13-10zm-3-6zm12-13zm33 2zm-17 43zm8-7zm3 1zm-21 12zm-18 8zm10-19zm1-6zm-4 3zm-4 2zm-5-3zm-9 1zm11 30zm0 3zm7 13zm7 11zm-5-2zm-25 5zm4 4zm4 8zm-9 9zm22-2zm8 4zm-3-3zm-2 0zm2-11zm-8-5zm8-3zm4 4zm9-4zm-3 5zm-2 6zm4 3zm4 12zm9-11zm4-5zm6-13zm-5-6zm-2-9zm-20 1zm-1-17zm4 1zm0-2zm4 7zm21 2zm0-7zm24 1zm-13 28zm4-6zm-10-4zm0 23zm-2 16zm10-3zm9-7zm-3-6zm-1-9zm26 2zm-4 10zm-6 6zm0 2zm7 0zm3-4zm11 0zm4 6zm-3-12zm-3-3zm8-6zm-22-7zm-6-33zm-1 1zm-28-10zm21-33zm-17 3zm-6 1zm7-8zm1-12zm2 5zm5 7zm13-1zm-3-9zm14 10zm-28-15zm-4 0zm-40-17zm21-3zm6 20zm-16-4zm2-6zm-20 6zm-16 1zm-21-15zm14-304zm0 9zm23 39zm-2-4zm-8-2zm-14 6zm7 3zm-14-8zm-2 7zm4-1zm-3-19zm-4 2zm2-17zm-2 3zm-7-4zm-10 3zm-2-21zm18-9zm-20-99zm-5 15zm1-9zm3-18zm-26 6zm10 16zm-40-19zm14 12zm7 0zm-10-3zm-2-3zm6-3zm7 0zm-5-8zm-10-11zm49-23zm-21 8zm-9 6zm14 14zm4-3zm-1-14zm2 3zm-3-7zm22 1zm3 1zm2 9zm-8 7zm-3 3zm12 0zm-5-9zm14 0zm-6 7zm4 2zm5 5zm5-7zm0-11zm0-11zm-9-14zm-2-1zm-2 1zm-15 10zm11-10zm13-8zm7 28zm6 6zm0 9zm-3-5z"/>
<path id="bs4" d="M1000 219zm-3 20zm-42 79zm11-15zm40 68zm-9 0zm-48-18zm1-26zm-35 84zm20-17zm-3-4zm3-3zm74 41zm-9 15zm2-6zm-8 7zm-18-1zm-14 20zm56 1zm-5 16zm6 8zm-18 11zm-17 5zm-44 4zm-12-15zm9-12zm11 14zm-4-18zm-19-13zm-29 23zm19 0zm8 11zm-4 10zm-13 1zm-12-10zm-10-33zm-9-20zm18-15zm0-6zm-58-18zm6 3zm-6 21zm8-12zm-3-3zm14 12zm9 5zm-21-1zm-54 77zm7-6zm-14-1zm-3 5zm-12 126zm-5-8zm-17 4zm5-11zm-12 3zm18-6zm-1-13zm1-7zm7 3zm-12-50zm-9 18zm25 5zm1-12zm-2-1zm11-37zm-5-1zm17 53zm-2-2zm9-25zm-24 4zm4 4zm16 23zm3 4zm4 8zm-5 4zm-25 4zm7 24zm-5 13zm39-23zm0 1zm1 10zm5 12zm4 2zm0-32zm-8-1zm-1-17zm-8 3zm41-12zm-4 19zm-6-4zm0 10zm13 13zm16 19zm-3-25zm4 2zm3-3zm6 6zm5 7zm12-18zm-7-11zm-12 4zm-3 0zm6 0zm-8-9zm15 4zm10-22zm-4 5zm40-60zm-18 22zm-5 21zm0 15zm3 3zm5-9zm6-4zm1 12zm6-10zm0-12zm-11-1zm1-7zm28 6zm-5-2zm-1 23zm7 1zm-1-5zm6-2zm10-9zm-7-8zm-2 3zm6-18zm-12 10zm-4-1zm-4-5zm26 3zm9-12zm21-4zm-12 2zm37-2zm-5-1zm7 12zm4 10zm-5 3zm-56 0zm-26 69zm4-29zm2-11zm-13 7zm5 12zm9 10zm-22-16zm-11-6zm-1 3zm3-5zm9 48zm-20 16zm6-2zm-5 109zm-20-78zm6-5zm-5-6zm-8-17zm3 17zm-28-18zm-5 1zm-9-7zm11 25zm0 6zm-10 15zm20 12zm-25-6zm-18-52zm18 254zm0-8zm-7-33zm7-9zm9-6zm-7 16zm4 15zm1 1zm-5 18zm40-4zm-5-48zm1-4zm-35-2zm78-19zm28 15zm83 25zm-6 36zm-63-23zm-27 4zm3 35zm59 24zm12-5zm-4 17zm0-3zm13-7zm6 12zm-5 2zm-21 5zm10 56zm-30 12zm-28 4zm-9 1zm-4-4zm9-12zm-9 2zm26-40zm-58 50zm4-1zm-18-9zm-1-104zm-12 0zm-2 12zm-381 77zm-22 11zm11-8zm-11-12zm-11-4zm38 12zm-63-52zm5-27zm7 3zm-3-13zm-31-2zm-20 0zm5 23zm-1 6zm-2 10zm3 0zm1-5zm0 13zm-9 20zm8 24zm41-22zm-4 24zm1 2zm-66 11zm15-7zm-4-33zm-15 5zm-2-10zm-21 17zm9-9zm1-1zm3-8zm-8 15zm-6-1zm4 19zm-62-31zm28-16zm-15-2zm-4 15zm-7-1zm6-5zm-12-6zm33-33zm19-11zm21 7zm-7-6zm-14 39zm10 16zm14-9zm-5-6zm4 1zm-9-6zm-2-7zm15-3zm27 8zm-11-2zm9-14zm-12 6zm-8-2zm-1-8zm7-12zm-4 6zm-7 0zm24-6zm0-2zm-7-16zm-3-1zm-6-10zm8-11zm13 5zm0-9zm-46 16zm-13 18zm87-71zm-1-2zm-15 0zm-9 17zm19-3zm5 6zm-9 4zm1 16zm-3 0zm-4-12zm-6 9zm-1 7zm5 13zm16 11zm-7-25zm7 5zm19-5zm14 24zm-7-32zm-12-3zm-5-5zm8 6zm-7-20zm8 3zm23 8zm-206 135zm0 9zm-9 14zm3-8zm2-1zm3-1zm10 83zm-15-26zm-6-19zm27 53zm57 22zm-5-2zm0 9zm-22-9zm14 6zm-2-11zm7 1zm3-5zm2-4zm16 29zm30-4zm639 440zm-68-52zm6 24zm75-103zm-42-134zm2-2zm0-3zm-8-5zm-1 8zm-10-9zm-58 119zm-5 7zm6-8zm-21-7zm0 14zm-23-113zm-7-9zm-26 1zm-10-5zm-4 4zm-25 121zm9 18zm6 1zm27 34zm6-1zm44-49zm3 4zm-19 57zm-10-7zm-3-1zm3 3zm-122-110zm9 23zm5 2zm21 17zm-4-79zm-15 16zm-3 5zm84-255zm52-52zm6 2zm6-7zm-39 31zm-1 21zm2 5zm-5 32zm3-5zm5 8zm0 4zm0 4zm-5-1zm-39 11zm7 3zm-3-11zm14-1zm-13-9zm-2-5zm-12 46zm12-4zm1 3zm12 7zm-4 4zm12 3zm0 3zm1 7zm-20-3zm-2-9zm-4 14zm5 12zm6-1zm-6-6zm20 4zm1 10zm2 4zm-20 6zm0-5zm-1 69zm8-16zm6-32zm21 0zm1-11zm9 26zm-1-2zm-9 5zm-5-8zm-6 38zm4-3zm9-6zm-1-3zm7 8zm10-7zm-2-5zm-1-8zm17 7zm-13-1zm15 12zm14-36zm-13 4zm-3 6zm-5-4zm-1 5zm-6-9zm0-5zm10 4zm-2-19zm21-2zm-10-7zm9-3zm-21 4zm-12-7zm-19-4zm-9-11zm29-26zm75 33zm5 5zm-5-9zm-8 22zm-29-5zm9 8zm-5-7zm0 25zm-7 5zm13 17zm1 8zm-4 10zm15-9zm-6-1zm1-11zm21-32zm47-34zm-18-9zm17-13zm32 18zm6-27zm0-3zm0-9zm-1-5zm-17 6zm-8-8zm1 3zm7-10zm0 6zm-5-8zm6-6zm8 13zm11-2zm-1-27zm-44-11zm-1 6zm-6-4zm-4 6zm18 27zm1 9zm-4 12zm-40-19zm13-39zm-2-10zm0-23zm-5 2zm-8 3zm2 0zm-17-17zm-1-8zm0-8zm21 17zm5 5zm-3-24zm18-2zm25 7zm-22 17zm1-5zm-7 20zm2 13zm4-1zm19-5zm12-6zm24 7zm-12-7zm-7-33zm51-1zm-10 51zm24-24zm-5 24zm15 2zm-11-50zm-3 1zm-5 2zm-1-5zm4-8zm31-1zm41 9zm1-4zm5-2zm-3 20zm-4 6zm-1-12zm-1 24zm-41-7zm5 25zm5 8zm0 9zm-9 3zm5 3zm7-16zm39-3zm-17 23zm1-4zm-15 36zm-20-7zm-13 6zm-17-3zm-1-13zm6-6zm16 10zm-3 0zm1 4zm5-10zm-1 3zm-13-17zm-4-4zm-13 0zm-6-14zm-20 16zm-5 5zm5 8zm15-1zm-1 12zm-1 12zm-11-2zm-7 1zm15 13zm-11 31zm-4 21zm66-21zm187 34zm-11-88zm-37-27zm-6 13zm-4 8zm-6 21zm-20-64zm-14-1zm-18 2zm4-9zm2-5zm-3-4zm3-9zm14 13zm-15-16zm0-8zm-8-10zm20-3zm38 41zm3 6zm9 1zm1-4zm13-17zm87 17zm-46 61zm20-2zm8-14zm27-28zm15-23zm4-1zm1-36zm-5-3zm19-3zm82 54zm3 3zm3-29zm-6-8zm-2-22zm-1 95zm10-18zm-7-5zm-16 47zm-29 5zm-27 109zm-16-104zm-79 2zm1 21zm-18 134zm-13-28zm-21 28zm-187 6zm120 244zm317-546zm-14-6zm-10-1zm57-177zm-41-38zm8 16zm14-6zm-15 21zm-21-35zm-5-12zm-113 56zm31-56zm-29 44zm-13-3zm-15-10zm-6-25zm-34 7zm11 20zm15-3zm-24 12zm26 28zm1-7zm9-2zm14 42zm7 58zm37 74zm-68-50zm-11-4zm-10 0zm-23 47zm-15 0zm-4-12zm1-17zm-6-10zm38-34zm-73 10zm1-9zm-46-19zm-2 13zm4 7zm2-4zm-4 27zm1-14zm-2 5zm-6 1zm45 14zm-5-5zm9 6zm-51 9zm-69 38zm3-1zm-13-13zm-8 7zm4-3zm-2-7zm1 1zm-11 13zm-5 9zm17-28zm6-7zm9-19zm2-22zm-20-6zm2 15zm-10 0zm-4-6zm-22-12zm24-9zm-13-7zm-10 0zm-2-7zm8-14zm3 6zm11 4zm6 8zm5-3zm6 1zm8 10zm1-2zm7-4zm-3-1zm27-18zm5 4zm1 8zm-10 9zm-16-6zm2 9zm3 1zm-5 7zm0 29zm6-5zm56-46zm-23-23zm5 1zm-2-8zm4-13zm7 6zm-4 4zm6 0zm-1-38zm0 3zm-15 21zm-18 0zm-6-29zm-9 6zm0 6zm-3 9zm6 0zm9 14zm-2 3zm5 17zm6-7zm-3 6zm-7 6zm-34-12zm14 1zm-2-9zm-8 4zm-5-1zm-33 8zm0-11zm3 6zm1-27zm-15-6zm16-7zm28 9zm-8-6zm21 11zm-5-6zm-1-4zm-4-12zm8-24zm-4-5zm-22 25zm-17 3zm-14-1zm5-9zm3 1zm2-5zm20-7zm52-20zm8-1zm-7 12zm-18 11zm16 4zm0-5zm18 13zm-3 9zm12-52zm-8 4zm-5-1zm5-12zm8 3zm23 0zm51 15zm5 3zm-4 2zm-11 5zm-3-2zm77 72zm0-15zm-15 5zm-6-12zm7-11zm10-11zm7-3zm2-16zm3-4zm-40-1zm35-8zm-23-30zm-11 0zm-22-2zm3-9zm-52-29zm0 11zm11-10zm20 5zm-10 7zm8 2zm-24 10zm-15-3zm-5 14zm12-6zm-37-10zm14-3zm-33 28zm-54-254zm39 0zm15-1zm40 29zm-22-22zm3-3zm12 11zm21-137zm-10-6zm6 20zm2 15zm6 1zm-8 23zm7-11zm-7 25zm8 10zm5 4zm4-4zm-4-6zm15 13zm4 15zm-19 22zm-13-5zm2 3zm-33-5zm1-23zm-15-28zm-27 3zm6 8zm10 16zm6 7zm3 11zm-28 10zm0-8zm-7-17zm-2-3zm2 10zm-13-8zm-4 6zm-1 3zm7 20zm-7-2zm-20 0zm6-29zm1 3zm2-7zm2-4zm-11 4zm-6 0zm4-10zm41 2zm3 5zm4-10zm-5 0zm-3-24zm-3-7zm-3-10zm-4 18zm-17-10zm1-19zm42-15zm-6 17zm4 20zm2 8zm10-2zm9-8zm0-11zm20 10zm-13-2zm29-3zm-14-14zm-1-2zm-4-7zm-1-13zm9-3zm3 8zm10-12zm-3-9zm-8 10zm-15-4zm-2-12zm24-4zm4-33zm-16 10zm-38 22zm5-10zm10 6zm2 5zm-8 5zm2 1zm4 4zm-29-8zm-7-4zm-2 6zm-15-4zm-7 20zm-5-14zm10-41zm-1 22zm14-5zm9-1zm-7-52zm-4-25zm-9 1zm26 14zm-1-8zm-6-4zm3-7zm8-1zm24-3zm-8 15zm-3 11zm-13-8zm5 9zm28-29zm5 2zm4 0zm25 9zm3-1zm0 8zm9 33zm10 2zm-3-14zm-2 4zm-10 14zm-10 3zm4 16zm11 13zm-5-5zm-7 23zm9 13zm-18-123zm-3-6zm-2 7zm-11-8zm-34 7zm-4-5zm-7 2zm-3-2zm-17-12zm-8-4zm-19 3z"/>
<path id="bd5" d="M870 476zm-48 34zm-5-1zm-54 70zm-17 12zm-3 4zm-8 7zm55-60zm7-27zm27 0zm-1 16zm-17 26zm13 9zm-4 9zm-8-4zm4 12zm3-6zm39 12zm5 5zm33-2zm-4-9zm7 5zm1-8zm-2 1zm-4-2zm-9-26zm-3 6zm-37 3zm14-3zm10-17zm21 0zm44 54zm-3 4zm-13 7zm13-13zm-15-1zm4 21zm-50 73zm-22-10zm9-3zm7 0zm1 8zm-5-1zm-6 6zm4 2zm61 333zm-7 1zm-479-69zm-6-2zm-3-6zm-3-18zm-21-11zm18 38zm-1-1zm-13 15zm-15 16zm19-9zm12-8zm-4-1zm2-4zm4-1zm3 5zm10 2zm-10 13zm-19 29zm-44 12zm2-29zm10-6zm9-14zm-11 7zm-38-20zm-5 6zm0 2zm2 25zm10 19zm8-4zm-24 0zm3 6zm-4-8zm-2-14zm-3 5zm-16 7zm-21 9zm-13 7zm-3-11zm-4-10zm6-2zm3 0zm7-2zm3 4zm9-8zm1-15zm-13 10zm-13-6zm17-10zm15-9zm0 14zm-2 4zm9 11zm15-1zm0 1zm-3-41zm17-43zm11 16zm-8 2zm-4-8zm-2 7zm-4 0zm3 34zm32-73zm10-8zm55-8zm-167 119zm-8 6zm5 4zm2 6zm0 7zm-7 6zm6 36zm-8 0zm3-18zm5-11zm3 1zm3 3zm8 0zm-2 4zm4 5zm-12 15zm31-25zm10 11zm4-9zm3-5zm4 4zm0-3zm4 14zm0 12zm-13-1zm-7 3zm9 13zm7-1zm3 12zm4-5zm1 7zm-3 1zm-23-4zm-17 8zm2-9zm9 3zm2-16zm-3 0zm-1 1zm-4-2zm-13 9zm0-11zm0 3zm-4 2zm14 24zm2 3zm45 7zm11-8zm9 13zm9 4zm-23-1zm45-44zm-5 3zm3 4zm-10-8zm-5 12zm9-1zm-18 3zm0 3zm-18 7zm11-26zm2 7zm9-7zm-3-5zm-4-14zm1 5zm-5 4zm-14-1zm19-16zm2 7zm1-7zm6-7zm1 15zm12 4zm3-5zm599 498zm3 6zm7 5zm9-2zm3-8zm13-47zm-15 0zm-23 6zm-10 17zm-37-16zm-8-1zm-12-2zm0-7zm1 2zm6-17zm26 3zm1 5zm4 13zm7-46zm-3-5zm-19 23zm-24-4zm20-10zm6-6zm2-20zm-11-1zm-12 11zm-7 2zm2-6zm0-1zm19-20zm21 4zm5 13zm-5 1zm11-10zm-1-9zm11 1zm8 6zm4-7zm7 5zm7-3zm-8 6zm5 9zm6 8zm-27-1zm13 9zm0 24zm21-14zm24 2zm0-53zm-7-1zm8-6zm-6-15zm-17-4zm-1 2zm-3 4zm-1 7zm-6 14zm-12 2zm-2-5zm-9-2zm9-2zm-12-10zm6-6zm-4 3zm1-3zm25-11zm1-8zm-23 6zm3-9zm-5-3zm14-3zm17-4zm-2 5zm19 15zm11-31zm-24-1zm-2-1zm2-15zm12-2zm-2 1zm0-20zm7-3zm0-13zm-16 8zm-6-9zm-2 19zm12 2zm-8 1zm-18-11zm-18 0zm4 31zm6 0zm5-5zm-6-6zm10 1zm12-2zm-10 12zm7 14zm1 3zm-17 0zm-2 1zm1-10zm-10 6zm-9-7zm-1 4zm-16 8zm-3-7zm7-24zm16 8zm-1-2zm-2-3zm-6-12zm4-12zm-21-5zm4 3zm-7 17zm-9-4zm-2-5zm-5-16zm-4 39zm13-3zm0 17zm-1-5zm-14 2zm-6 15zm8 5zm-5 19zm14-9zm1 3zm3-11zm21-3zm-3 0zm15-1zm5 10zm-12 7zm14 8zm-18-2zm0-9zm-4 0zm-5 14zm5 13zm2-13zm15 12zm-5-4zm-5 8zm-8 2zm-22 11zm4-28zm-13 9zm-4-4zm1 12zm8 6zm-18 4zm-1-21zm3-3zm-18-2zm-9-1zm-19 15zm-9-1zm-4-2zm27-12zm0-6zm-9-8zm-5 6zm4 4zm-16-9zm5-1zm-4-13zm19 8zm23-12zm-15 5zm11 22zm3-7zm13-30zm3-4zm-13-2zm5 9zm-2 2zm-8-5zm-6-5zm-1-6zm-1-12zm17-1zm3 12zm7-16zm-9-6zm2-12zm-10-8zm-11 14zm12 4zm-10 10zm0-5zm-5 0zm-8-1zm0 4zm-15-18zm4 10zm-8 21zm12 1zm5 15zm-13-10zm-5 15zm-23-5zm-2 5zm-6-11zm9-5zm-7-2zm10-3zm-5-28zm-9 3zm-9 6zm-22 11zm10 4zm17-2zm-12 5zm6 12zm1 9zm-15-11zm0 2zm-4-1zm-3-4zm3 10zm-1 22zm8 13zm-6-8zm14 1zm1-18zm9 9zm10-12zm16 8zm-5 3zm-3 10zm6 7zm-14-4zm-2 18zm1 4zm5-10zm-5-4zm18 0zm-2 11zm-3 6zm-20 8zm-2 5zm-8-11zm7-7zm-1-3zm1-8zm-3 0zm-9-2zm-16 13zm5 14zm17 18zm-2-2zm38 39zm-5-10zm6-7zm-5-2zm-16-7zm-2-9zm-7-7zm3-7zm12 3zm16 2zm-5 1zm8 24zm7-1zm10 0zm-2-21zm0-7zm24 13zm15-4zm-6 9zm13 1zm-3 6zm0 3zm-6 1zm-3-5zm-11-5zm-3-3zm-2 1zm12 23zm15-2zm-9 10zm1 7zm-8 5zm-12-9zm0 4zm-4 1zm-14-3zm10-23zm-9 0zm-8 1zm1 4zm50 31zm0 5zm-7 2zm-125-89zm4-8zm-17-18zm-4-3zm-3-16zm11-2zm1 2zm14 1zm-14-21zm8 1zm-13 7zm1 4zm115-294zm-7-1zm26-15zm12 1zm-11 20zm-7-6zm3-4zm-12 2zm1 5zm6 22zm5-12zm13-3zm-35 16zm-3-12zm6 50zm-2-2zm32-13zm-10 9zm7 1zm6 13zm-9-2zm-4-2zm-9-5zm0 3zm0 20zm23 5zm-13 13zm-7-2zm1-1zm-4 2zm-21-13zm5-11zm-11 2zm-5 14zm-11 10zm-1-6zm-9-7zm4 9zm-9 1zm28 86zm46 21zm-2-3zm3-60zm7-1zm-22 4zm1-7zm-4 1zm-2 7zm-7-12zm-9-8zm-12-8zm4-1zm-11-7zm6 0zm-2-6zm13 11zm9-5zm4 1zm8 0zm2 19zm0-12zm16 11zm-8-12zm27 9zm7 7zm11-9zm-7-14zm38-4zm-4 3zm-1 7zm-8-1zm-31 45zm4-9zm5 3zm-15-7zm-3-3zm1-4zm17 32zm-2 3zm7 4zm-13-2zm13 32zm2-9zm5 14zm9 8zm4 3zm4-12zm-4-14zm11-1zm1-16zm-3 3zm-10-1zm4 12zm-21-4zm3-7zm0-9zm17-3zm8-2zm10-2zm-2 10zm8-10zm9-2zm-1 10zm-13 13zm-8 8zm9 3zm-7 6zm0 7zm3 11zm12-11zm6 3zm-6 12zm6-4zm6-9zm-7-12zm9-5zm1 4zm11 2zm-11 2zm7 13zm3 8zm9-10zm-2-9zm1-5zm13-10zm-8-6zm-20 6zm1-11zm7-3zm-7-8zm0-6zm4 4zm13-2zm8 13zm1-1zm-9-20zm-7-11zm-11-5zm-1 11zm7 3zm1 7zm-13-2zm-12-3zm-8 4zm1-10zm-7-19zm25 10zm-21-40zm41-19zm-35-28zm-4 3zm1 3zm-9 3zm2 14zm8-10zm5 22zm1 6zm-29-19zm-13 12zm4 8zm-19 0zm-17-9zm7-7zm14-30zm14 11zm-1 2zm-33-42zm5-22zm-3-2zm-10-5zm12-2zm0 2zm175 10zm3-3zm-6-4zm4-14zm22 13zm8-13zm-5-10zm-2 62zm4-12zm-2-11zm2 3zm-14 0zm11 39zm8 10zm-3 5zm-12 2zm-6-2zm-38 30zm3-4zm-11-1zm13 20zm7-12zm-44 63zm5 12zm-1-4zm10 3zm1-5zm10 18zm-25-4zm6 3zm8 28zm-7-3zm18 6zm-10-19zm15-1zm14 6zm11-23zm-14 7zm-6-5zm16-12zm49 31zm135-127zm-12-4zm17-2zm14-5zm-4-14zm-18 11zm-23-2zm13-8zm-16 9zm13 15zm2 4zm-13 11zm-2-3zm-17-76zm-10-7zm-3 10zm-4 0zm1-11zm-5 7zm-13-9zm17-16zm-9 6zm11 4zm-4-4zm7-2zm1 6zm8-1zm3-7zm-2-2zm-4-1zm-7-5zm4 3zm0-8zm5-3zm8 10zm13 2zm-3-8zm6 3zm8-7zm-1 9zm-5 5zm5 13zm1 1zm-22-12zm-1 26zm44-6zm-12 21zm12-8zm3 6zm9-9zm2-25zm-23 1zm15-22zm-5 13zm3 1zm12 1zm2-11zm11 0zm2 8zm-5 17zm0-8zm48-21zm-1 16zm-13 14zm-2-14zm-5 5zm0 40zm-5-4zm-8 4zm-7-1zm7-7zm-2-4zm8-5zm-5-9zm-3 6zm-4 4zm-2 2zm-5 9zm5 5zm-10 13zm3-4zm22-6zm-10 11zm-2 6zm3 4zm7-3zm-2 6zm-4 1zm-14 6zm3-13zm-8 6zm0 4zm56-8zm-12 7zm-15 3zm14-13zm-4-6zm-4-3zm26-7zm1 5zm5 6zm4-9zm20 3zm-11 12zm1 4zm8-2zm-12 5zm-1-9zm-9 2zm1 7zm4 7zm5 18zm9 13zm5-8zm-8-21zm3 4zm6 0zm15 4zm-6 14zm2-5zm12 11zm9-9zm-12-7zm-3-19zm6 1zm-11-3zm-3-5zm-4-9zm20-42zm-4-1zm-3 14zm-3-11zm-5 3zm-4 11zm2 12zm-7-4zm-4 4zm3-7zm-14-4zm-7 10zm0-23zm11-3zm-3 2zm12-20zm-5 2zm-2 4zm-6 7zm-10 2zm20-21zm17-10zm-4 16zm22 6zm2-16zm31-2zm-5 2zm-5 21zm-19 3zm13 2zm-10 15zm20 4zm-4-11zm0-5zm26 1zm-15-24zm4-2zm3 61zm-6 11zm5 6zm-4 6zm-3-1zm-9-3zm3-4zm-8-21zm-6 25zm3 1zm-13 0zm0 19zm3-5zm11 1zm-5-7zm-2-1zm13 6zm-2 4zm-19 4zm-82 21zm-155 366zm0-27zm21-18zm13-1zm-13-16zm-136-133zm-24-46zm1 2zm-7-1zm5 6zm-3 8zm23 37zm-14-2zm-11-2zm3 8zm-3 28zm11-6zm10 14zm-6-26zm13-2zm-2 61zm-23 8zm2 5zm11 0zm8 5zm-1 14zm-6-2zm-5-6zm-5-3zm20 16zm6 5zm5-35zm29 7zm40 119zm10 9zm11-2zm333-557zm-37 3zm-31 17zm20-7zm-14-27zm0 4zm9-23zm-7-11zm59-43zm31-37zm-15-20zm10-13zm0 4zm0-11zm2 4zm-18-7zm-149 63zm52-92zm-52 20zm-8-1zm1 74zm-40 1zm-3-9zm-3 0zm-9-13zm-4 3zm2 4zm0 8zm8 0zm4 2zm0 12zm-5-1zm-6-3zm2 6zm6 10zm12-1zm-15 21zm-5-3zm1 7zm1 7zm54-22zm-26-16zm20 3zm-2 1zm37 27zm10 44zm8-1zm16 17zm-4-3zm8 12zm-89 21zm-1-6zm4-1zm-4-42zm-36 29zm4 16zm-9-1zm-1 3zm-8 1zm-6-8zm-5 5zm-13 1zm3-6zm-4-2zm-8 5zm-13 1zm2-7zm-2-13zm9 2zm24-60zm1-4zm7 1zm3-7zm13-26zm-14 4zm-33-1zm-14 17zm21 10zm6-4zm3 11zm-4 14zm-12 0zm-11-4zm-5 6zm-1-2zm-8 4zm-13-21zm-5-3zm-4-2zm27 11zm-9-23zm9-14zm-8 1zm-25 17zm-4-7zm1-3zm-5-10zm-5 20zm5 5zm-10 36zm14 12zm-2-5zm1-8zm14 8zm6-5zm17 0zm-8 6zm7 9zm-19-2zm-4 28zm9-13zm10 21zm1 8zm-7-7zm-23-11zm4-2zm3-9zm-23 8zm-12 6zm-28 1zm14-3zm-6 0zm-8-2zm2 1zm0-9zm20-4zm-4 11zm3 4zm1-5zm6-11zm-6-9zm3-15zm-17 0zm-3-4zm2 8zm-4 11zm4-6zm-9 5zm-27-6zm-1 2zm-2 2zm9-3zm2 3zm-5 10zm-6-2zm16 22zm-19-15zm-6 0zm5-17zm-17-78zm18 11zm-11-8zm30-4zm11 27zm-5-5zm-10 13zm0 17zm-2-6zm12-1zm-1-5zm-1-4zm-3-4zm7 1zm1 1zm9-3zm7 11zm-4 1zm-2-3zm7 17zm19-7zm-12-10zm3 0zm0-5zm8-1zm-9-13zm-2-1zm4 6zm-10-4zm-5 6zm4-10zm5-6zm2-9zm-13-33zm26 6zm-26-11zm-8 4zm2 10zm-3-1zm-4-3zm-4-1zm-5 21zm-11-4zm0 5zm-17-10zm42-75zm4-3zm3 0zm0-2zm0 13zm8 6zm2-6zm4 3zm12-22zm-2 0zm-8-7zm3 2zm-15 1zm34-19zm2 23zm-1-12zm6 8zm3 4zm16-30zm17 5zm8 8zm-21 8zm-7 17zm27 19zm-18 0zm-14-4zm-17-12zm3-7zm-5 2zm-4 39zm22 0zm5 0zm-9 11zm3 3zm-19-9zm2 27zm6 2zm-11 12zm12-6zm6-5zm-3-13zm14 0zm4 19zm19 4zm6-1zm-9-13zm5-5zm-4-12zm-17 5zm19-16zm32 9zm1 2zm-21 2zm12 5zm-12 8zm27 14zm-5-7zm-2-3zm-6-5zm5-5zm12 9zm4 17zm-2-2zm4-8zm10 0zm-2 5zm7 2zm8-8zm-2-5zm-2-3zm-41-55zm-5 5zm6-14zm-10-10zm-4-18zm-5-6zm26 1zm11 4zm-33-17zm-20-6zm7 1zm-19 2zm-8-21zm-13 24zm-11-315zm3 0zm-5 13zm21 14zm5 0zm-3 8zm-6 1zm-15-1zm-3-2zm3 18zm7-2zm-18 8zm-2-6zm2-28zm0-15zm-16 6zm-3-9zm-7-12zm25-11zm-5-1zm-8-91zm-24 2zm4-17zm-23 13zm5 1zm-8-8zm-7-14zm-3-5zm12-6zm-4-9zm-13 4zm36-12zm-18 14zm1 8zm1 7zm20-4zm8 4zm-1-2zm-4-9zm-8-4zm4-9zm6-1zm13 10zm3 5zm13-11zm5-12zm-21 4zm27-12zm2 12zm-1 22zm-4 5z"/>
<path id="bs5" d="M1014 230zm4-3zm0 4zm-7 21zm-28 3zm-22 48zm4 10zm7 11zm18 3zm30 25zm-48 1zm-9 10zm-6 7zm-28-12zm24-17zm1-13zm5-3zm-53 83zm-7 14zm6 3zm25-23zm-2-10zm3-4zm56 14zm10-10zm9 7zm12-7zm-3 8zm2 0zm-3 32zm-25 10zm-1-19zm-22 46zm-18 31zm-13 4zm-6-45zm3 8zm-6 5zm-10 12zm8 0zm2 11zm-17 15zm-2-2zm-11-11zm-9-4zm-8 1zm0-10zm-2 19zm-37-10zm32-37zm21 2zm-5 4zm6-20zm-26-3zm2-14zm24-15zm-60 9zm13 2zm-6-2zm5-2zm-58 69zm-5 21zm-11 4zm-28 107zm-2 5zm-1-5zm20-15zm-1-26zm-45 44zm9-7zm-13-70zm22 9zm2-3zm8 21zm4-6zm9 8zm9-24zm3-16zm18 40zm5-4zm-2-2zm5-14zm-23 4zm-3 31zm13-8zm14-1zm-13 18zm-12 6zm4 2zm20 25zm-2 1zm3-22zm13 10zm4 18zm9-18zm-4-8zm12 1zm-9-18zm-13 10zm2-5zm-7-8zm38-2zm1-12zm9 17zm-1 9zm-16 1zm26 28zm-10-10zm30-3zm-9 0zm-2-2zm1 17zm6 2zm8-8zm6-26zm-3-4zm0 2zm-2 5zm-5-5zm-5-7zm-10-9zm37-68zm5 9zm-1 23zm1 4zm7 18zm32-2zm1-21zm10 0zm-2-15zm-15 4zm-5-11zm-2-13zm16 1zm-4 12zm8-6zm38 8zm-4-9zm19 22zm6 17zm10 7zm-92 53zm5-3zm14-35zm-17 11zm7 4zm-2 9zm-20-26zm2 12zm9 41zm-5 4zm0 3zm-12 2zm-4 10zm16-7zm-2 3zm-30 54zm-12-3zm-10-15zm-1-9zm25-8zm-9-1zm12-11zm-15-12zm2 12zm-8 1zm-12 16zm-4-1zm-1-7zm-19-2zm-3 19zm5-2zm9 26zm-10-13zm0 12zm-11-41zm2-10zm-9-5zm-3-3zm0 3zm9 225zm24-36zm6-2zm-11 42zm1 5zm29-14zm-1-10zm3-4zm-7-10zm17-3zm-22-15zm5-3zm-5 4zm-18-6zm7 9zm125 6zm39 27zm3 6zm-6 3zm4 6zm3 2zm-2 9zm-81-3zm-44 4zm111 18zm9 1zm-23 20zm12 24zm-44 7zm2 27zm34-19zm4 9zm-2 28zm2 10zm-79-12zm4 5zm0 6zm-17-3zm-460-15zm11 3zm16-10zm-7 0zm-17 0zm6-5zm5-1zm20 1zm-35-77zm-13 31zm6 1zm4-7zm-5-17zm-52-7zm-2 17zm14 32zm-9 20zm39 0zm4-9zm11 9zm-54 22zm-3 16zm-20-2zm2 4zm2-50zm-17 2zm3 8zm-22 11zm4-3zm-1-4zm5 3zm2-21zm-12 26zm9 12zm-74-26zm-9 2zm1 1zm36-33zm5 17zm-17-10zm3-26zm56-21zm3 18zm-3 4zm-19 11zm9 2zm8 15zm8-23zm5 7zm-2 13zm22-5zm-3-15zm9-10zm-24-6zm3-16zm11 6zm1 2zm9 1zm1-14zm-4-3zm3-21zm-5 0zm-3-7zm-2-18zm-10 17zm-17 15zm-2-2zm-11 10zm85-65zm1 13zm-14-10zm-8-6zm3 7zm1 7zm-2 9zm-1-4zm15 1zm4 18zm-4 6zm-1 4zm-2-1zm-19 15zm12-7zm35 20zm1-14zm-1 2zm-13-21zm2-10zm-175 122zm1 4zm-4 10zm-14 29zm-16 45zm22 1zm-12-17zm5 6zm68 27zm-34 12zm3 10zm11 1zm5 18zm20-1zm8-17zm8 20zm6 13zm55 4zm-28-23zm12-83zm612 531zm-14-14zm-37-35zm-12-7zm99-72zm-15 6zm-34-147zm0 2zm-67 103zm-15 6zm0-7zm-8 7zm-21-113zm-9-8zm-6 0zm-5 8zm-6-4zm-27-2zm-2 5zm0-2zm-10 141zm9 15zm27 19zm40-45zm16-1zm-29 61zm8 3zm5 0zm17 14zm-8 1zm-148-133zm35 44zm-28-69zm91-260zm45-39zm8-7zm12-4zm-41 46zm-8 1zm3 2zm-3 2zm1 15zm4-2zm1 8zm-1 20zm12 5zm-16 2zm-18 12zm-17 10zm6-17zm-5 6zm5-10zm16-7zm-10 0zm1-8zm10-15zm-1-7zm-14 73zm10 8zm3 5zm-25-6zm4 15zm14 23zm3-2zm-41 74zm30 1zm4-7zm10 0zm2-16zm-4-3zm1-18zm24-15zm-15 18zm3 6zm4 20zm36 5zm5-5zm10 2zm-14-19zm-14-6zm11-9zm11-10zm2 8zm-3-25zm1-7zm-19 9zm-16-1zm-14 3zm25-14zm-26-19zm91-12zm15-10zm13 45zm-10-4zm-45 9zm3 18zm7 18zm-3-5zm-1 15zm20 13zm-5-11zm41 22zm47-89zm0 4zm6 8zm-45-20zm23-19zm10-6zm2 15zm4-4zm5-15zm-8-15zm-6-10zm10-9zm-13-23zm4 27zm-28-18zm7 25zm4 13zm1 4zm5 7zm-57-51zm18-32zm-16-9zm-5 5zm-5-20zm-11 10zm26-23zm-2 8zm-7-1zm13-9zm16 0zm22 18zm-7 10zm-8-13zm-4 37zm-3 3zm17-21zm44 6zm-15-16zm35 23zm0 6zm20-15zm23 15zm3-19zm-14-19zm1 3zm1 7zm-11-3zm3-15zm-6-7zm16 7zm5-8zm-1 0zm8-1zm44 8zm9 10zm-10 7zm7 10zm11 4zm-24 23zm-5-1zm-5-3zm-21 15zm-5 17zm15-12zm-1-2zm13-12zm3 1zm6 12zm-2 8zm-2 17zm16-7zm-47 5zm-34 11zm13-3zm-5-5zm-7 4zm13-8zm15-18zm0-16zm-14-2zm-3 10zm-12-7zm1 4zm-3 21zm-24-25zm5 21zm-5 4zm-6 10zm19-3zm5 0zm5 6zm-17 20zm-1-5zm-10 29zm-2 1zm14 8zm4-11zm5 2zm35-15zm-23 25zm0 1zm6 0zm-4 24zm-14-2zm10 10zm149 44zm23-26zm27 18zm-8 16zm15-67zm15-49zm-1-2zm-3-21zm-46-35zm-7 1zm-3 15zm7 23zm-11-10zm-12 9zm-47-39zm14-4zm39 23zm3-6zm2-13zm-13-8zm4-13zm-5-1zm-12 0zm-21 10zm-12 6zm6-16zm5-8zm-4-14zm-5-2zm8-9zm-10-1zm26-11zm0 1zm50 37zm1 6zm-5-2zm-6 15zm20-17zm-5 1zm108 17zm-33 45zm-6 2zm39 8zm2-60zm14-43zm105 37zm1-10zm-11-9zm3 58zm-1-19zm0 3zm-2 9zm-4 12zm-2-1zm-15 32zm-19 5zm-34 116zm9 9zm13-117zm-18 4zm-40-11zm-5 35zm-22-6zm68 97zm10 11zm-160 208zm28-185zm-7-3zm-2-6zm-8 5zm-5 2zm3 19zm-213-20zm110 146zm3 102zm328-544zm0 6zm-8-2zm20-178zm24-31zm-2-9zm-13-11zm10 21zm-13 7zm-3 2zm-15 10zm-6-9zm3-10zm-1-2zm-6-33zm-6 7zm-11-14zm-5 1zm-4 7zm-18 19zm-72 53zm-2-5zm21-56zm-8-17zm-28 55zm-14-7zm20-17zm-1-33zm-13 12zm0 16zm-39-10zm3 14zm-3 5zm-1 7zm9 2zm15-11zm-19 24zm-4 3zm0 5zm12-4zm-3 9zm4-1zm30 5zm-6 19zm19 10zm2 18zm-44 53zm27-6zm7 14zm11-24zm48 75zm6-2zm-87-30zm-42 35zm-5-15zm-7 11zm-18-5zm9-6zm-8-7zm2-1zm-3 5zm-12-3zm-4-7zm6 1zm5 1zm-15-9zm42 0zm-10 6zm27-3zm-5 0zm-2-1zm1-3zm9-5zm-3-11zm-8 0zm7-19zm-73 21zm-7-8zm3 2zm-36-33zm0 40zm4-5zm-10 14zm1 8zm8 5zm13 39zm-4-1zm-7-5zm-15 0zm-21-12zm-14-27zm-20 38zm-11 11zm1-7zm-12 6zm-7-16zm-8 15zm-10-13zm-3 11zm-2 4zm-15-8zm45-40zm4-10zm4-5zm-1-8zm-4 5zm0-9zm-3 0zm6-10zm-21-3zm5 10zm4 0zm-41-4zm-3-4zm30-6zm-7-18zm15-7zm-3 18zm4-2zm53-14zm-5 9zm5-2zm-14 0zm-14 16zm2 1zm25 25zm7-58zm15-19zm-4 9zm-10 5zm6-14zm10-23zm2-19zm-9 9zm-6-2zm-1 1zm2 2zm-16 1zm-6-9zm-3-2zm-10 32zm5-5zm8 21zm7 2zm0 6zm-11-13zm-14-11zm-11 2zm-17-8zm0 20zm6-4zm-26 9zm-14-20zm5-36zm31 8zm14 10zm0 5zm1-17zm-2 0zm-29-21zm0-14zm2 7zm66-41zm1 12zm2 7zm-20 5zm-2 7zm1 7zm4 16zm13-10zm-1-4zm7-6zm1-3zm6 25zm17 2zm-3-43zm-2-1zm-13 7zm3-6zm4-1zm-8-15zm7 0zm16 9zm7-9zm56 14zm16 63zm1 1zm3 0zm0-11zm38 31zm5-3zm4-3zm-1-5zm-23-2zm3-4zm8 0zm6-32zm7-5zm-18-2zm-6 3zm11 7zm-16-48zm12 20zm-2-2zm9-2zm-50-35zm-62-45zm24 23zm18 9zm0-5zm16 14zm-59 5zm5 2zm7 2zm-9 2zm-7-4zm-6 0zm-23 10zm3-23zm24 3zm-118-163zm14-66zm67 1zm27 1zm10 7zm-2-14zm10 12zm17-6zm146 248zm-148-353zm-1-10zm-10-14zm-3 38zm24-1zm-11 11zm-4 28zm9-12zm4-5zm8 29zm5 7zm4 2zm-7 16zm-9 2zm-3 5zm-6-7zm-31-5zm-6 8zm-6-9zm4-1zm8-11zm0 9zm-14-20zm-13-1zm-8-22zm-3 7zm-13-9zm2 13zm9 12zm-4 8zm0 11zm6 1zm6-9zm2-2zm2-3zm5 15zm0 12zm-44-1zm9-23zm-7 0zm3 10zm-13 6zm-23-3zm-9-11zm27-32zm9-3zm11 18zm-6 8zm2-21zm7-4zm-4-7zm0-12zm4 5zm2-14zm-22 12zm9-1zm-10 13zm-6-1zm-1-11zm-12 2zm9-44zm47 1zm21 0zm-8 19zm10 13zm23-2zm-2 1zm8-11zm0-5zm-22 4zm2-6zm13-20zm2 9zm-4-22zm1 4zm-21 5zm12-18zm0-11zm12 12zm-2-27zm7-1zm-54 7zm-6 0zm20 7zm3 30zm-21 1zm-13-6zm8-20zm-19 11zm3 10zm-9 5zm-27-14zm-10-12zm28 6zm-3-21zm-3-13zm16 21zm16-57zm-31-37zm11 2zm38 12zm0-7zm22-6zm-20 15zm-11 18zm40-12zm-7-10zm13-8zm14 1zm12 3zm16 10zm-6 45zm-10-7zm9 8zm3 28zm-10 3zm-8-10zm1 12zm21 11zm-72-109zm-25-2zm6-8zm-19-6zm-34 1zm5 2zm-7-15zm1-2z"/>
<path id="bd6" d="M863 500zm0-22zm5-4zm-68 34zm-41 78zm-12-4zm-6 7zm-3 10zm-7 9zm60-71zm6-5zm7-8zm22 2zm-18 10zm-5-8zm0 13zm3 9zm23 6zm-5 7zm-14 9zm45 14zm39 28zm-12-59zm1 0zm-14-3zm-3 14zm0 7zm-4-5zm-2-7zm-6 2zm-7-18zm9-6zm-16-13zm58 8zm-2 17zm3-3zm2-4zm1 41zm1 9zm5 9zm2 9zm-2 17zm-73 24zm13 31zm73 333zm3 0zm-499-63zm-6-18zm13-9zm-15-23zm-2 16zm-12-9zm-7 20zm19 12zm-6-1zm-2 14zm-14 18zm14 9zm8 3zm-3-11zm-5-15zm14 18zm-19 43zm2-24zm1 9zm-6 0zm0 13zm-42-4zm-4 0zm5-15zm14-9zm1-10zm-6-14zm-42 2zm2 20zm-4 16zm4-3zm4-10zm4 29zm0-12zm-16 12zm-8 1zm-4-9zm10-12zm-13-4zm4 4zm-2 3zm-8-1zm-10-8zm6 17zm9 6zm-20-8zm-8 12zm-14-7zm-2-5zm3-11zm3-7zm16 8zm4 0zm-2-11zm-15-5zm35-19zm-10 5zm-3-1zm-2 20zm9-5zm2 3zm1-2zm4 4zm13 0zm1-20zm-13 6zm9-51zm5-1zm-3-5zm8-3zm-1 6zm7 35zm24-60zm63-22zm-162 124zm-9 6zm2 4zm-1 50zm7-1zm-3-9zm1-1zm3-6zm-9-13zm-4 5zm20-9zm-4 8zm0 7zm11 2zm9 3zm-4-11zm-2-9zm23 6zm0 3zm7-4zm17 11zm-3 8zm-9 3zm-5-2zm-2-8zm-11 14zm12 15zm1-7zm14-7zm-5 15zm-19 2zm0 14zm-14-5zm4-5zm0-7zm-9-7zm3 1zm-6-7zm-7 14zm4 3zm16 19zm11 10zm-6-4zm0 0zm7-3zm19-7zm11-1zm2 9zm2 4zm6-13zm2 9zm-3 11zm1-3zm25 5zm1-10zm-6-6zm10-25zm-11-5zm4 17zm-21-1zm-5 4zm-5 0zm-7-11zm15-3zm-2-2zm-5-4zm-8-4zm27-18zm-6-2zm2 10zm-14-20zm6-5zm2 4zm0 7zm13-7zm-6 0zm4-5zm13 6zm-8 23zm8-3zm16-2zm0-16zm1 4zm8-5zm12 1zm3-1zm-14 11zm579 496zm7 3zm27-19zm19-14zm-21-36zm-13 8zm-24-6zm27 40zm-50-8zm-15-9zm-16 0zm1-9zm-7-2zm-3-6zm5-1zm31-1zm3 11zm13-30zm0-12zm-11 3zm-5-5zm-20 18zm-4 6zm-9 1zm2-8zm-4-20zm5 4zm9-1zm9-1zm-9-13zm1 5zm-5-5zm34-21zm-6 2zm-2 12zm3 0zm15 9zm6-5zm-2-6zm-2-4zm-5 3zm6-11zm11 13zm0-4zm20-11zm2 7zm-4 7zm-6 1zm10 2zm1 12zm-4 2zm-4-3zm-10-3zm3 14zm3 22zm42-11zm0-6zm-22-42zm10-14zm0-1zm1-1zm7-7zm0-4zm-5 7zm-11 0zm5 14zm-14-4zm-2-3zm-7-1zm-6-4zm2 5zm4 8zm-7-4zm-5-22zm6 3zm7-21zm-6 8zm3 6zm-7-1zm-1-2zm-8-10zm-3-3zm17-14zm3 8zm19-2zm-5 18zm10 0zm-5-4zm12-4zm6 7zm1-1zm-3-9zm0-14zm2 6zm-6-20zm-16 12zm-4 1zm0-5zm4 1zm-2-8zm4-2zm2 0zm12-15zm1 5zm-2 8zm-3-18zm15-14zm-2-14zm0 2zm-14-1zm-12 8zm2 7zm6 3zm-12 6zm-21-3zm3 1zm4 29zm4 1zm2 5zm-42 1zm1-15zm16 1zm-6-40zm-7-2zm-3 7zm0 10zm-17-9zm-21 41zm-7 21zm30 14zm0-13zm31 18zm-8-5zm-4 6zm-17-7zm4 16zm15 7zm8 12zm-31 4zm-4-27zm-9 10zm-48 5zm-6 10zm-24-11zm8-34zm-9-1zm-1-5zm37 3zm4 12zm20-28zm-10-8zm-16-20zm5 6zm10-5zm3 2zm-1-22zm-10 13zm-18 5zm2-12zm2 3zm0-3zm-28-4zm12 14zm3-1zm-9-3zm-3 8zm-1 14zm4 0zm-2-6zm7-3zm8-2zm10 5zm-6 12zm-12 3zm-11 0zm5 1zm-16-6zm-2 8zm-7-11zm-7-2zm2-8zm12-6zm-2 12zm14-27zm-12-3zm-10 17zm-5-4zm-5 1zm0 12zm-21 23zm-5 2zm-1 7zm21 14zm3-6zm-11-16zm12 3zm10 7zm5-1zm9-1zm6 16zm3 2zm-22-8zm2 28zm18 10zm-37 4zm7-8zm-5-11zm-12 4zm-5-3zm43 55zm10-7zm-16-18zm21-3zm40 22zm-4 13zm8-3zm12 3zm-3 2zm-4 4zm10 8zm-2 7zm-7-1zm-12 1zm-2-11zm-21 2zm10-1zm12 15zm3-2zm17 1zm-159-116zm14 25zm19-9zm2-2zm-6-8zm-12-9zm-2 3zm-10-6zm-1-7zm30 0zm-8-7zm96-284zm1-4zm39-11zm-11 7zm7 9zm-24 7zm6 6zm8-2zm-16 8zm3 4zm-6 25zm2-5zm-5 3zm-8 2zm11-10zm22 9zm-6 8zm-12-1zm10 26zm9 2zm7 2zm-19 0zm-7 10zm-6-6zm-3-9zm-17 16zm-21-8zm0 35zm19 43zm3 34zm1 5zm-5 7zm36-78zm-15 2zm4-13zm-2-5zm18 10zm-4-6zm14-7zm-4 7zm8-3zm4-4zm-9-2zm-4-3zm22 0zm-7 17zm3-4zm51-21zm-5 8zm10 6zm-3 4zm-11 9zm-6-2zm17 32zm-39-27zm-8 12zm-5 0zm14 26zm12 1zm-7 18zm10 28zm19-2zm-2 1zm5-12zm-6-3zm4-6zm-18-25zm29 2zm4 1zm5 5zm1-11zm18-2zm-4 6zm4 2zm-9 10zm3 1zm2 4zm-5 4zm-1-5zm-18 5zm0 28zm7-1zm19 0zm-6-21zm15 3zm7-6zm-6 8zm-1 18zm9-6zm10-4zm3 13zm4-3zm0-5zm-4-1zm-15-26zm3-4zm-3-12zm-10 3zm-1-6zm14-3zm12-3zm-26-20zm1 15zm2 3zm-10-8zm-3-5zm-22 7zm8-10zm0-44zm3 3zm-9-36zm8 11zm-5 6zm-7 6zm-9 4zm0-29zm-8 22zm2 8zm-22-24zm-14-12zm32-6zm-14-33zm-26-34zm11-6zm-10 3zm1-3zm1-10zm14 8zm7-4zm164 2zm9-4zm4 5zm-4 6zm-4 9zm4 3zm4 2zm14-25zm11 1zm7-2zm-19 40zm1-7zm-18 7zm4 1zm2 6zm1 12zm14 44zm-6 1zm-74-9zm9 22zm2-1zm1 6zm13 14zm8-2zm1 14zm16 23zm-15 17zm-45 8zm27-2zm-12 8zm9 5zm-3 10zm-3-2zm-7 4zm0-8zm-4-2zm-8 9zm10 16zm-8 19zm38-20zm-3 2zm-6 11zm10 2zm8-32zm1 5zm-18-26zm16 5zm62 46zm-8-36zm-22-72zm148-11zm9 1zm-13 23zm1 6zm16-20zm-9-17zm-8 1zm5-11zm10-20zm6-8zm5-15zm-21-5zm-5 5zm2 7zm3 3zm-2 8zm8 0zm1 4zm-7 4zm-11-5zm-6 0zm-1-4zm-2-5zm4 17zm1 6zm-3 14zm6-3zm2-1zm-32-67zm-13-7zm-18-16zm1-11zm3-12zm5 1zm4-2zm-9 9zm1 4zm19 3zm10-12zm4 8zm9-3zm-4-9zm11 5zm2-2zm1 21zm-10-5zm-9 11zm-4 1zm5 4zm-5 11zm29 14zm13-15zm6 15zm13-29zm-9-4zm-11-11zm6 5zm6-15zm5 3zm6-8zm8 0zm3 4zm-9 11zm5 2zm11 0zm25-4zm14 0zm-4 1zm6 6zm-4 3zm-18-4zm-1 22zm22-5zm-22 12zm-27-10zm-3 2zm10 30zm1 16zm-5 3zm2-4zm-11-3zm58 20zm2-3zm-30-11zm2-7zm-3-2zm14-6zm-4-3zm47-4zm5 1zm-10 9zm-2 6zm3-2zm-19 6zm2 16zm4 8zm14 2zm-3 3zm12-3zm-2-5zm-11-3zm16-5zm1 11zm11 12zm-6-11zm14 6zm-6 3zm9-13zm-5-4zm3-3zm4-15zm-8-2zm-11 7zm-8-8zm13-42zm-14 21zm-18-45zm9-6zm19 1zm-7 8zm15-8zm25-9zm21 5zm-14 6zm0 6zm5 10zm-9 1zm15 6zm9-1zm7 4zm-12 18zm10-33zm-2 5zm3-11zm-2-5zm-6 0zm3 52zm-17 29zm-6 0zm-13 1zm4 6zm17-2zm-3 11zm-1 8zm4 1zm-6 0zm-14-6zm-20 14zm-1 1zm-190 354zm3 1zm-34-10zm44-14zm-11-2zm-3-24zm-36-35zm94-83zm-98 2zm-29-43zm-54 36zm-5-1zm-10-17zm18-3zm-27-10zm-27-17zm1 8zm-1 28zm4 4zm3-4zm17 9zm-7 9zm-7-3zm-11 9zm2 4zm3-7zm6 14zm-7 2zm16-1zm17-10zm3 8zm9-5zm-29 43zm5-12zm-16 5zm2-6zm-11 10zm7 2zm6-1zm0 3zm4 16zm8 16zm-16 9zm44 5zm-15-8zm-1-13zm-2-6zm46 11zm28 2zm-44 12zm45 87zm-103-49zm64 70zm54 4zm2-15zm6 13zm4-2zm9-2zm378-662zm-34 121zm1-18zm-26 0zm-10 9zm3-3zm14 0zm-37 1zm-14 9zm7 9zm-15-3zm-8-1zm-9 13zm-5-5zm-4-7zm2-8zm25-10zm-17 0zm1-8zm25-32zm28 3zm31 0zm-3-103zm3-18zm3 11zm16 13zm0-13zm-27-26zm-64-9zm-144 54zm19 24zm-29 18zm5 5zm16-14zm-11 27zm1-5zm28-12zm84 20zm-38 22zm-6 27zm6-3zm13-6zm21 12zm3-1zm1 41zm2-1zm-44 6zm-49-47zm7 0zm-36 10zm-1-1zm-2 22zm20-13zm-1 6zm9 14zm-20 3zm5-6zm-9 7zm-20-5zm8-5zm3-7zm-27 16zm-22 4zm5-13zm-2-7zm-10-5zm-3-2zm5 0zm7-34zm19 11zm-5-10zm22-14zm-7 11zm-7-3zm10-11zm19-48zm-20 11zm4-8zm-12 16zm9 4zm-20 6zm-1-8zm-7 26zm15 2zm-16 2zm-11 10zm-12-54zm-7-5zm-8 23zm-41 12zm0 52zm33-22zm2-3zm15 20zm-5 8zm-3 1zm4-13zm1 21zm5-1zm4-4zm-2 12zm6 19zm-14 0zm-3-2zm1-11zm-4 0zm-3 10zm-9-12zm-4-14zm-6 0zm1 3zm-1 3zm4 7zm-9-4zm-11-9zm-1 4zm1 4zm-15 11zm-13 3zm-3-8zm9-2zm17-8zm-1 1zm-4-3zm-5-27zm-8 0zm0 20zm-25-3zm13-6zm-29 10zm1 6zm5-3zm14 8zm0 11zm2-3zm-25-13zm-6-84zm36 7zm-9 35zm5-2zm6-6zm-2-14zm13-2zm3 5zm-11 1zm4 12zm0 7zm12-7zm-2 8zm5 3zm4-19zm-4 3zm-16-28zm22-18zm-28-37zm-43 29zm-6 1zm94-96zm13 0zm2-11zm-4-6zm12-7zm10 11zm1-4zm-4-2zm8-7zm-7 42zm0-8zm-9 27zm-34 8zm24 12zm-18 19zm8 11zm-2 6zm13-15zm10-1zm-2 17zm14 5zm4-9zm7 3zm-10-20zm10 1zm2-11zm-12 7zm-2-3zm-8-12zm14-2zm33 9zm-14 2zm-2 13zm5 0zm5 4zm11 17zm-9-20zm25 24zm8-13zm0-11zm-42-94zm-3-3zm8 0zm15-1zm-53-22zm8-3zm10 14zm-5 3zm-14 0zm-33 2zm-31-12zm45-279zm-3 16zm-6 9zm-17 1zm5-12zm0-11zm0-10zm-34-15zm19-15zm2-11zm-6-107zm-10 11zm-58 3zm11-11zm10 3zm-4-14zm-3-9zm35-17zm-24 8zm1 18zm7-7zm23 5zm0-11zm-5-2zm19-9zm14 24zm-9-20zm5-11zm-5-11zm11-2zm4 14z"/>
<path id="bs6" d="M1015 235zm-4 3zm-3 6zm-155 139zm132-109zm9-14zm21 5zm-30 28zm-12 14zm-4 22zm-2 1zm15 14zm9 1zm-10-16zm28 9zm-8 15zm14 6zm5 13zm-28-1zm-38 4zm-9 4zm-8 3zm21-20zm0-14zm-11-1zm-1-1zm9-10zm3 6zm-8-20zm-24 93zm-14-4zm18 28zm1-33zm9-7zm6-6zm40 18zm15-17zm9-8zm6-1zm3 6zm-28 29zm-6-3zm-18 0zm-5 24zm-14 51zm-17-22zm-8 4zm-5-7zm2-3zm-24-13zm6 18zm25 18zm-12 11zm10 11zm-37-5zm-3-1zm-2-9zm-28-45zm-3 2zm25 12zm8 12zm5-1zm1-10zm2 2zm-50-48zm18 9zm-6 11zm3 5zm-34-16zm4-16zm-3 88zm-45-14zm-5 16zm5 9zm-17-2zm-9 118zm-9 6zm-2-18zm15-9zm-45 9zm16 0zm6 12zm-42-32zm37-20zm1-9zm13 9zm2-9zm5-5zm10-5zm-2 4zm24-42zm-9 24zm7 2zm3-29zm17 36zm-2 20zm0-19zm-1-3zm-8-2zm-3-2zm-6 13zm-7-6zm5 10zm9 21zm-5 37zm2 13zm7-6zm-4-8zm-3-9zm31 9zm4-2zm10-14zm-3-5zm-5 1zm-6 7zm13-14zm-4-10zm-1-1zm4-4zm14 10zm18 20zm-7 0zm-4-1zm2 28zm5 4zm6-18zm-6-2zm10 20zm17-20zm-10-16zm-8-11zm6-9zm-3-2zm4 1zm20-10zm-6-6zm0-5zm24-43zm2 7zm12 10zm-8 3zm-13 15zm3 3zm4 3zm-4 1zm9-5zm11-5zm26 17zm3-23zm-1-14zm-10 4zm4 4zm-16-1zm-3-20zm58 26zm2-9zm13-11zm-4 7zm2 28zm-65 55zm-30 24zm-39 58zm-2-2zm12-18zm8 0zm-1 6zm6-2zm-9-11zm2-10zm-18 14zm-16-11zm1-16zm2 9zm-4 3zm-8-13zm-7 5zm9 20zm2-1zm-11 15zm10-7zm19 24zm-52-54zm20 209zm-1-9zm2-9zm4 12zm29-10zm-1 12zm-7 8zm-3 0zm-20-2zm7 4zm12 22zm4 3zm1 4zm4 6zm-6-22zm21 15zm18 8zm1-36zm-9-4zm0-2zm-8-10zm-2-11zm3 6zm3 5zm-20-14zm53 53zm0 7zm102 20zm0 14zm-21 26zm-6 4zm-24 61zm-10-1zm-7 10zm-4 0zm-10-29zm-7 7zm-6 3zm-19 17zm-6 1zm-3-2zm-42-118zm-5-6zm-344 107zm-16-5zm-35-5zm16 12zm11 0zm-8-23zm-8-1zm30-2zm-41-31zm-15 2zm-5-4zm-45-30zm5 26zm-1 4zm0 23zm-3 5zm1 17zm8-1zm34-30zm4 31zm-10-3zm-5 4zm8 11zm5 2zm-70 13zm10-17zm11 4zm-4-13zm0-26zm-23 14zm-100-10zm17-7zm0 5zm38-8zm-3-6zm-20-3zm10-5zm-9-44zm34-2zm21 7zm-4 1zm-7 37zm19 9zm17 0zm7 3zm1-19zm-1-26zm-14 11zm-7-16zm3-4zm16-11zm-13 0zm-1-28zm1 1zm0 5zm7-22zm6-14zm-26 43zm-10 7zm2 6zm-2 1zm-7-10zm40-55zm17-4zm0 5zm6 17zm12-4zm-6 16zm-3-6zm-4 5zm-9 0zm7 36zm5 1zm45-1zm-4-18zm-2-4zm-14-24zm-3-6zm-167 138zm2-1zm-10 12zm-2 28zm-6 47zm4-37zm66 55zm-47-2zm4 4zm9 7zm42 28zm4-5zm-3-5zm-12-7zm-2-12zm7-1zm6 11zm3-3zm55-64zm-1-8zm8 3zm5-2zm594 531zm-16-72zm20 48zm-23 3zm-34-23zm-12-10zm64-213zm-96 112zm-14-119zm-4 2zm-54 0zm-21 5zm-7-2zm85 122zm8 5zm-25 54zm19 13zm6 4zm9-1zm-153-122zm0 19zm22 9zm-1-74zm87-263zm30-17zm12-6zm-28 43zm-6-13zm-10 13zm5 26zm13 22zm-38 11zm0-7zm4-25zm-5 61zm10 35zm-6 3zm0 38zm41-10zm-5 2zm-12 10zm-10 24zm0 13zm22-26zm6 0zm8-2zm2 23zm23-31zm-13 3zm-10-14zm-3-11zm28-1zm-26-18zm9 15zm-10 1zm-22-28zm-5-10zm-7 2zm101 14zm2 4zm18 12zm-12-4zm-47 13zm9 12zm-8 26zm1 8zm15 5zm5-12zm40 18zm54-73zm-6-11zm-21-12zm-7-24zm10 9zm1-6zm23-5zm2-12zm-4 2zm-15 4zm16-41zm11-12zm-16 12zm-16-15zm-10 0zm9 60zm-40-55zm-31-50zm15-4zm11-10zm36-6zm-18 29zm9 9zm2 4zm-8-1zm36 15zm9-9zm-13-35zm17-14zm3 2zm11 12zm13-6zm-1 20zm-7 11zm16 23zm-5-17zm8-10zm19 17zm1 7zm5-3zm7-2zm-7-14zm-11-11zm2-6zm-7-23zm87 12zm-15 11zm-12 7zm-1 15zm1 1zm15-8zm8 14zm-17 2zm-10-20zm-27 18zm2 19zm-2 5zm2 9zm15-10zm18-7zm5 7zm10 5zm9 12zm-26-3zm13 20zm-10 4zm-19 13zm-23-2zm-14-14zm0-7zm16-13zm-6 5zm-3-21zm-15 7zm-10 14zm-7-7zm-4-6zm-7 40zm-6-1zm10 14zm-8 4zm5 5zm18 2zm-5-4zm-7-4zm2-8zm36 15zm2 6zm-23-3zm0 22zm12 6zm-11 4zm-8-4zm-27-12zm2 15zm4 4zm-2 4zm87-39zm17-19zm37 20zm39-13zm35 81zm-23 23zm14-4zm0-6zm25 8zm-5 6zm19 1zm-3-18zm-4-34zm10 11zm-5-24zm-7-1zm-24-32zm31 2zm5-27zm-2-10zm-6-1zm-36-38zm-10-4zm3 20zm-2 9zm7 3zm-3 17zm-8-6zm-51 4zm5-52zm9 5zm2 0zm0 22zm14 4zm0-12zm13 10zm1-1zm2-33zm-4-4zm-18 0zm6 1zm-5 6zm-40-10zm8-12zm-5-9zm-1-12zm9-15zm9 6zm6 1zm-3-6zm55 18zm-4 9zm-4 11zm-3 11zm1 9zm4-15zm15 10zm3-4zm-2-2zm102-10zm-10 15zm-3 5zm-45 39zm8-4zm-10 7zm4 10zm-5 13zm23-12zm-9-18zm13 2zm9 1zm41-92zm-8 4zm26-10zm95-1zm-28 112zm0-4zm-26 15zm-4 9zm-25 49zm9-49zm-48 13zm-21 45zm-16-60zm14 23zm-20 1zm-6 2zm-20-6zm6-4zm17 18zm-16 91zm-56 226zm-38-59zm-5-28zm34 14zm43-103zm1 2zm-13-7zm25-13zm-3-8zm-9 6zm2-23zm-14 18zm-14-3zm4-21zm-2 62zm-37-7zm-163-12zm-3 229zm505-698zm21 26zm-90 114zm1 9zm4-2zm-10 9zm-40-33zm21-9zm-9 15zm25-2zm35-93zm24-54zm-14-9zm-6-14zm-15-14zm-19-7zm11-7zm-5 27zm3-2zm16-4zm-5 26zm2-7zm-13-5zm-12 4zm-26-6zm-1-16zm20 1zm-2 8zm10-10zm-9-16zm-8 11zm-6 1zm-20-9zm4-10zm-16 54zm-56 53zm-11-45zm19 6zm32-57zm6-2zm-12-6zm-32 5zm9-1zm-12 3zm-11 16zm7 12zm0-3zm-4 16zm-10-4zm-14 7zm3-22zm12 1zm-1-1zm-4-9zm-21-24zm-1 16zm-29 22zm19-1zm-16 16zm-1-4zm-6-6zm-1 40zm16-12zm10-14zm25 17zm8 3zm-13 17zm4 13zm-22-11zm-9-4zm-3 4zm-1 54zm14 29zm1-26zm4 26zm16-20zm38-17zm16 73zm6 6zm-12 21zm-10-6zm-6-5zm-66-37zm-3-6zm1-3zm-11 14zm-20 23zm-33-4zm9 8zm5-1zm-4-10zm-1-15zm-4 15zm-11-18zm-6 2zm18-15zm-3 11zm0 2zm12 0zm15-4zm-8 4zm-1-1zm5 6zm18 3zm4-4zm-6-15zm3-1zm-5-7zm5-21zm2-5zm0-5zm-5-3zm-114 63zm9 28zm-15 1zm8-1zm1 9zm-48-58zm-16 50zm-4 9zm-20 0zm-1-8zm-11-4zm9 14zm-18-1zm-5-13zm3 6zm4-54zm13 0zm2 6zm-8 1zm-2 17zm6 5zm9-13zm-3 11zm8-5zm-8-29zm-3-14zm-3 3zm-4-14zm-5 17zm-18-18zm-9-8zm3-18zm22-4zm8 27zm7-3zm1-5zm4 5zm0 4zm26-19zm10-4zm-7 6zm0 5zm-7 0zm-3 42zm8-2zm6 1zm31-66zm-13 0zm3-14zm21-9zm-3-20zm-17 15zm-13-7zm-1-14zm2-1zm-18 21zm-5-2zm-50 31zm-21-27zm62-59zm-15 8zm-13 3zm-27-1zm9-5zm51 15zm27-7zm-10-1zm2-6zm23 20zm-7-47zm24-10zm60 29zm68 48zm-7 0zm-6 4zm-5-18zm13-29zm-10 6zm-29-10zm0-5zm38-13zm2 1zm-44-20zm-55-7zm-8-20zm-5 3zm-9 4zm-28 4zm13-5zm12-216zm-16 1zm-9-16zm14 9zm260 240zm-229-358zm-10-9zm23 65zm1-10zm4 32zm0 19zm-13 7zm6-7zm-15 10zm-14-2zm-22 0zm-8-3zm2-20zm-3-3zm7-2zm-9-8zm-9 3zm2-12zm-24-14zm5 17zm24 17zm-11 24zm-6 1zm-6-9zm-21 9zm-1-9zm-3-12zm-2-8zm3 19zm-25-30zm-5-2zm1 4zm20-1zm13-30zm-12 2zm-30 2zm6-16zm-10-5zm7-10zm-7-22zm10 0zm8-4zm14 1zm-1 13zm32-7zm8 20zm-3 24zm17 7zm-1-11zm-3-16zm8 4zm5 14zm28-8zm-3-16zm0-10zm-14-12zm15 8zm-16-22zm3-5zm14-22zm-44 2zm-8-26zm0 26zm3 5zm18-3zm-6 14zm3 10zm-40-1zm5-1zm1-22zm-2 2zm-11-3zm-8 7zm-35 10zm11-8zm-7-4zm26-16zm22 6zm3-6zm0-2zm-10-44zm-18 14zm-18-41zm21-6zm14 18zm-2-2zm6-1zm6 3zm8 6zm-11-23zm-4-7zm42 22zm-22 0zm-1 9zm41-22zm24-5zm5 8zm-2 6zm13 3zm3 7zm8-3zm-4-5zm-5 33zm-1-21zm-20 45zm-40-82zm-41-11zm-14-4zm12 18zm-6-1zm-3-3zm-10-1zm-23-11zm-2-4zm3-12z"/>
<path id="bd7" d="M857 471zm8-3zm-37-2zm-17 41zm4 0zm-64 80zm0 8zm-7 4zm3 4zm-12-15zm-22 3zm2 9zm11 8zm66-79zm5-8zm-4-2zm12-1zm5 0zm-2 0zm13 2zm-2 8zm0 11zm-10-11zm3 36zm3-2zm-13 9zm53 7zm4 5zm25 1zm10-32zm-1-6zm-10 6zm-15 18zm-11-7zm-5 4zm-5 7zm0-17zm-6-1zm2 2zm-8-3zm6-6zm10-21zm-3 3zm-7-3zm-5-16zm50 27zm13 4zm3 3zm25 57zm-29-7zm8 27zm20-13zm-86 42zm11 25zm6 8zm-3 0zm-436 262zm1-20zm-28 55zm4 0zm13 6zm7 2zm12-15zm1-9zm-1-5zm-3 19zm-8 0zm-13 33zm-3-3zm-39-34zm-40 10zm12 13zm13 17zm5 3zm-23-1zm-6 4zm-9-5zm0-14zm4-6zm-29-1zm-1 18zm-11-2zm3 4zm-12 1zm-7 5zm9-10zm-11-8zm24 1zm-4-25zm-5 0zm-10 9zm33-17zm19-31zm34-44zm-18 25zm-5-9zm-5 38zm57-71zm-26 12zm5-4zm-113 121zm8-1zm3 8zm0 12zm9 9zm-6 10zm15-3zm13 2zm-12-9zm41-10zm1-3zm0 10zm-17 13zm-5-1zm-1 5zm3 17zm15-5zm7 0zm-1 22zm-22-13zm-16-16zm-12 13zm0-5zm2-6zm2 15zm-5 7zm19 8zm13 16zm20-14zm21 0zm10 1zm-3 16zm17-2zm3-4zm-9-11zm21-32zm1 0zm-15 8zm-4-9zm-10 24zm-5-4zm-3-5zm-3 6zm-8-2zm-8-5zm5-9zm6 1zm1-5zm2-1zm3 12zm-11-23zm-7-7zm47 13zm26 79zm596 423zm-2 0zm-4-2zm-10-3zm-2-11zm30 8zm-9-20zm12-13zm5-3zm12-31zm-16 6zm-30 11zm0-22zm-17 29zm4 11zm4-8zm18 5zm-7 2zm-6 19zm-4-1zm6-11zm-52-32zm-8 9zm-14-3zm-5-1zm14-3zm1-10zm-8 2zm14-7zm10 12zm16-12zm-14 7zm1 9zm5 0zm19 5zm3-19zm-6-8zm-1-28zm-1 11zm-8-12zm-6 2zm-2 9zm-3 11zm-6-5zm-16 8zm-11 5zm11-10zm9-8zm7-9zm2-4zm-12-9zm-8-2zm0-5zm-8-8zm15-5zm20 21zm4 7zm16-8zm6-9zm-3-4zm-6-2zm-3-1zm5-3zm23 3zm1 22zm-1-3zm-10-2zm-3 10zm2 16zm-4 10zm22-8zm-1 11zm9-6zm-1-7zm3-8zm1 21zm4-4zm9 4zm-2-12zm0-27zm1-18zm3-5zm7 0zm5 5zm-3-6zm1-31zm-19 7zm-2 17zm-30 5zm-2-23zm21 0zm5-22zm-4 4zm-7-4zm-10 15zm-3 0zm5-11zm3-9zm-6-1zm10-4zm6-2zm22-1zm-1 10zm-14 0zm2 15zm7-2zm5-9zm11 14zm3-17zm-12-5zm5-1zm1-6zm9-2zm-2-1zm-11-5zm-5 0zm-5 3zm-6-5zm13-12zm-3-4zm-5-8zm5 5zm11-2zm5-3zm-1-13zm3-17zm-29 1zm3 13zm-9 10zm-3 0zm-3-6zm0 2zm7-2zm1 30zm-6 12zm-11-4zm-5-10zm0 15zm-11-7zm3-17zm-1-18zm-36-18zm-8 2zm-11 0zm6 29zm1 38zm4-3zm19-2zm16-2zm10 21zm-8 7zm5 7zm-2 3zm-8 9zm7 8zm-24 0zm-7 3zm-22-4zm-58-4zm3-17zm-1-9zm-9 3zm3-9zm27 0zm10-20zm-11-8zm9-3zm-22-22zm-17-7zm8 7zm-5 0zm-5-6zm31 14zm-2 7zm-11-3zm0 7zm13-1zm-19 3zm-7 2zm-3-2zm-15 4zm8-29zm-12 4zm-23 11zm1 27zm9 0zm5 10zm-2-6zm16-3zm-3 33zm-27 18zm-10 3zm69 16zm40-3zm-5 3zm-5 16zm10 8zm-5 10zm-3 6zm-11 4zm-12-17zm-14 9zm-3-14zm52 33zm1 20zm-157-135zm6-12zm22 11zm126-333zm-5 11zm0 6zm-1 12zm-4 1zm-7 0zm-3 4zm18 13zm-28 0zm-2-6zm-6 0zm-2 78zm-35 2zm5 34zm-3 1zm45 11zm-10-24zm-9-4zm-4 0zm34 13zm-3-8zm18 13zm25-20zm17 5zm13 2zm-12 7zm9 79zm13-17zm16-10zm13-1zm5 14zm-7 5zm-14-3zm6-4zm-5-4zm-2 2zm1 26zm0 5zm11 1zm4-13zm16-5zm8 1zm-11 16zm12 3zm10 2zm4-13zm-3-1zm-5-2zm-2-19zm11-26zm-39 3zm-15-7zm-2-45zm10-45zm-15 9zm11-5zm1 14zm-12 12zm-50-31zm38-7zm6 8zm-32-34zm-23-16zm-4-11zm7-14zm13-15zm-1 8zm166 9zm9-6zm8 1zm7 41zm2 1zm0-20zm-5 17zm-2 6zm3 33zm9 16zm5-3zm-2-10zm-6-1zm-4 2zm-45 29zm-7 6zm5-1zm7 8zm10 15zm-9-4zm12 26zm-52 14zm7 12zm-2-9zm18 13zm-1-3zm-7 1zm11 11zm2 4zm-23 1zm5-6zm1-6zm-8 34zm-4 1zm15-4zm6 2zm-2 10zm0 2zm4-22zm12 3zm16-7zm-5-2zm10-8zm-9-8zm-2 8zm-8 5zm8-17zm28 13zm-4 5zm21 12zm10-62zm-23-26zm8-19zm41 88zm0 34zm89-123zm16 7zm-9 9zm17-11zm9-2zm-9-16zm-4 7zm-1-11zm-3-7zm-5-5zm18 2zm3 2zm-10-23zm-4 4zm-7 7zm-2 0zm0 4zm-11-2zm-4-1zm6-7zm6 2zm-7 24zm-8-4zm8 15zm-10-8zm-40-105zm1 19zm16 2zm8-10zm13-10zm19-3zm-4-1zm15 27zm-2 6zm22 10zm-27-24zm34-22zm9-1zm-1 25zm11 1zm-8-16zm20 2zm25-11zm2 5zm-5 11zm0 12zm-14-11zm-5 5zm0 33zm-39-14zm29 43zm32 15zm2-9zm-5-3zm3-4zm-3-5zm-3-6zm17-1zm4-9zm5 6zm6 17zm-20 8zm-1 5zm7-5zm2 10zm-2 4zm9 9zm8 3zm-9-16zm8-10zm15 12zm-6-4zm2 13zm-4 5zm15-4zm9 2zm2 4zm4 3zm-5-9zm-20-37zm1 1zm-2-9zm25-4zm-11-28zm-17-7zm4 11zm-19-25zm-10 7zm-6-2zm4-13zm-2-3zm2-3zm1-1zm0-3zm30 3zm-2 23zm20-19zm10-3zm10-4zm17-2zm-2 14zm-6 6zm5-4zm5 2zm2 16zm3 7zm1-10zm-4-8zm-23 70zm-6 4zm7 9zm0 5zm13-8zm3 6zm-1 8zm-10 0zm-2-2zm-8 6zm-41 120zm24-113zm-2 1zm-2 4zm-3 3zm-14-3zm-31 1zm-17-4zm12 97zm-7 20zm-21 11zm-93 198zm-27 40zm-35 11zm3-51zm33 12zm15-19zm-13-5zm46-87zm8-48zm9-2zm-102 72zm-27-113zm-56 53zm-12-8zm0-5zm5-10zm-8 6zm26-5zm-10-25zm-7-4zm-2-7zm3 15zm-17-1zm-24 19zm19 16zm6 9zm-9 0zm-6-12zm-4 0zm-3 2zm3 25zm-3 17zm3-3zm16-5zm4-12zm-11-3zm3 3zm7-6zm15 2zm-2 15zm-2-4zm-1 8zm10 13zm-2-3zm18 25zm-24-1zm-8 1zm-13-4zm0-8zm9 5zm-5-13zm-10 2zm-3-6zm-6 2zm-3 1zm1 6zm4 3zm18 16zm1 9zm-3-2zm-17 19zm-2 25zm20 0zm4-4zm2-8zm-8 0zm12-8zm3 3zm-3 4zm13-4zm-11 18zm6-3zm11-18zm-10-21zm3-5zm2-1zm20 17zm31 13zm8 67zm9 6zm-1 7zm-103-28zm117 46zm17-3zm0 9zm-12 7zm50-10zm331-650zm-9 106zm0-3zm6-5zm-28-11zm-24-11zm-8 8zm10 1zm-8 10zm-8 13zm-7 3zm-11-1zm-7-11zm0 10zm4 14zm-5 6zm-8-7zm-3-1zm0-5zm-22 4zm13-11zm16 2zm-1-19zm-17-11zm-9-12zm16-1zm10 2zm3 25zm31-44zm-6-6zm-14 4zm-21-7zm40-9zm-13-17zm39-11zm-17 55zm36-118zm2 13zm-15-27zm-3 6zm-59-18zm-63 77zm-10-13zm-4-23zm1 9zm-25-39zm-16 74zm-6-1zm-16-13zm3 2zm4 3zm-20 0zm-2 20zm5 3zm3-13zm12 8zm1 16zm-19 13zm0 3zm31-24zm5 4zm-10-5zm22-15zm15 13zm38 40zm-11-5zm-9 15zm-8-6zm8-18zm-16 17zm18 26zm9-16zm15 12zm-3 12zm-5-3zm-4 5zm22 5zm-2 12zm0 4zm2 3zm-61-1zm-4-6zm1-4zm-19-30zm-4 0zm-29 18zm-9 6zm7 5zm8 3zm-6-4zm-21 12zm-20 2zm-30-5zm12 6zm4-12zm5 2zm7-37zm12-1zm-2-18zm3 2zm-1-11zm-10-5zm19 0zm-2 8zm-19 0zm-8-6zm-4 14zm11-1zm2-1zm-77-22zm4-16zm7 19zm-10 58zm25-15zm8-2zm11 9zm-25 7zm8 18zm3-10zm-1 8zm1 9zm-22-2zm-7-9zm-12-5zm-21 16zm3-13zm-4-12zm5 0zm-20-7zm11-3zm-8 15zm-19 0zm-10-26zm-7 2zm9 20zm3 13zm14 17zm-35-30zm36-37zm-8-21zm8 1zm6 12zm21 3zm-6-2zm-6-18zm-10-10zm5-6zm0-8zm-46-12zm46-84zm2 8zm10 3zm28-42zm-3 5zm5 19zm11-19zm-6 4zm4-13zm36 41zm-44 54zm5 2zm18-3zm6 27zm-1-6zm15 0zm-1-5zm-4-20zm-24-5zm15-21zm17 21zm6 9zm-6 21zm47-15zm7 25zm6-11zm-4-6zm-48-92zm30 1zm-50-29zm-31-262zm10-8zm-11 4zm-26-13zm-8 0zm-2-26zm-25-106zm-52-23zm6-3zm3 11zm13-10zm-8-11zm7-8zm1-6zm-14 7zm3 12zm37-32zm-15 12zm-1 12zm29-18zm26 0zm5-17zm-23 7zm11-11z"/>
<path id="bs7" d="M1020 240zm-13 13zm-1-3zm-1-7zm-5 4zm-4 4zm-37 66zm-2-6zm29-51zm23 16zm-26 39zm-15 2zm-4 2zm6 4zm-9 15zm21 13zm1-18zm-2-4zm6-4zm14 4zm22 18zm-11-2zm3 22zm1 8zm1 3zm1 5zm-16-12zm-4 7zm-3 5zm-39-14zm-5 0zm-1 7zm-13-1zm1-9zm18-13zm2-9zm-15-4zm-27 62zm5 11zm-21 15zm-1 13zm72-54zm-11 18zm17-5zm5-13zm41 2zm-31 22zm29 14zm-23 17zm-22-7zm12-5zm-3-8zm-2 28zm-59 13zm-16 4zm0 24zm8 20zm-6-5zm-13-1zm-4 0zm-4 5zm-6 1zm1-24zm-7 6zm-10-7zm11 16zm-30-14zm1-17zm9-16zm9-3zm4-1zm9 16zm1 8zm6-3zm-23-39zm5-12zm-2 1zm-28-23zm-3 4zm4 6zm-5 15zm27-3zm-12 6zm8 5zm-14 13zm-6-11zm-8-12zm-12-12zm0 82zm-2 12zm-30-17zm-11 1zm-10 140zm-23-16zm9-3zm7 13zm-6-18zm2-10zm-50 7zm-11 7zm-5-26zm65-23zm0-10zm30-30zm0 6zm-9 5zm8 6zm2-24zm47 53zm-47-2zm1-16zm-2 8zm0 6zm0 50zm-7 5zm35-2zm-1 4zm3-21zm10-18zm-5 3zm29 53zm29-21zm-4 10zm12 0zm-2 14zm10-34zm-18 0zm-1-14zm13-13zm9-5zm-7 2zm-4-4zm9-41zm8-10zm3 4zm3 4zm3-6zm-4-6zm12 21zm-20 27zm21-12zm17-30zm-1-4zm-9 66zm0-5zm-27-2zm-12 120zm-23-7zm6-2zm-4-10zm11-1zm13 7zm0-9zm-10-28zm-14 3zm9 18zm-13 4zm1-25zm-24 1zm7 10zm-9 24zm-11-15zm1-5zm2 209zm-2-29zm10-7zm6 29zm-9 3zm5-2zm3 24zm-2-3zm16 9zm22-27zm1 20zm4-5zm1 0zm-4 6zm1-29zm-4 1zm5-32zm-11-1zm-7 3zm-9-9zm-15 10zm96 56zm-39-36zm9 8zm-4 5zm101 43zm9 50zm-7 12zm-6 15zm-61 34zm-4-6zm2 3zm-21-11zm5 8zm-437-14zm1 11zm-7 6zm-7-4zm-17 1zm4-10zm-3-1zm19 4zm6-6zm-13-11zm-10-4zm27 7zm-53-48zm14-22zm-42-22zm-13 1zm6 41zm-9 5zm49 30zm-7 1zm12 32zm-15 11zm-29-18zm-14 19zm-6-1zm-9-4zm-4-3zm11-14zm-12-38zm-6 5zm-4 23zm-6 10zm-89-12zm78-87zm15 5zm-6 6zm-1 7zm0 12zm39-18zm-22-4zm12-10zm-8-15zm12-39zm31-18zm-15 7zm-6 49zm16 2zm-167 118zm3 57zm-3-30zm22 52zm116 29zm-19 8zm-25-47zm40-45zm44 133zm546 390zm6-7zm-5-1zm43 10zm-10 6zm13 9zm14-6zm-5-18zm-56-10zm-22-14zm-26-13zm13 2zm-69-214zm-62-5zm61 188zm3 1zm12 0zm-2 15zm-140-133zm1 10zm129-326zm18-19zm-41 99zm-22 155zm14-11zm3 0zm-4-18zm44-24zm4-6zm13 5zm-19-22zm5 12zm24-14zm8 62zm113-77zm-13 1zm-4-1zm-7 5zm-5-2zm-5-13zm0-7zm-16 4zm9-19zm0 5zm25 21zm14-2zm7-17zm-8-24zm-22 9zm8-13zm20 0zm-19-37zm-12 10zm-14-13zm-22-16zm-21-46zm17 1zm31 11zm-18 16zm18 16zm5-6zm20-6zm10 10zm-5-12zm1-21zm32-14zm1 6zm-1 53zm1 2zm27-4zm4-15zm2-26zm2-15zm49 42zm14 14zm-13-8zm-36-4zm-3 22zm26 11zm1-4zm-12-3zm12-2zm19 22zm-5-6zm-2 22zm3 12zm-12-8zm-48 1zm0 3zm-8-3zm17-13zm-13-28zm-2 17zm-35-12zm7 6zm-4 11zm-9 16zm7 35zm6 2zm2-3zm14 2zm-6-6zm1 0zm-1-10zm33 9zm-1 5zm-16 10zm-8 5zm6 5zm-6 5zm11 2zm3-4zm4 2zm-36 19zm23 5zm42-2zm-6-30zm10 13zm-19-22zm7-17zm26 19zm61-10zm30-9zm-31 104zm12-9zm-3 11zm24-14zm27-20zm-22 25zm22 10zm-9-14zm21 7zm5 16zm21-11zm-1-21zm-10-36zm2-16zm-6-3zm4 5zm-39-7zm7-9zm-19-12zm9-12zm53-14zm-9 2zm0 4zm6-14zm-51-28zm0-13zm-6 27zm-3 4zm3 26zm2-3zm-54-15zm-14 2zm26-1zm12-40zm-7 7zm3 12zm5 6zm13-10zm-1 4zm0 8zm-7-41zm-23-4zm-19-4zm16-11zm2 5zm3-7zm-3-4zm1-26zm49 49zm19 0zm42 56zm8 7zm6 12zm7-2zm17-5zm9-2zm3 10zm14-8zm109-106zm-5 79zm-14 27zm-49 137zm12-124zm-11 7zm-24 16zm-11-15zm4-11zm-16 52zm0-28zm-8-5zm-20-10zm9 12zm-20 0zm-12-12zm-12 6zm9 23zm-2 27zm-2 17zm35 64zm-3-2zm52 36zm20-48zm8 17zm4 1zm-6-9zm-162 219zm-5 11zm-14 7zm-25-117zm-2 20zm68-54zm0-29zm14-12zm0 2zm-18-26zm16 3zm-13-18zm-14 10zm-1-11zm-8-16zm14 42zm-43 27zm-8 52zm-5 0zm-149 149zm6 15zm18-9zm28 2zm39-7zm29 11zm38-12zm369-675zm-8-8zm13 6zm-22 111zm-44 23zm22-3zm6 1zm-51 9zm3-3zm-22 10zm4-15zm-16 14zm-10-58zm3 1zm-3 4zm-2 2zm13 18zm5-2zm3-3zm3-5zm4-9zm-21-61zm45 13zm-7-85zm7 2zm22-18zm-10-12zm-12-16zm-17 9zm-1 5zm7-7zm15 1zm1 11zm-3 0zm0 12zm-12-1zm-9-1zm-11 6zm-13-26zm6-2zm4-10zm6-10zm-22-3zm-5 5zm-9-8zm-9-4zm2 16zm3 19zm-35 61zm-40 27zm7-53zm31 7zm7-1zm-14-22zm18-11zm7-20zm-12-19zm-8 16zm-11-18zm-31 17zm4 1zm4-1zm7 6zm-14 0zm18 10zm0 14zm-22 11zm-5 0zm-1-5zm-13-7zm0 4zm11-21zm0 12zm9-12zm-41-3zm-11 7zm2 29zm-11 9zm23 19zm6-18zm-8 3zm16-1zm2-1zm5-9zm3-1zm0 2zm5 4zm3 8zm4 0zm1 7zm-29 21zm7 8zm-12-7zm1 49zm-27-10zm0 3zm1 7zm6 19zm25-3zm18 14zm20-35zm6-3zm49 42zm-27 33zm1 4zm-1 7zm12 10zm-21-20zm-13 24zm-51-58zm-3-1zm-22 4zm-46 14zm-14 4zm-2 1zm1-11zm11-11zm32-1zm-2 3zm11-17zm-2-5zm8-4zm-119-17zm-10 98zm-31-43zm-26-13zm-33 40zm-13 6zm-19-1zm-1-47zm33 4zm6 18zm20-43zm-6-9zm-2 6zm-31 10zm-7 11zm12-33zm-12-7zm102-32zm-10-34zm-24 6zm12-7zm-18-17zm5 34zm-1 20zm-42-10zm-8 14zm-23-62zm66-26zm23-8zm-1-25zm132 22zm-89-71zm-31 41zm-13-5zm-67-239zm87 0zm13-5zm7 14zm242 240zm-245-363zm30 61zm-1 4zm-33 35zm-28-24zm-14-14zm-18 32zm-27 7zm-17-29zm6-8zm-7-6zm-15-31zm3-24zm8-22zm42 29zm8-27zm40 26zm5-21zm5 5zm2-13zm-8-5zm9-48zm-54 9zm4 7zm16 36zm-47-21zm-1-8zm1 3zm-14 15zm-12-13zm3 5zm-15-14zm2-5zm28-12zm1 4zm12 14zm14-2zm-32-31zm-11-46zm-15 1zm10-5zm15-3zm0 1zm-3-9zm18 6zm-4 12zm25-9zm-15-6zm17 6zm22-8zm-8 20zm-11-4zm63-2zm12 3zm-1-3zm17 36zm-27 24zm6 0zm-7 15zm-79-97zm-14-23zm-9 18zm0-6zm0-5z"/>
<path id="bd8" d="M844 504zm-35-21zm18 26zm-18 0zm-9-5zm4 4zm-57 73zm-9 15zm-7 7zm-3-2zm-1 5zm-5-3zm8-9zm2 1zm-4-11zm5 0zm1-6zm-26 7zm2 21zm12-34zm72-30zm5 0zm2-30zm3 1zm15 9zm-2-2zm14 18zm-6 3zm-7-5zm-2 6zm-4-11zm-8 5zm2 5zm7 17zm2-13zm8 5zm-3-6zm1 17zm-2 8zm-6 0zm32 13zm9 12zm40-50zm-5 5zm-3-2zm-10 5zm1 3zm-8 17zm0-3zm-6 4zm0-10zm-11 12zm-5-5zm-12-11zm12-9zm8-4zm-23-5zm41 2zm4 0zm18-11zm7 3zm-6 2zm9 7zm16 55zm-23-17zm-62 69zm-416 307zm-29-38zm-3 67zm9-7zm15 5zm2-5zm-4-9zm-6-11zm16 9zm-3 15zm-22 22zm3 11zm-44-7zm12-30zm-37-9zm-1 41zm-2 2zm-5 6zm-13 0zm11-9zm-19-13zm-9-4zm11 21zm-4-3zm1 5zm-27-5zm2 7zm-14 0zm9-15zm7-9zm9 10zm-3-22zm-3 8zm-12-2zm0-10zm28 9zm43-76zm13-30zm-5 11zm63-9zm14-17zm-170 134zm-6 2zm3 12zm5 6zm-6 22zm-3-8zm25 10zm-2 1zm16 4zm-5-4zm1-14zm-3-6zm19 11zm4-2zm-2-10zm17 25zm-10 4zm-15 14zm15-8zm-31 20zm12-9zm-15-10zm-1 6zm12 21zm50 14zm0-9zm12 5zm14 6zm-5-11zm13-4zm2-9zm-7-23zm-4 4zm2 15zm2 9zm-11-4zm-13-7zm0 7zm5 6zm-2 0zm-20-7zm13-9zm-2-10zm7-4zm10 1zm2-6zm-25-23zm17-5zm15 12zm-2 8zm27 1zm-1-1zm6-16zm4 11zm3 2zm-5 4zm-5 10zm5 2zm8 62zm2 21zm12-1zm566 398zm4 5zm10-1zm28 8zm-3 0zm-8-3zm3-17zm-12-2zm-6-8zm18-1zm4-12zm-16-21zm-4 0zm-3 3zm-3 12zm-9-15zm-14-12zm-1 33zm3 7zm1 6zm10-8zm11-7zm-8 10zm-27 3zm-5-11zm-7 3zm2 3zm-6-2zm-20-19zm-13 1zm0-11zm-9-5zm4-1zm3 2zm14-1zm5 5zm7-1zm0 15zm1 2zm6 2zm5-4zm9-9zm-6-6zm1-5zm0-8zm-3-2zm5 0zm7-6zm-4-7zm-7 0zm-5-5zm-2-4zm-5-3zm-2 4zm-1 5zm5 13zm1-4zm-4 12zm-6-8zm-10 8zm-7-13zm-9-11zm6-4zm2 5zm15-12zm-2-2zm-6 2zm4 1zm-18-13zm25-13zm9-1zm4 11zm-6-2zm-5 3zm23 18zm5-4zm19-13zm-3-12zm4 10zm1 9zm-8 1zm5 22zm-7-3zm-2 21zm6-5zm10-10zm-2-9zm22 1zm-2 3zm-7 0zm6 12zm5 5zm10 1zm9-2zm-6-7zm-3-4zm-4-3zm-7-31zm-10-1zm4-3zm-4-3zm22-5zm6-15zm0-16zm-11 2zm-8-1zm-8-1zm6 21zm4-7zm-2 10zm-10 5zm-13-4zm-18 4zm7-4zm15-21zm-5-2zm1 6zm3 4zm1 1zm7-18zm-11-7zm-4-18zm7 9zm-1 1zm8 0zm19-14zm-11 24zm6-7zm21 6zm-2-6zm-9-16zm8 1zm-14-15zm-5-8zm-3-2zm8-7zm9-1zm6-5zm2 0zm-4-7zm-27-5zm8 7zm0 3zm0 5zm-5-3zm-15 0zm9-13zm0-9zm-22 16zm5 14zm16-1zm-8 5zm-15 15zm-1 2zm-4 6zm-42-35zm-14 0zm16 13zm-7 24zm44 7zm-7 2zm5 14zm-17 5zm-4-9zm10 32zm8-1zm6 10zm-30-1zm-36-20zm-31 0zm-19-31zm48 9zm-22-23zm6-26zm-23-7zm6 18zm-6 1zm-30 18zm-2-25zm-30 54zm25-13zm13-4zm-17 28zm13 2zm-36-1zm25 46zm42-22zm12 36zm25 10zm2 11zm-17 3zm2-10zm-12 11zm26-440zm-14 22zm-1-7zm-5 1zm-14 53zm16 0zm1 17zm-7 15zm-28 1zm4 18zm-6 118zm16-81zm-21-33zm31 29zm93-9zm1 89zm2-43zm16 2zm5 0zm-5 5zm10 9zm3-3zm-28 4zm28 18zm14 21zm3 1zm6-27zm7-1zm-1-11zm-11 8zm-9-7zm2 1zm9-42zm-8-4zm-4 15zm-21-95zm-72-58zm185-19zm19 42zm-2-18zm-8-4zm1 7zm1 52zm2-10zm5 7zm8 2zm9 35zm-15-23zm-5 1zm-4 6zm-33 17zm3 17zm-5-14zm14 23zm-1 9zm-6 19zm0 4zm-1 7zm-30 18zm1 6zm2-5zm1-2zm-3 14zm-17 8zm3 1zm10 3zm9 6zm-4 6zm2 2zm9-12zm-14-1zm7-1zm-3-3zm-3-4zm14-1zm15 2zm-5 3zm4 24zm9-22zm2-15zm-4-10zm-13 13zm-2-3zm9-7zm11-8zm1-7zm12 16zm-5-1zm6 29zm34-16zm3 12zm-2 0zm-4 9zm19-7zm-23-20zm1-7zm21-29zm3-14zm-28 12zm-2-20zm-1-15zm-7 1zm0-9zm46 53zm6 11zm2-4zm11 7zm-17 39zm92-112zm1 8zm9 6zm7-15zm4 0zm-9-3zm-6-3zm-6-10zm9-4zm2-11zm19-10zm-19-11zm-9-6zm-8 6zm-3 39zm-28-69zm-11-12zm-9-1zm4-33zm51 58zm15-18zm10 3zm-12-27zm9-18zm5 0zm9 0zm23 24zm23-24zm5 4zm9 0zm-3 3zm-4 2zm7 5zm-27 12zm-5 18zm31 63zm17-41zm-8 20zm5 25zm8 13zm1-2zm6-7zm-2-2zm3-7zm15-6zm-5 5zm6 22zm0-13zm13-2zm-6-5zm-2-6zm-4-14zm-14-64zm-6-2zm-13-17zm75 5zm7 33zm16 10zm-8-50zm-29 86zm7 13zm-1 12zm-10 2zm-35 128zm-3 6zm9-114zm-7 5zm-49-8zm-4-4zm18 93zm-15-2zm-2-8zm13 25zm-21 8zm-13 6zm2 2zm58 36zm-10-32zm-126 214zm-1 10zm-19 7zm-6 3zm-14 16zm11-50zm-4 7zm-1 13zm3-11zm4 2zm2 7zm6-3zm6-17zm-11-16zm-4-3zm-14 1zm-5 7zm-21-15zm9-3zm5 3zm-16-30zm16-4zm2 4zm-9-76zm5 16zm19 10zm-15 4zm-7 14zm-52 4zm-26-65zm-16 11zm-10 3zm-6-6zm3-11zm-5-7zm15 3zm8-28zm-13-2zm-11 1zm7 5zm3 11zm-26-19zm-8 4zm4-9zm18 49zm-10 4zm-8 4zm-2 0zm12 21zm-6 9zm7 0zm6-7zm-6-16zm31-3zm0 12zm-4-2zm-4 7zm-10 5zm2 11zm-2 1zm18-1zm-3 18zm-10 7zm5-11zm-29 3zm14-7zm-2-12zm-8 2zm-5 6zm-4-3zm0-5zm-2 23zm-5 23zm6-6zm4 0zm0-7zm0-2zm16 23zm-8 8zm-5-5zm-9 9zm6 10zm-13-3zm5 9zm9 3zm15-12zm-4 3zm-7-10zm4-2zm13 15zm16-3zm8-23zm-17 6zm1-2zm-3 0zm-3 5zm-3-1zm-4-4zm3-8zm7-2zm5-5zm19 13zm15 4zm15-17zm25-11zm5 7zm-9 2zm9 9zm-21 11zm2-2zm-1-10zm-18 26zm-14 20zm53 22zm-7 23zm5 12zm-9 3zm-25-1zm-62-54zm-6 9zm-22 6zm4-1zm44 47zm14 3zm-8 4zm40 7zm30-4zm12-8zm3 0zm5 4zm-3 13zm31-15zm341-682zm3 6zm6 7zm11 79zm-50 53zm-3-8zm25-32zm-16-2zm-2 17zm-22 8zm4-11zm9-13zm-14 5zm-8 7zm3-11zm-8 19zm10-4zm-4 2zm0 8zm-3-2zm-7 5zm29 1zm-3 4zm-30-2zm-1 0zm-2-2zm-9 4zm-2 7zm-1-7zm2-4zm-11 14zm1 8zm-1-7zm-1 13zm-14-13zm-5 12zm-16-12zm15 5zm-2-7zm15-10zm-1-5zm-6-5zm-11 4zm-10-13zm4-7zm6-3zm44-13zm7-17zm-9 5zm-5 11zm-16-2zm-1-2zm-12 6zm-13 3zm24-15zm20-22zm33 20zm21-3zm13-60zm-39 11zm30-47zm0 7zm11-4zm-22-22zm-2-7zm-2 9zm-61-11zm-7 1zm-56 71zm-7 5zm-14-11zm-7-65zm-5 5zm-5-5zm0 71zm-26 4zm-5 3zm-5 0zm1-3zm-12-20zm-10-5zm15 54zm-4 10zm-3 14zm34 8zm4-25zm-5-1zm-8-5zm1-6zm10-8zm-9-9zm67 29zm8 12zm-6-4zm9 0zm4 4zm-14 20zm-1-9zm-8 8zm0-12zm-26 26zm23 1zm-10-2zm2-3zm12 7zm30-7zm-22 14zm-1-5zm-6 6zm20 13zm-52-2zm-17 22zm6 3zm-9-12zm8-14zm-2 11zm-3 2zm-46-13zm1 13zm22-11zm2 16zm4 4zm-22 3zm-3-7zm-6 7zm-40-4zm-8 8zm-11-2zm5-21zm17-30zm7-2zm28 20zm-2-2zm-21-27zm-3 2zm1-13zm20-41zm4 0zm2-2zm-9-7zm-7 30zm-28 20zm-60-26zm-20 66zm50 0zm-14 7zm19 6zm3 12zm-6 9zm-19 0zm-63-53zm-5 23zm13-41zm4-20zm9 2zm-7-4zm-20-115zm30 16zm9-39zm31-11zm21 49zm-16 4zm-32 9zm11 24zm37 28zm14-38zm-8 7zm7 6zm55 22zm-51-69zm-28-65zm-32 11zm-19-281zm0-18zm1-9zm-26-5zm-53-133zm0 15zm11-5zm-3 2zm-2-31zm-7 11zm-7 6zm31-26zm6 9zm10 16zm26 0zm12-44zm-1 5zm-8 2zm22 3z"/>
<path id="bs8" d="M1013 239zm-26 13zm-132 125zm137-121zm0 15zm3-1zm6-7zm19 20zm-19 12zm-20 21zm-5-2zm-10-6zm2 0zm7 17zm-12 8zm14-12zm7 0zm37 29zm0 9zm0 3zm-61 21zm-15-8zm-5-14zm12-16zm-1 6zm-39 50zm-6 11zm-7 5zm37-20zm9-6zm36 11zm1 2zm15-7zm4-13zm22 15zm-17 17zm-38 12zm26 45zm-51 37zm-6-8zm-24-38zm5-10zm-10-1zm-12 16zm2 23zm12-5zm12-5zm-38 26zm-3 1zm-7-22zm4 18zm-21-8zm-8 4zm-4-52zm23 8zm2 10zm5-22zm2-7zm-24-27zm-11-10zm9 18zm10-2zm-5 7zm4 13zm-24 6zm-6-9zm-11-15zm3 2zm8 7zm-5-10zm4-4zm-11 0zm-8 1zm-39 11zm3 52zm45 0zm12 18zm-43 12zm3-6zm-6-1zm4-3zm10-2zm-6-3zm2-4zm-7-2zm-2 8zm-5 9zm-32 74zm-6-1zm-26 38zm-25-27zm0-22zm36 6zm5-1zm17-18zm0 3zm-12 4zm1 11zm44-37zm9-13zm-4 5zm10 49zm1-11zm-16-18zm-8 0zm34 40zm10-9zm18 0zm18 28zm18 23zm7-39zm-2-20zm-3 3zm4-51zm12 3zm-7 0zm43-6zm-5 1zm-6 4zm-5 15zm-6 25zm34-37zm28 21zm-38 89zm0-30zm-18-26zm-40 110zm5-38zm-50 204zm16-15zm0-6zm8 0zm9 11zm-10-2zm4 6zm-9 17zm-8 9zm2 12zm19-10zm20-5zm2 3zm6 1zm-2-13zm-4-2zm-11-9zm2-17zm-4-20zm-6 10zm3-10zm67 203zm-65-123zm-407 127zm11-22zm-20-25zm5 0zm35 11zm-54-33zm7-55zm-6 6zm-44-8zm40 80zm0 6zm10 3zm-13-4zm12 17zm4 6zm-35 3zm1-10zm-26 12zm-7-1zm-12 13zm-11-38zm-25-12zm5 26zm-29-78zm32 11zm22 5zm-5-19zm12-15zm18-57zm0 19zm45 6zm-188 175zm46-21zm3 56zm3 3zm19 31zm-6-21zm44 20zm-10 5zm-16 7zm46-2zm7-17zm-10 7zm-6 2zm115-33zm-91 6zm596 471zm0-5zm-6 10zm-3-9zm-12-17zm45 20zm2-74zm-24 34zm5 4zm-35 6zm-2-9zm-16-11zm-3 13zm87-84zm-2-4zm-198 26zm0-7zm-3 3zm39 14zm-19-8zm23 14zm22 12zm-51-413zm40 173zm107-86zm13 5zm29-2zm-12-38zm-91-81zm15-20zm-4 7zm85 50zm28-52zm1 11zm9 0zm36 41zm-10-29zm-9-4zm0-20zm8 9zm70 12zm-11 0zm-42 13zm5 24zm2 8zm-6 6zm-2 18zm30-21zm22-7zm1 14zm-11 4zm-1 18zm6 5zm12 17zm-15-1zm-15-12zm-21 1zm2 4zm-10 9zm-17-1zm11-17zm-3-38zm-11 0zm-18 31zm-13 17zm-16 33zm19 2zm4 3zm3-8zm15 10zm-10 3zm14 17zm-19-5zm-21-8zm76 33zm1-17zm-7-6zm-5-6zm16-16zm-13 6zm-3-6zm-1-21zm-2 0zm37 1zm11 26zm24-31zm-2 30zm10-17zm-2-12zm25 3zm5 12zm-17 63zm0 8zm-14 32zm10-12zm12-10zm21 11zm26 4zm1 13zm-4-17zm14-6zm25 4zm-1-1zm2-6zm-16-9zm2-8zm-11-5zm5-12zm11-6zm4-12zm-16 0zm1 7zm4 1zm-3-2zm-9-3zm-12 10zm2-29zm-11-13zm-1-13zm16 5zm34 11zm2-5zm-1-29zm-46-40zm-14 35zm5-5zm8 19zm-10 0zm-10-13zm3-9zm-12 4zm-40 20zm-1-6zm5-2zm1-9zm11-38zm14 3zm18 21zm1-24zm-42-31zm-9-35zm68 32zm-9 24zm24-17zm42 76zm12 2zm8-1zm6-17zm-2 3zm-10-2zm6-6zm11 28zm16-15zm9 14zm6-2zm6-1zm105-115zm-10 90zm-9 10zm2 5zm-22 12zm9 13zm-29 114zm-17-16zm3-92zm1 13zm-26-29zm0 1zm-9 22zm2-1zm2 22zm8 6zm-48 1zm16-18zm0-5zm9-8zm-24 2zm6 8zm-10 1zm-2-9zm-24-22zm7 36zm7 4zm1 5zm-9 45zm51-21zm-11 10zm-44 35zm-6 13zm17 20zm19-13zm6-2zm15 23zm15 14zm44-25zm-216 123zm43 7zm26-50zm0 9zm-12 21zm7-35zm-5-10zm-7-5zm31-9zm-2 10zm-11 15zm10-30zm1-20zm6-1zm6 5zm-9-45zm-7 10zm-7 1zm-7 9zm-2-8zm3 24zm-34 9zm-3 21zm7 5zm-9 42zm-3 10zm-163-89zm-1-2zm-2 234zm32 11zm1-5zm41 6zm-9 0zm22-8zm6 1zm26 8zm-2 13zm8 2zm381-726zm15 22zm3-5zm13 85zm-1-18zm-12 41zm3-9zm-39 50zm-8-2zm-42-43zm11 36zm4-4zm-7 7zm-5 4zm-7 3zm-14 5zm1-5zm-21-32zm14-9zm1 3zm17 8zm-11-23zm7-2zm6 4zm-6-49zm18-5zm20-30zm-27-8zm-2-9zm12-11zm7-6zm6-9zm26 0zm-7-10zm-9-9zm-34-35zm3 2zm5 2zm5 6zm-14 6zm9 14zm16-8zm1 2zm-15 17zm-4-3zm-11 2zm-27-4zm28-15zm-3 1zm-4-19zm5-9zm1 1zm-8-8zm-20 10zm-9 13zm-16-25zm5 17zm-1 3zm10 33zm-15-6zm46 20zm9 19zm-1 21zm-38 15zm-73-7zm-2-40zm31-32zm8-15zm-48-1zm18 8zm-11 14zm-8 7zm1 4zm-11-22zm-7-26zm-22 36zm2 5zm-5 6zm-2 1zm-18-12zm17 38zm9-2zm-9-10zm21-2zm20-1zm-9 4zm-13 4zm-1 21zm-2 7zm15-2zm-1 3zm-11 3zm-3 1zm-12-10zm-2 55zm-21-13zm20 37zm-6 3zm2 0zm-1 1zm22-23zm7 9zm-7 4zm-5 4zm21 3zm-2-19zm13-35zm29 13zm-14 38zm27 46zm6 18zm-10-3zm-7 2zm-10 9zm-10-3zm-59-51zm-4 3zm-11 2zm-16 25zm-18 3zm-9-4zm19-21zm-1 10zm17 5zm-5-21zm-4-4zm6-1zm6-10zm-16 5zm9-24zm-95 88zm-31-5zm-26-50zm-58 31zm-4-3zm-3 26zm-19-8zm11-11zm7-38zm9 12zm8 5zm-5-2zm-3-37zm1 12zm-6 4zm38-55zm-2 50zm7-95zm-31-15zm-39-19zm70-12zm35-38zm62 14zm81 38zm-12-47zm169-13zm-260-310zm15 20zm-67 20zm-3-27zm3 0zm-7 19zm14-55zm-8-51zm-37-16zm-11-12zm-18-1zm-14 20zm-5 7zm-5-4zm-5 3zm4-1zm12-23zm1 9zm7-11zm-11-10zm-16 8zm19-21zm17 1zm22-40zm-15 0zm-3-1zm-5 7zm-8 15zm-9 5zm-2-39zm-7-21zm18-1zm9 15zm3-5zm11 21zm45-7zm8-17zm38 15zm1 90zm-96-128zm-2 5zm-11 5zm-14-6zm-19 4zm21-14z"/>
<path id="bd9" d="M867 503zm-15 4zm-13 0zm-3-4zm5-36zm12-5zm17 10zm-72 6zm0-4zm3 16zm29 15zm-28-3zm-4 7zm0-17zm-59 98zm-3 2zm13 7zm-21-3zm-5-9zm-4-1zm-7 9zm1 8zm79-66zm4-5zm3-9zm-3-6zm10-4zm14 4zm5 3zm-15 22zm2-5zm3-9zm6 18zm5 2zm-18 13zm-2 6zm-4-2zm82 21zm-16-30zm-9 19zm-17-22zm0 4zm18-10zm-4-5zm4-5zm-1-3zm-11 1zm4 5zm-5-3zm-3 2zm-4 4zm4-16zm8-4zm7-6zm3-2zm6 28zm26-5zm3 38zm-487 415zm-17 21zm-39-9zm22-11zm-1-15zm-45 45zm-38-20zm-1 12zm-29 3zm7-16zm12-4zm40-42zm-81 55zm51 18zm24 1zm0 9zm-24 21zm6 7zm14-9zm5 13zm10 21zm23 3zm-2 7zm9-7zm23-20zm4-15zm-18-1zm-12 12zm-2 15zm-27-1zm8-18zm10-7zm2 10zm0-12zm3-11zm-12 2zm-5 4zm-7-3zm-2-3zm9-14zm30 7zm16 14zm19 10zm30 78zm-41-22zm15 4zm7 10zm582 418zm11-14zm-3 7zm20-24zm-18 9zm-1-6zm8 3zm-4-18zm13 2zm9-6zm-21-32zm-10 5zm11 14zm-2 8zm-19 3zm-5 1zm9-31zm-2 3zm-20 3zm-1 15zm7 2zm-3 7zm7 14zm-14 5zm0 5zm-2-3zm-5-8zm5-5zm-4 1zm-44-26zm14-9zm27 19zm-5 5zm2-3zm8-9zm2-35zm-11-5zm-7 11zm-1 7zm1 4zm-9-4zm-2 4zm-8-10zm-20-4zm8-5zm3-11zm7 15zm22-38zm-11 19zm5-3zm14-9zm-1 14zm24-18zm6-8zm4 10zm2 13zm-17-7zm-6 10zm3 22zm4 11zm2-10zm0-3zm3 1zm1-2zm10-9zm-1 1zm15 20zm3-9zm12 4zm5 4zm-8-28zm-16-12zm2-3zm6 1zm-2 2zm7-2zm-2-7zm-3-3zm0-3zm21 5zm-8-15zm3-15zm-11 3zm-2 16zm-36 0zm16-19zm-20-20zm8-24zm21 4zm3 6zm-1 9zm4 11zm4-8zm19-7zm0-2zm-11-9zm-4-14zm-10-7zm3-12zm8-12zm9-9zm1-5zm-25 0zm-69 54zm3 34zm-2 26zm-46-51zm-5-23zm-8-2zm-29 7zm-13 1zm6 32zm64 102zm-43-10zm-6-6zm44 35zm-1-439zm-14 2zm-10-9zm5 101zm-40 20zm-10-3zm22 67zm110-1zm5 1zm25 36zm17 1zm12 10zm8-12zm-5-9zm7 2zm-8-9zm-2-16zm-4-27zm-30-68zm112-81zm13 30zm18 63zm-7-6zm-1-13zm-1-6zm-3 12zm-11-5zm-40 24zm14 12zm5-8zm-2 8zm0 13zm-8-8zm19 17zm-47 37zm12-1zm-22 17zm3 7zm2 15zm-4 0zm2 11zm19-23zm17 12zm-11 2zm1 3zm9 10zm9-7zm2 4zm0-2zm6-7zm-8-7zm12-9zm-16-9zm-9-4zm3-8zm-9 2zm3-1zm1-2zm19-4zm3-5zm3 1zm18 25zm-1-5zm-12 5zm17 35zm5-17zm22-9zm-14 19zm6 1zm10-25zm-5-5zm-2-2zm-8 1zm9-3zm-8-10zm7-13zm19 11zm-11-40zm6 12zm-12-6zm-2 11zm4 10zm-41-10zm5-6zm18-2zm3-2zm-2-25zm-14-10zm7-2zm17-4zm-2 28zm39 30zm7 8zm16 34zm56-101zm14 0zm-1 13zm-3 18zm20-32zm-5-1zm-19-19zm28-12zm-47-3zm7 17zm-48-107zm21 20zm-9-10zm49-10zm45 8zm17 12zm-13-20zm21 11zm9-9zm0 3zm2 6zm8 13zm-13-4zm-15 47zm17 53zm13-44zm24 17zm-8 25zm9-15zm18 22zm22-6zm-57-97zm54-17zm6-7zm40 8zm-5-5zm-35 99zm24 8zm-64 134zm-12 9zm4-14zm9 0zm1-29zm-5-10zm15-65zm1 5zm-35 0zm-3 2zm-15-14zm3 106zm-34 18zm-3-7zm18 14zm74 8zm4 6zm-172 198zm10-6zm-2 10zm-23 30zm-3-21zm-2 6zm-33 12zm2-22zm11-5zm-1-5zm-13 6zm-8-20zm15-6zm2 12zm24-6zm-8 20zm-1-1zm12 0zm8 0zm6-4zm-12-20zm13-2zm-6-21zm-13 5zm-9 8zm-4-5zm-16-1zm2-38zm2-69zm29 39zm-9 6zm-19-1zm8 1zm1-4zm-15 6zm-18 2zm-14 4zm-26-35zm23-66zm-22-14zm-7 6zm-33 28zm-13-9zm16 11zm9-45zm-14 4zm-5 1zm-2 5zm-2 11zm-8 4zm-2-9zm5 5zm-15-13zm-9 20zm25 29zm-9 5zm-11-9zm-7 17zm0-3zm7 25zm4-7zm5-1zm0 9zm10-2zm0-9zm1-2zm4-11zm9 3zm0-5zm4-1zm5 16zm-9 27zm2-7zm16-2zm-5 2zm1 16zm-19-6zm-13 10zm4-19zm-4-7zm-24 3zm4 10zm-4 21zm4 9zm8 3zm3-1zm3 6zm5 0zm-20 3zm1 13zm7 0zm3 11zm-6-1zm-3 1zm1 13zm4-5zm9-7zm-2 13zm6-1zm4-8zm-6-9zm16-5zm4 20zm15-6zm-9-17zm14-9zm-12-8zm-5 2zm-10-16zm28 7zm4-11zm34 12zm5-8zm13 18zm-15 1zm6 10zm9 0zm3 24zm-34-18zm16 28zm6 43zm16-12zm-3 5zm-66-32zm-21 0zm8 19zm-7 4zm-6-19zm-8-10zm-16 26zm14 16zm41 35zm4 2zm54-6zm2-3zm17 4zm-3-1zm2-5zm16-3zm20 7zm-9 2zm353-686zm7 7zm-7 4zm10 8zm-6 74zm-7 12zm16-5zm-41 36zm3-4zm7 11zm7-22zm-7-18zm-1 5zm-13 4zm3 4zm2 6zm-6 4zm-4 4zm-7-3zm-2-8zm3-6zm-9 21zm2 7zm-36 6zm1-7zm5 0zm-12 2zm-7 11zm6-4zm-36-2zm10-2zm-8 1zm11-18zm-18-4zm4-2zm8-4zm-4-10zm-3 5zm-1-11zm9-3zm39-2zm3-10zm-1-1zm7-4zm-1-8zm-11 8zm-4-14zm-12 13zm10 7zm-1 9zm-7-4zm-2-2zm-16-3zm-3 4zm-12-26zm56-1zm22-30zm-5 46zm-4-3zm-6-2zm-1 17zm22 1zm4 2zm1-9zm22-25zm7-58zm-5 0zm-15 2zm-29 24zm22-36zm2-13zm9 14zm11-2zm12 7zm-1-6zm-13-8zm-1-6zm-13-15zm-73-12zm-3-2zm-62 72zm-9-4zm-5-8zm-7 6zm-2-1zm14-3zm9 1zm-5-21zm-3-6zm20 15zm-38-45zm-46 76zm-16-8zm25 30zm23-3zm0 9zm2 4zm-4-5zm-15-20zm10 2zm3-2zm3 6zm26-2zm-4 2zm34 9zm12 36zm-27 4zm4-5zm-3-13zm-10-4zm-4-1zm-10 9zm13 13zm0 17zm27-1zm16 11zm-22-2zm15 14zm9 6zm-59 18zm-6 0zm-6-11zm3-23zm-10-11zm-2-6zm2-4zm-10 2zm-25 40zm1-13zm3 3zm15 2zm-2 5zm-8 8zm2-1zm2 9zm-8-2zm-1-1zm-14-2zm0-1zm-4-7zm-25 16zm-34-19zm51-63zm-14-17zm-12 17zm-31 54zm2 7zm-14 18zm-54-10zm5-1zm-26-87zm24-107zm-4-23zm31 11zm-21 46zm121 45zm-2-11zm-197-561zm0-11zm5-1zm-10-9zm-14 12zm13-5zm-10 13zm83-13z"/>
<path id="bs9" d="M1000 241zm-5 5zm26 26zm-21 8zm0-7zm-11 43zm-1-15zm-18 5zm-5 14zm4 6zm-7 6zm17 17zm0-14zm34 2zm3 11zm-24 0zm31 13zm-34 22zm-15-25zm-9 17zm4-6zm-26 1zm-5-14zm0-5zm-12 48zm-5 15zm-5 9zm26-36zm14-2zm14 6zm11 54zm-8-28zm-10 15zm27 68zm-48-46zm-17 2zm-44 42zm1-10zm-10-4zm-7 7zm12 6zm-17-15zm0-6zm-10-27zm-2 6zm7 4zm5 0zm-2-9zm10-8zm15-16zm-29-25zm-6-9zm-2 14zm-12 5zm3 20zm18-11zm1 20zm-19 6zm-14-10zm6-10zm-35 73zm-81 110zm-14 7zm-2-19zm0-5zm-8-2zm-5-33zm2 15zm40-16zm1-8zm10 19zm45-39zm3 10zm53 98zm35-109zm-5-2zm10 9zm3 3zm0-13zm15 2zm0 2zm8 42zm-29 122zm-40 152zm8-1zm13-9zm-5 17zm7 4zm-5 6zm-16-2zm-5 16zm13 8zm18-5zm-9-12zm6-1zm5 17zm17-2zm1 8zm8-20zm-3-10zm-9-10zm19 28zm121 84zm-10 46zm-71 5zm-455-9zm-1 5zm-15 4zm-3-34zm-16 6zm38-7zm-59 5zm-2 11zm21 17zm1 4zm-30-2zm-33 9zm-1-7zm-3-3zm-24-40zm-99 1zm72-70zm83-81zm3-8zm-167 152zm5 20zm-20 14zm4 42zm68 36zm-40 18zm106 2zm6-17zm-51-12zm55-43zm23 12zm-4 5zm21-11zm33 0zm-47 117zm581 413zm20-8zm8 3zm7-2zm-4-21zm-32-4zm3 4zm-35 0zm-49-26zm21 3zm88-71zm-8 0zm6-18zm-163-381zm30 183zm141-33zm-41-19zm-6 8zm-1-6zm16-20zm8-1zm-44-122zm65 18zm121-2zm-16 27zm-29-1zm-4 1zm4 19zm22 13zm23 7zm-9 2zm-3 15zm5-3zm10 2zm-3 22zm-7-1zm-21-6zm-79-21zm51 49zm-18 41zm2-4zm-34 5zm74 4zm-1 13zm7-25zm-8 2zm-4 0zm-10-26zm-2-5zm7-6zm4-14zm32 8zm23 20zm52-8zm-13-1zm-7 3zm3 1zm-1 10zm6 1zm-41 0zm5 3zm35 74zm18-3zm-1-31zm-23 15zm17-22zm3 2zm3-6zm5 50zm20-2zm7-4zm2-4zm-5-8zm38 19zm-3-3zm-9-26zm-14-12zm21-14zm3-21zm-8-9zm-2 5zm-6 23zm-20-1zm3-5zm4 0zm-20-3zm-3-17zm13 3zm-8-31zm16 0zm27 8zm7-4zm-5-7zm-56-69zm0 26zm8 8zm2 25zm-9-7zm2 9zm-13-8zm2-11zm-5-3zm-10 0zm-20 18zm-21-4zm146 3zm5-17zm14 10zm-3 6zm4 3zm17 0zm-1-19zm-1 6zm13 4zm0 6zm35-119zm63 121zm-59 127zm-4 2zm-10-21zm-3-4zm11-11zm-3-33zm-1-1zm3-21zm17-22zm-16 17zm-12 2zm-7-6zm1-10zm-13-7zm-3-6zm7 18zm-4 9zm0 20zm15-7zm4 13zm-15 6zm-14-4zm-18 2zm-7-12zm1-39zm3-5zm-20 15zm-6-7zm-8-4zm0-4zm4 18zm1 23zm7-7zm8 21zm-22 50zm12 31zm-1 10zm15-12zm3 1zm10 17zm5-6zm42 45zm5-18zm-140 159zm-11 30zm-24-70zm-12-28zm2 14zm1 4zm2 2zm59-51zm-21 3zm-10-5zm18 7zm-16-27zm9-3zm-11-7zm7-5zm21-1zm10 10zm-4-3zm10-3zm-3-14zm-6-18zm-5-1zm22-2zm6-6zm-12-30zm1 5zm-23 4zm-12-4zm-3 6zm-3 21zm3 19zm-2 3zm-14-5zm-8-13zm3-4zm3-27zm2 78zm1 32zm-72-104zm-102 19zm5-8zm-15 7zm2 5zm8 3zm9-1zm-9 12zm7 1zm-23 97zm42 123zm17 7zm28-4zm21 8zm10-8zm41 10zm357-711zm29 104zm-10-49zm6 32zm-5 15zm0 8zm-15 37zm-12 13zm-4-3zm-19 0zm4 1zm-27 0zm-8 0zm-46-41zm1-2zm24 21zm6-7zm5-3zm-10-19zm-51-53zm40 0zm19-10zm17 18zm4-58zm-14-9zm60-3zm-28-29zm4-5zm-5-5zm-16-23zm-9-3zm-2 10zm-4 3zm4 8zm2 25zm-8-7zm-4 12zm-2-11zm-20 9zm5-6zm-6-16zm17-4zm-3 13zm-1-20zm-11-17zm-20 14zm8-20zm-8 10zm-9-1zm-2-5zm-2-6zm-6 11zm15 9zm-11 5zm0 12zm7 1zm18 11zm2 1zm25 71zm-98 2zm-11-5zm-5-34zm-1 1zm3-21zm9 11zm12-6zm29-14zm-16-21zm7 5zm14-7zm0-28zm-5-2zm-17 10zm-1-5zm-21 13zm9-14zm-21 4zm-5 17zm3 11zm3 3zm4-2zm-2-5zm6 8zm5 6zm8 6zm-56-6zm-14 37zm9-19zm31-2zm-17 16zm-11 14zm21 16zm-50 67zm12-16zm24 4zm3 7zm-10 6zm8-2zm15-25zm-3-1zm69-12zm-11 46zm-1 5zm-31 22zm18 19zm1 10zm-11 7zm-6 1zm-3-2zm8-4zm7-6zm-18-5zm-7 4zm-22-7zm-18-38zm-23 16zm1 2zm5 4zm-17 13zm-5 4zm-31-18zm24-5zm6 14zm9-16zm-5-21zm1-8zm-241 67zm20-12zm-3-1zm8-43zm14-29zm54-27zm-21-22zm146-33zm177-80zm-236-268zm-57 4zm-60-40zm12-120zm1 8zm-28 6zm9 24zm-31-12zm-9-2zm0-4zm11 5zm-17-26zm27-6zm29-44zm-21 0zm-11 25zm-12 4zm19-24zm-5-17zm-6 3zm2-1zm-6-18zm6 3zm4-5zm20-3zm-14 9zm4 19zm6-4zm-2-8zm9 8zm3 5zm19-4zm69 25zm-81-52zm-25-11zm-13 1zm-2-2zm-2 8zm1-14z"/>
<path id="bd10" d="M872 506zm-33-2zm-6-41zm4-4zm-3-11zm36 31zm-47-49zm-22 59zm26 16zm-34 4zm-56 72zm0 24zm-6-3zm-5-9zm9 1zm-8-9zm-9 5zm-9 7zm88-60zm17-11zm-2-10zm14 24zm-21-9zm-5-3zm5 28zm8 0zm2-1zm-2-4zm0-5zm5 5zm9 3zm0-1zm-5 1zm-3 18zm47-27zm12 19zm-32-3zm-11-8zm23-23zm-15-8zm-7-3zm18-4zm-1 4zm-5 5zm8-1zm8 17zm38 68zm-492 403zm-107-19zm-5 22zm-17 8zm60-103zm19 32zm-79 77zm21 3zm43 60zm37 31zm-26-10zm8-3zm-6-8zm19-29zm2-3zm3-12zm-8 10zm-10 2zm-7 1zm2 6zm-16 5zm-8-1zm-14-14zm29 4zm-14-20zm3-2zm-16 5zm5-22zm12 8zm26-3zm-13-2zm5 17zm3-3zm11-4zm14-15zm5 3zm1 2zm5-5zm-2 1zm6-4zm-2 45zm-12-7zm81-20zm-1 27zm-78 56zm592 425zm8-16zm17 10zm-9 5zm-3-5zm6-12zm-1-13zm-3-9zm-3-2zm30-22zm0-13zm-19 0zm-11 22zm-5 6zm2-3zm-13 0zm-1-4zm9-7zm-5-3zm-8-13zm-12 21zm10 8zm-5 9zm7-4zm11 2zm8 13zm-18 1zm-4 3zm-3-5zm-20-14zm-19-15zm-17-5zm12-13zm7-1zm11 4zm-5 11zm6 4zm12-11zm1-17zm-4 1zm-1-4zm-5-4zm15-2zm-2-6zm-11-9zm3 15zm-20 2zm-11 13zm9-20zm-5-4zm-3-17zm35-1zm14-5zm20-4zm-1 12zm-9 1zm-4-2zm-3 18zm8 9zm0 8zm7-12zm-4-12zm5 4zm11 2zm7-3zm-3 0zm-8 11zm0 12zm9 4zm3-7zm14 1zm3-10zm-15-1zm3-6zm7-8zm-2-44zm3-12zm-10 0zm-14 21zm-6-12zm12-38zm21 17zm-5-32zm4-6zm-2-14zm-49 2zm-58 14zm47 35zm-105-67zm-11-5zm0 23zm7-10zm-57 13zm3 84zm88-350zm0 136zm42 61zm78 1zm-44-93zm16-15zm124-90zm0 51zm8 5zm0-25zm13 56zm-23-15zm3-11zm-48 35zm21 2zm7 27zm4 12zm-1 2zm-7 5zm9 5zm-7 7zm-28 30zm-24 6zm2 6zm-2 17zm3-1zm4 4zm3-4zm5-4zm8-4zm-1-10zm9 11zm5 7zm3 5zm20-18zm-8 0zm3-17zm4-4zm-17-14zm-3 4zm1-7zm46-4zm-18 22zm-4 12zm10 2zm-4 1zm4 23zm-4-9zm3-3zm6-6zm17-12zm3 9zm5 17zm5-10zm4 13zm11-12zm-4-8zm-9 0zm3-5zm7 1zm4 1zm-5-13zm-8-6zm1 1zm-19 2zm0-4zm12-2zm-10-5zm16-20zm-7-21zm-10 0zm0 11zm-6 15zm3-31zm-20-10zm4 3zm4-19zm10 7zm53 45zm-2 7zm-11 17zm0-4zm5-9zm-4 15zm-2 9zm-2 7zm8 1zm10 2zm81-67zm-7 3zm0-30zm3 3zm17 16zm1-32zm-18-4zm9-1zm-2-8zm-5-3zm-3-35zm-49-66zm13 25zm71-20zm18-1zm12-8zm24 1zm-22 15zm25 76zm-19-8zm24 5zm21 17zm-16-89zm5 1zm19 225zm-21-6zm3-1zm-8-6zm15 3zm5 5zm-6-16zm-8-19zm23-72zm-35 4zm-9-5zm-2 3zm-47 45zm41 47zm8 14zm-10 2zm14 23zm50 28zm-15-15zm-23-14zm36 0zm4 5zm2 11zm2-1zm-174 183zm-9 46zm-4-26zm-17 6zm-3 8zm2 7zm3-3zm3 11zm-2-4zm-9 4zm-13-8zm-17 0zm12-2zm-12-7zm29-21zm-27-3zm12-15zm2-2zm13 2zm14-5zm2 12zm-9 12zm6-3zm15-23zm-8-3zm1-16zm-8 0zm3 10zm-9 2zm-8 4zm-4-8zm-9 8zm-6-5zm-5-23zm10 2zm10-7zm7-1zm-9 5zm-8-22zm62 37zm-12 11zm14 1zm18-87zm-6-3zm9-46zm-84-8zm-14 26zm35 45zm-14 7zm-4-18zm3 6zm-18-10zm2 11zm7 8zm-23 3zm-14 6zm-17-13zm-6-13zm13-11zm-5-14zm28-15zm-9-50zm-2 9zm-24 0zm-16-14zm4 32zm-5 10zm7-4zm20 7zm0 6zm-34-7zm-2 2zm-4-1zm-6-8zm-7 0zm2-5zm13 9zm-5-27zm6-16zm-4-1zm-13 27zm-7-4zm1-7zm-4-5zm2-2zm1-1zm-11-10zm1 10zm-18 24zm27-1zm-18 39zm-6 19zm7 0zm-4-10zm23-9zm6 5zm9 2zm-4-12zm6 13zm0 6zm8 9zm-11-3zm-3 2zm4-10zm-11 10zm7 14zm18-12zm-11 13zm1 3zm7 13zm-10-8zm-23 10zm-1-7zm7-5zm-6-4zm6-15zm-25 1zm-3 19zm5 0zm6 4zm-7 1zm23 9zm-3 5zm-9 2zm5 7zm-8 3zm-10 20zm8 0zm-5 4zm16 6zm3 9zm5-11zm-12-2zm1-6zm34 11zm7-3zm2-7zm-6 0zm-4-17zm-6-8zm-5-14zm11 4zm-2 0zm0 0zm28 7zm-8 7zm-1 10zm11-9zm11-3zm32 7zm-8 5zm1-2zm-14-11zm-7 24zm11-6zm16 12zm1 17zm-38-22zm0 1zm-15-2zm-2 4zm-2 5zm-2 43zm39-23zm3-5zm14 5zm1 4zm3 3zm-11 12zm-3 7zm-1-1zm-6 0zm14 25zm-18-1zm-12-5zm-41-11zm2-2zm3-14zm-4-9zm-12 0zm-5 1zm-27-7zm9 22zm45 52zm19-6zm-4 3zm-3-13zm4 3zm12-2zm2 13zm11-15zm18 1zm16-1zm-3 6zm20 1zm2 1zm10 4zm3-8zm2-2zm346-686zm6 7zm-7 20zm7 3zm4 5zm8-4zm-18 39zm6 39zm1 5zm-8 7zm-20 27zm12-8zm-12-21zm-11-3zm1 6zm3 17zm-3-3zm-13 3zm-16-22zm-30 28zm-11 24zm-9-26zm-1-2zm2 0zm-2 3zm8 4zm-17-9zm-9-4zm16-23zm40-12zm-7-4zm13 2zm-18-10zm-3-4zm-7-7zm4 13zm-16 9zm-5 1zm-13-7zm6-20zm-5-17zm29 14zm13 3zm-3-2zm4-5zm0-10zm25-9zm19-2zm-14 41zm-2 17zm17 3zm15-23zm-6 18zm-2-33zm0-3zm24-30zm2-8zm-23 4zm4 12zm-17-5zm6-40zm11 10zm2-1zm-4-4zm15-2zm-175 25zm19-21zm-14-7zm43-58zm-71 95zm-1 7zm-4-4zm-7-1zm-28-15zm20 41zm10-17zm15 10zm6-5zm14 6zm-8 1zm47 12zm-2 4zm-8 13zm1 2zm4-3zm8-10zm9 11zm-12 12zm-23-7zm-7-12zm-11 2zm-2 4zm-6 19zm31 15zm8-10zm14 9zm-53 25zm-7 18zm-22-3zm4 1zm16-15zm5-8zm-12-8zm9-2zm-10-16zm-8-2zm5 16zm-28 6zm-2 5zm-8 6zm15 1zm4 4zm-2 0zm-3 8zm-1 0zm10 3zm-16 11zm-67-7zm30-54zm17-61zm-157 26zm54-141zm16 0zm7 82zm23-18zm-2-87zm-58-270zm-100-169zm12 6zm-3-31zm-5 12zm-4 7z"/>
<path id="bs10" d="M993 246zm1 5zm-18 35zm6-6zm11-15zm14 5zm10-1zm-4 9zm-15 37zm-7 0zm-12-7zm0-19zm4 51zm-3-15zm12 13zm0 13zm16 7zm-34 20zm-1 0zm-24-15zm10-8zm0-6zm-5-27zm-56 91zm-1 13zm12 8zm13 0zm-3-8zm21-39zm20 1zm29 7zm-2-4zm-58 117zm-11-47zm-28 45zm-14-22zm-10-2zm0 14zm9 13zm-20-13zm-3-12zm-3 10zm1 1zm2-5zm8-4zm-1-8zm-12-27zm23 10zm7 15zm-10-62zm-15 1zm1-9zm-5-1zm8 0zm-7-6zm-4-4zm-10 21zm15 14zm-14 2zm-15-8zm-51 48zm8 5zm53 5zm-47 17zm-22 138zm-56-26zm4 3zm9 4zm5-6zm-31-43zm33-3zm8 1zm-9-15zm13 10zm63-7zm0 3zm71-45zm-4 16zm3-1zm-7 4zm13 7zm27-9zm-6 25zm-40 295zm-11 35zm-7-4zm23-4zm-13 0zm0-9zm33 5zm4 0zm8-18zm-45-24zm-353 183zm-20 5zm-22-5zm-70-71zm12 46zm32-2zm14 30zm-17-1zm-26-17zm-94 79zm74 51zm-8-17zm-7 6zm-1-1zm6-26zm5 1zm-2-9zm35-56zm42-3zm29 5zm5 0zm-1 65zm8 8zm-105-9zm6 48zm-4-4zm613 420zm20-3zm2-14zm-4-14zm-4 6zm0-38zm3-12zm-52 5zm18 34zm4-1zm-55-13zm-3 11zm-23-18zm-3 3zm104-69zm1 4zm-11-1zm-151-154zm33 211zm8-4zm59-306zm43-22zm4-98zm101 51zm32 1zm2 35zm3-11zm-29 10zm-32-21zm-38-21zm14 69zm30-21zm7 25zm-13 1zm-8 8zm4-4zm8 1zm2 5zm-9 20zm-13-11zm-3-13zm-1-3zm45 38zm12 5zm-9-13zm-6-8zm7-13zm6-17zm-2 6zm-6-18zm-6-5zm37 3zm4-3zm18 13zm-9-18zm27 14zm13-6zm13 0zm14 8zm-19 27zm1-3zm3-11zm5 26zm-43-25zm22 50zm-3 34zm-4-13zm23 8zm12 6zm1 2zm2-25zm5-12zm-13 12zm-17-18zm37-7zm15 3zm3 13zm-21 15zm11 3zm-7 17zm9 3zm16-16zm-9-1zm35 5zm6-7zm-11 4zm-20-15zm0-13zm6-5zm17-16zm-4-7zm7-13zm-3-5zm-10 6zm-27-5zm-2 9zm13-5zm-12-24zm-17 1zm11-1zm-1 7zm-3-21zm11 4zm-17-61zm-6 41zm-15-15zm-11 13zm5 13zm-7-2zm-17 3zm-5-14zm0 3zm-2-4zm9 0zm11-19zm-15 1zm40-3zm9-3zm-44-39zm-17-43zm166 99zm16 12zm1 4zm7 2zm-5-14zm100 16zm-61 109zm-2-9zm0-15zm5-1zm0 4zm2-69zm-16 3zm4-2zm2 6zm0-15zm-10-3zm5 8zm-19-4zm9 9zm0 13zm-6-1zm-11 20zm-13 11zm-3-16zm15-42zm-6 10zm-6-2zm-9 13zm3 1zm-20 2zm-1-5zm5 2zm-19 6zm1 9zm8 8zm13 1zm-11 8zm-1-1zm-3 10zm2 24zm47-13zm-35 66zm-10 0zm6-4zm2-2zm18 3zm9 19zm-4-5zm-4-3zm66 14zm-28 14zm41-41zm-161 195zm-11 27zm-10 16zm-3 4zm-3-5zm-37-110zm11 5zm12 10zm16-12zm15-4zm-3-5zm2 0zm-10 29zm17 33zm-1-24zm16-53zm-6 12zm1-3zm-23 0zm2-11zm-9-2zm10-13zm8-16zm-2 10zm-6-10zm-11-17zm5 2zm14 13zm24-9zm-5 24zm5-13zm-11-32zm13-4zm-4 2zm-1-11zm6-2zm8 8zm7-14zm-12-1zm-1-1zm-13-25zm9 16zm-27 8zm3-12zm-10-2zm-6-3zm-3 38zm11 1zm1-7zm11 9zm4 3zm-31-5zm-5-11zm7-27zm-19 18zm-1 46zm14 10zm1 3zm1 25zm-9 8zm9 7zm-6 0zm-157-96zm-10 14zm10-3zm9 212zm-30-9zm1 15zm11-3zm-15 9zm6 7zm1 3zm22-4zm23 1zm10 3zm5 0zm34 1zm-3 1zm58 1zm-22 1zm4 11zm31-20zm13 1zm8-1zm333-705zm7 16zm8 12zm6 64zm-18 37zm-8 8zm15 0zm-8 12zm-8 6zm-36 14zm-32-51zm1 9zm-2 34zm-40-22zm-4-6zm11-5zm7 5zm10-1zm-47-26zm60-32zm11-18zm28-22zm-20-14zm3 4zm11 6zm-23-29zm12-13zm37 8zm-3-8zm-31-23zm-1 11zm3 8zm-46-5zm7-15zm4 4zm-38-31zm-6 2zm0 8zm5 1zm-2 8zm10 5zm-14 32zm47 1zm6 3zm0 21zm-11 29zm-113-1zm8-41zm35-7zm5 17zm12-4zm-2-16zm3-17zm-18-1zm11-16zm-6 4zm4-11zm4-16zm-3-13zm-1 10zm-10 1zm0-10zm-9-1zm12 23zm1 3zm-25 0zm9-14zm-21 17zm10 12zm8 5zm-22 9zm-7 1zm-15-7zm1 2zm-9-19zm-14 49zm-9-6zm11-8zm28-1zm-7 15zm2 8zm-7 14zm5-8zm-18 17zm-16-12zm-10 80zm33-17zm6 3zm8 6zm2-4zm-19-11zm39-30zm4-1zm21 22zm-15 70zm8-2zm10 20zm7-8zm-12 16zm-3-12zm-12-6zm-8 0zm-31 0zm0-7zm-9 1zm-13-23zm-17 15zm-53-16zm36-5zm-209 33zm-18 11zm6-35zm10-2zm1 14zm-1 8zm14-3zm36-125zm-79-510zm8-31zm-1 2zm6 1zm10 9zm1-8zm-6-10zm5-16zm0-12zm-1-7zm-20 2zm-3-15zm2-2zm10-8zm31 7zm-8 1zm13-15zm-34 2zm-2 3zm-11-11zm-2-4z"/>
<path id="bd11" d="M857 503zm-21 3zm3-45zm-7-1zm-41 10zm37-13zm0 1zm-10 7zm-3 9zm-11-4zm2 17zm-4-1zm-1 7zm19 14zm-11-2zm-6-6zm-9-15zm-70 94zm-10 10zm2 10zm3 9zm-17-26zm107-59zm21 0zm0 12zm-3-2zm-15 3zm-6 14zm21 10zm-21 13zm81-24zm-5 10zm-50-7zm0-2zm4-2zm15-14zm1 7zm-8 1zm-11-4zm16-24zm18 1zm-3 5zm14 23zm40 70zm-510 366zm0 34zm-1-19zm-8 29zm-67-116zm86-42zm-134 169zm9 27zm6-2zm-23 11zm68 25zm37 17zm-25-23zm24-26zm-7-6zm-13 8zm-25-32zm30 12zm14 9zm0-16zm9-1zm20-12zm-1 31zm-5-6zm-6-2zm-11-5zm5 18zm34 2zm45-15zm-49 74zm-2-11zm-28-7zm12 23zm8-3zm0 13zm567 406zm18-1zm-1 9zm25-28zm-23-2zm6-6zm-8 2zm11-11zm13 2zm1-28zm-20 1zm-5 5zm-1 9zm7 4zm-3-2zm-17-5zm-5 12zm-14 3zm0 7zm7-5zm8 0zm-21-2zm-6 9zm-34-24zm24 3zm14 5zm2 1zm-1-8zm3-25zm2-22zm-33 18zm16-29zm35 4zm-14 13zm3 14zm17 0zm4-6zm-8-8zm13-10zm13 8zm1 5zm16-2zm-9-11zm-45-92zm33 1zm-6 7zm20 4zm4-22zm-3-4zm-15 6zm14-18zm-15-29zm-33 3zm-8 100zm64-137zm-1-10zm91-195zm1 55zm0 21zm-39 24zm-2 14zm-35 83zm14 23zm1-13zm15 11zm0-7zm7 9zm8-2zm4-5zm-3-8zm-11 1zm14-6zm-1-10zm-1-10zm-17-13zm9-6zm13 12zm6 3zm18 3zm-2 12zm-13 1zm-4-2zm3 14zm15 13zm0-3zm-6-11zm-1-8zm21 28zm19-42zm-6 11zm-1-31zm3-15zm-13-14zm-8 6zm14 18zm-2-1zm-7 4zm-6-2zm-5-20zm-10-25zm14-10zm4 4zm-1 7zm46 35zm-14-2zm4 4zm-2 3zm-3 14zm13 7zm-6 3zm2 23zm-5 16zm5 0zm83-96zm-10-20zm23-2zm-3 16zm2 11zm-4-36zm3-6zm5 3zm-8-12zm9-4zm-28 10zm90-75zm56 73zm66-109zm-2 84zm-72 169zm-1-5zm-5 5zm-3 2zm-9-3zm3-5zm3-16zm5 3zm1-24zm-20 13zm-1-7zm14-13zm-2-7zm13 11zm-25-68zm-65 38zm57 29zm-7 12zm7 9zm3 23zm-10 1zm-12-4zm-15 9zm20 0zm12 2zm8 10zm38 26zm-14-21zm-4-1zm-9 15zm-6-9zm-3-20zm30 6zm9 19zm-165 182zm-3 2zm2 21zm8-2zm-19 16zm-7-5zm8-9zm-22-7zm3 7zm-36 0zm5-8zm4 3zm0 1zm12-3zm-1-3zm-17-20zm3 1zm15-7zm1 8zm3 3zm-2-10zm13 5zm2 7zm12 11zm8-1zm0 4zm-4-23zm-2-32zm-7 17zm-6 5zm-14-1zm-2-11zm-6-2zm-13 0zm0-15zm19 10zm7-15zm-7 3zm1-11zm-15 8zm-8-4zm2-14zm2-5zm-6 0zm18 3zm56 28zm-6 5zm-4 10zm17-7zm10-73zm9-39zm-1-1zm-94-22zm-5 27zm9 27zm-1-5zm8-13zm23 32zm-4 11zm-11 5zm0-8zm-24-6zm6 10zm-1-4zm-15 14zm-6-9zm14-7zm-36 12zm-9 3zm-6-1zm-6-13zm6-11zm20-20zm8 12zm20 0zm-10-24zm-15-17zm4-11zm0-6zm1-2zm13 0zm-14-18zm6 11zm-9 3zm-16-13zm-18-13zm6 18zm4-2zm-9 14zm8 6zm-16 17zm5 2zm-19 2zm-5-7zm3-2zm2-2zm-3-4zm-6-11zm24-23zm1-7zm-20 7zm5 12zm2 8zm-24-27zm-11 54zm-10-8zm3 26zm20 12zm0 2zm33-4zm-8 7zm-9-11zm-7 27zm15-10zm-5 26zm2-2zm-4-5zm-6 3zm-19 4zm10-26zm-21 18zm-3 13zm12 11zm0 15zm-6-1zm-2-11zm-5 35zm10 8zm-1-8zm7 6zm8 2zm10 2zm12-7zm14-24zm-4 0zm-8-4zm5-17zm3-8zm18 11zm-4 11zm10-17zm8-6zm14 1zm23 1zm-2 11zm-2-1zm-27 14zm3-1zm-1 3zm19 7zm9 0zm-33 12zm-2 0zm-16-7zm3 3zm-4-8zm-3 11zm2 9zm20 38zm-5-13zm-8-3zm6-10zm17 11zm7-9zm7 0zm2 10zm-2-1zm-1-5zm3 10zm1 11zm-24 16zm31-5zm-11 10zm6 10zm-37-5zm9-2zm-5-22zm-3 13zm-22 18zm-9-1zm-13-23zm16-11zm-6-18zm-7 9zm-5 7zm-6-2zm-9-6zm4-8zm-12 1zm-11-8zm8 13zm-8 10zm-6 19zm40 19zm15 5zm62 10zm12-14zm18 17zm24-13zm357-664zm-5 26zm-5-7zm-1 11zm8 33zm-5-7zm-8 37zm-25 33zm11-10zm-1 11zm4-2zm-3-18zm6-1zm6-4zm-18-5zm3 13zm-35-26zm-8 3zm3 8zm1 21zm-10 0zm-22-1zm-32 19zm-4-15zm21 0zm-2-7zm-18 1zm0-15zm2-15zm1 5zm11 2zm39-24zm-9-6zm5-1zm-21 4zm1 9zm-5 9zm-3 1zm-12-3zm9-15zm5-11zm16-25zm-7 20zm3-7zm10 6zm20-26zm18 6zm4 13zm-23 25zm-5 5zm6-1zm7 9zm0-1zm9 5zm3-15zm7-14zm2 29zm2-1zm21 0zm4-33zm-28-18zm17 4zm11-37zm-14 1zm-1-2zm-4-2zm-4-1zm-6 3zm14 11zm1 11zm-13-5zm-9 4zm22-32zm-126 22zm-17-3zm9 0zm-9 7zm-8 0zm0-8zm-14-14zm13 6zm4 6zm-2-12zm-4-16zm-4 10zm-3-6zm22 1zm16-70zm-57 96zm-3 11zm-15-2zm-16 28zm-11 6zm26 26zm23 1zm-9-37zm-11 7zm-2-4zm4-4zm-9-3zm41-6zm2 22zm35-29zm-13 24zm0 10zm8 11zm14 0zm1 5zm-22 4zm-2-6zm-7-7zm0-5zm-8 5zm-20 8zm7 1zm-3 11zm1 9zm-1-4zm8-3zm-1 4zm-12 16zm8 10zm6-13zm11-5zm6-6zm9-1zm2-3zm6 4zm12 7zm-3 13zm-10 5zm-3-4zm-9-4zm-25 11zm-8-2zm-2 22zm-5-6zm-7 3zm-8 6zm-1 4zm-8 2zm7-18zm15-16zm1 1zm-3-14zm-7-6zm-9-3zm-3-5zm11 21zm-5-1zm-2-2zm-16 7zm5-11zm2-4zm-12 2zm-12 26zm22 4zm-86 19zm-18-33zm-34-177zm55 42zm-166-534zm5-13zm-2 4z"/>
<path id="bs11" d="M1020 250zm-33-4zm-134 133zm135-96zm2-8zm7-11zm7 6zm1-5zm8 1zm-5 5zm-4 10zm-5-8zm-2 2zm7 37zm-14 2zm-14-11zm-4 8zm1 7zm16 16zm1-2zm6-8zm16 2zm-5 18zm-12 17zm16-8zm2-1zm-21 28zm-7 2zm-13-21zm-13 15zm-18-15zm10-7zm8 13zm-57 70zm68-44zm-41 57zm-20 2zm-37 39zm-1 8zm3 9zm-34-18zm18 3zm-2-18zm6-11zm24-68zm-12 13zm-16-7zm-13 29zm5 1zm-12 7zm-30-13zm22-23zm-37 24zm-20 49zm54-1zm-14 13zm10-3zm3-2zm1 5zm-43-5zm-45 94zm-31 33zm-18 4zm-5-37zm17 21zm1-6zm-3-7zm-4 1zm2 3zm-5-9zm-1-22zm0 1zm-7 6zm20-2zm20 7zm4-13zm-9-9zm158-34zm13 11zm-8-9zm31 40zm-56 327zm1-18zm6-1zm25-1zm-7-2zm-47-36zm175 93zm-548 101zm-3-3zm-8 4zm11-20zm-46-3zm2 4zm6 3zm17-1zm-3-3zm-26 21zm-22-20zm-8 135zm0-5zm-7-9zm-1-6zm-7-20zm7 1zm2-11zm23-47zm37 3zm-8-5zm-11-11zm3-1zm56 14zm-4-1zm8 49zm-27 44zm-51 12zm-13 3zm615 410zm-4-3zm16-55zm-4-9zm-36 39zm-75-22zm110-78zm-72-269zm18 46zm40-44zm91-51zm35 24zm4-10zm16 6zm-70-38zm-10 109zm51 27zm-19-14zm6-22zm-10-4zm12 9zm8-19zm7-1zm-12 3zm-18 0zm46-17zm-7 18zm1-13zm9 2zm1 7zm12 3zm-7-8zm2-7zm18-11zm-8 8zm-2 8zm23-7zm-6-9zm8-2zm5 15zm18 4zm-4 13zm-24 10zm-21 85zm21 0zm9-7zm-14-13zm13-4zm28 23zm4 1zm-6-17zm-13-20zm0 5zm-11-4zm11-6zm5-19zm7 11zm6-5zm7 4zm23-10zm4 5zm-10 22zm-11-11zm-8 33zm12 1zm17-6zm-6-12zm2 4zm2-6zm17 10zm9-11zm0-16zm-14-38zm-15 12zm-26-1zm23-5zm8-10zm-7 0zm1-20zm1 3zm-22-3zm19-10zm34 24zm4-20zm-13-29zm-42-3zm2 10zm-15-12zm-46 17zm-7-2zm24-10zm14-17zm102 24zm29-11zm-8 4zm10 8zm23 6zm32 120zm-10-11zm15-30zm-10 19zm4-42zm-4-14zm0-14zm-12-15zm-11 4zm19 34zm-14 10zm-19-4zm-11-3zm2-5zm4-3zm4-18zm-11-1zm-14-11zm-32-4zm-2 24zm16 12zm-7 14zm-5 28zm17-6zm6-12zm-23 35zm-3-6zm12 18zm-11 9zm17 14zm39 27zm-1 2zm-57-4zm103 7zm18-17zm-169 192zm2-23zm2 45zm-17 2zm-3 12zm-27-91zm10-4zm6-3zm28-26zm14 12zm-15 6zm-1 11zm10 6zm10-46zm-9-4zm-1 3zm-11 8zm-12-14zm1-6zm17-20zm-17 9zm4-5zm-4-5zm29-4zm28-44zm-28-25zm-5 16zm-10-3zm1-13zm-14 11zm8 1zm-5 5zm-21 32zm-10 2zm-4-15zm-2-3zm18-3zm11-17zm-55-6zm25 52zm24 6zm-6 18zm1 6zm7 0zm3 8zm-12-1zm8 13zm-11 4zm-5-6zm-9 4zm-47-108zm-103 14zm107 141zm-116 80zm-1 20zm25-2zm7-10zm4 11zm16 9zm9 2zm-15-1zm57-4zm44 3zm-10 7zm379-718zm11 10zm-1-3zm16 36zm6 18zm-13 4zm3 20zm2 10zm-3 9zm0 5zm-21 21zm1 10zm5-6zm14-9zm-21 23zm-23 17zm17-8zm-90-42zm9 0zm-4 21zm20-9zm-61-69zm17 7zm12-14zm33 26zm-3-9zm-2-1zm6-7zm2 2zm18 3zm-3 4zm-7 4zm7 13zm-5-49zm15-17zm-4-13zm1-5zm-1 15zm-7-3zm-10-4zm22-18zm34-3zm-52-5zm-20-5zm-16-2zm-1-16zm21-11zm-17 3zm-24-1zm4-25zm-2 4zm-10 16zm-6 8zm13 11zm1-4zm10 13zm-14 0zm23 24zm0 3zm1 17zm21 1zm-28 26zm0-6zm0-6zm-19-5zm4 9zm-15-1zm-47 7zm-8 3zm16-53zm9-6zm7 2zm9 3zm-9-20zm-3-14zm26-13zm-5-16zm-7 2zm-12-5zm-5-4zm0 6zm2 13zm6-3zm-4 11zm-13-2zm-5 5zm0-13zm9-10zm-10-1zm7 32zm1-3zm-4 16zm-5 5zm-29-8zm-3 13zm-1-18zm-19 36zm5-16zm18 22zm7 3zm-5-1zm-13 19zm20 15zm-19-5zm-13-5zm-21 76zm6-9zm13 3zm17-19zm-5 16zm22-14zm-2-8zm22 2zm-2-18zm20-1zm6 2zm1 1zm16 40zm-4 8zm-9-1zm-25-30zm7 56zm31-17zm-41 43zm7 5zm-13-10zm-5 12zm-61-46zm-247 39zm7-3zm2-8zm12-32zm202-120zm-197-488zm-38 8zm9-31zm-12 4zm1-14zm19-3zm13 27zm-5-61zm-3 25zm-6-17zm1-9zm-2-16zm-11-7zm-5 4zm18-3zm9 7zm3 8zm5 4zm0-9zm7-13zm-48-28z"/>
<path id="bd12" d="M865 480zm-7 27zm-4-7zm-2 9zm10-40zm-26-2zm10 1zm-3-13zm-34 1zm13-5zm-8 24zm-7 18zm-8-9zm-67 96zm-25 11zm10 8zm114-73zm-16 7zm-8-2zm12 35zm58-19zm-39-2zm13 7zm-13-14zm3-4zm6-14zm-6 1zm-8 1zm0-5zm16-1zm73 91zm-72 71zm-442 329zm-137 80zm60 16zm35 2zm2-19zm2-9zm3-16zm2 5zm-12 6zm-3 10zm16-32zm8-11zm20-14zm-8 21zm1 14zm-13 5zm20 0zm17-13zm33-10zm-3 7zm-33 95zm0-4zm24-23zm-33-5zm6-11zm-4-11zm-2 0zm-12 13zm-6 22zm12 8zm-2 1zm0 7zm596 412zm20-7zm-8-23zm-13 9zm22-18zm1 4zm4-20zm-12 5zm-8-21zm-5-6zm-1 7zm-8 5zm0-8zm-27 12zm6-2zm-8 20zm23-4zm-16 28zm-49-35zm22-26zm-12 26zm18-8zm6-13zm-8-7zm12-13zm-5-4zm-38-19zm57 15zm17 21zm8-16zm6 1zm12-6zm9-11zm-25-5zm12-15zm-19-27zm14-41zm-143-199zm137 72zm86-32zm-3 11zm-33 44zm11 16zm25 14zm-2-28zm-2-15zm-9 13zm-4-4zm22-23zm29 2zm-7 24zm-21 13zm11 17zm2 1zm3 1zm11-19zm-9-3zm2-4zm-2-3zm7-1zm9 15zm0-6zm-2 9zm2 4zm19 4zm0-2zm6-10zm-6-13zm-16-6zm0-12zm6-13zm7-9zm9-19zm-17 12zm-36 1zm5-26zm14-17zm6-4zm0 4zm37 35zm6 36zm5-10zm9 21zm0 5zm-20-5zm3 13zm-5 5zm-4 1zm4 7zm0 3zm0 4zm123-68zm-1-6zm-32-45zm8 3zm3 2zm-6 13zm10 5zm-7-108zm128 71zm-17 130zm-8-6zm2-18zm8 6zm-6-36zm4 11zm-5-15zm-73-11zm3 43zm32-7zm-8 3zm11 15zm10-9zm1 9zm2 10zm5-2zm-2 13zm-14 1zm-12-1zm-18 1zm11-18zm-4-11zm3 4zm-10 6zm12 20zm18 13zm11-7zm-7 6zm8 8zm2 5zm23 16zm11-15zm-12-4zm-4-17zm9 1zm-137 202zm-1 14zm-9 3zm-8 24zm-17-16zm1-9zm-5 6zm3 11zm-30 11zm-4 0zm-1-18zm12-6zm-3 9zm-14-18zm-2-4zm7-7zm16-15zm16 2zm6 10zm-13 11zm19-6zm11 11zm-8-45zm-14 8zm-21-5zm-10-3zm-6-15zm8 2zm-11-13zm13-3zm-6-5zm-5 1zm61 23zm14 8zm-9 0zm-4 16zm10 0zm-1-7zm14-81zm3-45zm-88-24zm17 13zm6 12zm-5 0zm-21 0zm21 26zm20 5zm-9-7zm9 28zm6 0zm-30 10zm0-22zm-12 5zm0 22zm1-5zm-19-22zm3 10zm-21-4zm6 13zm8 9zm-23-7zm-12 2zm-11-2zm7-5zm-2-4zm20-6zm-1-19zm-16 9zm-4-7zm4-1zm11-13zm17 10zm18-4zm0-10zm3-8zm-21-3zm0-12zm5-14zm5 3zm16 8zm-18-36zm-8-2zm-12 24zm1-29zm-18 10zm4-5zm-4 1zm-8 10zm15 10zm-15 12zm3 4zm0 5zm24-14zm2 16zm-21 1zm-1 2zm-11 10zm-2-4zm-2 0zm-9 5zm-1-9zm7-22zm0 8zm4-12zm-2-27zm-4 2zm-9 22zm-26-18zm3 7zm-7-13zm-6 10zm24 54zm8 0zm-5 11zm25-10zm-1 14zm-5 23zm7-5zm-5 16zm1 10zm-29-17zm-7 2zm-18 34zm1 15zm5 7zm-5 23zm10-3zm19-3zm8-21zm-5 22zm23-19zm2-11zm0-7zm1-5zm9-8zm7 13zm11-1zm-6 7zm3 1zm4-7zm-2-5zm-4-8zm13-4zm12 9zm4-6zm10 5zm-8 1zm-1 5zm5 2zm-13 8zm-8 7zm13 6zm-2 25zm-2-14zm-6-1zm-13 14zm-5-7zm-13-4zm-2 6zm7 21zm2 11zm10-6zm9-6zm23-10zm8 3zm-4 12zm-3 12zm-10-7zm-6 8zm2 16zm11-11zm10 11zm-14 13zm-3 3zm-2-7zm-5-3zm2 9zm-6-1zm-16-4zm11-13zm-12-1zm-2 11zm-14 3zm-10-2zm-21-12zm28 4zm-2-13zm4-5zm-14 1zm3-3zm-32-6zm5-4zm1-12zm-4 2zm-12-7zm-5 11zm-5 18zm25 19zm-18 4zm28 15zm46 3zm10 2zm-1-1zm25 3zm3-4zm13 8zm28-10zm-2 5zm-10 5zm-11 6zm28-6zm-2-5zm1-2zm-3-6zm23 2zm337-675zm9 42zm-11-4zm7 18zm-4 19zm3 23zm-12 24zm1 8zm-20 8zm1-4zm-2-6zm9 6zm2-11zm-10-16zm-9-7zm-19-2zm-3 12zm-8 3zm9 18zm-37 20zm-30-45zm-12 1zm37-11zm-2-26zm4 5zm-1 6zm-12 1zm-19-4zm-7-8zm31 4zm0-15zm0-2zm-5-2zm-3 6zm-4 2zm-5-7zm-9 5zm-2-2zm-2-5zm0-1zm7 0zm4-1zm21 10zm12-5zm37-24zm-14 37zm8 1zm-7 24zm-1-7zm5-2zm7-6zm3 1zm11-7zm-10 1zm34 5zm-2 12zm6-44zm-3 15zm-22-3zm1-11zm5 0zm2 0zm4-1zm10-15zm4 1zm-6-3zm2-8zm1-5zm-2-12zm-3 6zm-8 2zm-1-11zm-8 6zm9 11zm-32 6zm-4-1zm19-34zm10-17zm2 24zm18-2zm5-5zm-4 0zm5-5zm-150 35zm-30-13zm4-7zm16-5zm-2 2zm0-7zm2-8zm20-58zm-58 101zm-5 26zm-19 5zm12-25zm5 1zm12 8zm9-3zm1-2zm-3 14zm57-4zm-3 11zm-4 5zm1 7zm-1 8zm-37 16zm9-8zm-8-18zm-14 9zm4 21zm1 12zm-5-1zm3-3zm-6 7zm3 11zm18-10zm0-9zm8-7zm10 7zm-8 9zm22 23zm-62 17zm-8 3zm3-27zm5-7zm1-4zm3-9zm-6-7zm-22 12zm-7 1zm-1-4zm-4 22zm4 16zm-5 6zm-67-204zm-93-371zm-61-130zm-12-10zm-31 0z"/>
<path id="bs12" d="M1013 255zm-12-4zm-10 36zm11-20zm-10 22zm19 26zm-22-5zm21 24zm5 4zm-6 26zm-48-3zm7 7zm-2 13zm-49 53zm52-18zm-98 73zm-34-8zm15 0zm10 11zm-3-6zm-3 1zm-13-15zm22-10zm3 3zm-1-72zm-11-7zm-26 51zm-3-16zm-17-6zm-19-3zm-20 47zm11 17zm48-27zm-4 32zm-10 7zm-32-7zm-4-1zm-63 129zm-14-5zm-9-23zm4-1zm26-16zm66-50zm79 24zm3-5zm-16 117zm-28 190zm-380 162zm7-9zm-32-3zm9 7zm-24-1zm-27 5zm-6 126zm4-9zm-3-8zm4-25zm-9 0zm7-7zm33-54zm-7 18zm5 6zm14-11zm14-6zm21 1zm18 11zm3-2zm-94 62zm27 42zm596 406zm9-52zm-1 0zm-4-4zm7-7zm-13 11zm-44-19zm13 49zm-36-17zm81-85zm-5-266zm-85-135zm134 17zm69 93zm-47-37zm-7 63zm-15 34zm30 31zm9-13zm7-17zm0-5zm-10-9zm30-8zm26 0zm58-10zm-27 14zm18 11zm-1-5zm-1 10zm6 18zm-32-7zm0-22zm1 39zm-12 56zm-2-15zm7 1zm6 9zm0-15zm-7-5zm39 23zm5 1zm-3-9zm-2-3zm-7-15zm-2-17zm1 10zm-5-5zm-4-13zm-7-2zm30 6zm0-11zm2 2zm11-1zm17 6zm-6 2zm-18 5zm3 26zm-8 17zm19-8zm13-18zm28 0zm-23-5zm-2-7zm23-8zm2-20zm0-8zm-21-9zm4 8zm-2 10zm-34-25zm19-9zm-5-4zm37 5zm4-32zm-86-26zm5 26zm-27 1zm138-7zm11 8zm23-10zm33 123zm-3-15zm4-8zm4-39zm-19-25zm14-3zm-4-10zm-5 47zm-8 1zm-16 2zm-19-16zm14 0zm-19-40zm-10 5zm-11 5zm-9-10zm-8 16zm13 16zm10-1zm1 11zm-2 6zm-6 7zm-3 1zm-9 12zm0 2zm11 11zm4 2zm6-4zm15-15zm-39 34zm7 21zm15 24zm-7-13zm99 47zm-3-16zm-7 10zm4-6zm-36 6zm-9-11zm47-4zm2-14zm1-11zm-2-4zm-150 214zm-6 0zm-4-19zm6 10zm-13 28zm6-1zm1 4zm-17-78zm-33-23zm27-1zm26-1zm2 9zm-19 11zm20 28zm0-14zm4-53zm-5 2zm-9 3zm-4 4zm6-11zm-9-15zm16 5zm-5-11zm11-14zm3-9zm5 15zm7-23zm5-11zm3-6zm-28-44zm-6 10zm-13 9zm5 13zm23 0zm-19 18zm-35-1zm22-12zm-6-17zm-31-5zm-1-3zm-19-13zm19 35zm34 34zm-10 15zm-2 7zm11 19zm-71-92zm8 153zm-118 93zm0 13zm28-12zm37 15zm36-9zm-9 13zm14-6zm0-4zm41 4zm32-12zm344-685zm12 28zm1-9zm5 56zm-6-32zm-25 75zm7 4zm7-9zm0-4zm-7 24zm-1 3zm-8 4zm-15 8zm-67-40zm-13 6zm2 5zm20 6zm1-13zm-56-15zm-1-5zm24-39zm-13-5zm12-12zm5 9zm25 14zm5-2zm-4-20zm1-2zm9 13zm22 18zm-2-44zm-13-18zm20 1zm-15-22zm-12-10zm10 3zm18 0zm-51-7zm3-22zm-6-5zm9-20zm-10-13zm8 15zm-32-9zm2-5zm-15 2zm6 40zm11 3zm-14 17zm5 1zm-4 7zm23 19zm-8-26zm14 21zm-17 37zm-4-23zm-51 25zm-8-1zm-17-20zm30-28zm-3-13zm20 1zm0 22zm10-3zm0-8zm0-40zm-8-34zm-17 14zm-3 29zm-4 14zm-18-6zm-26 34zm4 23zm-15 72zm1 4zm14-24zm13-33zm17 13zm7 8zm-3 4zm18-23zm4 7zm0-9zm-9 24zm25 34zm5 0zm-7 0zm-25 35zm23 16zm-27-12zm-20 15zm-27-7zm-12-36zm-33 3zm-238 25zm15-18zm3-5zm54-501zm-74-138zm-2-6zm18 6zm-5-8zm23-29zm-2-7zm-24 21zm-14 10zm-4-6zm6-7zm-6-4zm19-4zm4-3zm2-11zm-15 0zm-11 3zm2-15zm2 0zm-7-13zm5 0zm38 14zm22 10zm-57-33z"/>
<path id="bd13" d="M848 508zm3-43zm-19 5zm14-9zm-10-8zm5 1zm-31-22zm8-5zm-7 25zm17 19zm-1-3zm-14 11zm0-15zm-6 5zm-3 4zm-95 106zm10-5zm0-3zm100-54zm4 9zm4 3zm3 2zm40 16zm-14-2zm-21-2zm0-14zm9 6zm47 6zm-583 469zm47 41zm45 1zm-4 6zm10 16zm-3 11zm35-38zm-17 0zm40-7zm-12 82zm-30 10zm13-5zm-21-23zm-27 5zm10 1zm-9 11zm0 8zm7-4zm1-2zm7 3zm6-1zm5 7zm-11 3zm15 3zm-20-2zm606 404zm17 7zm-19-35zm-2-6zm7 5zm6 5zm11-19zm-14-13zm-12 6zm-15-13zm-11 46zm-6-1zm-20-18zm-11-39zm45-5zm10-17zm25 16zm-38-105zm-123-21zm268-182zm-32 61zm-9-2zm-7 42zm9 2zm7-30zm31 2zm-25 14zm-1 7zm9 10zm-4 17zm19 0zm-3-20zm12 1zm8-4zm8 15zm9 6zm-6-7zm-2-6zm6-8zm1-9zm-26-24zm10 2zm9 2zm-4 2zm8 2zm4 4zm-3-9zm-10-15zm6-3zm7-4zm-3-5zm1 0zm-5-6zm-23 3zm3 16zm-25-37zm17-7zm54 37zm-5-3zm-6 28zm-2 12zm8 32zm10-19zm2 3zm67-70zm5-13zm13-1zm-25-25zm124 127zm-15 4zm-1-6zm14-9zm-8-4zm19-4zm-23-8zm17-19zm23-71zm-100 54zm20 38zm32-10zm-26 24zm6 3zm11-12zm7 26zm-12 0zm-14-3zm-9-6zm-3 2zm6-6zm-5-11zm-1 30zm40 5zm5 1zm-6 5zm-7 3zm-1 5zm6-6zm7 2zm-4 4zm-4 2zm46 15zm-5-2zm-14-19zm-15 2zm39-12zm-5 23zm-173 193zm-3 14zm-8-10zm-25 13zm4 11zm-15-3zm3-13zm-11-6zm23-5zm5-5zm-3-4zm-4-5zm-13 6zm1 4zm-5 2zm10-22zm-4 4zm0-6zm18 2zm1-7zm4 13zm13 10zm11-7zm6-17zm0-22zm-1-6zm-5 2zm-22 23zm-8-12zm-10 8zm3 3zm-12-4zm2 5zm2-9zm1-13zm4 4zm-1-28zm3 4zm-3 6zm4-1zm-3 6zm-9-3zm62 6zm3 5zm-5 20zm10 2zm4-17zm-81-134zm0 6zm10-8zm2-4zm4 5zm1 15zm-16-2zm12 29zm0 11zm6-13zm4-13zm9 10zm0 16zm4 3zm8 10zm-4-6zm5 19zm-17-7zm-1-4zm-3-4zm-24 11zm-1 5zm4 1zm9 3zm1 5zm-17-16zm-6-7zm-11 4zm-7-9zm-3 3zm9 14zm-8 5zm-28-18zm13 4zm7-7zm-26-18zm6-6zm24 4zm6 16zm4-3zm18 0zm1 2zm3-21zm-15-23zm-6 11zm-5-11zm10 3zm-4-11zm-8-7zm27 8zm-6-7zm4-5zm-7-3zm-4-2zm-12-19zm0-4zm-8 28zm0-5zm-10-23zm3 12zm-9-7zm-1 14zm-1 24zm8-14zm-3 5zm9 2zm-8 6zm13 8zm-7 4zm-7 4zm-14-6zm3 3zm-7-6zm-20 8zm17-27zm2-17zm-16-5zm-8 6zm4 13zm-8 1zm-23 35zm45-2zm0 21zm6 2zm-8 4zm-3 1zm-15 12zm26 19zm-12 3zm-22-15zm4 24zm-25 48zm25 6zm8-7zm-7 2zm7 7zm7-4zm13-2zm-4-34zm-6-1zm11-16zm4 3zm24 16zm-4-23zm37 24zm-1 3zm-21-9zm4 16zm16 16zm6-1zm-4 1zm-4 4zm-17 0zm-4 4zm1 3zm-17-26zm2 9zm-3-4zm-15 19zm2 2zm-1 7zm14 15zm1 2zm16-13zm19 12zm5 0zm-12-4zm-11 22zm26-6zm-8 12zm-8 14zm3-10zm-7 7zm-10-4zm-9-21zm-1 12zm-4-10zm-15 7zm6 14zm0-2zm-26 9zm-10-10zm12 2zm6-21zm11-14zm-5-19zm-25 4zm-3 20zm-11-1zm-2-9zm-2 6zm-6 2zm-8 19zm38 32zm16-7zm4 6zm-2 5zm22-2zm24-4zm17 10zm-7-10zm60 4zm341-678zm2 18zm5 7zm6-4zm7-2zm-2 31zm-18 16zm12-2zm3-3zm2 27zm-5-8zm-13 12zm3 8zm-29 27zm21 0zm-8-22zm-12-4zm2-4zm-10 15zm-19 1zm-75-4zm6 2zm7-11zm-1-8zm45-30zm-35 20zm-3 5zm-15-6zm-3-9zm4-4zm-2-2zm3 0zm11-1zm12-1zm-7-4zm1-5zm-19-3zm3-10zm29 3zm29-16zm7 2zm12 5zm6 8zm-8 39zm4-2zm19-8zm-4 4zm-6 2zm8 4zm5-28zm-11-3zm7-12zm-5-3zm1-5zm-3-2zm7-3zm4 2zm3-2zm1 5zm6 5zm-6-17zm12-16zm-25 1zm-7 19zm1-36zm-3-2zm12-4zm14-3zm-88-38zm-10 5zm-49 64zm1 3zm10 2zm-3 6zm-42-5zm21-19zm-5 2zm1 5zm-6-17zm27-8zm-4 11zm-37 23zm-13 77zm14-47zm2-7zm7 20zm51 2zm-16-4zm1-3zm5 11zm-29 20zm-8-7zm0 25zm4-4zm9-1zm35 6zm-11 4zm-8 10zm18 33zm-54-10zm-4-2zm3 14zm-32-42zm-7 3zm1 22zm-210 20z"/>
<path id="bs13" d="M988 284zm2-17zm4 34zm27 11zm-2 5zm-13-9zm-7 0zm-6 8zm-15 2zm-5 16zm35-8zm11 19zm-53 38zm-10-1zm-4-25zm-37 81zm-45 63zm-35-19zm20 11zm-9-40zm16 4zm6-48zm-12 1zm-1-22zm-28 54zm-26-11zm19-15zm-44 4zm-6 27zm1 3zm17 29zm41 2zm-6 20zm8 1zm-22-6zm-42-60zm-4 1zm-68 162zm5 1zm-1-24zm-4-6zm-2-5zm10 2zm-1-7zm-1-15zm22 23zm-2-22zm131 72zm17-100zm-18 357zm170 113zm-550 32zm-58-17zm-34 111zm2-14zm-6-16zm5-53zm31 1zm-22 19zm-5 27zm13 1zm53-45zm-2 9zm26 10zm11-6zm-4 32zm-5-15zm-19 48zm27-13zm-63 51zm-21-7zm13 6zm569 387zm38 28zm-10-72zm-47-11zm175-338zm-30 3zm-7 82zm10-5zm-5 2zm5 10zm-2 6zm38-56zm-49 6zm10-6zm22-18zm-2 9zm3 4zm0-6zm18 4zm-1-24zm12 12zm-2-1zm12 9zm8-2zm24-3zm-2 6zm3 7zm-15 6zm16 26zm-23 1zm1-20zm17 83zm5-19zm-20-18zm2-8zm6 1zm35-16zm-2 30zm-6 16zm27-7zm31 6zm-25-41zm1-31zm-3-4zm-12 0zm-22-6zm6-9zm9-11zm-27-20zm3-19zm-25-15zm196 152zm5-61zm-27-26zm-7 19zm7 23zm-22-4zm-7-29zm-34 14zm17 4zm-5-2zm2 5zm-3 10zm-14 2zm21 8zm9 4zm2 10zm-6 52zm-83 216zm-39-62zm-5 3zm34-36zm-3 6zm3 3zm6 3zm12-2zm5 18zm-23-10zm25-36zm-15 7zm-5-17zm13-6zm-1-4zm-16 1zm3-27zm27 7zm6-55zm-3 4zm-20-17zm-19 21zm26 14zm-4 22zm-13-3zm-18-6zm-1-9zm7-30zm-27-6zm2 19zm-22-1zm-5-23zm-5 20zm4-3zm3 8zm-10-1zm18 7zm7-1zm2 21zm5 12zm3 5zm9 2zm4 5zm8 6zm1 19zm-7 2zm10 16zm-25 5zm-50-104zm1-11zm-104 32zm105 129zm-98 77zm-1 5zm-17-5zm8 19zm-9 11zm53-1zm-22-5zm61 4zm-22-2zm112-14zm7-4zm330-682zm15 29zm1-3zm-3-7zm8 37zm-2 39zm-19 22zm6 0zm18 13zm-25 15zm-38 9zm-31-41zm-18 18zm-1-83zm-12 5zm-1 8zm18-2zm2-8zm25 7zm-14 12zm34-44zm-4 5zm-4-22zm-7-5zm-12-17zm-68-55zm16 17zm10 25zm-5 0zm-5 21zm29 10zm2 19zm11 6zm-18 11zm-9-2zm-35-29zm2 18zm-10 0zm3 4zm-2-13zm-2 5zm-29-37zm28 8zm5 7zm4-8zm-3-8zm-22-16zm-5-4zm-17-11zm-32 34zm7 17zm2 87zm5-10zm17-34zm-14 13zm13 0zm9-8zm-6-12zm41 6zm-56 29zm21 70zm-11-3zm1-6zm-38 8zm7-3zm-37-14zm-254 18zm14-7zm-24-14zm2-13zm25 6zm2-9zm35-175zm-54-451zm-7-3zm18-9zm-3-2zm5-20zm-19 14zm6-10zm2-19zm16-8zm-10-11z"/>
<path id="bd14" d="M858 466zm-16-5zm15 2zm-27-11zm-12 19zm-8-7zm1 18zm-86 98zm-4 1zm-6-4zm-5 5zm-4 5zm140-45zm-3-20zm-11-7zm-478 573zm26-40zm20 6zm-4 3zm-1 12zm7 12zm8-14zm-1-3zm2-7zm5 8zm4 17zm22-24zm-7-11zm-10 3zm33 4zm11-4zm4 23zm-4-16zm-15 2zm-4 0zm13 21zm-11 27zm2 11zm0 7zm-13 6zm1-7zm4-21zm-26-3zm-3 12zm-23-11zm-7 11zm4 19zm6 1zm14-5zm611 396zm-14 2zm5-46zm-25 6zm-21 35zm-50-60zm59 11zm33-6zm33-189zm35-11zm1-21zm10-14zm24 11zm-1 37zm5-2zm15-23zm-4 11zm13 5zm2-27zm-6 4zm-16-1zm10-8zm-10-8zm30-6zm-2-7zm-8-25zm-5 8zm0-9zm38 21zm-20-14zm0 8zm-1 2zm5 0zm2 8zm-3 0zm19 13zm-7-4zm10 17zm1 3zm-24 11zm28-6zm163 19zm8-20zm-2 7zm21-23zm-9 12zm-10-14zm-2-9zm4-3zm-9-52zm-38 74zm30-1zm-6 1zm-14 10zm-4 8zm12-4zm11 4zm-8 3zm2 12zm-7-9zm-1 1zm-24 3zm9-10zm1-7zm-8 1zm-6 5zm-8-7zm18 36zm20 4zm1-5zm3 2zm3-3zm36 24zm6-9zm-22-11zm-8-2zm9 0zm8 5zm21 7zm-5 4zm5 9zm-150 169zm-8-7zm-4-1zm5 24zm-5 15zm-14 14zm4-14zm-42 13zm5 5zm-7-13zm-5-30zm-6-10zm17 6zm13-4zm-2 6zm27 4zm-9-20zm12-11zm-14-6zm-39 16zm-8-4zm7-1zm12-37zm48 36zm6 0zm33-125zm-10 6zm-89-16zm0-7zm13 16zm-15 1zm5 10zm-11 9zm1 8zm7 12zm2-9zm-2-4zm1-2zm7 1zm0 5zm13 9zm-3-15zm10 14zm-3 4zm16-1zm-13 18zm-5 6zm-9-9zm2 6zm3-12zm0-1zm-12-2zm-30 9zm10 6zm-15-17zm2 0zm-5 13zm-25-2zm5 12zm-20-1zm5-5zm8 1zm-13-8zm18-1zm4-24zm-22 4zm14-5zm0-6zm-3-7zm16-8zm15 12zm-10-3zm19 11zm-4 11zm8-24zm2-17zm-11 8zm16-28zm-21-21zm-21 9zm-3-8zm-10 31zm14-8zm-10 13zm-1 2zm-12 2zm-2-24zm-7-12zm5-2zm4-8zm-13 0zm5 3zm-17 1zm-15 1zm40 64zm-21 11zm12 30zm-2 8zm-2-6zm-7 61zm11-4zm3 12zm-1-14zm7-13zm-2-17zm3-14zm9 4zm5 2zm-4 13zm13 7zm10-24zm2 4zm5 1zm16-9zm0 16zm7 14zm-17-6zm-14-5zm-8 30zm4-6zm-2-10zm-10 2zm-3 27zm-7 4zm3 3zm-2 20zm8 1zm6 1zm3-4zm0 4zm7-4zm-12-9zm-1-14zm24 10zm-2-1zm22-9zm-10 30zm-20-13zm3 13zm9 16zm15 0zm-5-3zm3 8zm2 4zm-36 2zm6-23zm-11 11zm-14 5zm-9 11zm4-3zm-8-7zm-10-3zm-6-2zm24-8zm-6-21zm1-7zm5-11zm-19 1zm-2 2zm-5-1zm-4 25zm-7-1zm-2 3zm-1-11zm5-18zm-14 22zm-12 23zm3-3zm3 1zm10-4zm-6 13zm33 14zm16 6zm4-5zm12 2zm8 5zm15-7zm49-1zm372-670zm1 5zm-6 2zm0 6zm-1 6zm13 12zm-3 12zm-3-5zm0-10zm-9 2zm2 11zm13 44zm-1-9zm-13 11zm12 12zm-21 1zm-17-8zm-10 9zm-53-34zm-1 19zm-30-22zm8 7zm3 4zm3-11zm-4-14zm21 9zm1-12zm50-13zm-1 6zm-7-4zm9 16zm-23 15zm3 1zm18 16zm-7-18zm25 2zm-11 7zm7 5zm7 11zm15-7zm-6-36zm-18 11zm-6-10zm13-17zm14 7zm-2-14zm1-28zm-4 9zm-7 4zm-13-11zm-16 23zm2 4zm-20-5zm35-39zm16 10zm-12-30zm-42 62zm-67-2zm-6 2zm-3 3zm3-9zm-2-7zm-6-6zm-44 1zm30-1zm-1-14zm-5-11zm-3 10zm-8 4zm22-15zm5 14zm-45 50zm61-15zm-8 22zm7-3zm-5 6zm-16 3zm23 23zm-16 5zm-9 6zm-6-6zm4-3zm-29-2zm0 5zm-1 11zm1 19zm15-20zm16 7zm10-4zm16 9zm-56 23zm-15 11zm0-8zm0-15zm-3-9zm9-4zm5-5zm-20 4zm-37 24zm7 12zm10-14zm-167-565zm-104-127z"/>
<path id="bs14" d="M1016 279zm-7 1zm-9 5zm0-7zm-5 7zm4 13zm17-1zm-2 1zm-3 16zm-9-3zm-5 2zm-10-11zm-6-3zm-14 2zm16 23zm17 4zm5-5zm11 2zm3 5zm-1 5zm-44 29zm-4-7zm-8 12zm-40 76zm61-56zm-120 107zm-31-22zm30-71zm0 43zm-62-19zm2-4zm10-4zm-4-7zm-36 28zm3 32zm-73 122zm-13-12zm0-10zm12-9zm-3-5zm4-6zm6 11zm3 5zm5-4zm158-46zm-1-1zm146 465zm-564 36zm-32-4zm-1 6zm-15-17zm-26 100zm33-74zm-12 18zm10 2zm-13 25zm35-45zm10 10zm29 9zm-1-14zm-4 3zm9 21zm1 32zm-37 55zm-13 7zm587 409zm119-433zm4 14zm-43 76zm17-18zm-1 7zm-10 2zm-4 1zm-5-49zm30 10zm-2 2zm64-8zm30 5zm-30 25zm4 17zm-8-21zm-6 1zm-9 3zm-2-6zm20 36zm8 26zm2 6zm5 6zm-7-21zm40-21zm16 7zm-16 22zm37 3zm11-8zm-1-11zm-13-3zm-6-41zm-32 6zm3-6zm-10-25zm4-19zm143-116zm8 197zm-16-42zm9 21zm-52-3zm4-6zm-5 2zm1-11zm22-6zm5-9zm-29-6zm-6 29zm-22 21zm16 23zm30-15zm-11 8zm-8 6zm-26 31zm6 10zm86 49zm-22 2zm15-4zm-152 190zm22 9zm-25-1zm-4-83zm-31-14zm59-14zm0 24zm-3-6zm-7 1zm-4-2zm31-21zm-6-13zm-9 5zm-8-2zm0-20zm-17-18zm0-6zm5-12zm20 9zm-3-2zm17-1zm7-15zm-28-38zm-16 19zm27 7zm-12 5zm-3 2zm7 3zm-2 7zm-15-11zm-10 14zm-6-19zm-3-44zm-16 1zm-8 27zm-5-23zm-13-2zm12 34zm3 8zm-4-4zm4 8zm13 20zm23 9zm0 16zm-5 2zm3 21zm-13 4zm-60-104zm14 1zm-15-12zm12 166zm-115 80zm-4 26zm174-5zm361-661zm-9-28zm19 74zm-16-15zm-2 19zm2-1zm-22 41zm18-16zm-98-5zm-29-48zm-5-9zm-2-3zm7 3zm21-4zm33 8zm14 8zm2 5zm-1-38zm-18-3zm-1-9zm9-19zm12-6zm-53-28zm10-1zm-40-35zm4 29zm-1 15zm16 19zm15 16zm-1 0zm-7-8zm28 15zm-6 20zm-53-16zm3 22zm-1-1zm-8-28zm-11 4zm-11 26zm-34-51zm38-5zm-2 4zm-6 2zm22 17zm5-7zm1-25zm-31-38zm-64 135zm28 25zm6-25zm23-16zm9-10zm12 0zm1-4zm10 14zm-41 69zm8 4zm-14 18zm-40-19zm-19-2zm-255-19zm6-2zm5 11zm-16-16zm9-642zm-7 1zm-4-6zm6-13zm8-6zm-12-10z"/>
<path id="bd15" d="M838 469zm1-11zm-23-15zm6 27zm-13 8zm-92 105zm1-5zm-5 3zm-6-6zm126-42zm-418 550zm-14-16zm0-7zm4-4zm8 2zm3 10zm22-17zm12-3zm10-1zm-4-6zm10 2zm0 37zm-16-6zm-25 57zm-4 3zm-5-12zm19 7zm-3 3zm7 0zm-20-27zm5 6zm2 5zm-4-3zm-7 5zm-13-6zm9-2zm-1-9zm1-13zm-8 2zm-13 21zm24 16zm594 415zm-2-24zm13-43zm-31 22zm-3 1zm-35-5zm43-31zm30 7zm-178-132zm235-77zm36-42zm-14 52zm-3-6zm20-2zm19 4zm8-23zm4-10zm-7-1zm-5 8zm1 6zm-2-28zm8-6zm1 3zm-4-1zm-4-21zm1 3zm-13-6zm-26-26zm5-6zm52 39zm7 6zm-4 10zm1 8zm-2 23zm0 16zm-1-1zm75-108zm78-43zm50 159zm-15 5zm1-8zm5 4zm-7-6zm3-5zm10-6zm6 0zm2-9zm-15 3zm-4-6zm6-21zm11 7zm-22 4zm-14 4zm12 13zm-12-6zm-6 5zm-6-2zm-3 14zm7 0zm21 2zm-11 9zm-11 4zm-4 6zm-10-13zm-12-14zm35 32zm47 27zm-30-7zm5-23zm8 5zm7 7zm6 2zm-139 197zm-11 0zm-33 16zm9 16zm-8 5zm-32-20zm12 3zm12 7zm-23-45zm4 1zm53 19zm-2-33zm-8-5zm-31 9zm-21-7zm13-2zm-4-5zm-10 2zm9-30zm62 26zm-5 8zm4 12zm-62-159zm13 34zm-11-4zm4 0zm-14 11zm13 2zm-11 20zm33 13zm1 4zm6 2zm-17 16zm-3 0zm6-27zm-10-1zm-6 7zm0-9zm-6 2zm-5 26zm-15-2zm3-4zm6-10zm-11 0zm-6 6zm0 5zm-4 3zm-17-4zm-13 6zm7-23zm14 6zm1-22zm-19 5zm-3-2zm4-5zm-5-5zm3-13zm12-2zm18 3zm3 7zm-5 3zm-1 8zm7 6zm-4-6zm8 6zm4 3zm11-4zm-9-16zm7-20zm-8-3zm-21 9zm1-27zm24 0zm2-6zm-9 3zm-15-13zm4 12zm-8-6zm-28-14zm4 3zm-4 0zm0 10zm12 0zm-7-2zm-1 15zm8 5zm14 2zm2 19zm-18 1zm-19-24zm4 28zm-7 8zm-13 30zm20 11zm-5 6zm-21-5zm1 9zm-15 58zm31 6zm-3-14zm22-35zm-3 4zm8 12zm12-5zm-2-15zm-4-8zm19 8zm8-2zm14 14zm-25 24zm4 1zm12 17zm-28-28zm-21 5zm-2 14zm0 6zm55 8zm-7 11zm12 11zm2 5zm-17 1zm-11-8zm2 11zm0 7zm3 0zm6 2zm-3-11zm18 21zm3 5zm-33 1zm-13-8zm14-12zm-4-2zm-11-1zm-4-3zm-4-1zm-6 2zm-2-2zm1 10zm5 4zm8 4zm0 9zm1 1zm-1 3zm-9-1zm-3-5zm-16-1zm-10 6zm-6-2zm-2-6zm7-4zm-1-18zm23-15zm2-11zm-16 8zm0 7zm-36 21zm2-4zm4 3zm-1 6zm19 20zm6 3zm15-6zm2 5zm23-3zm5 5zm8 1zm8-8zm20 2zm50-1zm353-668zm8 21zm-2 23zm3-14zm-7 10zm-7 2zm4-9zm-11 1zm0 7zm14 5zm-14 27zm19 11zm-7 1zm-17 36zm-11-2zm11-27zm-31 27zm-5-5zm7-2zm-7-6zm-80 12zm-4-48zm13-9zm6 6zm-7-20zm74-5zm-3-2zm-6-1zm12 17zm-1 11zm9 6zm16 5zm2 1zm-4 3zm0 8zm3 0zm-5-24zm1-7zm-2-12zm-12 7zm6-5zm18-24zm-8-12zm8 2zm-19 3zm-4-32zm10-4zm-135 23zm0-6zm3 24zm-39-3zm35-37zm-49 58zm23 17zm39-30zm9 28zm-21-7zm-7 10zm3 10zm1 15zm-15 6zm-22-16zm50 26zm-57 34zm-3-26zm-31 8zm-3-5zm-9 12zm-126-98zm-133-601z"/>
<path id="bs15" d="M998 281zm1 10zm22-3zm-4 33zm0 19zm-35 29zm-18-2zm5 11zm-5 13zm-81 13zm-10-12zm-25-5zm-24 52zm-35-10zm-3-2zm-18 22zm15 24zm-4-7zm-3-2zm12 1zm35 22zm-1-6zm5 11zm-5 1zm-128 79zm16-10zm4 1zm6-2zm4 1zm51-18zm96-20zm-411 498zm-25-6zm-19 5zm-9 16zm-18 38zm44-33zm-8 0zm6-11zm15-1zm10-3zm2 8zm6-4zm2-2zm14 2zm-5 47zm1-21zm-19 47zm11-10zm-10 35zm-9 3zm-25 15zm-32-56zm-6 10zm633 435zm-11-49zm96-248zm9-7zm35-45zm55-22zm-17 25zm20 20zm-9 5zm-1-6zm-5 1zm-13 3zm-5-9zm4-1zm3-4zm-12-2zm13 37zm-8 43zm26-17zm19-23zm1 42zm33-65zm58-65zm54 31zm5 15zm-39 12zm-6 1zm5-9zm-32 4zm-16 24zm25 9zm-9-13zm17 4zm12-5zm10 92zm42 12zm-143 158zm-24-52zm25-14zm-3 19zm11 23zm-12-57zm4-12zm-13-91zm-4 7zm16 28zm4 7zm-38-9zm-12 8zm26-48zm-40 17zm2-20zm-21 3zm26 35zm-4 4zm30 51zm-1 10zm4 11zm-75-116zm2 171zm-101 73zm2 9zm3 0zm70 15zm449-680zm8 69zm-5-21zm-5 4zm7 2zm-7 18zm-17 29zm-126-74zm37-4zm-11 12zm27 0zm13-37zm-18-61zm-52-13zm9 63zm14-4zm2-7zm8 13zm2 5zm20-1zm0 4zm-10 6zm11 11zm-36-6zm-24-5zm-4-2zm-13-33zm12 5zm1-4zm-16-35zm6-8zm-22-2zm-68 145zm46-18zm11-13zm12 12zm10-24zm-5-1zm0 10zm9-3zm12-7zm-3 15zm-52 15zm21 75zm-14 2zm-27-18zm-156-44zm-135-658zm11 4zm-1 2zm-3 3zm10-9zm-11-5zm-7-3zm-4-2zm10-4zm-11-18z"/>
<path id="bd16" d="M818 440zm-7-16zm-14 48zm10-23zm19 1zm-6 16zm1 9zm-17-10zm-1 15zm-101 97zm1-2zm153-14zm-577 447zm94 65zm29-1zm-2-6zm5-6zm13 1zm-2-7zm46 1zm4-4zm4 29zm3-19zm-2-3zm-15 3zm-2 10zm7 11zm-10 9zm1 11zm0 21zm-3 3zm-29 17zm7-5zm1-3zm3-3zm-7-7zm5-1zm15-28zm-15-2zm-12-6zm1 8zm8 21zm-17-1zm-6 2zm-7-12zm11 17zm608 400zm6-278zm68 17zm4 2zm32 13zm6-6zm10-7zm-17-44zm24-5zm-1-7zm-24-19zm4 7zm-6 16zm-4-2zm54 11zm1 11zm-16 12zm14 6zm179 24zm3-4zm-8-16zm12-2zm-12-5zm-58-4zm7-1zm6 3zm35-3zm-10-4zm-11 15zm0 13zm-17 12zm-11-30zm51 50zm52 14zm-25 3zm9 2zm-7-11zm-16 1zm-2-12zm25-15zm15 26zm-1-4zm-198 220zm-19-20zm-13-14zm29-12zm9 22zm14-16zm4-31zm-57-36zm5-6zm13 3zm46 31zm13 16zm-79-123zm2 3zm0 4zm9 1zm-5 9zm17 16zm4 0zm-9-21zm6 3zm4-2zm0 2zm9 39zm5-5zm3-9zm-36 18zm1 12zm-24-14zm-4-10zm-31 17zm-9 2zm17-11zm3 1zm3-17zm-13 1zm-13-5zm10-14zm23-12zm8 3zm1 12zm-11 4zm-2 5zm30-8zm-11-3zm7-20zm-8-4zm1 10zm-7-7zm-9 7zm1-10zm5-7zm-10-11zm7-12zm-23-14zm-4 17zm1 10zm7 5zm2 11zm4 7zm-18-2zm-28-21zm7 1zm11 3zm-5 39zm6 18zm-58 28zm44 58zm1 6zm9-42zm-5 11zm-8-16zm30-10zm1 19zm-3-7zm17 15zm1-2zm-4-26zm6-3zm6 14zm7-5zm12-6zm-5 28zm-13 7zm25 12zm-2 8zm-10 2zm-26 0zm-2-8zm-14-9zm-7-9zm-1 10zm13 12zm-8 12zm5 6zm4 20zm-6-11zm13 3zm3-11zm-3 2zm-3-5zm19 37zm1 5zm-11 13zm-15-20zm1-5zm-9 0zm-4 13zm-14 0zm-2 11zm-13-14zm3-16zm24-7zm-12 0zm7-8zm-4-13zm-3 2zm-3 10zm-27-4zm-11 34zm4 8zm139 13zm6-3zm360-643zm6 1zm-4-11zm12 41zm2-3zm-4-17zm-14 7zm4 3zm0 6zm-3 2zm0 21zm11-14zm2 17zm-10 10zm-2-3zm-15 28zm-6-15zm-96-46zm71 26zm6-4zm-6-4zm10-4zm-2 24zm15-1zm-2-11zm3 5zm11-13zm-8 5zm-2-8zm7-13zm1-10zm-16-11zm7 8zm7-5zm8-18zm0-18zm-27 26zm22-34zm-128 32zm-3-4zm-31-2zm-16-12zm55 54zm-41 14zm-35 44z"/>
<path id="bs16" d="M1018 276zm-19 14zm3 7zm4-3zm-2-4zm6 8zm-2 1zm5 5zm-8 1zm-7 1zm-21 74zm-151 54zm-4 4zm-44-14zm16-7zm-14 45zm10-9zm34 50zm-28 3zm-96 63zm-4-8zm17-8zm0 2zm1 5zm-333 520zm33-47zm-24 54zm27-42zm45-11zm18 12zm-8 29zm6-18zm-4 42zm-12 21zm-2 2zm-54 21zm707 80zm-4-17zm4-25zm70-21zm4 13zm-14 37zm5-9zm2-14zm-14 81zm9 3zm4-5zm27-49zm10 8zm28-32zm129 15zm-59-17zm-16 28zm21 3zm-3 9zm9-6zm6-2zm-37 39zm56 56zm-109 162zm2-6zm-20 47zm-44-112zm33 28zm-5-15zm-7-2zm38 37zm1-6zm-27-143zm-35-3zm-16-11zm1-6zm-5-4zm-4 13zm25 23zm25 25zm-1 4zm-2 7zm-54-74zm-11 0zm-88 245zm2 1zm-5 7zm4 10zm-2 6zm5-8zm20 9zm467-705zm23 46zm-5 42zm9 0zm-134-20zm-13-5zm-6-7zm47-1zm40-18zm1-12zm-89-95zm56 74zm-21 32zm-17-9zm-38-8zm0-18zm-12-17zm-8-10zm20 89zm7-4zm-38 95zm-324 1zm4-42zm-13-636zm-2-1zm19-14zm-16-17z"/>
<path id="bd17" d="M844 465zm-41-28zm8 2zm-24 33zm6-20zm8 10zm5-2zm2-9zm17 9zm-14 11zm-101 130zm-304 484zm8-8zm-1-5zm6-11zm5 4zm-5 0zm23-1zm-5 5zm2-4zm-3-15zm-8-2zm3-5zm28 9zm11 33zm-4 0zm5-9zm-32 46zm-3 0zm11-3zm-15-8zm13-11zm-20 3zm-4 15zm-9-1zm-8-9zm2-1zm-9 1zm10 27zm682 91zm1 39zm51-34zm21-21zm-4 65zm82-92zm121 91zm-29-41zm-13 18zm-2 0zm1 3zm18-1zm-4 14zm7 3zm-13 1zm-29-23zm32 34zm26 33zm7-3zm5 4zm1-12zm3-4zm-25-11zm31 11zm-206 216zm8-31zm5 8zm-9-69zm51 27zm-61-129zm15 18zm-19 8zm-9 6zm23 3zm-7-13zm11 1zm17 28zm-12-5zm-21 10zm-18 26zm1-10zm-26-10zm2 7zm0-2zm2 9zm-3 8zm-15-4zm-4-9zm10-20zm3-4zm1-9zm-6 0zm-1 14zm-10-11zm4-2zm-5-8zm10 2zm6-3zm10-2zm-4 2zm2 7zm10 16zm0-9zm12-16zm-20-27zm10-19zm-20-11zm0-2zm-9-5zm-14 13zm6 14zm16 5zm-29 9zm2-20zm-5 45zm6 11zm-8 104zm33-52zm27 3zm6 11zm-9 16zm9 24zm-22-8zm-19-1zm-5-5zm-4 4zm-3 23zm0 11zm-2 4zm33-17zm-2 2zm12-4zm16 8zm-11-4zm-36 37zm-5-8zm-13 18zm-24-1zm8-13zm-12-8zm12 0zm14 3zm-2-33zm-7-3zm-45 25zm26 18zm-9 3zm8 1zm-16-1zm55 27zm-1-11zm30 9zm423-666zm9 2zm0 14zm2 5zm-10 44zm-25 39zm11-11zm-2-6zm-17 16zm-88-50zm-2-7zm-14-5zm41-9zm50 18zm14 28zm13-4zm7-23zm0-11zm2-3zm-12 1zm-2 2zm-8-2zm-7-15zm24 1zm-12-13zm-43 1zm-82-1zm-4-10zm12 57zm-53 65zm-13-32z"/>
<path id="bs17" d="M1010 286zm-1 8zm10 0zm-39 20zm6-18zm-22 74zm-141 72zm-10-29zm-25 12zm5 10zm-22 26zm2 3zm-71 96zm-272 469zm16 10zm26 0zm-15 69zm-63-20zm647 96zm119-2zm37 20zm-26 69zm12 4zm30-2zm23-55zm89 12zm-12 3zm-103 178zm34 11zm-16-38zm-21-44zm6-40zm-19 0zm-15 3zm31 47zm-62-43zm-114 222zm70 28zm45 0zm290-644zm-26-16zm2-1zm31 7zm9-7zm35 34zm-6-60zm-74-23zm13 3zm28 0zm-5 4zm3 36zm-2 1zm-17 0zm-7-1zm-82 29zm-309 46zm47 15zm-55-665zm4-8zm10-6zm-12-26z"/>
<path id="bd18" d="M807 438zm4-2zm-14 0zm-3 28zm-2-1zm9-6zm13 1zm-4-8zm7 1zm-1 4zm-102 119zm-401 488zm92 21zm14-27zm11 0zm2 30zm12-16zm2-16zm9-2zm13-7zm0 33zm-1-22zm4 8zm-9 1zm-3 7zm-3 6zm-5 5zm-1 15zm1 16zm-30 14zm14-8zm4 7zm-4-14zm-7-12zm3 17zm-18-6zm-5-1zm6-4zm-7-5zm-8-11zm5 34zm609 390zm68-283zm-7 0zm76-30zm15 74zm142-29zm9-8zm5 23zm-20-5zm70 57zm9-6zm-225 162zm80-14zm-1 4zm-74-147zm2 20zm-5 6zm4 31zm31 9zm-30 6zm-28 0zm-8 4zm-6 13zm-21-18zm-3-4zm10 9zm0-17zm-7 1zm5-27zm1 5zm7-1zm23 0zm3 15zm10 1zm-3-8zm-8 0zm1-18zm-5 0zm-11-37zm-17 8zm11 14zm-33 46zm-16 94zm31-54zm35 28zm-28 31zm3-13zm-13-16zm7 19zm-3 12zm-4 10zm17-3zm26-5zm-3 17zm-6-1zm6 21zm-22 21zm-3-8zm-12-10zm-2 17zm-28-12zm8-11zm-1 11zm2-22zm0-8zm-28 11zm-4 24zm26 26zm465-620zm2 17zm5 7zm-2 13zm10-7zm-138-50zm90 28zm14-7zm15 12zm-3-4zm3-7zm-2-15zm-9-11zm-15-43zm-118 13zm-11 60zm24-4zm-60 52z"/>
<path id="bs18" d="M1022 286zm1 8zm-2 27zm-169 150zm26-69zm-20-4zm-68 35zm-8 7zm-3 10zm-3 3zm10 14zm2-18zm-71 108zm-5 10zm311 417zm-647 114zm84-62zm18 31zm713 107zm29 40zm86 5zm60 112zm-2-5zm-129 167zm-2-21zm-48-33zm56-11zm2 4zm-15 6zm-41-143zm-7-7zm-1-5zm-22 11zm5 9zm-110 230zm-12 12zm499-546zm-131-103zm10 1zm35 5zm6-37zm5 13zm-34 2zm1-14zm-57 31zm-340 85z"/>
<path id="bd19" d="M806 428zm-11 22zm16 9zm-406 593zm2 26zm5 6zm2-20zm11 15zm14-7zm-6 8zm10 1zm1-28zm-1-9zm-20 4zm47 23zm-9-10zm-6 8zm-5 35zm-2 5zm7 9zm-31 3zm20-9zm-7 5zm0-11zm10-8zm-18-5zm-8 17zm-10-16zm707 172zm32-7zm208 54zm12 8zm3-1zm-14-11zm-6-16zm3-13zm16 10zm-142 192zm-1-34zm3-4zm-69-118zm-2 3zm-3 2zm6 25zm11-9zm-74 41zm7-9zm-5-35zm17 3zm6 4zm9 10zm6 1zm-14-33zm6-14zm-55 108zm58 6zm-47 52zm25 10zm-9-10zm5-2zm-18 38zm-11 6zm-25 1zm4-16zm11-2zm-14-13zm13 9zm-22-6zm8 43zm481-665zm5 53zm-5-4zm7 6zm-4 19zm-56 1zm26-14zm6-5zm-2 6zm5 6zm15 11zm-4-7zm-5-7zm-496-642z"/>
<path id="bs19" d="M1007 277zm-44 126zm-108 22zm-35 21zm7-15zm-37 11zm-5 2zm0 16zm-373 586zm65 27zm-20 28zm4 15zm9-14zm-71-14zm-8 2zm774 79zm10 46zm-8-23zm120 85zm-61 244zm-30-201zm-11-14zm377-389zm-122-45zm-46 31zm5 7zm-375-600zm167-20z"/>
<path id="bd20" d="M795 438zm4 6zm7 29zm-393 605zm-7-7zm22-8zm-10 12zm10-3zm5-4zm-1-2zm5-10zm6 0zm6-9zm9-1zm16 21zm-19-4zm-1 0zm-6 14zm8-3zm-2 13zm-5 3zm11-1zm-43 42zm26-2zm-9-24zm9 1zm-19-7zm3-5zm-9-1zm1 2zm-25 17zm997 194zm-238 58zm-33 14zm7 7zm-27-47zm-20 82zm12 66zm7 6zm-35 21zm-8-3zm486-595zm-1 21zm4 12zm-131-40zm100 18zm-165 10z"/>
<path id="bs20" d="M1005 287zm-204 140zm-3-10zm-11 17zm-4 23zm-315 642zm-8 30zm-72-34zm779 182zm149-41zm-73 193zm-71-140zm394-338zm-105-36zm-65-58zm-31-51zm-331-514zm4-14z"/>
<path id="bd21" d="M811 442zm-2-1zm-10 21zm-5-6zm8 2zm-379 598zm2 15zm-3-3zm0 5zm0 4zm3-5zm4-22zm24 4zm12 6zm-3 11zm-12-6zm-1 22zm3 9zm-3 17zm-29 28zm16-33zm3-14zm-20-3zm559 352zm386-152zm-209 31zm-2 51zm-10-9zm0 7zm-10-39zm-26-24zm-2 27zm6 93zm-47 75zm490-587zm-13 23zm-10 35zm-117-43zm121 9z"/>
<path id="bs21" d="M784 446zm8 11zm-317 628zm562-92zm11-13z"/>
<path id="bd22" d="M796 442zm-365 618zm-7 22zm4-1zm6 2zm9-3zm-7-21zm0-5zm17 25zm4 3zm2 3zm-4 3zm-14 14zm4-11zm-9 9zm-7 15zm931 109zm-31 23zm-220 102zm14-11zm7 172zm-17 5zm-53-3zm23-17zm465-571z"/>
<path id="bs22" d="M791 439zm-20 3zm3 15zm10-3zm-383 625zm834 386zm2-93z"/>
<path id="bd23" d="M816 436zm-13 5zm-6 23zm-369 606zm11 16zm7-33zm-29-2zm49 14zm-1 6zm-17 2zm-9 42zm6-5zm723 106zm377-290zm-14 32z"/>
<path id="bs23" d="M796 430zm612 377z"/>
<path id="bd24" d="M804 434zm-385 652zm40 6zm-4 6zm-14 9zm-6-18zm-3 8zm-2 9zm654 344zm14 51z"/>
<path id="bs24" d="M1036 982z"/>
<path id="bd25" d="M436 1074zm1 5zm7 7zm2-3zm-4-10zm5-6zm-7-9zm734 318z"/>
<path id="bd26" d="M428 1076zm12 15z"/>
<path id="bd27" d="M437 1081z"/>
<path id="bs27" d="M458 1122z"/>
<path id="cd10" d="M921 1379zm-86-7zm49-79zm-6 177zm386-433zm94 12zm-176 485zm11-70zm-38-61zm-37-37z"/>
<path id="cs10" d="M846 453zm125 712zm67 47z"/>
<path id="cd11" d="M828 458zm-28 46zm31 34zm15 48zm9-8zm-23-27zm159 987zm-65-232zm-11 55zm27-9zm12 31zm-121-6zm60-17zm-17-23zm-76 70zm-49-71zm113-223zm149 133zm-42-88zm327-114zm40-1zm-50 46zm118 62zm-302 190zm-53 57zm-27 18zm83 71zm424-513zm-40-29zm42-26zm-2-54zm-166 107z"/>
<path id="cs11" d="M932 390zm84 12zm-154 55zm4 236zm141 745zm-11-377zm227 348zm136-622zm-124 191zm-172-24zm209-170z"/>
<path id="cd12" d="M798 474zm15-10zm163 1032zm-80-46zm127 19zm0-51zm-12-53zm-69-49zm8 38zm-111 22zm5-67zm6 126zm44-391zm63 129zm12 62zm20 19zm59-11zm5 19zm68 91zm-12-51zm-54 87zm-6-6zm-13-6zm-5 47zm43 10zm38 24zm56 89zm312-554zm33-92zm-342 76zm44-159zm-80-487zm-42-4z"/>
<path id="cs12" d="M927 509zm-77 85zm76 411zm84 487zm-154-23zm-16-393zm209 93zm118 108zm153-80zm107-405zm-92 68zm-219 35z"/>
<path id="cd13" d="M844 504zm62 919zm20-101zm-20 40zm34 2zm-71-80zm9 174zm1-416zm-41 225zm52-104zm24-7zm62 65zm-7-7zm-57-70zm-12-7zm337-92zm43 23zm163-41zm-265 460zm-2-118zm-50-74zm-70 20zm-18 51zm36 6zm-40 38zm18 38zm-8-5zm54 39zm-41 33zm498-615zm-4 9zm-24-12zm-143-12zm-261 57zm-46-606z"/>
<path id="cs13" d="M1021 272zm-22 26zm-8 122zm-129 44zm-39 672zm75 128zm92-102zm10-7zm102 37zm344-46zm-2-13zm-187 158zm-166 264zm283-710zm-85-16zm-178-416zm33-37zm0-128z"/>
<path id="cd14" d="M803 437zm152 1069zm-22-55zm-18-133zm2 13zm38 61zm-93-47zm-69 3zm115-168zm47-15zm7-38zm-44 16zm3-32zm124 121zm248 10zm-63 240zm-59 39zm-81-186zm-22 5zm7-23zm-3-18zm-6 212zm449-662zm-211 126zm-75-20zm-117 35zm18-74z"/>
<path id="cs14" d="M875 509zm-70 636zm23 30zm36 84zm294-161zm58 435zm-168-216zm230-468z"/>
<path id="cd15" d="M836 503zm167 1043zm-15-49zm-69-61zm79 33zm2-41zm12-145zm-94 63zm-76 49zm-51 24zm63-263zm107-39zm429-11zm19-76zm-309 371zm4-84zm-8 20zm-19 132zm66-39zm-37 88zm-49-25zm108-691z"/>
<path id="cs15" d="M779 450zm49 671zm-10-6zm197 67zm79-26zm137 277zm-57-148zm370-431zm-52-7zm-197 114zm-246 33zm72-511zm-13-212z"/>
<path id="cd16" d="M246 1028zm734 449zm9-80zm-42-103zm-15 83zm-68-25zm-37 9zm28-217zm153 127zm-49-129zm108 120zm34 14zm194-221zm-13 6zm145 30zm-331 314zm50-64zm-62 1zm-33 7zm11 97zm16-8zm17 110zm449-669zm-28 56zm-10-72zm24-3zm-173 100zm-39 11zm-75-32zm-99 6z"/>
<path id="cs16" d="M1004 312zm17 50zm-179 70zm36 830zm-46-75zm94 27zm77-62zm52-36zm203-132zm-194-17zm24-484zm55-96zm11-65zm22 5zm-118-91z"/>
<path id="cd17" d="M817 509zm-457 548zm635 348zm-54-42zm12 17zm-163-86zm8 92zm157-148zm37 25zm17 0zm9-26zm-46-102zm-65-74zm10 8zm-7-21zm197 210zm93 250zm-38-175zm-121 15zm36 65zm28 110zm-67-29zm499-584zm-17 49zm-174 23zm30-10z"/>
<path id="cs17" d="M840 493zm40 98zm-416 386zm-55-135zm-34 274zm438 16zm-10 58zm219-36zm22-68zm48 64zm306 7zm-174 246zm-15-40zm360-418zm-4-6zm-86-128zm-76 140zm-309-665z"/>
<path id="cd18" d="M796 442zm-435 588zm590 476zm21-165zm-97 33zm-44 40zm45 54zm-1-353zm82 112zm16 23zm34 2zm-40-97zm-47-35zm157 152zm31-16zm196-156zm73-42zm-13-26zm-198 367zm-37-27zm-64-29zm-3 19zm-28 38zm94 18zm-3 28zm6 26zm401-482zm-56-7zm-112-32zm-75 61zm-24-109zm-8-35z"/>
<path id="cs18" d="M489 987zm-90-159zm430 354zm71-29zm53 33zm-48 44zm78-55zm252 324zm-59-170zm-29 122zm341-536zm-73-99zm54 60zm-84 115zm-62-2zm-233-179z"/>
<path id="cd19" d="M797 537zm32 19zm109 859zm38-23zm45-84zm-57 29zm-39-3zm34 32zm-105-22zm31 75zm-24-277zm-25 110zm175-22zm-29-28zm-43-66zm227 93zm2-5zm239-105zm-63-78zm-218 348zm-44-43zm-31 107zm33-3zm14 21zm47 19zm-7 6zm-17 49zm324-585zm-2-26zm85-69zm-131 63zm-53 86zm-129-80z"/>
<path id="cs19" d="M959 376zm41 67zm-107 62zm-158 45zm259 464zm-546-12zm-92-22zm491 123zm-24-1zm33 96zm84-39zm9-63zm78 63zm434-55zm-261 316zm60-123zm297-426zm-96 49zm-273 24zm67-94zm-193-467zm-21-17zm-3-71z"/>
<path id="cd20" d="M852 507zm-60 30zm-386 414zm-9 152zm511 344zm96-31zm-6-28zm-38-2zm14-38zm26-63zm-52 45zm-16-9zm-8-38zm21 75zm-13 32zm-51-19zm12 94zm-147-83zm128-288zm84 154zm111-94zm-20 101zm265-178zm110 48zm-252 300zm49 29zm-192-98zm119 76zm-65 74zm-12-18zm-38 6zm391-562zm61 23zm47-48zm-163 28zm-25 8zm-106 10zm-99 58zm5-32zm7-706z"/>
<path id="cs20" d="M820 1206zm60 37zm72-35zm65-182zm328 53zm-117 359zm-67-144zm-51 265zm456-629zm-74-8zm-5-62zm23-50zm-140 185zm-336-716z"/>
<path id="cd21" d="M864 542zm13 1zm-521 551zm8-25zm619 380zm2-61zm12-53zm-143 21zm-70-43zm132-111zm30 52zm21 4zm-2-90zm2-60zm-43-40zm135 195zm366-202zm-82 204zm-208 141zm-68-121zm-37 116zm64 126zm348-504zm-20-67zm70-17zm-1-49zm-185 26zm77 60zm-208-56zm65-63z"/>
<path id="cs21" d="M1005 265zm-238 294zm72 130zm95 305zm83 504zm-165-246zm75-156zm51-47zm148 38zm-65 121zm43 31zm75 170zm31-83zm91-528zm-3 133zm-20 38zm-145-539zm-93-133zm-13-10z"/>
<path id="cd22" d="M819 528zm41 9zm-534 468zm-65 59zm646 433zm6-21zm44-27zm12-90zm-192-61zm577-214zm-8 188zm-214 115zm-11-19zm-70 11zm-22 36zm69 99zm458-595zm-143 82zm-1-5zm4-27zm2-37zm78 14zm-92 70zm-142-81zm-143-67z"/>
<path id="cs22" d="M855 459zm-80 29zm33 956zm9 11zm10-246zm-3 20zm86 34zm84-134zm101 89zm132-162zm116 28zm127-119zm5-92zm-200 119zm-246-720z"/>
<path id="cd23" d="M915 1211z"/>
<path id="cd24" d="M954 1428zm-14-178zm336-142zm45 154z"/>
<path id="cs24" d="M1092 962z"/>
<path id="cd25" d="M806 567zm137 937zm-10-23zm159 36zm452-634zm-192 42zm-156 47z"/>
<path id="cs25" d="M873 601zm146 931zm60-1265z"/>
<path id="cd26" d="M952 1114zm229-299z"/>
<path id="cs26" d="M982 280zm-147 151zm111 782zm251-262z"/>
<path id="cd27" d="M793 1385zm236 129zm502-576zm-13-14z"/>
<path id="cs27" d="M1490 930z"/>
</defs>
<g transform="translate(0 0)" clip-path="url(#pc)"><g transform="scale(0.5)" fill="none" stroke-linecap="round">
<g stroke-width="9.2"><use href="#ad0" stroke="#46075a"/><use href="#ad1" stroke="#481467"/><use href="#ad2" stroke="#482071"/><use href="#ad3" stroke="#472d7b"/><use href="#ad4" stroke="#453882"/><use href="#ad5" stroke="#414287"/><use href="#ad6" stroke="#3d4d8a"/><use href="#ad7" stroke="#39568c"/><use href="#ad8" stroke="#34608d"/><use href="#ad9" stroke="#30698e"/><use href="#ad10" stroke="#2c728e"/><use href="#ad11" stroke="#297b8e"/><use href="#ad12" stroke="#25838e"/><use href="#ad13" stroke="#228c8d"/><use href="#ad14" stroke="#1f948c"/><use href="#ad15" stroke="#1e9d89"/><use href="#ad16" stroke="#21a585"/><use href="#ad17" stroke="#28ae80"/><use href="#ad18" stroke="#34b679"/><use href="#ad19" stroke="#42be71"/><use href="#ad20" stroke="#54c568"/><use href="#ad21" stroke="#67cc5c"/><use href="#ad22" stroke="#7cd250"/><use href="#ad23" stroke="#93d741"/><use href="#ad24" stroke="#addc30"/><use href="#ad25" stroke="#c5e021"/><use href="#ad26" stroke="#dde318"/><use href="#ad27" stroke="#f4e61e"/></g>
<g stroke-width="7.0"><use href="#ad0" stroke="#46075a"/><use href="#as0" stroke="#46075a"/><use href="#ad1" stroke="#481467"/><use href="#as1" stroke="#481467"/><use href="#ad2" stroke="#482071"/><use href="#as2" stroke="#482071"/><use href="#ad3" stroke="#472d7b"/><use href="#as3" stroke="#472d7b"/><use href="#ad4" stroke="#453882"/><use href="#as4" stroke="#453882"/><use href="#ad5" stroke="#414287"/><use href="#as5" stroke="#414287"/><use href="#ad6" stroke="#3d4d8a"/><use href="#as6" stroke="#3d4d8a"/><use href="#ad7" stroke="#39568c"/><use href="#as7" stroke="#39568c"/><use href="#ad8" stroke="#34608d"/><use href="#as8" stroke="#34608d"/><use href="#ad9" stroke="#30698e"/><use href="#as9" stroke="#30698e"/><use href="#ad10" stroke="#2c728e"/><use href="#as10" stroke="#2c728e"/><use href="#ad11" stroke="#297b8e"/><use href="#as11" stroke="#297b8e"/><use href="#ad12" stroke="#25838e"/><use href="#as12" stroke="#25838e"/><use href="#ad13" stroke="#228c8d"/><use href="#as13" stroke="#228c8d"/><use href="#ad14" stroke="#1f948c"/><use href="#as14" stroke="#1f948c"/><use href="#ad15" stroke="#1e9d89"/><use href="#as15" stroke="#1e9d89"/><use href="#ad16" stroke="#21a585"/><use href="#as16" stroke="#21a585"/><use href="#ad17" stroke="#28ae80"/><use href="#as17" stroke="#28ae80"/><use href="#ad18" stroke="#34b679"/><use href="#as18" stroke="#34b679"/><use href="#ad19" stroke="#42be71"/><use href="#as19" stroke="#42be71"/><use href="#ad20" stroke="#54c568"/><use href="#as20" stroke="#54c568"/><use href="#ad21" stroke="#67cc5c"/><use href="#as21" stroke="#67cc5c"/><use href="#ad22" stroke="#7cd250"/><use href="#as22" stroke="#7cd250"/><use href="#ad23" stroke="#93d741"/><use href="#as23" stroke="#93d741"/><use href="#ad24" stroke="#addc30"/><use href="#as24" stroke="#addc30"/><use href="#ad25" stroke="#c5e021"/><use href="#as25" stroke="#c5e021"/><use href="#ad26" stroke="#dde318"/><use href="#ad27" stroke="#f4e61e"/><use href="#as27" stroke="#f4e61e"/>
</g></g></g>
<g transform="translate(980 0)" clip-path="url(#pc)"><g transform="scale(0.5)" fill="none" stroke-linecap="round">
<g stroke-width="9.2"><use href="#bd0" stroke="#46075a"/><use href="#bd1" stroke="#481467"/><use href="#bd2" stroke="#482071"/><use href="#bd3" stroke="#472d7b"/><use href="#bd4" stroke="#453882"/><use href="#bd5" stroke="#414287"/><use href="#bd6" stroke="#3d4d8a"/><use href="#bd7" stroke="#39568c"/><use href="#bd8" stroke="#34608d"/><use href="#bd9" stroke="#30698e"/><use href="#bd10" stroke="#2c728e"/><use href="#bd11" stroke="#297b8e"/><use href="#bd12" stroke="#25838e"/><use href="#bd13" stroke="#228c8d"/><use href="#bd14" stroke="#1f948c"/><use href="#bd15" stroke="#1e9d89"/><use href="#bd16" stroke="#21a585"/><use href="#bd17" stroke="#28ae80"/><use href="#bd18" stroke="#34b679"/><use href="#bd19" stroke="#42be71"/><use href="#bd20" stroke="#54c568"/><use href="#bd21" stroke="#67cc5c"/><use href="#bd22" stroke="#7cd250"/><use href="#bd23" stroke="#93d741"/><use href="#bd24" stroke="#addc30"/><use href="#bd25" stroke="#c5e021"/><use href="#bd26" stroke="#dde318"/><use href="#bd27" stroke="#f4e61e"/></g>
<g stroke-width="7.0"><use href="#bd0" stroke="#46075a"/><use href="#bs0" stroke="#46075a"/><use href="#bd1" stroke="#481467"/><use href="#bs1" stroke="#481467"/><use href="#bd2" stroke="#482071"/><use href="#bs2" stroke="#482071"/><use href="#bd3" stroke="#472d7b"/><use href="#bs3" stroke="#472d7b"/><use href="#bd4" stroke="#453882"/><use href="#bs4" stroke="#453882"/><use href="#bd5" stroke="#414287"/><use href="#bs5" stroke="#414287"/><use href="#bd6" stroke="#3d4d8a"/><use href="#bs6" stroke="#3d4d8a"/><use href="#bd7" stroke="#39568c"/><use href="#bs7" stroke="#39568c"/><use href="#bd8" stroke="#34608d"/><use href="#bs8" stroke="#34608d"/><use href="#bd9" stroke="#30698e"/><use href="#bs9" stroke="#30698e"/><use href="#bd10" stroke="#2c728e"/><use href="#bs10" stroke="#2c728e"/><use href="#bd11" stroke="#297b8e"/><use href="#bs11" stroke="#297b8e"/><use href="#bd12" stroke="#25838e"/><use href="#bs12" stroke="#25838e"/><use href="#bd13" stroke="#228c8d"/><use href="#bs13" stroke="#228c8d"/><use href="#bd14" stroke="#1f948c"/><use href="#bs14" stroke="#1f948c"/><use href="#bd15" stroke="#1e9d89"/><use href="#bs15" stroke="#1e9d89"/><use href="#bd16" stroke="#21a585"/><use href="#bs16" stroke="#21a585"/><use href="#bd17" stroke="#28ae80"/><use href="#bs17" stroke="#28ae80"/><use href="#bd18" stroke="#34b679"/><use href="#bs18" stroke="#34b679"/><use href="#bd19" stroke="#42be71"/><use href="#bs19" stroke="#42be71"/><use href="#bd20" stroke="#54c568"/><use href="#bs20" stroke="#54c568"/><use href="#bd21" stroke="#67cc5c"/><use href="#bs21" stroke="#67cc5c"/><use href="#bd22" stroke="#7cd250"/><use href="#bs22" stroke="#7cd250"/><use href="#bd23" stroke="#93d741"/><use href="#bs23" stroke="#93d741"/><use href="#bd24" stroke="#addc30"/><use href="#bs24" stroke="#addc30"/><use href="#bd25" stroke="#c5e021"/><use href="#bd26" stroke="#dde318"/><use href="#bd27" stroke="#f4e61e"/><use href="#bs27" stroke="#f4e61e"/>
</g></g></g>
<g transform="translate(1960 0)" clip-path="url(#pc)"><g transform="scale(0.5)" fill="none" stroke-linecap="round">
<g stroke-width="9.2"><use href="#ad0" stroke="#440154"/><use href="#ad1" stroke="#440154"/><use href="#ad2" stroke="#440154"/><use href="#ad3" stroke="#440154"/><use href="#ad4" stroke="#440154"/><use href="#ad5" stroke="#440154"/><use href="#ad6" stroke="#440154"/><use href="#ad7" stroke="#440154"/><use href="#ad8" stroke="#440154"/><use href="#ad9" stroke="#440154"/><use href="#ad10" stroke="#440154"/><use href="#ad11" stroke="#440154"/><use href="#ad12" stroke="#440154"/><use href="#ad13" stroke="#440154"/><use href="#ad14" stroke="#440154"/><use href="#ad15" stroke="#440154"/><use href="#ad16" stroke="#440154"/><use href="#ad17" stroke="#440154"/><use href="#ad18" stroke="#440154"/><use href="#ad19" stroke="#440154"/><use href="#ad20" stroke="#440154"/><use href="#ad21" stroke="#440154"/><use href="#ad22" stroke="#440154"/><use href="#ad23" stroke="#440154"/><use href="#ad24" stroke="#440154"/><use href="#ad25" stroke="#440154"/><use href="#ad26" stroke="#440154"/><use href="#ad27" stroke="#440154"/></g>
<g stroke-width="7.0"><use href="#ad0" stroke="#440154"/><use href="#as0" stroke="#440154"/><use href="#ad1" stroke="#440154"/><use href="#as1" stroke="#440154"/><use href="#ad2" stroke="#440154"/><use href="#as2" stroke="#440154"/><use href="#ad3" stroke="#440154"/><use href="#as3" stroke="#440154"/><use href="#ad4" stroke="#440154"/><use href="#as4" stroke="#440154"/><use href="#ad5" stroke="#440154"/><use href="#as5" stroke="#440154"/><use href="#ad6" stroke="#440154"/><use href="#as6" stroke="#440154"/><use href="#ad7" stroke="#440154"/><use href="#as7" stroke="#440154"/><use href="#ad8" stroke="#440154"/><use href="#as8" stroke="#440154"/><use href="#ad9" stroke="#440154"/><use href="#as9" stroke="#440154"/><use href="#ad10" stroke="#440154"/><use href="#as10" stroke="#440154"/><use href="#ad11" stroke="#440154"/><use href="#as11" stroke="#440154"/><use href="#ad12" stroke="#440154"/><use href="#as12" stroke="#440154"/><use href="#ad13" stroke="#440154"/><use href="#as13" stroke="#440154"/><use href="#ad14" stroke="#440154"/><use href="#as14" stroke="#440154"/><use href="#ad15" stroke="#440154"/><use href="#as15" stroke="#440154"/><use href="#ad16" stroke="#440154"/><use href="#as16" stroke="#440154"/><use href="#ad17" stroke="#440154"/><use href="#as17" stroke="#440154"/><use href="#ad18" stroke="#440154"/><use href="#as18" stroke="#440154"/><use href="#ad19" stroke="#440154"/><use href="#as19" stroke="#440154"/><use href="#ad20" stroke="#440154"/><use href="#as20" stroke="#440154"/><use href="#ad21" stroke="#440154"/><use href="#as21" stroke="#440154"/><use href="#ad22" stroke="#440154"/><use href="#as22" stroke="#440154"/><use href="#ad23" stroke="#440154"/><use href="#as23" stroke="#440154"/><use href="#ad24" stroke="#440154"/><use href="#as24" stroke="#440154"/><use href="#ad25" stroke="#440154"/><use href="#as25" stroke="#440154"/><use href="#ad26" stroke="#440154"/><use href="#ad27" stroke="#440154"/><use href="#as27" stroke="#440154"/>
<use href="#cd10" stroke="#2c728e"/><use href="#cs10" stroke="#2c728e"/><use href="#cd11" stroke="#297b8e"/><use href="#cs11" stroke="#297b8e"/><use href="#cd12" stroke="#25838e"/><use href="#cs12" stroke="#25838e"/><use href="#cd13" stroke="#228c8d"/><use href="#cs13" stroke="#228c8d"/><use href="#cd14" stroke="#1f948c"/><use href="#cs14" stroke="#1f948c"/><use href="#cd15" stroke="#1e9d89"/><use href="#cs15" stroke="#1e9d89"/><use href="#cd16" stroke="#21a585"/><use href="#cs16" stroke="#21a585"/><use href="#cd17" stroke="#28ae80"/><use href="#cs17" stroke="#28ae80"/><use href="#cd18" stroke="#34b679"/><use href="#cs18" stroke="#34b679"/><use href="#cd19" stroke="#42be71"/><use href="#cs19" stroke="#42be71"/><use href="#cd20" stroke="#54c568"/><use href="#cs20" stroke="#54c568"/><use href="#cd21" stroke="#67cc5c"/><use href="#cs21" stroke="#67cc5c"/><use href="#cd22" stroke="#7cd250"/><use href="#cs22" stroke="#7cd250"/><use href="#cd23" stroke="#93d741"/><use href="#cd24" stroke="#addc30"/><use href="#cs24" stroke="#addc30"/><use href="#cd25" stroke="#c5e021"/><use href="#cs25" stroke="#c5e021"/><use href="#cd26" stroke="#dde318"/><use href="#cs26" stroke="#dde318"/><use href="#cd27" stroke="#f4e61e"/><use href="#cs27" stroke="#f4e61e"/>
</g></g></g>
<text id="t0" x="248.8" y="59.3" textLength="405.4" lengthAdjust="spacingAndGlyphs">exhaustion_score</text>
<text id="x0" x="368.9" y="866.9" textLength="162.6" lengthAdjust="spacingAndGlyphs">UMAP1</text>
<text id="y0" x="62.5" y="535.5" textLength="161.7" lengthAdjust="spacingAndGlyphs" transform="rotate(-90 62.5 535.5)">UMAP2</text>
<text id="k0_0" x="877.6" y="112.5" textLength="72.7" lengthAdjust="spacingAndGlyphs">2.0</text>
<text id="k0_1" x="878.4" y="232.7" textLength="70.9" lengthAdjust="spacingAndGlyphs">1.5</text>
<text id="k0_2" x="878.3" y="352.9" textLength="72.0" lengthAdjust="spacingAndGlyphs">1.0</text>
<text id="k0_3" x="878.0" y="473.1" textLength="71.3" lengthAdjust="spacingAndGlyphs">0.5</text>
<text id="k0_4" x="878.0" y="593.2" textLength="72.4" lengthAdjust="spacingAndGlyphs">0.0</text>
<text id="k0_5" x="879.3" y="713.4" textLength="109.5" lengthAdjust="spacingAndGlyphs">−0.5</text>
<text id="k0_6" x="879.2" y="833.6" textLength="110.5" lengthAdjust="spacingAndGlyphs">−1.0</text>
<text id="t1" x="1251.5" y="59.0" textLength="359.1" lengthAdjust="spacingAndGlyphs">cytotoxic_score</text>
<text id="x1" x="1348.9" y="866.9" textLength="162.6" lengthAdjust="spacingAndGlyphs">UMAP1</text>
<text id="y1" x="1042.5" y="535.5" textLength="161.7" lengthAdjust="spacingAndGlyphs" transform="rotate(-90 1042.5 535.5)">UMAP2</text>
<text id="k1_0" x="1858.7" y="113.0" textLength="26.4" lengthAdjust="spacingAndGlyphs">3</text>
<text id="k1_1" x="1857.9" y="284.5" textLength="26.4" lengthAdjust="spacingAndGlyphs">2</text>
<text id="k1_2" x="1858.7" y="456.0" textLength="26.1" lengthAdjust="spacingAndGlyphs">1</text>
<text id="k1_3" x="1858.1" y="627.4" textLength="27.6" lengthAdjust="spacingAndGlyphs">0</text>
<text id="k1_4" x="1859.2" y="799.4" textLength="65.1" lengthAdjust="spacingAndGlyphs">−1</text>
<text id="t2" x="2219.2" y="59.0" textLength="382.4" lengthAdjust="spacingAndGlyphs">pdcd1_cd2_ratio</text>
<text id="x2" x="2328.9" y="866.9" textLength="162.6" lengthAdjust="spacingAndGlyphs">UMAP1</text>
<text id="y2" x="2022.5" y="535.5" textLength="161.7" lengthAdjust="spacingAndGlyphs" transform="rotate(-90 2022.5 535.5)">UMAP2</text>
<text id="k2_0" x="2838.7" y="232.6" textLength="26.4" lengthAdjust="spacingAndGlyphs">3</text>
<text id="k2_1" x="2837.9" y="433.6" textLength="26.4" lengthAdjust="spacingAndGlyphs">2</text>
<text id="k2_2" x="2838.7" y="634.6" textLength="26.1" lengthAdjust="spacingAndGlyphs">1</text>
<text id="k2_3" x="2838.1" y="835.6" textLength="27.6" lengthAdjust="spacingAndGlyphs">0</text>
<text id="off" x="2724.8" y="69.2" textLength="86.7" lengthAdjust="spacingAndGlyphs">1e6</text>
</svg></body></html>
